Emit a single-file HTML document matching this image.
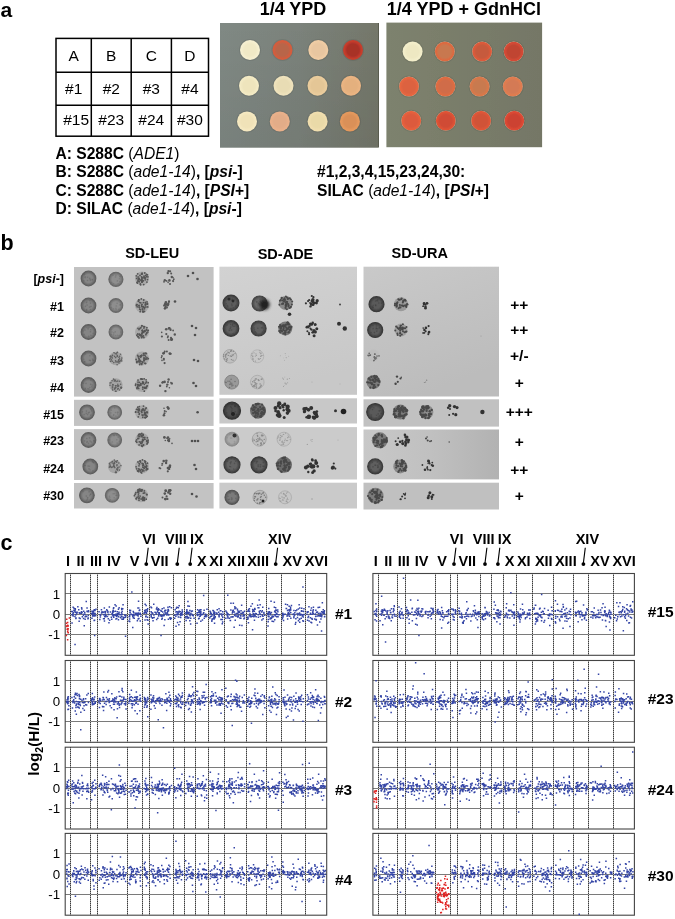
<!DOCTYPE html>
<html><head><meta charset="utf-8"><style>
html,body{margin:0;padding:0;background:#fff;width:675px;height:919px;overflow:hidden}
svg{display:block;will-change:transform;font-family:"Liberation Sans",sans-serif}
</style></head><body>
<svg width="675" height="919" viewBox="0 0 675 919">
<defs>
<linearGradient id="pl1" x1="0" y1="0" x2="1" y2="0"><stop offset="0" stop-color="#808984"/><stop offset="0.5" stop-color="#7b827b"/><stop offset="1" stop-color="#74776a"/></linearGradient>
<linearGradient id="pl1v" x1="0" y1="0" x2="0" y2="1"><stop offset="0" stop-color="#000" stop-opacity="0"/><stop offset="1" stop-color="#000" stop-opacity="0.06"/></linearGradient>
<linearGradient id="pl2" x1="0" y1="0" x2="1" y2="0"><stop offset="0" stop-color="#7d826e"/><stop offset="1" stop-color="#757766"/></linearGradient>
<filter id="soft" x="-5%" y="-5%" width="110%" height="110%"><feGaussianBlur stdDeviation="0.55"/></filter>
<filter id="soft2" x="-5%" y="-5%" width="110%" height="110%"><feGaussianBlur stdDeviation="0.4"/></filter>
<filter id="blob" x="-50%" y="-50%" width="200%" height="200%"><feGaussianBlur stdDeviation="1.6"/></filter>
<radialGradient id="c1"><stop offset="0" stop-color="#f0e9c6"/><stop offset="0.6" stop-color="#f0e9c6"/><stop offset="0.86" stop-color="#f5efd0"/><stop offset="1" stop-color="#f5efd0"/></radialGradient><radialGradient id="c2"><stop offset="0" stop-color="#b8654a"/><stop offset="0.6" stop-color="#b8654a"/><stop offset="0.86" stop-color="#d45c3c"/><stop offset="1" stop-color="#d45c3c"/></radialGradient><radialGradient id="c3"><stop offset="0" stop-color="#e8c6a0"/><stop offset="0.6" stop-color="#e8c6a0"/><stop offset="0.86" stop-color="#efcca4"/><stop offset="1" stop-color="#efcca4"/></radialGradient><radialGradient id="c4"><stop offset="0" stop-color="#a83028"/><stop offset="0.6" stop-color="#a83028"/><stop offset="0.86" stop-color="#c63c2c"/><stop offset="1" stop-color="#c63c2c"/></radialGradient><radialGradient id="c5"><stop offset="0" stop-color="#eee4bc"/><stop offset="0.6" stop-color="#eee4bc"/><stop offset="0.86" stop-color="#f3eac4"/><stop offset="1" stop-color="#f3eac4"/></radialGradient><radialGradient id="c6"><stop offset="0" stop-color="#e8dcb4"/><stop offset="0.6" stop-color="#e8dcb4"/><stop offset="0.86" stop-color="#eee2bc"/><stop offset="1" stop-color="#eee2bc"/></radialGradient><radialGradient id="c7"><stop offset="0" stop-color="#e4c696"/><stop offset="0.6" stop-color="#e4c696"/><stop offset="0.86" stop-color="#eacc9c"/><stop offset="1" stop-color="#eacc9c"/></radialGradient><radialGradient id="c8"><stop offset="0" stop-color="#e4b07e"/><stop offset="0.6" stop-color="#e4b07e"/><stop offset="0.86" stop-color="#eab482"/><stop offset="1" stop-color="#eab482"/></radialGradient><radialGradient id="c9"><stop offset="0" stop-color="#f0e2b8"/><stop offset="0.6" stop-color="#f0e2b8"/><stop offset="0.86" stop-color="#f5e8c0"/><stop offset="1" stop-color="#f5e8c0"/></radialGradient><radialGradient id="c10"><stop offset="0" stop-color="#e2ac88"/><stop offset="0.6" stop-color="#e2ac88"/><stop offset="0.86" stop-color="#e9b08a"/><stop offset="1" stop-color="#e9b08a"/></radialGradient><radialGradient id="c11"><stop offset="0" stop-color="#eadaa8"/><stop offset="0.6" stop-color="#eadaa8"/><stop offset="0.86" stop-color="#f0deae"/><stop offset="1" stop-color="#f0deae"/></radialGradient><radialGradient id="c12"><stop offset="0" stop-color="#da9058"/><stop offset="0.6" stop-color="#da9058"/><stop offset="0.86" stop-color="#e4985c"/><stop offset="1" stop-color="#e4985c"/></radialGradient><radialGradient id="c13"><stop offset="0" stop-color="#eee8c2"/><stop offset="0.6" stop-color="#eee8c2"/><stop offset="0.86" stop-color="#f3eeca"/><stop offset="1" stop-color="#f3eeca"/></radialGradient><radialGradient id="c14"><stop offset="0" stop-color="#c87850"/><stop offset="0.62" stop-color="#c87850"/><stop offset="0.84" stop-color="#dc6a40"/><stop offset="0.93" stop-color="#dc6a40"/><stop offset="1" stop-color="#e4a486"/></radialGradient><radialGradient id="c15"><stop offset="0" stop-color="#c65a3c"/><stop offset="0.62" stop-color="#c65a3c"/><stop offset="0.84" stop-color="#dc5a3a"/><stop offset="0.93" stop-color="#dc5a3a"/><stop offset="1" stop-color="#e4a486"/></radialGradient><radialGradient id="c16"><stop offset="0" stop-color="#c04432"/><stop offset="0.62" stop-color="#c04432"/><stop offset="0.84" stop-color="#d44a36"/><stop offset="0.93" stop-color="#d44a36"/><stop offset="1" stop-color="#e4a486"/></radialGradient><radialGradient id="c17"><stop offset="0" stop-color="#dc6240"/><stop offset="0.62" stop-color="#dc6240"/><stop offset="0.84" stop-color="#e66640"/><stop offset="0.93" stop-color="#e66640"/><stop offset="1" stop-color="#e4a486"/></radialGradient><radialGradient id="c18"><stop offset="0" stop-color="#d06c48"/><stop offset="0.62" stop-color="#d06c48"/><stop offset="0.84" stop-color="#de6c42"/><stop offset="0.93" stop-color="#de6c42"/><stop offset="1" stop-color="#e4a486"/></radialGradient><radialGradient id="c19"><stop offset="0" stop-color="#c87a50"/><stop offset="0.62" stop-color="#c87a50"/><stop offset="0.84" stop-color="#d8784a"/><stop offset="0.93" stop-color="#d8784a"/><stop offset="1" stop-color="#e4a486"/></radialGradient><radialGradient id="c20"><stop offset="0" stop-color="#d47a54"/><stop offset="0.62" stop-color="#d47a54"/><stop offset="0.84" stop-color="#e07c50"/><stop offset="0.93" stop-color="#e07c50"/><stop offset="1" stop-color="#e4a486"/></radialGradient><radialGradient id="c21"><stop offset="0" stop-color="#dc5a3c"/><stop offset="0.62" stop-color="#dc5a3c"/><stop offset="0.84" stop-color="#e6603c"/><stop offset="0.93" stop-color="#e6603c"/><stop offset="1" stop-color="#e4a486"/></radialGradient><radialGradient id="c22"><stop offset="0" stop-color="#d04c34"/><stop offset="0.62" stop-color="#d04c34"/><stop offset="0.84" stop-color="#de5236"/><stop offset="0.93" stop-color="#de5236"/><stop offset="1" stop-color="#e4a486"/></radialGradient><radialGradient id="c23"><stop offset="0" stop-color="#d05238"/><stop offset="0.62" stop-color="#d05238"/><stop offset="0.84" stop-color="#de5638"/><stop offset="0.93" stop-color="#de5638"/><stop offset="1" stop-color="#e4a486"/></radialGradient><radialGradient id="c24"><stop offset="0" stop-color="#cc4232"/><stop offset="0.62" stop-color="#cc4232"/><stop offset="0.84" stop-color="#dc4834"/><stop offset="0.93" stop-color="#dc4834"/><stop offset="1" stop-color="#e4a486"/></radialGradient><linearGradient id="ade1" x1="0" y1="0" x2="0.3" y2="1"><stop offset="0" stop-color="#d2d2d2"/><stop offset="1" stop-color="#c8c8c8"/></linearGradient><linearGradient id="ura1" x1="0" y1="0" x2="0.4" y2="1"><stop offset="0" stop-color="#c9c9c9"/><stop offset="1" stop-color="#bcbcbc"/></linearGradient><linearGradient id="ura3" x1="0" y1="0" x2="1" y2="0"><stop offset="0" stop-color="#c8c8c8"/><stop offset="0.5" stop-color="#c0c0c0"/><stop offset="1" stop-color="#b2b2b2"/></linearGradient><radialGradient id="sg0"><stop offset="0" stop-color="#858585"/><stop offset="0.55" stop-color="#858585"/><stop offset="1" stop-color="#5e5e5e"/></radialGradient><radialGradient id="sg1"><stop offset="0" stop-color="#8e8e8e"/><stop offset="0.55" stop-color="#8e8e8e"/><stop offset="1" stop-color="#686868"/></radialGradient><radialGradient id="sg2"><stop offset="0" stop-color="#5c5c5c"/><stop offset="0.55" stop-color="#5c5c5c"/><stop offset="1" stop-color="#3c3c3c"/></radialGradient><radialGradient id="sg3"><stop offset="0" stop-color="#6a6a6a"/><stop offset="0.55" stop-color="#6a6a6a"/><stop offset="1" stop-color="#444"/></radialGradient><radialGradient id="sg4"><stop offset="0" stop-color="#5e5e5e"/><stop offset="0.55" stop-color="#5e5e5e"/><stop offset="1" stop-color="#3a3a3a"/></radialGradient><radialGradient id="sg5"><stop offset="0" stop-color="#606060"/><stop offset="0.55" stop-color="#606060"/><stop offset="1" stop-color="#3c3c3c"/></radialGradient><radialGradient id="sg6"><stop offset="0" stop-color="#999"/><stop offset="0.55" stop-color="#999"/><stop offset="1" stop-color="#808080"/></radialGradient><radialGradient id="sg7"><stop offset="0" stop-color="#505050"/><stop offset="0.55" stop-color="#505050"/><stop offset="1" stop-color="#333"/></radialGradient><radialGradient id="sg8"><stop offset="0" stop-color="#a8a8a8"/><stop offset="0.55" stop-color="#a8a8a8"/><stop offset="1" stop-color="#888"/></radialGradient><radialGradient id="sg9"><stop offset="0" stop-color="#646464"/><stop offset="0.55" stop-color="#646464"/><stop offset="1" stop-color="#3c3c3c"/></radialGradient><radialGradient id="sg10"><stop offset="0" stop-color="#7a7a7a"/><stop offset="0.55" stop-color="#7a7a7a"/><stop offset="1" stop-color="#555"/></radialGradient><radialGradient id="sg11"><stop offset="0" stop-color="#5a5a5a"/><stop offset="0.55" stop-color="#5a5a5a"/><stop offset="1" stop-color="#3a3a3a"/></radialGradient><radialGradient id="sg12"><stop offset="0" stop-color="#5c5c5c"/><stop offset="0.55" stop-color="#5c5c5c"/><stop offset="1" stop-color="#3a3a3a"/></radialGradient><radialGradient id="sg13"><stop offset="0" stop-color="#5e5e5e"/><stop offset="0.55" stop-color="#5e5e5e"/><stop offset="1" stop-color="#3c3c3c"/></radialGradient>
</defs>
<text x="0.50" y="17.00" font-size="21" font-weight="bold" font-style="normal" text-anchor="start" fill="#000" >a</text>
<rect x="56" y="38.4" width="152.5" height="97.79999999999998" fill="none" stroke="#000" stroke-width="1.5"/>
<line x1="91.3" y1="38.4" x2="91.3" y2="136.2" stroke="#000" stroke-width="1.5"/>
<line x1="131.2" y1="38.4" x2="131.2" y2="136.2" stroke="#000" stroke-width="1.5"/>
<line x1="171.4" y1="38.4" x2="171.4" y2="136.2" stroke="#000" stroke-width="1.5"/>
<line x1="56" y1="72.2" x2="208.5" y2="72.2" stroke="#000" stroke-width="1.5"/>
<line x1="56" y1="105.2" x2="208.5" y2="105.2" stroke="#000" stroke-width="1.5"/>
<text x="73.65" y="61.40" font-size="15.5" font-weight="normal" font-style="normal" text-anchor="middle" fill="#000" >A</text>
<text x="111.25" y="61.40" font-size="15.5" font-weight="normal" font-style="normal" text-anchor="middle" fill="#000" >B</text>
<text x="151.30" y="61.40" font-size="15.5" font-weight="normal" font-style="normal" text-anchor="middle" fill="#000" >C</text>
<text x="189.95" y="61.40" font-size="15.5" font-weight="normal" font-style="normal" text-anchor="middle" fill="#000" >D</text>
<text x="73.65" y="94.10" font-size="15.5" font-weight="normal" font-style="normal" text-anchor="middle" fill="#000" >#1</text>
<text x="111.25" y="94.10" font-size="15.5" font-weight="normal" font-style="normal" text-anchor="middle" fill="#000" >#2</text>
<text x="151.30" y="94.10" font-size="15.5" font-weight="normal" font-style="normal" text-anchor="middle" fill="#000" >#3</text>
<text x="189.95" y="94.10" font-size="15.5" font-weight="normal" font-style="normal" text-anchor="middle" fill="#000" >#4</text>
<text x="76.15" y="125.10" font-size="15.5" font-weight="normal" font-style="normal" text-anchor="middle" fill="#000" >#15</text>
<text x="111.25" y="125.10" font-size="15.5" font-weight="normal" font-style="normal" text-anchor="middle" fill="#000" >#23</text>
<text x="151.30" y="125.10" font-size="15.5" font-weight="normal" font-style="normal" text-anchor="middle" fill="#000" >#24</text>
<text x="189.95" y="125.10" font-size="15.5" font-weight="normal" font-style="normal" text-anchor="middle" fill="#000" >#30</text>
<text x="55.5" y="158.5" font-size="15.6"><tspan font-weight="bold" font-style="normal">A: S288C </tspan><tspan font-weight="normal" font-style="normal">(</tspan><tspan font-weight="normal" font-style="italic">ADE1</tspan><tspan font-weight="normal" font-style="normal">)</tspan></text>
<text x="55.5" y="177.3" font-size="15.6"><tspan font-weight="bold" font-style="normal">B: S288C </tspan><tspan font-weight="normal" font-style="normal">(</tspan><tspan font-weight="normal" font-style="italic">ade1-14</tspan><tspan font-weight="normal" font-style="normal">)</tspan><tspan font-weight="bold" font-style="normal">, [</tspan><tspan font-weight="bold" font-style="italic">psi</tspan><tspan font-weight="bold" font-style="normal">-]</tspan></text>
<text x="55.5" y="195.8" font-size="15.6"><tspan font-weight="bold" font-style="normal">C: S288C </tspan><tspan font-weight="normal" font-style="normal">(</tspan><tspan font-weight="normal" font-style="italic">ade1-14</tspan><tspan font-weight="normal" font-style="normal">)</tspan><tspan font-weight="bold" font-style="normal">, [</tspan><tspan font-weight="bold" font-style="italic">PSI</tspan><tspan font-weight="bold" font-style="normal">+]</tspan></text>
<text x="55.5" y="214.2" font-size="15.6"><tspan font-weight="bold" font-style="normal">D: SILAC </tspan><tspan font-weight="normal" font-style="normal">(</tspan><tspan font-weight="normal" font-style="italic">ade1-14</tspan><tspan font-weight="normal" font-style="normal">)</tspan><tspan font-weight="bold" font-style="normal">, [</tspan><tspan font-weight="bold" font-style="italic">psi</tspan><tspan font-weight="bold" font-style="normal">-]</tspan></text>
<text x="317" y="177" font-size="15.6"><tspan font-weight="bold" font-style="normal">#1,2,3,4,15,23,24,30:</tspan></text>
<text x="317" y="195.6" font-size="15.6"><tspan font-weight="bold" font-style="normal">SILAC </tspan><tspan font-weight="normal" font-style="normal">(</tspan><tspan font-weight="normal" font-style="italic">ade1-14</tspan><tspan font-weight="normal" font-style="normal">)</tspan><tspan font-weight="bold" font-style="normal">, [</tspan><tspan font-weight="bold" font-style="italic">PSI</tspan><tspan font-weight="bold" font-style="normal">+]</tspan></text>
<text x="293.00" y="14.70" font-size="18" font-weight="bold" font-style="normal" text-anchor="middle" fill="#000" >1/4 YPD</text>
<text x="463.80" y="14.70" font-size="18" font-weight="bold" font-style="normal" text-anchor="middle" fill="#000" >1/4 YPD + GdnHCl</text>
<g filter="url(#soft)">
<rect x="220" y="23" width="158.8" height="124.7" fill="url(#pl1)"/>
<rect x="220" y="23" width="158.8" height="124.7" fill="url(#pl1v)"/>
<rect x="386.4" y="22.6" width="155.7" height="124.6" fill="url(#pl2)"/>
<line x1="378.5" y1="23" x2="378.5" y2="147" stroke="#5a5c50" stroke-width="1"/>
<circle cx="250" cy="50" r="11" fill="#000" fill-opacity="0.08"/>
<circle cx="250" cy="50" r="10" fill="url(#c1)"/>
<circle cx="282.5" cy="50" r="11" fill="#000" fill-opacity="0.08"/>
<circle cx="282.5" cy="50" r="10" fill="url(#c2)"/>
<circle cx="318.3" cy="50" r="11" fill="#000" fill-opacity="0.08"/>
<circle cx="318.3" cy="50" r="10" fill="url(#c3)"/>
<circle cx="353" cy="50" r="11" fill="#000" fill-opacity="0.08"/>
<circle cx="353" cy="50" r="10" fill="url(#c4)"/>
<circle cx="249" cy="85.8" r="11" fill="#000" fill-opacity="0.08"/>
<circle cx="249" cy="85.8" r="10" fill="url(#c5)"/>
<circle cx="283.5" cy="85.8" r="11" fill="#000" fill-opacity="0.08"/>
<circle cx="283.5" cy="85.8" r="10" fill="url(#c6)"/>
<circle cx="317.5" cy="85.8" r="11" fill="#000" fill-opacity="0.08"/>
<circle cx="317.5" cy="85.8" r="10" fill="url(#c7)"/>
<circle cx="351" cy="85.8" r="11" fill="#000" fill-opacity="0.08"/>
<circle cx="351" cy="85.8" r="10" fill="url(#c8)"/>
<circle cx="247" cy="121.4" r="11" fill="#000" fill-opacity="0.08"/>
<circle cx="247" cy="121.4" r="10" fill="url(#c9)"/>
<circle cx="279.8" cy="121.4" r="11" fill="#000" fill-opacity="0.08"/>
<circle cx="279.8" cy="121.4" r="10" fill="url(#c10)"/>
<circle cx="317.6" cy="121.4" r="11" fill="#000" fill-opacity="0.08"/>
<circle cx="317.6" cy="121.4" r="10" fill="url(#c11)"/>
<circle cx="349.9" cy="121.4" r="11" fill="#000" fill-opacity="0.08"/>
<circle cx="349.9" cy="121.4" r="10" fill="url(#c12)"/>
<circle cx="412.6" cy="51.6" r="11" fill="#000" fill-opacity="0.08"/>
<circle cx="412.6" cy="51.6" r="10" fill="url(#c13)"/>
<circle cx="444.8" cy="51.6" r="11" fill="#000" fill-opacity="0.08"/>
<circle cx="444.8" cy="51.6" r="10" fill="url(#c14)"/>
<circle cx="482.1" cy="51.6" r="11" fill="#000" fill-opacity="0.08"/>
<circle cx="482.1" cy="51.6" r="10" fill="url(#c15)"/>
<circle cx="513.7" cy="51.6" r="11" fill="#000" fill-opacity="0.08"/>
<circle cx="513.7" cy="51.6" r="10" fill="url(#c16)"/>
<circle cx="409" cy="86.6" r="11" fill="#000" fill-opacity="0.08"/>
<circle cx="409" cy="86.6" r="10" fill="url(#c17)"/>
<circle cx="445.4" cy="86.6" r="11" fill="#000" fill-opacity="0.08"/>
<circle cx="445.4" cy="86.6" r="10" fill="url(#c18)"/>
<circle cx="479.6" cy="86.6" r="11" fill="#000" fill-opacity="0.08"/>
<circle cx="479.6" cy="86.6" r="10" fill="url(#c19)"/>
<circle cx="512.8" cy="86.6" r="11" fill="#000" fill-opacity="0.08"/>
<circle cx="512.8" cy="86.6" r="10" fill="url(#c20)"/>
<circle cx="411.2" cy="120.8" r="11" fill="#000" fill-opacity="0.08"/>
<circle cx="411.2" cy="120.8" r="10" fill="url(#c21)"/>
<circle cx="445.8" cy="120.8" r="11" fill="#000" fill-opacity="0.08"/>
<circle cx="445.8" cy="120.8" r="10" fill="url(#c22)"/>
<circle cx="481.1" cy="120.8" r="11" fill="#000" fill-opacity="0.08"/>
<circle cx="481.1" cy="120.8" r="10" fill="url(#c23)"/>
<circle cx="514.3" cy="120.8" r="11" fill="#000" fill-opacity="0.08"/>
<circle cx="514.3" cy="120.8" r="10" fill="url(#c24)"/>
</g>
<text x="0.50" y="250.00" font-size="21.5" font-weight="bold" font-style="normal" text-anchor="start" fill="#000" >b</text>
<text x="152.20" y="258.20" font-size="14.5" font-weight="bold" font-style="normal" text-anchor="middle" fill="#000" >SD-LEU</text>
<text x="285.50" y="258.70" font-size="14.5" font-weight="bold" font-style="normal" text-anchor="middle" fill="#000" >SD-ADE</text>
<text x="419.80" y="257.80" font-size="14.5" font-weight="bold" font-style="normal" text-anchor="middle" fill="#000" >SD-URA</text>
<rect x="74" y="267" width="139.6" height="129.60000000000002" fill="#c2c2c2"/>
<rect x="74" y="399.8" width="139.6" height="26.099999999999966" fill="#c3c3c3"/>
<rect x="74" y="429.1" width="139.6" height="50.89999999999998" fill="#c2c2c2"/>
<rect x="74" y="483" width="139.6" height="25.5" fill="#c3c3c3"/>
<rect x="219.4" y="266.7" width="137.6" height="128.10000000000002" fill="url(#ade1)"/>
<rect x="219.4" y="398.3" width="137.6" height="25.19999999999999" fill="#c8c8c8"/>
<rect x="219.4" y="427.1" width="137.6" height="52.39999999999998" fill="#cbcbcb"/>
<rect x="219.4" y="482.7" width="137.6" height="25.80000000000001" fill="#cacaca"/>
<rect x="363.5" y="266.7" width="135.5" height="129.8" fill="url(#ura1)"/>
<rect x="363.5" y="399.3" width="135.5" height="27.30000000000001" fill="#c1c1c1"/>
<rect x="363.5" y="429.5" width="135.5" height="49.89999999999998" fill="url(#ura3)"/>
<rect x="363.5" y="482.7" width="135.5" height="26.80000000000001" fill="#c0c0c0"/>
<text x="64.00" y="282.80" font-size="12.5" font-weight="bold" font-style="normal" text-anchor="end" fill="#000" >[<tspan font-style="italic">psi</tspan>-]</text>
<text x="64.00" y="311.10" font-size="12.5" font-weight="bold" font-style="normal" text-anchor="end" fill="#000" >#1</text>
<text x="64.00" y="336.80" font-size="12.5" font-weight="bold" font-style="normal" text-anchor="end" fill="#000" >#2</text>
<text x="64.00" y="364.80" font-size="12.5" font-weight="bold" font-style="normal" text-anchor="end" fill="#000" >#3</text>
<text x="64.00" y="391.60" font-size="12.5" font-weight="bold" font-style="normal" text-anchor="end" fill="#000" >#4</text>
<text x="64.00" y="418.60" font-size="12.5" font-weight="bold" font-style="normal" text-anchor="end" fill="#000" >#15</text>
<text x="64.00" y="444.80" font-size="12.5" font-weight="bold" font-style="normal" text-anchor="end" fill="#000" >#23</text>
<text x="64.00" y="472.80" font-size="12.5" font-weight="bold" font-style="normal" text-anchor="end" fill="#000" >#24</text>
<text x="64.00" y="499.50" font-size="12.5" font-weight="bold" font-style="normal" text-anchor="end" fill="#000" >#30</text>
<text x="519.30" y="310.00" font-size="15.5" font-weight="bold" font-style="normal" text-anchor="middle" fill="#000" >++</text>
<text x="519.30" y="335.20" font-size="15.5" font-weight="bold" font-style="normal" text-anchor="middle" fill="#000" >++</text>
<text x="519.30" y="360.70" font-size="15.5" font-weight="bold" font-style="normal" text-anchor="middle" fill="#000" >+/-</text>
<text x="519.30" y="387.50" font-size="15.5" font-weight="bold" font-style="normal" text-anchor="middle" fill="#000" >+</text>
<text x="519.30" y="417.30" font-size="15.5" font-weight="bold" font-style="normal" text-anchor="middle" fill="#000" >+++</text>
<text x="519.30" y="447.30" font-size="15.5" font-weight="bold" font-style="normal" text-anchor="middle" fill="#000" >+</text>
<text x="519.30" y="474.90" font-size="15.5" font-weight="bold" font-style="normal" text-anchor="middle" fill="#000" >++</text>
<text x="519.30" y="501.00" font-size="15.5" font-weight="bold" font-style="normal" text-anchor="middle" fill="#000" >+</text>
<g filter="url(#soft2)">
<circle cx="88.5" cy="278.5" r="7.3" fill="url(#sg0)" stroke="#5e5e5e" stroke-width="1.2"/>
<g fill="#5e5e5e" fill-opacity="0.45"><circle cx="87.5" cy="280.5" r="0.8"/><circle cx="87.6" cy="277.2" r="0.8"/><circle cx="85.1" cy="277.7" r="0.8"/><circle cx="92.4" cy="280.0" r="0.8"/><circle cx="92.2" cy="279.4" r="0.8"/><circle cx="90.1" cy="279.2" r="0.8"/><circle cx="83.8" cy="280.9" r="0.8"/><circle cx="90.5" cy="280.4" r="0.8"/><circle cx="84.5" cy="274.4" r="0.8"/><circle cx="85.2" cy="276.8" r="0.8"/><circle cx="89.7" cy="278.3" r="0.8"/></g>
<circle cx="88.5" cy="305.5" r="7.3" fill="url(#sg0)" stroke="#5e5e5e" stroke-width="1.2"/>
<g fill="#5e5e5e" fill-opacity="0.45"><circle cx="90.5" cy="303.1" r="0.8"/><circle cx="89.7" cy="307.1" r="0.8"/><circle cx="86.6" cy="310.4" r="0.8"/><circle cx="90.4" cy="309.5" r="0.8"/><circle cx="86.2" cy="302.8" r="0.8"/><circle cx="87.1" cy="305.1" r="0.8"/><circle cx="91.0" cy="306.5" r="0.8"/><circle cx="86.9" cy="302.0" r="0.8"/><circle cx="86.7" cy="309.6" r="0.8"/><circle cx="85.4" cy="306.4" r="0.8"/><circle cx="89.8" cy="300.8" r="0.8"/></g>
<circle cx="88.5" cy="332" r="7.3" fill="url(#sg0)" stroke="#5e5e5e" stroke-width="1.2"/>
<g fill="#5e5e5e" fill-opacity="0.45"><circle cx="88.7" cy="336.4" r="0.8"/><circle cx="83.1" cy="331.1" r="0.8"/><circle cx="88.1" cy="328.9" r="0.8"/><circle cx="90.5" cy="331.8" r="0.8"/><circle cx="84.1" cy="334.5" r="0.8"/><circle cx="90.9" cy="335.3" r="0.8"/><circle cx="93.1" cy="333.2" r="0.8"/><circle cx="88.9" cy="327.6" r="0.8"/><circle cx="90.8" cy="329.7" r="0.8"/><circle cx="87.0" cy="327.8" r="0.8"/><circle cx="85.0" cy="330.1" r="0.8"/></g>
<circle cx="88.5" cy="358.5" r="7.3" fill="url(#sg0)" stroke="#5e5e5e" stroke-width="1.2"/>
<g fill="#5e5e5e" fill-opacity="0.45"><circle cx="91.5" cy="353.7" r="0.8"/><circle cx="83.8" cy="359.3" r="0.8"/><circle cx="93.0" cy="360.3" r="0.8"/><circle cx="85.0" cy="353.9" r="0.8"/><circle cx="89.9" cy="355.7" r="0.8"/><circle cx="84.9" cy="361.6" r="0.8"/><circle cx="92.4" cy="359.1" r="0.8"/><circle cx="89.5" cy="360.2" r="0.8"/><circle cx="93.3" cy="360.4" r="0.8"/><circle cx="90.5" cy="360.6" r="0.8"/><circle cx="84.3" cy="362.0" r="0.8"/></g>
<circle cx="88.5" cy="385" r="7.3" fill="url(#sg0)" stroke="#5e5e5e" stroke-width="1.2"/>
<g fill="#5e5e5e" fill-opacity="0.45"><circle cx="91.9" cy="386.9" r="0.8"/><circle cx="83.3" cy="383.3" r="0.8"/><circle cx="90.8" cy="380.1" r="0.8"/><circle cx="87.8" cy="388.7" r="0.8"/><circle cx="85.0" cy="389.3" r="0.8"/><circle cx="90.7" cy="384.4" r="0.8"/><circle cx="89.8" cy="387.5" r="0.8"/><circle cx="88.9" cy="389.0" r="0.8"/><circle cx="86.0" cy="383.4" r="0.8"/><circle cx="92.3" cy="385.1" r="0.8"/><circle cx="85.5" cy="388.2" r="0.8"/></g>
<circle cx="87.0" cy="412.3" r="7.3" fill="url(#sg0)" stroke="#5e5e5e" stroke-width="1.2"/>
<g fill="#5e5e5e" fill-opacity="0.45"><circle cx="91.6" cy="410.9" r="0.8"/><circle cx="82.4" cy="411.9" r="0.8"/><circle cx="86.4" cy="411.1" r="0.8"/><circle cx="91.2" cy="409.3" r="0.8"/><circle cx="90.7" cy="408.6" r="0.8"/><circle cx="84.1" cy="414.6" r="0.8"/><circle cx="90.7" cy="415.1" r="0.8"/><circle cx="88.4" cy="412.9" r="0.8"/><circle cx="87.6" cy="414.6" r="0.8"/><circle cx="86.3" cy="413.4" r="0.8"/><circle cx="89.3" cy="412.3" r="0.8"/></g>
<circle cx="88.5" cy="440" r="7.3" fill="url(#sg0)" stroke="#5e5e5e" stroke-width="1.2"/>
<g fill="#5e5e5e" fill-opacity="0.45"><circle cx="91.3" cy="442.1" r="0.8"/><circle cx="93.9" cy="440.9" r="0.8"/><circle cx="86.8" cy="438.5" r="0.8"/><circle cx="88.5" cy="443.4" r="0.8"/><circle cx="87.2" cy="441.5" r="0.8"/><circle cx="91.9" cy="435.3" r="0.8"/><circle cx="84.5" cy="440.9" r="0.8"/><circle cx="90.1" cy="441.0" r="0.8"/><circle cx="86.8" cy="442.5" r="0.8"/><circle cx="89.6" cy="437.9" r="0.8"/><circle cx="94.1" cy="440.8" r="0.8"/></g>
<circle cx="90.3" cy="466.5" r="7.3" fill="url(#sg0)" stroke="#5e5e5e" stroke-width="1.2"/>
<g fill="#5e5e5e" fill-opacity="0.45"><circle cx="88.1" cy="466.1" r="0.8"/><circle cx="89.4" cy="466.2" r="0.8"/><circle cx="84.6" cy="465.5" r="0.8"/><circle cx="93.5" cy="462.8" r="0.8"/><circle cx="90.1" cy="470.0" r="0.8"/><circle cx="92.9" cy="470.9" r="0.8"/><circle cx="85.3" cy="465.5" r="0.8"/><circle cx="89.0" cy="468.9" r="0.8"/><circle cx="92.5" cy="461.1" r="0.8"/><circle cx="93.5" cy="462.3" r="0.8"/><circle cx="92.4" cy="461.9" r="0.8"/></g>
<circle cx="86.9" cy="495.3" r="7.3" fill="url(#sg0)" stroke="#5e5e5e" stroke-width="1.2"/>
<g fill="#5e5e5e" fill-opacity="0.45"><circle cx="87.5" cy="499.5" r="0.8"/><circle cx="86.3" cy="496.1" r="0.8"/><circle cx="89.9" cy="495.8" r="0.8"/><circle cx="86.6" cy="500.2" r="0.8"/><circle cx="90.7" cy="494.2" r="0.8"/><circle cx="92.3" cy="493.1" r="0.8"/><circle cx="90.3" cy="494.3" r="0.8"/><circle cx="87.4" cy="498.0" r="0.8"/><circle cx="87.8" cy="497.8" r="0.8"/><circle cx="83.0" cy="491.4" r="0.8"/><circle cx="89.1" cy="491.9" r="0.8"/></g>
<circle cx="115.9" cy="279.3" r="7" fill="url(#sg1)" stroke="#686868" stroke-width="1.2"/>
<g fill="#686868" fill-opacity="0.45"><circle cx="113.0" cy="275.2" r="0.8"/><circle cx="119.8" cy="281.6" r="0.8"/><circle cx="120.1" cy="276.6" r="0.8"/><circle cx="115.9" cy="275.4" r="0.8"/><circle cx="118.1" cy="283.8" r="0.8"/><circle cx="113.4" cy="283.7" r="0.8"/><circle cx="119.4" cy="278.7" r="0.8"/><circle cx="111.5" cy="282.5" r="0.8"/><circle cx="115.5" cy="277.0" r="0.8"/><circle cx="117.4" cy="280.9" r="0.8"/><circle cx="120.1" cy="276.5" r="0.8"/></g>
<circle cx="115.9" cy="305.5" r="6.8" fill="url(#sg1)" stroke="#686868" stroke-width="1.2"/>
<g fill="#686868" fill-opacity="0.45"><circle cx="118.9" cy="309.4" r="0.8"/><circle cx="120.3" cy="305.0" r="0.8"/><circle cx="113.5" cy="308.8" r="0.8"/><circle cx="116.3" cy="306.0" r="0.8"/><circle cx="120.2" cy="304.7" r="0.8"/><circle cx="110.7" cy="304.6" r="0.8"/><circle cx="111.3" cy="307.6" r="0.8"/><circle cx="117.1" cy="303.3" r="0.8"/><circle cx="115.9" cy="308.4" r="0.8"/><circle cx="116.1" cy="309.7" r="0.8"/></g>
<circle cx="115.9" cy="332" r="6.8" fill="url(#sg1)" stroke="#686868" stroke-width="1.2"/>
<g fill="#686868" fill-opacity="0.45"><circle cx="115.7" cy="335.5" r="0.8"/><circle cx="119.4" cy="335.8" r="0.8"/><circle cx="113.7" cy="334.9" r="0.8"/><circle cx="111.4" cy="329.4" r="0.8"/><circle cx="111.3" cy="334.5" r="0.8"/><circle cx="111.9" cy="332.0" r="0.8"/><circle cx="115.2" cy="331.9" r="0.8"/><circle cx="113.7" cy="332.9" r="0.8"/><circle cx="120.8" cy="332.1" r="0.8"/><circle cx="117.7" cy="335.3" r="0.8"/></g>
<circle cx="115.9" cy="358.5" r="6.8" fill="#a4a4a4"/>
<g fill="#606060"><circle cx="115.2" cy="353.7" r="0.8"/><circle cx="113.8" cy="362.6" r="0.8"/><circle cx="110.5" cy="356.5" r="0.8"/><circle cx="119.7" cy="361.5" r="0.8"/><circle cx="115.9" cy="361.9" r="0.8"/><circle cx="116.5" cy="353.9" r="0.8"/><circle cx="110.7" cy="356.4" r="0.8"/><circle cx="119.6" cy="356.3" r="0.8"/><circle cx="112.4" cy="355.5" r="0.8"/><circle cx="110.5" cy="358.1" r="0.8"/><circle cx="111.4" cy="359.9" r="0.8"/><circle cx="109.7" cy="359.4" r="0.8"/><circle cx="114.0" cy="352.8" r="0.8"/><circle cx="119.0" cy="357.3" r="0.8"/><circle cx="110.1" cy="356.2" r="0.8"/><circle cx="117.2" cy="356.5" r="0.8"/><circle cx="119.0" cy="361.5" r="0.8"/><circle cx="118.7" cy="359.9" r="0.8"/><circle cx="120.6" cy="360.8" r="0.8"/><circle cx="117.2" cy="352.5" r="0.8"/><circle cx="119.0" cy="363.0" r="0.8"/><circle cx="114.6" cy="356.4" r="0.8"/><circle cx="120.6" cy="354.2" r="0.8"/><circle cx="117.1" cy="364.7" r="0.8"/><circle cx="112.3" cy="361.2" r="0.8"/><circle cx="121.8" cy="358.1" r="0.8"/><circle cx="118.1" cy="362.1" r="0.8"/><circle cx="112.2" cy="358.1" r="0.8"/><circle cx="117.1" cy="361.9" r="0.8"/><circle cx="115.7" cy="357.6" r="0.8"/><circle cx="111.9" cy="357.1" r="0.8"/><circle cx="119.6" cy="358.9" r="0.8"/><circle cx="112.6" cy="355.3" r="0.8"/><circle cx="121.8" cy="361.0" r="0.8"/><circle cx="117.4" cy="352.3" r="0.8"/><circle cx="118.5" cy="360.5" r="0.8"/><circle cx="121.4" cy="359.9" r="0.8"/><circle cx="115.6" cy="360.8" r="0.8"/><circle cx="110.5" cy="361.4" r="0.8"/><circle cx="117.3" cy="355.5" r="0.8"/></g>
<circle cx="115.9" cy="385" r="6.8" fill="#a4a4a4"/>
<g fill="#606060"><circle cx="119.6" cy="390.0" r="0.8"/><circle cx="111.0" cy="382.7" r="0.8"/><circle cx="117.2" cy="385.8" r="0.8"/><circle cx="114.3" cy="381.1" r="0.8"/><circle cx="121.5" cy="387.7" r="0.8"/><circle cx="112.1" cy="380.7" r="0.8"/><circle cx="121.1" cy="388.0" r="0.8"/><circle cx="121.4" cy="387.4" r="0.8"/><circle cx="112.3" cy="386.1" r="0.8"/><circle cx="110.0" cy="383.0" r="0.8"/><circle cx="115.6" cy="387.3" r="0.8"/><circle cx="112.8" cy="384.5" r="0.8"/><circle cx="117.9" cy="386.6" r="0.8"/><circle cx="118.7" cy="385.9" r="0.8"/><circle cx="114.5" cy="388.3" r="0.8"/><circle cx="116.1" cy="381.5" r="0.8"/><circle cx="113.2" cy="385.0" r="0.8"/><circle cx="115.4" cy="385.7" r="0.8"/><circle cx="115.9" cy="385.8" r="0.8"/><circle cx="115.4" cy="380.2" r="0.8"/><circle cx="117.6" cy="389.1" r="0.8"/><circle cx="117.8" cy="384.2" r="0.8"/><circle cx="117.7" cy="381.1" r="0.8"/><circle cx="110.0" cy="385.2" r="0.8"/><circle cx="112.3" cy="387.9" r="0.8"/><circle cx="113.5" cy="379.1" r="0.8"/><circle cx="112.7" cy="389.9" r="0.8"/><circle cx="114.5" cy="380.0" r="0.8"/><circle cx="112.8" cy="387.1" r="0.8"/><circle cx="118.1" cy="385.8" r="0.8"/><circle cx="120.9" cy="387.4" r="0.8"/><circle cx="115.8" cy="387.6" r="0.8"/><circle cx="121.0" cy="388.0" r="0.8"/><circle cx="119.5" cy="381.2" r="0.8"/><circle cx="115.3" cy="388.1" r="0.8"/><circle cx="114.7" cy="389.2" r="0.8"/><circle cx="118.3" cy="388.6" r="0.8"/><circle cx="115.4" cy="391.3" r="0.8"/><circle cx="120.6" cy="384.2" r="0.8"/><circle cx="116.1" cy="391.3" r="0.8"/></g>
<circle cx="114.7" cy="412.3" r="6.8" fill="url(#sg1)" stroke="#686868" stroke-width="1.2"/>
<g fill="#686868" fill-opacity="0.45"><circle cx="113.5" cy="415.3" r="0.8"/><circle cx="118.1" cy="412.3" r="0.8"/><circle cx="110.9" cy="412.9" r="0.8"/><circle cx="115.9" cy="416.0" r="0.8"/><circle cx="117.5" cy="412.4" r="0.8"/><circle cx="117.6" cy="414.1" r="0.8"/><circle cx="115.5" cy="412.5" r="0.8"/><circle cx="113.8" cy="414.8" r="0.8"/><circle cx="111.3" cy="410.3" r="0.8"/><circle cx="114.7" cy="407.9" r="0.8"/></g>
<circle cx="114.7" cy="440" r="6.8" fill="url(#sg1)" stroke="#686868" stroke-width="1.2"/>
<g fill="#686868" fill-opacity="0.45"><circle cx="113.6" cy="435.0" r="0.8"/><circle cx="112.3" cy="442.0" r="0.8"/><circle cx="116.8" cy="439.8" r="0.8"/><circle cx="114.0" cy="435.7" r="0.8"/><circle cx="119.5" cy="441.4" r="0.8"/><circle cx="118.1" cy="437.3" r="0.8"/><circle cx="114.2" cy="435.1" r="0.8"/><circle cx="117.2" cy="443.0" r="0.8"/><circle cx="109.7" cy="439.9" r="0.8"/><circle cx="116.4" cy="435.3" r="0.8"/></g>
<circle cx="114.7" cy="466.5" r="6.8" fill="#a4a4a4"/>
<g fill="#606060"><circle cx="109.4" cy="463.4" r="0.8"/><circle cx="112.5" cy="461.6" r="0.8"/><circle cx="114.8" cy="467.6" r="0.8"/><circle cx="117.3" cy="469.4" r="0.8"/><circle cx="119.4" cy="470.1" r="0.8"/><circle cx="109.9" cy="464.7" r="0.8"/><circle cx="111.0" cy="462.7" r="0.8"/><circle cx="114.3" cy="466.5" r="0.8"/><circle cx="116.3" cy="461.2" r="0.8"/><circle cx="110.0" cy="466.4" r="0.8"/><circle cx="113.8" cy="465.1" r="0.8"/><circle cx="114.4" cy="463.3" r="0.8"/><circle cx="117.7" cy="468.0" r="0.8"/><circle cx="114.3" cy="463.6" r="0.8"/><circle cx="114.3" cy="460.1" r="0.8"/><circle cx="110.7" cy="466.7" r="0.8"/><circle cx="109.4" cy="467.2" r="0.8"/><circle cx="115.2" cy="461.5" r="0.8"/><circle cx="113.6" cy="465.1" r="0.8"/><circle cx="116.7" cy="469.1" r="0.8"/><circle cx="114.5" cy="462.9" r="0.8"/><circle cx="114.0" cy="466.2" r="0.8"/><circle cx="117.8" cy="467.7" r="0.8"/><circle cx="112.2" cy="461.8" r="0.8"/><circle cx="113.1" cy="463.4" r="0.8"/><circle cx="110.3" cy="466.0" r="0.8"/><circle cx="112.5" cy="467.0" r="0.8"/><circle cx="117.0" cy="464.7" r="0.8"/><circle cx="120.9" cy="465.6" r="0.8"/><circle cx="119.1" cy="467.0" r="0.8"/><circle cx="117.4" cy="460.7" r="0.8"/><circle cx="111.5" cy="467.5" r="0.8"/><circle cx="116.3" cy="472.6" r="0.8"/><circle cx="115.9" cy="471.3" r="0.8"/><circle cx="117.6" cy="470.1" r="0.8"/><circle cx="116.9" cy="465.8" r="0.8"/><circle cx="116.7" cy="462.3" r="0.8"/><circle cx="118.8" cy="463.0" r="0.8"/><circle cx="115.4" cy="472.6" r="0.8"/><circle cx="113.7" cy="466.6" r="0.8"/></g>
<circle cx="112.2" cy="495.3" r="6.8" fill="url(#sg1)" stroke="#686868" stroke-width="1.2"/>
<g fill="#686868" fill-opacity="0.45"><circle cx="116.0" cy="495.4" r="0.8"/><circle cx="109.4" cy="496.2" r="0.8"/><circle cx="114.2" cy="497.8" r="0.8"/><circle cx="110.2" cy="499.9" r="0.8"/><circle cx="116.9" cy="495.4" r="0.8"/><circle cx="113.2" cy="493.7" r="0.8"/><circle cx="116.3" cy="493.2" r="0.8"/><circle cx="114.6" cy="493.6" r="0.8"/><circle cx="109.8" cy="497.8" r="0.8"/><circle cx="116.4" cy="495.3" r="0.8"/></g>
<circle cx="142" cy="278.5" r="7" fill="#a8a8a8"/>
<g fill="#555"><circle cx="139.2" cy="281.8" r="0.9"/><circle cx="141.8" cy="279.9" r="0.9"/><circle cx="146.9" cy="282.1" r="0.9"/><circle cx="140.6" cy="284.8" r="0.9"/><circle cx="142.0" cy="281.9" r="0.9"/><circle cx="139.1" cy="278.3" r="0.9"/><circle cx="137.5" cy="283.1" r="0.9"/><circle cx="146.5" cy="274.5" r="0.9"/><circle cx="137.7" cy="273.8" r="0.9"/><circle cx="146.6" cy="276.7" r="0.9"/><circle cx="141.7" cy="277.0" r="0.9"/><circle cx="141.5" cy="274.1" r="0.9"/><circle cx="142.1" cy="273.2" r="0.9"/><circle cx="141.7" cy="279.9" r="0.9"/><circle cx="144.1" cy="277.4" r="0.9"/><circle cx="138.2" cy="279.2" r="0.9"/><circle cx="140.3" cy="284.0" r="0.9"/><circle cx="145.4" cy="278.0" r="0.9"/><circle cx="140.0" cy="275.5" r="0.9"/><circle cx="138.1" cy="277.0" r="0.9"/><circle cx="143.3" cy="280.8" r="0.9"/><circle cx="143.7" cy="284.6" r="0.9"/><circle cx="138.9" cy="278.6" r="0.9"/><circle cx="147.5" cy="274.8" r="0.9"/><circle cx="139.6" cy="279.3" r="0.9"/><circle cx="142.7" cy="280.4" r="0.9"/><circle cx="140.9" cy="280.2" r="0.9"/><circle cx="142.2" cy="281.9" r="0.9"/><circle cx="136.3" cy="275.8" r="0.9"/><circle cx="142.0" cy="274.2" r="0.9"/><circle cx="137.9" cy="281.0" r="0.9"/><circle cx="139.2" cy="281.2" r="0.9"/><circle cx="145.2" cy="279.8" r="0.9"/><circle cx="144.3" cy="278.0" r="0.9"/><circle cx="136.7" cy="278.4" r="0.9"/><circle cx="144.0" cy="276.2" r="0.9"/><circle cx="141.6" cy="281.8" r="0.9"/><circle cx="138.4" cy="281.1" r="0.9"/><circle cx="147.9" cy="276.8" r="0.9"/><circle cx="142.7" cy="277.8" r="0.9"/><circle cx="147.5" cy="279.6" r="0.9"/><circle cx="145.6" cy="275.7" r="0.9"/><circle cx="141.9" cy="278.5" r="0.9"/><circle cx="137.0" cy="282.5" r="0.9"/><circle cx="144.8" cy="273.0" r="0.9"/></g>
<circle cx="142" cy="305.5" r="7" fill="#a8a8a8"/>
<g fill="#555"><circle cx="145.3" cy="304.9" r="0.9"/><circle cx="144.0" cy="307.2" r="0.9"/><circle cx="136.6" cy="304.7" r="0.9"/><circle cx="147.3" cy="303.5" r="0.9"/><circle cx="138.5" cy="300.9" r="0.9"/><circle cx="137.2" cy="306.8" r="0.9"/><circle cx="147.7" cy="306.9" r="0.9"/><circle cx="142.7" cy="311.8" r="0.9"/><circle cx="139.8" cy="302.6" r="0.9"/><circle cx="144.3" cy="307.9" r="0.9"/><circle cx="138.4" cy="301.3" r="0.9"/><circle cx="143.3" cy="306.6" r="0.9"/><circle cx="137.0" cy="304.7" r="0.9"/><circle cx="139.6" cy="307.5" r="0.9"/><circle cx="141.5" cy="305.1" r="0.9"/><circle cx="140.6" cy="309.8" r="0.9"/><circle cx="147.2" cy="304.1" r="0.9"/><circle cx="145.4" cy="302.4" r="0.9"/><circle cx="142.3" cy="308.8" r="0.9"/><circle cx="147.4" cy="304.1" r="0.9"/><circle cx="141.7" cy="306.4" r="0.9"/><circle cx="136.5" cy="305.6" r="0.9"/><circle cx="139.0" cy="307.1" r="0.9"/><circle cx="138.8" cy="299.9" r="0.9"/><circle cx="142.2" cy="306.7" r="0.9"/><circle cx="139.7" cy="309.2" r="0.9"/><circle cx="140.8" cy="302.8" r="0.9"/><circle cx="143.7" cy="300.0" r="0.9"/><circle cx="139.0" cy="305.4" r="0.9"/><circle cx="145.6" cy="304.8" r="0.9"/><circle cx="143.4" cy="302.6" r="0.9"/><circle cx="143.0" cy="311.2" r="0.9"/><circle cx="140.2" cy="311.7" r="0.9"/><circle cx="139.1" cy="305.6" r="0.9"/><circle cx="142.7" cy="309.7" r="0.9"/><circle cx="138.7" cy="299.9" r="0.9"/><circle cx="144.5" cy="308.8" r="0.9"/><circle cx="143.5" cy="311.9" r="0.9"/><circle cx="143.0" cy="306.7" r="0.9"/><circle cx="145.9" cy="307.0" r="0.9"/><circle cx="147.0" cy="301.8" r="0.9"/><circle cx="141.3" cy="298.9" r="0.9"/><circle cx="145.5" cy="303.9" r="0.9"/><circle cx="144.5" cy="311.4" r="0.9"/><circle cx="142.0" cy="304.3" r="0.9"/></g>
<circle cx="142" cy="332" r="7" fill="#a8a8a8"/>
<g fill="#555"><circle cx="139.9" cy="328.5" r="0.9"/><circle cx="139.3" cy="334.7" r="0.9"/><circle cx="142.2" cy="332.3" r="0.9"/><circle cx="141.3" cy="335.9" r="0.9"/><circle cx="144.2" cy="331.4" r="0.9"/><circle cx="145.0" cy="331.3" r="0.9"/><circle cx="138.3" cy="336.7" r="0.9"/><circle cx="143.9" cy="328.1" r="0.9"/><circle cx="146.4" cy="333.4" r="0.9"/><circle cx="137.6" cy="336.6" r="0.9"/><circle cx="143.4" cy="335.8" r="0.9"/><circle cx="142.9" cy="331.3" r="0.9"/><circle cx="136.9" cy="335.2" r="0.9"/><circle cx="142.1" cy="330.7" r="0.9"/><circle cx="143.6" cy="332.4" r="0.9"/><circle cx="145.0" cy="330.4" r="0.9"/><circle cx="141.9" cy="325.7" r="0.9"/><circle cx="140.2" cy="334.9" r="0.9"/><circle cx="147.0" cy="330.6" r="0.9"/><circle cx="141.6" cy="337.6" r="0.9"/><circle cx="140.6" cy="335.2" r="0.9"/><circle cx="147.8" cy="332.1" r="0.9"/><circle cx="146.6" cy="329.3" r="0.9"/><circle cx="143.0" cy="331.6" r="0.9"/><circle cx="142.5" cy="336.6" r="0.9"/><circle cx="148.3" cy="330.3" r="0.9"/><circle cx="139.5" cy="334.2" r="0.9"/><circle cx="137.8" cy="334.0" r="0.9"/><circle cx="144.6" cy="330.8" r="0.9"/><circle cx="143.9" cy="326.6" r="0.9"/><circle cx="144.6" cy="326.8" r="0.9"/><circle cx="139.0" cy="329.6" r="0.9"/><circle cx="140.3" cy="335.6" r="0.9"/><circle cx="142.4" cy="330.2" r="0.9"/><circle cx="143.9" cy="337.5" r="0.9"/><circle cx="142.0" cy="333.7" r="0.9"/><circle cx="146.8" cy="333.0" r="0.9"/><circle cx="139.0" cy="337.9" r="0.9"/><circle cx="146.9" cy="327.6" r="0.9"/><circle cx="141.8" cy="333.9" r="0.9"/><circle cx="145.9" cy="334.7" r="0.9"/><circle cx="140.9" cy="327.7" r="0.9"/><circle cx="142.4" cy="336.3" r="0.9"/><circle cx="138.0" cy="328.3" r="0.9"/><circle cx="141.9" cy="325.9" r="0.9"/></g>
<circle cx="142" cy="358.5" r="7" fill="#a8a8a8"/>
<g fill="#555"><circle cx="140.8" cy="356.5" r="0.9"/><circle cx="143.9" cy="355.5" r="0.9"/><circle cx="138.3" cy="356.8" r="0.9"/><circle cx="141.8" cy="355.5" r="0.9"/><circle cx="142.1" cy="361.8" r="0.9"/><circle cx="145.6" cy="363.6" r="0.9"/><circle cx="138.7" cy="356.7" r="0.9"/><circle cx="136.7" cy="362.5" r="0.9"/><circle cx="138.8" cy="358.4" r="0.9"/><circle cx="143.9" cy="353.5" r="0.9"/><circle cx="144.1" cy="358.4" r="0.9"/><circle cx="136.1" cy="359.5" r="0.9"/><circle cx="145.4" cy="353.1" r="0.9"/><circle cx="145.5" cy="359.4" r="0.9"/><circle cx="144.1" cy="360.5" r="0.9"/><circle cx="147.0" cy="357.6" r="0.9"/><circle cx="145.7" cy="356.8" r="0.9"/><circle cx="145.0" cy="355.2" r="0.9"/><circle cx="141.6" cy="364.4" r="0.9"/><circle cx="144.0" cy="357.8" r="0.9"/><circle cx="137.7" cy="355.5" r="0.9"/><circle cx="142.8" cy="362.5" r="0.9"/><circle cx="143.9" cy="360.8" r="0.9"/><circle cx="141.8" cy="363.6" r="0.9"/><circle cx="140.3" cy="356.1" r="0.9"/><circle cx="145.8" cy="358.8" r="0.9"/><circle cx="140.8" cy="355.9" r="0.9"/><circle cx="140.9" cy="361.3" r="0.9"/><circle cx="143.4" cy="353.8" r="0.9"/><circle cx="144.0" cy="359.3" r="0.9"/><circle cx="138.1" cy="361.5" r="0.9"/><circle cx="140.7" cy="357.0" r="0.9"/><circle cx="144.9" cy="363.2" r="0.9"/><circle cx="139.0" cy="360.4" r="0.9"/><circle cx="139.7" cy="364.6" r="0.9"/><circle cx="140.1" cy="363.1" r="0.9"/><circle cx="139.3" cy="361.9" r="0.9"/><circle cx="146.4" cy="353.5" r="0.9"/><circle cx="140.1" cy="360.7" r="0.9"/><circle cx="141.6" cy="355.5" r="0.9"/><circle cx="148.3" cy="358.7" r="0.9"/><circle cx="136.7" cy="361.3" r="0.9"/><circle cx="136.8" cy="362.0" r="0.9"/><circle cx="139.4" cy="359.2" r="0.9"/><circle cx="146.9" cy="359.0" r="0.9"/></g>
<circle cx="142" cy="385" r="7" fill="#a8a8a8"/>
<g fill="#555"><circle cx="138.0" cy="380.1" r="0.9"/><circle cx="146.4" cy="387.8" r="0.9"/><circle cx="138.7" cy="388.4" r="0.9"/><circle cx="144.2" cy="387.8" r="0.9"/><circle cx="135.7" cy="384.2" r="0.9"/><circle cx="145.6" cy="387.9" r="0.9"/><circle cx="144.2" cy="378.8" r="0.9"/><circle cx="142.8" cy="387.2" r="0.9"/><circle cx="148.2" cy="382.7" r="0.9"/><circle cx="140.5" cy="385.2" r="0.9"/><circle cx="145.7" cy="383.1" r="0.9"/><circle cx="146.3" cy="382.0" r="0.9"/><circle cx="143.2" cy="382.6" r="0.9"/><circle cx="142.7" cy="381.9" r="0.9"/><circle cx="137.0" cy="388.5" r="0.9"/><circle cx="143.4" cy="382.5" r="0.9"/><circle cx="142.8" cy="389.1" r="0.9"/><circle cx="137.9" cy="384.5" r="0.9"/><circle cx="144.4" cy="387.3" r="0.9"/><circle cx="141.0" cy="378.8" r="0.9"/><circle cx="146.8" cy="386.3" r="0.9"/><circle cx="142.1" cy="383.7" r="0.9"/><circle cx="143.2" cy="383.1" r="0.9"/><circle cx="138.0" cy="382.1" r="0.9"/><circle cx="139.4" cy="382.4" r="0.9"/><circle cx="137.6" cy="387.4" r="0.9"/><circle cx="137.2" cy="387.4" r="0.9"/><circle cx="137.8" cy="386.4" r="0.9"/><circle cx="147.2" cy="385.8" r="0.9"/><circle cx="138.8" cy="385.2" r="0.9"/><circle cx="142.5" cy="379.1" r="0.9"/><circle cx="139.3" cy="385.7" r="0.9"/><circle cx="139.9" cy="385.4" r="0.9"/><circle cx="145.0" cy="388.2" r="0.9"/><circle cx="145.7" cy="387.4" r="0.9"/><circle cx="140.7" cy="384.9" r="0.9"/><circle cx="140.8" cy="383.6" r="0.9"/><circle cx="141.4" cy="379.2" r="0.9"/><circle cx="140.5" cy="384.9" r="0.9"/><circle cx="137.9" cy="384.9" r="0.9"/><circle cx="144.3" cy="384.3" r="0.9"/><circle cx="146.1" cy="379.8" r="0.9"/><circle cx="141.3" cy="379.0" r="0.9"/><circle cx="144.3" cy="391.2" r="0.9"/><circle cx="135.5" cy="385.3" r="0.9"/></g>
<circle cx="142" cy="412.3" r="7" fill="#a8a8a8"/>
<g fill="#555"><circle cx="144.3" cy="410.9" r="0.9"/><circle cx="143.5" cy="406.1" r="0.9"/><circle cx="145.6" cy="413.9" r="0.9"/><circle cx="142.1" cy="409.7" r="0.9"/><circle cx="144.8" cy="410.2" r="0.9"/><circle cx="143.0" cy="410.0" r="0.9"/><circle cx="135.6" cy="412.2" r="0.9"/><circle cx="142.9" cy="415.6" r="0.9"/><circle cx="138.2" cy="412.2" r="0.9"/><circle cx="144.8" cy="413.0" r="0.9"/><circle cx="145.4" cy="417.8" r="0.9"/><circle cx="139.3" cy="406.6" r="0.9"/><circle cx="144.9" cy="417.4" r="0.9"/><circle cx="145.6" cy="415.5" r="0.9"/><circle cx="139.4" cy="409.3" r="0.9"/><circle cx="145.5" cy="408.8" r="0.9"/><circle cx="136.5" cy="409.3" r="0.9"/><circle cx="147.2" cy="416.3" r="0.9"/><circle cx="139.1" cy="409.3" r="0.9"/><circle cx="143.0" cy="409.0" r="0.9"/><circle cx="147.0" cy="412.0" r="0.9"/><circle cx="138.3" cy="416.8" r="0.9"/><circle cx="139.4" cy="413.3" r="0.9"/><circle cx="141.9" cy="410.8" r="0.9"/><circle cx="143.4" cy="409.3" r="0.9"/><circle cx="137.8" cy="407.2" r="0.9"/><circle cx="137.4" cy="409.5" r="0.9"/><circle cx="141.9" cy="412.6" r="0.9"/><circle cx="144.5" cy="412.8" r="0.9"/><circle cx="138.7" cy="409.4" r="0.9"/><circle cx="135.7" cy="411.8" r="0.9"/><circle cx="144.1" cy="414.6" r="0.9"/><circle cx="141.4" cy="411.5" r="0.9"/><circle cx="146.0" cy="412.4" r="0.9"/><circle cx="145.1" cy="414.8" r="0.9"/><circle cx="142.8" cy="417.3" r="0.9"/><circle cx="139.5" cy="410.7" r="0.9"/><circle cx="138.7" cy="409.1" r="0.9"/><circle cx="146.3" cy="417.1" r="0.9"/><circle cx="142.1" cy="414.9" r="0.9"/><circle cx="146.4" cy="415.3" r="0.9"/><circle cx="146.1" cy="408.0" r="0.9"/><circle cx="139.2" cy="414.3" r="0.9"/><circle cx="147.3" cy="412.7" r="0.9"/><circle cx="138.4" cy="410.8" r="0.9"/></g>
<circle cx="142" cy="440" r="7" fill="#a8a8a8"/>
<g fill="#555"><circle cx="139.3" cy="436.5" r="0.9"/><circle cx="147.3" cy="437.8" r="0.9"/><circle cx="142.1" cy="446.3" r="0.9"/><circle cx="146.7" cy="441.3" r="0.9"/><circle cx="139.3" cy="441.8" r="0.9"/><circle cx="147.5" cy="442.1" r="0.9"/><circle cx="146.9" cy="440.4" r="0.9"/><circle cx="144.3" cy="439.1" r="0.9"/><circle cx="143.6" cy="444.9" r="0.9"/><circle cx="136.7" cy="439.8" r="0.9"/><circle cx="143.1" cy="437.4" r="0.9"/><circle cx="140.7" cy="443.4" r="0.9"/><circle cx="148.0" cy="441.9" r="0.9"/><circle cx="143.2" cy="434.5" r="0.9"/><circle cx="148.1" cy="440.2" r="0.9"/><circle cx="141.9" cy="435.5" r="0.9"/><circle cx="141.8" cy="435.5" r="0.9"/><circle cx="142.3" cy="442.1" r="0.9"/><circle cx="142.1" cy="441.3" r="0.9"/><circle cx="139.1" cy="444.9" r="0.9"/><circle cx="139.9" cy="434.2" r="0.9"/><circle cx="141.2" cy="436.7" r="0.9"/><circle cx="137.9" cy="438.5" r="0.9"/><circle cx="143.2" cy="435.3" r="0.9"/><circle cx="141.5" cy="445.3" r="0.9"/><circle cx="145.0" cy="439.3" r="0.9"/><circle cx="142.6" cy="439.4" r="0.9"/><circle cx="141.8" cy="443.2" r="0.9"/><circle cx="141.8" cy="433.5" r="0.9"/><circle cx="141.9" cy="436.2" r="0.9"/><circle cx="144.8" cy="437.4" r="0.9"/><circle cx="142.4" cy="446.3" r="0.9"/><circle cx="138.2" cy="435.9" r="0.9"/><circle cx="138.7" cy="434.3" r="0.9"/><circle cx="136.0" cy="441.2" r="0.9"/><circle cx="140.0" cy="434.2" r="0.9"/><circle cx="136.8" cy="442.2" r="0.9"/><circle cx="138.7" cy="438.4" r="0.9"/><circle cx="143.2" cy="445.1" r="0.9"/><circle cx="147.6" cy="443.0" r="0.9"/><circle cx="142.7" cy="440.9" r="0.9"/><circle cx="147.0" cy="444.0" r="0.9"/><circle cx="140.6" cy="442.1" r="0.9"/><circle cx="143.3" cy="440.2" r="0.9"/><circle cx="140.1" cy="435.0" r="0.9"/></g>
<circle cx="142" cy="466.5" r="7" fill="#a8a8a8"/>
<g fill="#555"><circle cx="140.1" cy="461.1" r="0.9"/><circle cx="146.7" cy="468.6" r="0.9"/><circle cx="138.1" cy="471.1" r="0.9"/><circle cx="144.7" cy="460.8" r="0.9"/><circle cx="147.7" cy="469.0" r="0.9"/><circle cx="147.5" cy="463.2" r="0.9"/><circle cx="144.4" cy="468.4" r="0.9"/><circle cx="142.9" cy="467.3" r="0.9"/><circle cx="145.5" cy="461.6" r="0.9"/><circle cx="138.0" cy="462.0" r="0.9"/><circle cx="139.6" cy="463.9" r="0.9"/><circle cx="143.7" cy="467.7" r="0.9"/><circle cx="142.1" cy="463.5" r="0.9"/><circle cx="140.2" cy="470.4" r="0.9"/><circle cx="145.3" cy="466.9" r="0.9"/><circle cx="140.9" cy="472.0" r="0.9"/><circle cx="139.5" cy="469.3" r="0.9"/><circle cx="146.6" cy="465.4" r="0.9"/><circle cx="145.1" cy="462.3" r="0.9"/><circle cx="146.2" cy="467.3" r="0.9"/><circle cx="136.6" cy="468.8" r="0.9"/><circle cx="138.8" cy="471.1" r="0.9"/><circle cx="139.0" cy="465.8" r="0.9"/><circle cx="143.3" cy="465.0" r="0.9"/><circle cx="143.2" cy="464.0" r="0.9"/><circle cx="145.0" cy="466.5" r="0.9"/><circle cx="142.5" cy="459.9" r="0.9"/><circle cx="146.7" cy="466.6" r="0.9"/><circle cx="136.1" cy="466.8" r="0.9"/><circle cx="143.9" cy="470.8" r="0.9"/><circle cx="138.5" cy="471.5" r="0.9"/><circle cx="141.6" cy="472.9" r="0.9"/><circle cx="141.4" cy="469.5" r="0.9"/><circle cx="140.5" cy="462.0" r="0.9"/><circle cx="146.1" cy="469.9" r="0.9"/><circle cx="147.2" cy="469.4" r="0.9"/><circle cx="140.1" cy="460.9" r="0.9"/><circle cx="139.2" cy="463.6" r="0.9"/><circle cx="138.6" cy="468.9" r="0.9"/><circle cx="143.5" cy="465.3" r="0.9"/><circle cx="142.8" cy="465.8" r="0.9"/><circle cx="142.9" cy="469.8" r="0.9"/><circle cx="145.8" cy="463.8" r="0.9"/><circle cx="137.5" cy="470.8" r="0.9"/><circle cx="142.5" cy="471.0" r="0.9"/></g>
<circle cx="141" cy="495.3" r="7" fill="#a8a8a8"/>
<g fill="#555"><circle cx="135.3" cy="494.2" r="0.9"/><circle cx="141.1" cy="490.0" r="0.9"/><circle cx="138.8" cy="498.4" r="0.9"/><circle cx="144.4" cy="500.4" r="0.9"/><circle cx="138.0" cy="490.4" r="0.9"/><circle cx="143.1" cy="499.2" r="0.9"/><circle cx="141.7" cy="490.3" r="0.9"/><circle cx="144.2" cy="498.5" r="0.9"/><circle cx="143.4" cy="493.2" r="0.9"/><circle cx="142.3" cy="498.7" r="0.9"/><circle cx="139.2" cy="489.5" r="0.9"/><circle cx="142.5" cy="497.5" r="0.9"/><circle cx="141.1" cy="499.1" r="0.9"/><circle cx="138.4" cy="494.9" r="0.9"/><circle cx="139.6" cy="497.9" r="0.9"/><circle cx="146.6" cy="494.4" r="0.9"/><circle cx="146.2" cy="499.2" r="0.9"/><circle cx="144.3" cy="497.8" r="0.9"/><circle cx="146.9" cy="494.7" r="0.9"/><circle cx="140.5" cy="490.9" r="0.9"/><circle cx="142.8" cy="500.3" r="0.9"/><circle cx="143.4" cy="497.2" r="0.9"/><circle cx="140.1" cy="496.1" r="0.9"/><circle cx="136.2" cy="498.8" r="0.9"/><circle cx="139.4" cy="490.9" r="0.9"/><circle cx="138.0" cy="492.0" r="0.9"/><circle cx="144.2" cy="499.3" r="0.9"/><circle cx="136.3" cy="498.5" r="0.9"/><circle cx="144.7" cy="492.9" r="0.9"/><circle cx="135.9" cy="492.7" r="0.9"/><circle cx="138.2" cy="496.8" r="0.9"/><circle cx="139.9" cy="489.2" r="0.9"/><circle cx="141.8" cy="489.8" r="0.9"/><circle cx="144.3" cy="490.9" r="0.9"/><circle cx="138.2" cy="491.8" r="0.9"/><circle cx="139.0" cy="500.2" r="0.9"/><circle cx="144.5" cy="497.8" r="0.9"/><circle cx="142.1" cy="489.8" r="0.9"/><circle cx="138.7" cy="492.9" r="0.9"/><circle cx="137.0" cy="497.4" r="0.9"/><circle cx="137.9" cy="492.4" r="0.9"/><circle cx="138.1" cy="489.6" r="0.9"/><circle cx="143.2" cy="500.2" r="0.9"/><circle cx="141.7" cy="491.2" r="0.9"/><circle cx="134.4" cy="495.7" r="0.9"/></g>
<g fill="#555"><circle cx="173.8" cy="279.2" r="0.9"/><circle cx="170.1" cy="271.3" r="1.1"/><circle cx="173.1" cy="281.1" r="1.1"/><circle cx="167.8" cy="273.1" r="1.2"/><circle cx="171.2" cy="273.6" r="1.0"/><circle cx="171.8" cy="277.0" r="1.2"/><circle cx="164.0" cy="281.8" r="0.9"/><circle cx="173.0" cy="277.6" r="0.8"/><circle cx="168.1" cy="282.4" r="0.8"/><circle cx="164.8" cy="280.2" r="1.2"/><circle cx="166.6" cy="280.9" r="0.9"/><circle cx="168.4" cy="271.2" r="1.1"/><circle cx="170.0" cy="284.1" r="1.0"/><circle cx="169.4" cy="280.4" r="1.3"/></g>
<g fill="#555"><circle cx="169.0" cy="301.3" r="1.1"/><circle cx="165.3" cy="304.1" r="1.4"/><circle cx="165.1" cy="308.2" r="1.3"/><circle cx="168.9" cy="301.9" r="1.0"/><circle cx="165.8" cy="304.5" r="1.3"/><circle cx="164.7" cy="308.6" r="0.9"/><circle cx="165.7" cy="306.8" r="1.1"/><circle cx="167.6" cy="305.2" r="1.2"/><circle cx="167.0" cy="307.4" r="1.0"/><circle cx="164.3" cy="305.4" r="1.2"/><circle cx="165.9" cy="302.5" r="1.4"/><circle cx="168.2" cy="304.1" r="1.3"/></g>
<g fill="#555"><circle cx="173.1" cy="330.5" r="0.9"/><circle cx="170.7" cy="329.1" r="0.8"/><circle cx="174.8" cy="334.5" r="1.2"/><circle cx="168.0" cy="336.2" r="0.9"/><circle cx="168.6" cy="340.1" r="1.0"/><circle cx="171.8" cy="339.4" r="1.3"/><circle cx="171.3" cy="339.7" r="1.2"/><circle cx="169.1" cy="328.4" r="1.4"/><circle cx="169.5" cy="327.8" r="0.9"/><circle cx="166.2" cy="329.2" r="1.3"/><circle cx="161.9" cy="336.5" r="1.1"/><circle cx="167.7" cy="337.4" r="0.9"/><circle cx="166.3" cy="334.1" r="1.1"/><circle cx="171.0" cy="337.9" r="1.1"/><circle cx="161.7" cy="332.4" r="0.8"/><circle cx="170.6" cy="330.0" r="1.1"/></g>
<g fill="#555"><circle cx="164.7" cy="351.5" r="1.0"/><circle cx="162.0" cy="360.4" r="0.8"/><circle cx="164.4" cy="352.8" r="0.8"/><circle cx="163.5" cy="353.3" r="1.4"/><circle cx="164.6" cy="363.1" r="1.1"/><circle cx="161.4" cy="357.6" r="0.8"/><circle cx="166.9" cy="351.6" r="1.0"/><circle cx="170.7" cy="353.8" r="1.1"/><circle cx="161.9" cy="356.0" r="0.9"/><circle cx="163.8" cy="358.8" r="1.1"/><circle cx="169.8" cy="353.6" r="1.3"/><circle cx="163.9" cy="359.8" r="0.9"/></g>
<g fill="#555"><circle cx="160.1" cy="385.7" r="1.2"/><circle cx="168.0" cy="382.1" r="1.0"/><circle cx="165.4" cy="391.1" r="1.2"/><circle cx="167.3" cy="384.6" r="1.2"/><circle cx="170.9" cy="382.6" r="0.8"/><circle cx="166.8" cy="386.5" r="0.9"/><circle cx="171.8" cy="383.4" r="1.2"/><circle cx="168.6" cy="379.5" r="1.2"/><circle cx="162.9" cy="382.3" r="1.2"/><circle cx="162.2" cy="382.7" r="0.9"/><circle cx="164.6" cy="381.9" r="1.3"/><circle cx="169.4" cy="387.8" r="0.8"/></g>
<g fill="#555"><circle cx="167.7" cy="407.3" r="1.2"/><circle cx="163.9" cy="415.3" r="1.3"/><circle cx="164.7" cy="411.0" r="1.0"/><circle cx="164.5" cy="413.3" r="1.1"/><circle cx="164.0" cy="408.2" r="0.8"/><circle cx="166.1" cy="411.6" r="0.8"/><circle cx="168.4" cy="408.5" r="1.4"/></g>
<g fill="#555"><circle cx="167.9" cy="440.2" r="1.0"/><circle cx="164.4" cy="437.4" r="1.4"/><circle cx="165.3" cy="440.5" r="0.8"/><circle cx="167.1" cy="438.2" r="0.9"/><circle cx="168.8" cy="440.0" r="1.2"/><circle cx="172.0" cy="443.4" r="0.8"/><circle cx="169.7" cy="438.7" r="0.8"/><circle cx="168.0" cy="437.6" r="1.3"/><circle cx="168.9" cy="441.0" r="1.3"/></g>
<g fill="#555"><circle cx="163.7" cy="461.1" r="1.3"/><circle cx="169.1" cy="468.9" r="1.2"/><circle cx="159.4" cy="467.9" r="0.9"/><circle cx="170.0" cy="465.4" r="0.8"/><circle cx="169.8" cy="466.9" r="1.3"/><circle cx="167.9" cy="468.1" r="1.3"/><circle cx="167.8" cy="471.3" r="1.1"/><circle cx="168.4" cy="467.8" r="1.1"/><circle cx="160.4" cy="468.4" r="0.9"/><circle cx="166.1" cy="463.0" r="1.2"/><circle cx="162.3" cy="463.7" r="1.0"/><circle cx="166.3" cy="460.8" r="1.3"/><circle cx="162.0" cy="465.2" r="0.8"/><circle cx="170.0" cy="465.7" r="1.3"/></g>
<g fill="#555"><circle cx="165.3" cy="499.1" r="1.4"/><circle cx="169.9" cy="490.9" r="1.0"/><circle cx="162.5" cy="497.5" r="1.0"/><circle cx="165.7" cy="490.7" r="1.4"/><circle cx="168.7" cy="492.0" r="0.8"/><circle cx="167.3" cy="498.9" r="1.2"/><circle cx="169.9" cy="489.8" r="0.8"/><circle cx="170.3" cy="490.3" r="1.3"/><circle cx="164.8" cy="493.6" r="1.3"/><circle cx="169.3" cy="490.4" r="1.4"/><circle cx="166.6" cy="496.4" r="1.1"/><circle cx="168.4" cy="492.4" r="1.3"/><circle cx="170.2" cy="493.8" r="1.2"/><circle cx="165.8" cy="491.3" r="0.9"/></g>
<circle cx="188" cy="276" r="1.3" fill="#505050"/>
<circle cx="193" cy="273" r="1.3" fill="#505050"/>
<circle cx="197.5" cy="279" r="1.3" fill="#505050"/>
<circle cx="175" cy="301.5" r="1.3" fill="#505050"/>
<circle cx="192" cy="326" r="1.3" fill="#505050"/>
<circle cx="196" cy="328" r="1.3" fill="#505050"/>
<circle cx="195" cy="335" r="1.3" fill="#505050"/>
<circle cx="194" cy="360" r="1.3" fill="#505050"/>
<circle cx="198" cy="361" r="1.3" fill="#505050"/>
<circle cx="193.5" cy="383" r="1.3" fill="#505050"/>
<circle cx="196" cy="386" r="1.3" fill="#505050"/>
<circle cx="197.6" cy="412.3" r="1.3" fill="#505050"/>
<circle cx="192" cy="441" r="1.3" fill="#505050"/>
<circle cx="195" cy="441" r="1.3" fill="#505050"/>
<circle cx="198" cy="441" r="1.3" fill="#505050"/>
<circle cx="194.5" cy="465" r="1.3" fill="#505050"/>
<circle cx="196" cy="469" r="1.3" fill="#505050"/>
<circle cx="192" cy="494" r="1.3" fill="#505050"/>
<circle cx="196.5" cy="496.5" r="1.3" fill="#505050"/>
<circle cx="231" cy="303" r="7.9" fill="url(#sg2)" stroke="#3c3c3c" stroke-width="1.2"/>
<g fill="#3c3c3c" fill-opacity="0.45"><circle cx="230.8" cy="308.5" r="0.8"/><circle cx="232.1" cy="298.9" r="0.8"/><circle cx="235.8" cy="306.0" r="0.8"/><circle cx="231.4" cy="300.0" r="0.8"/><circle cx="225.7" cy="300.1" r="0.8"/><circle cx="234.4" cy="300.0" r="0.8"/><circle cx="226.2" cy="303.7" r="0.8"/><circle cx="232.0" cy="305.6" r="0.8"/><circle cx="233.2" cy="307.8" r="0.8"/><circle cx="227.9" cy="306.6" r="0.8"/><circle cx="227.3" cy="305.6" r="0.8"/><circle cx="231.8" cy="304.1" r="0.8"/></g>
<circle cx="229" cy="299" r="1.6" fill="#2a2a2a"/>
<circle cx="233" cy="301" r="1.4" fill="#2a2a2a"/>
<circle cx="259.6" cy="303.5" r="7.5" fill="url(#sg3)" stroke="#444" stroke-width="1.2"/>
<g fill="#444" fill-opacity="0.45"><circle cx="263.3" cy="303.4" r="0.8"/><circle cx="263.4" cy="306.5" r="0.8"/><circle cx="260.2" cy="301.2" r="0.8"/><circle cx="256.7" cy="301.5" r="0.8"/><circle cx="258.7" cy="303.4" r="0.8"/><circle cx="265.4" cy="304.8" r="0.8"/><circle cx="262.4" cy="300.4" r="0.8"/><circle cx="256.8" cy="302.2" r="0.8"/><circle cx="260.3" cy="299.6" r="0.8"/><circle cx="264.6" cy="301.8" r="0.8"/><circle cx="262.1" cy="298.2" r="0.8"/><circle cx="259.6" cy="304.7" r="0.8"/></g>
<circle cx="264.5" cy="304.5" r="5.2" fill="#222" filter="url(#blob)"/>
<circle cx="285.7" cy="303" r="7" fill="#8a8a8a"/>
<g fill="#484848"><circle cx="286.6" cy="305.7" r="1.0"/><circle cx="287.0" cy="303.8" r="1.0"/><circle cx="279.9" cy="300.8" r="1.0"/><circle cx="279.4" cy="304.7" r="1.0"/><circle cx="287.1" cy="302.1" r="1.0"/><circle cx="282.3" cy="300.6" r="1.0"/><circle cx="290.5" cy="307.5" r="1.0"/><circle cx="285.5" cy="308.0" r="1.0"/><circle cx="281.6" cy="298.0" r="1.0"/><circle cx="283.7" cy="299.4" r="1.0"/><circle cx="283.2" cy="303.8" r="1.0"/><circle cx="292.2" cy="301.6" r="1.0"/><circle cx="285.9" cy="304.3" r="1.0"/><circle cx="285.6" cy="306.9" r="1.0"/><circle cx="290.9" cy="299.4" r="1.0"/><circle cx="286.5" cy="301.8" r="1.0"/><circle cx="287.0" cy="297.5" r="1.0"/><circle cx="281.7" cy="297.7" r="1.0"/><circle cx="288.1" cy="303.9" r="1.0"/><circle cx="285.9" cy="296.6" r="1.0"/><circle cx="284.1" cy="299.7" r="1.0"/><circle cx="280.8" cy="299.9" r="1.0"/><circle cx="288.7" cy="305.3" r="1.0"/><circle cx="285.6" cy="305.3" r="1.0"/><circle cx="283.0" cy="303.3" r="1.0"/><circle cx="285.9" cy="305.5" r="1.0"/><circle cx="285.4" cy="302.3" r="1.0"/><circle cx="285.1" cy="300.1" r="1.0"/><circle cx="291.9" cy="304.4" r="1.0"/><circle cx="286.9" cy="309.3" r="1.0"/><circle cx="289.9" cy="298.3" r="1.0"/><circle cx="288.5" cy="306.4" r="1.0"/><circle cx="291.0" cy="306.7" r="1.0"/><circle cx="288.6" cy="298.6" r="1.0"/><circle cx="282.0" cy="304.1" r="1.0"/><circle cx="287.7" cy="298.9" r="1.0"/><circle cx="284.0" cy="301.2" r="1.0"/><circle cx="286.0" cy="304.6" r="1.0"/><circle cx="284.6" cy="298.2" r="1.0"/><circle cx="289.5" cy="307.9" r="1.0"/></g>
<circle cx="289.5" cy="314.2" r="1.8" fill="#333"/>
<g fill="#333"><circle cx="310.8" cy="304.8" r="1.0"/><circle cx="310.5" cy="306.4" r="1.2"/><circle cx="313.3" cy="304.7" r="1.2"/><circle cx="312.9" cy="299.8" r="1.7"/><circle cx="316.5" cy="303.0" r="1.4"/><circle cx="312.2" cy="305.0" r="1.1"/><circle cx="311.1" cy="303.7" r="1.2"/><circle cx="317.2" cy="300.7" r="1.6"/><circle cx="313.8" cy="302.9" r="1.6"/><circle cx="316.0" cy="302.8" r="1.1"/><circle cx="312.0" cy="300.9" r="1.5"/><circle cx="310.0" cy="302.9" r="0.9"/><circle cx="313.4" cy="297.2" r="1.1"/><circle cx="305.9" cy="303.3" r="1.1"/><circle cx="309.2" cy="300.0" r="1.1"/><circle cx="311.8" cy="296.0" r="1.1"/><circle cx="312.8" cy="301.8" r="1.4"/><circle cx="308.1" cy="301.1" r="1.1"/></g>
<circle cx="340" cy="304.5" r="1.0" fill="#444"/>
<circle cx="231" cy="328.5" r="7.8" fill="url(#sg4)" stroke="#3a3a3a" stroke-width="1.2"/>
<g fill="#3a3a3a" fill-opacity="0.45"><circle cx="227.0" cy="325.1" r="0.8"/><circle cx="232.8" cy="324.1" r="0.8"/><circle cx="231.5" cy="330.0" r="0.8"/><circle cx="230.6" cy="324.5" r="0.8"/><circle cx="230.7" cy="327.1" r="0.8"/><circle cx="232.3" cy="325.1" r="0.8"/><circle cx="234.2" cy="323.6" r="0.8"/><circle cx="230.2" cy="328.5" r="0.8"/><circle cx="234.6" cy="326.2" r="0.8"/><circle cx="233.2" cy="326.2" r="0.8"/><circle cx="233.2" cy="333.7" r="0.8"/><circle cx="229.3" cy="330.4" r="0.8"/></g>
<circle cx="258.6" cy="328.5" r="7.5" fill="url(#sg5)" stroke="#3c3c3c" stroke-width="1.2"/>
<g fill="#3c3c3c" fill-opacity="0.45"><circle cx="255.4" cy="331.9" r="0.8"/><circle cx="262.9" cy="328.6" r="0.8"/><circle cx="254.5" cy="329.9" r="0.8"/><circle cx="262.3" cy="332.0" r="0.8"/><circle cx="260.9" cy="323.4" r="0.8"/><circle cx="256.4" cy="333.1" r="0.8"/><circle cx="254.8" cy="332.0" r="0.8"/><circle cx="263.8" cy="330.6" r="0.8"/><circle cx="262.6" cy="327.3" r="0.8"/><circle cx="254.2" cy="328.1" r="0.8"/><circle cx="257.8" cy="328.3" r="0.8"/><circle cx="261.4" cy="327.9" r="0.8"/></g>
<circle cx="285.3" cy="328.5" r="7" fill="#7a7a7a"/>
<g fill="#484848"><circle cx="286.2" cy="330.4" r="1.1"/><circle cx="285.3" cy="334.5" r="1.1"/><circle cx="287.3" cy="328.9" r="1.1"/><circle cx="284.4" cy="325.7" r="1.1"/><circle cx="290.4" cy="329.1" r="1.1"/><circle cx="281.0" cy="326.3" r="1.1"/><circle cx="284.7" cy="326.5" r="1.1"/><circle cx="289.1" cy="324.4" r="1.1"/><circle cx="287.5" cy="329.2" r="1.1"/><circle cx="280.6" cy="328.7" r="1.1"/><circle cx="284.9" cy="330.8" r="1.1"/><circle cx="283.3" cy="329.9" r="1.1"/><circle cx="280.1" cy="325.1" r="1.1"/><circle cx="288.3" cy="332.5" r="1.1"/><circle cx="285.2" cy="325.8" r="1.1"/><circle cx="288.3" cy="322.8" r="1.1"/><circle cx="282.0" cy="331.3" r="1.1"/><circle cx="287.9" cy="324.4" r="1.1"/><circle cx="280.2" cy="332.4" r="1.1"/><circle cx="286.0" cy="324.7" r="1.1"/><circle cx="285.5" cy="332.3" r="1.1"/><circle cx="279.2" cy="331.1" r="1.1"/><circle cx="287.4" cy="322.5" r="1.1"/><circle cx="287.7" cy="322.9" r="1.1"/><circle cx="289.8" cy="330.1" r="1.1"/><circle cx="291.5" cy="326.8" r="1.1"/><circle cx="285.3" cy="332.8" r="1.1"/><circle cx="282.6" cy="325.5" r="1.1"/><circle cx="283.6" cy="328.2" r="1.1"/><circle cx="281.0" cy="330.4" r="1.1"/><circle cx="287.8" cy="328.8" r="1.1"/><circle cx="291.1" cy="327.4" r="1.1"/><circle cx="290.2" cy="326.5" r="1.1"/><circle cx="287.6" cy="322.7" r="1.1"/><circle cx="286.2" cy="327.7" r="1.1"/><circle cx="283.1" cy="325.8" r="1.1"/><circle cx="283.8" cy="325.4" r="1.1"/><circle cx="279.1" cy="326.8" r="1.1"/><circle cx="282.9" cy="326.2" r="1.1"/><circle cx="281.0" cy="327.9" r="1.1"/><circle cx="288.7" cy="327.4" r="1.1"/><circle cx="283.5" cy="333.5" r="1.1"/><circle cx="289.0" cy="332.0" r="1.1"/><circle cx="289.9" cy="327.2" r="1.1"/><circle cx="284.8" cy="333.0" r="1.1"/></g>
<g fill="#333"><circle cx="310.4" cy="328.4" r="1.0"/><circle cx="315.6" cy="331.8" r="1.2"/><circle cx="312.2" cy="332.4" r="1.0"/><circle cx="306.9" cy="327.2" r="1.4"/><circle cx="307.9" cy="326.6" r="1.1"/><circle cx="311.8" cy="324.4" r="1.3"/><circle cx="309.4" cy="325.9" r="1.2"/><circle cx="313.2" cy="332.3" r="1.3"/><circle cx="309.0" cy="332.6" r="0.9"/><circle cx="309.1" cy="334.2" r="1.1"/><circle cx="308.4" cy="327.3" r="1.1"/><circle cx="316.8" cy="328.7" r="1.5"/><circle cx="314.0" cy="330.5" r="1.6"/><circle cx="311.4" cy="329.6" r="1.2"/><circle cx="307.4" cy="331.2" r="1.0"/><circle cx="314.1" cy="335.8" r="1.5"/><circle cx="315.3" cy="332.4" r="1.2"/><circle cx="310.5" cy="324.1" r="1.6"/><circle cx="315.2" cy="324.5" r="1.5"/><circle cx="312.7" cy="322.9" r="1.3"/></g>
<circle cx="339" cy="323.7" r="2.0" fill="#333"/>
<circle cx="344.8" cy="328.5" r="2.2" fill="#333"/>
<circle cx="230" cy="356.3" r="6.8" fill="#c0c0c0" stroke="#a0a0a0" stroke-width="0.8"/>
<g fill="#8a8a8a"><circle cx="231.2" cy="351.0" r="0.7"/><circle cx="232.0" cy="355.1" r="0.7"/><circle cx="230.3" cy="356.0" r="0.7"/><circle cx="230.5" cy="351.4" r="0.7"/><circle cx="223.7" cy="356.4" r="0.7"/><circle cx="226.2" cy="354.5" r="0.7"/><circle cx="231.3" cy="350.4" r="0.7"/><circle cx="226.9" cy="353.8" r="0.7"/><circle cx="225.8" cy="357.6" r="0.7"/><circle cx="229.4" cy="352.9" r="0.7"/><circle cx="226.3" cy="359.4" r="0.7"/><circle cx="227.3" cy="358.7" r="0.7"/><circle cx="231.4" cy="350.5" r="0.7"/><circle cx="225.7" cy="356.3" r="0.7"/><circle cx="231.4" cy="359.6" r="0.7"/><circle cx="233.0" cy="360.2" r="0.7"/><circle cx="228.3" cy="355.4" r="0.7"/><circle cx="233.2" cy="354.5" r="0.7"/><circle cx="233.3" cy="351.4" r="0.7"/><circle cx="232.8" cy="355.6" r="0.7"/><circle cx="224.5" cy="359.0" r="0.7"/><circle cx="231.4" cy="356.4" r="0.7"/><circle cx="225.8" cy="354.5" r="0.7"/><circle cx="235.0" cy="353.6" r="0.7"/><circle cx="223.7" cy="354.8" r="0.7"/><circle cx="225.4" cy="355.8" r="0.7"/><circle cx="228.4" cy="352.6" r="0.7"/><circle cx="226.9" cy="360.2" r="0.7"/><circle cx="226.3" cy="361.4" r="0.7"/><circle cx="227.9" cy="352.1" r="0.7"/></g>
<circle cx="257.3" cy="356.3" r="6.5" fill="#c8c8c8" stroke="#b0b0b0" stroke-width="0.8"/>
<g fill="#999"><circle cx="260.4" cy="358.5" r="0.6"/><circle cx="253.5" cy="359.0" r="0.6"/><circle cx="252.1" cy="353.7" r="0.6"/><circle cx="261.5" cy="355.3" r="0.6"/><circle cx="252.8" cy="358.1" r="0.6"/><circle cx="260.9" cy="356.2" r="0.6"/><circle cx="251.8" cy="355.3" r="0.6"/><circle cx="259.0" cy="359.4" r="0.6"/><circle cx="262.9" cy="355.5" r="0.6"/><circle cx="255.3" cy="356.1" r="0.6"/><circle cx="261.3" cy="353.1" r="0.6"/><circle cx="259.9" cy="350.7" r="0.6"/><circle cx="260.4" cy="353.7" r="0.6"/><circle cx="259.1" cy="359.1" r="0.6"/><circle cx="252.9" cy="356.0" r="0.6"/><circle cx="258.3" cy="358.7" r="0.6"/><circle cx="254.0" cy="352.8" r="0.6"/><circle cx="253.6" cy="361.2" r="0.6"/><circle cx="256.5" cy="355.3" r="0.6"/><circle cx="252.6" cy="359.2" r="0.6"/><circle cx="255.5" cy="361.1" r="0.6"/><circle cx="260.7" cy="356.4" r="0.6"/><circle cx="259.9" cy="352.3" r="0.6"/><circle cx="256.0" cy="353.9" r="0.6"/><circle cx="252.7" cy="356.4" r="0.6"/></g>
<g fill="#aaa"><circle cx="284.5" cy="360.3" r="0.5"/><circle cx="288.7" cy="356.2" r="0.5"/><circle cx="286.3" cy="357.7" r="0.6"/><circle cx="286.1" cy="357.3" r="0.4"/><circle cx="280.4" cy="355.7" r="0.5"/><circle cx="285.3" cy="355.1" r="0.4"/><circle cx="285.3" cy="353.5" r="0.6"/><circle cx="283.7" cy="357.9" r="0.4"/></g>
<circle cx="231.7" cy="382.1" r="7" fill="url(#sg6)" stroke="#808080" stroke-width="0.8"/>
<g fill="#808080" fill-opacity="0.45"><circle cx="236.0" cy="385.2" r="0.8"/><circle cx="228.8" cy="380.5" r="0.8"/><circle cx="228.4" cy="383.2" r="0.8"/><circle cx="236.7" cy="383.9" r="0.8"/><circle cx="226.9" cy="379.4" r="0.8"/><circle cx="227.6" cy="383.7" r="0.8"/><circle cx="231.7" cy="383.3" r="0.8"/><circle cx="236.4" cy="379.9" r="0.8"/><circle cx="229.6" cy="387.0" r="0.8"/><circle cx="232.9" cy="379.3" r="0.8"/><circle cx="227.3" cy="378.8" r="0.8"/></g>
<circle cx="231.7" cy="382.1" r="6.5" fill="#9a9a9a"/>
<g fill="#707070"><circle cx="225.7" cy="382.3" r="0.7"/><circle cx="231.9" cy="386.0" r="0.7"/><circle cx="231.1" cy="379.3" r="0.7"/><circle cx="229.6" cy="387.5" r="0.7"/><circle cx="226.2" cy="382.6" r="0.7"/><circle cx="231.8" cy="384.7" r="0.7"/><circle cx="230.0" cy="384.2" r="0.7"/><circle cx="235.0" cy="381.5" r="0.7"/><circle cx="229.8" cy="381.3" r="0.7"/><circle cx="228.0" cy="381.3" r="0.7"/><circle cx="230.4" cy="383.0" r="0.7"/><circle cx="235.7" cy="386.0" r="0.7"/><circle cx="229.9" cy="384.6" r="0.7"/><circle cx="232.9" cy="385.2" r="0.7"/><circle cx="231.8" cy="383.3" r="0.7"/></g>
<circle cx="257.3" cy="382.1" r="6.8" fill="#c4c4c4" stroke="#a8a8a8" stroke-width="0.8"/>
<g fill="#8c8c8c"><circle cx="255.4" cy="378.9" r="0.7"/><circle cx="260.3" cy="386.6" r="0.7"/><circle cx="260.1" cy="383.9" r="0.7"/><circle cx="258.5" cy="380.1" r="0.7"/><circle cx="251.8" cy="384.2" r="0.7"/><circle cx="258.2" cy="379.7" r="0.7"/><circle cx="254.0" cy="386.5" r="0.7"/><circle cx="252.8" cy="386.5" r="0.7"/><circle cx="258.9" cy="388.2" r="0.7"/><circle cx="254.2" cy="382.0" r="0.7"/><circle cx="255.1" cy="382.8" r="0.7"/><circle cx="256.4" cy="378.9" r="0.7"/><circle cx="261.3" cy="379.2" r="0.7"/><circle cx="255.1" cy="384.5" r="0.7"/><circle cx="255.0" cy="380.2" r="0.7"/><circle cx="258.9" cy="380.5" r="0.7"/><circle cx="252.6" cy="381.7" r="0.7"/><circle cx="256.6" cy="387.7" r="0.7"/><circle cx="253.4" cy="385.6" r="0.7"/><circle cx="254.0" cy="380.6" r="0.7"/><circle cx="255.8" cy="383.3" r="0.7"/><circle cx="259.9" cy="387.4" r="0.7"/><circle cx="255.0" cy="386.8" r="0.7"/><circle cx="261.1" cy="385.2" r="0.7"/><circle cx="254.4" cy="385.6" r="0.7"/><circle cx="256.8" cy="383.7" r="0.7"/><circle cx="256.1" cy="384.9" r="0.7"/><circle cx="261.1" cy="386.0" r="0.7"/><circle cx="256.5" cy="386.1" r="0.7"/><circle cx="262.1" cy="379.0" r="0.7"/></g>
<g fill="#999"><circle cx="289.4" cy="378.4" r="0.5"/><circle cx="285.1" cy="383.1" r="0.7"/><circle cx="283.5" cy="379.1" r="0.6"/><circle cx="282.6" cy="377.9" r="0.5"/><circle cx="287.3" cy="379.2" r="0.6"/><circle cx="286.1" cy="384.0" r="0.7"/><circle cx="284.8" cy="377.1" r="0.4"/><circle cx="287.6" cy="382.7" r="0.5"/><circle cx="284.1" cy="385.6" r="0.4"/><circle cx="283.5" cy="386.5" r="0.5"/></g>
<circle cx="312" cy="382" r="0.6" fill="#aaa"/>
<circle cx="340" cy="384" r="0.8" fill="#bbb"/>
<circle cx="232" cy="410.7" r="8.5" fill="url(#sg7)" stroke="#333" stroke-width="1.2"/>
<g fill="#333" fill-opacity="0.45"><circle cx="234.7" cy="406.4" r="0.8"/><circle cx="231.3" cy="407.3" r="0.8"/><circle cx="226.8" cy="412.9" r="0.8"/><circle cx="231.9" cy="410.9" r="0.8"/><circle cx="235.0" cy="405.5" r="0.8"/><circle cx="231.7" cy="412.1" r="0.8"/><circle cx="235.2" cy="406.5" r="0.8"/><circle cx="235.2" cy="411.7" r="0.8"/><circle cx="236.6" cy="414.6" r="0.8"/><circle cx="233.6" cy="417.0" r="0.8"/><circle cx="232.0" cy="408.7" r="0.8"/><circle cx="230.5" cy="406.7" r="0.8"/><circle cx="231.9" cy="404.5" r="0.8"/></g>
<circle cx="233" cy="414" r="2" fill="#222"/>
<circle cx="258" cy="410.7" r="8" fill="#6c6c6c"/>
<g fill="#484848"><circle cx="257.6" cy="412.9" r="1.1"/><circle cx="262.7" cy="409.1" r="1.1"/><circle cx="263.7" cy="408.0" r="1.1"/><circle cx="257.5" cy="403.8" r="1.1"/><circle cx="254.5" cy="407.0" r="1.1"/><circle cx="264.0" cy="412.8" r="1.1"/><circle cx="253.1" cy="413.1" r="1.1"/><circle cx="260.4" cy="409.5" r="1.1"/><circle cx="258.1" cy="409.1" r="1.1"/><circle cx="256.0" cy="404.2" r="1.1"/><circle cx="257.6" cy="416.3" r="1.1"/><circle cx="264.0" cy="409.5" r="1.1"/><circle cx="254.3" cy="409.7" r="1.1"/><circle cx="262.2" cy="412.4" r="1.1"/><circle cx="255.1" cy="412.5" r="1.1"/><circle cx="257.0" cy="413.3" r="1.1"/><circle cx="256.3" cy="404.7" r="1.1"/><circle cx="258.3" cy="414.4" r="1.1"/><circle cx="253.0" cy="410.2" r="1.1"/><circle cx="262.1" cy="408.9" r="1.1"/><circle cx="255.8" cy="417.5" r="1.1"/><circle cx="261.6" cy="415.1" r="1.1"/><circle cx="254.6" cy="416.6" r="1.1"/><circle cx="251.7" cy="408.7" r="1.1"/><circle cx="261.0" cy="416.1" r="1.1"/><circle cx="253.8" cy="407.7" r="1.1"/><circle cx="258.7" cy="403.8" r="1.1"/><circle cx="261.1" cy="413.4" r="1.1"/><circle cx="255.8" cy="413.4" r="1.1"/><circle cx="261.7" cy="412.2" r="1.1"/><circle cx="260.1" cy="416.7" r="1.1"/><circle cx="255.6" cy="411.5" r="1.1"/><circle cx="255.7" cy="415.3" r="1.1"/><circle cx="256.0" cy="413.1" r="1.1"/><circle cx="258.7" cy="411.0" r="1.1"/><circle cx="264.6" cy="410.4" r="1.1"/><circle cx="263.6" cy="413.9" r="1.1"/><circle cx="263.7" cy="410.0" r="1.1"/><circle cx="262.1" cy="414.1" r="1.1"/><circle cx="255.0" cy="412.0" r="1.1"/><circle cx="257.3" cy="410.5" r="1.1"/><circle cx="263.3" cy="407.7" r="1.1"/><circle cx="252.9" cy="405.4" r="1.1"/><circle cx="255.8" cy="407.6" r="1.1"/><circle cx="258.1" cy="413.5" r="1.1"/><circle cx="264.6" cy="411.9" r="1.1"/><circle cx="260.2" cy="407.2" r="1.1"/><circle cx="260.4" cy="416.3" r="1.1"/><circle cx="262.1" cy="404.7" r="1.1"/><circle cx="261.3" cy="416.6" r="1.1"/></g>
<g fill="#333"><circle cx="284.6" cy="404.7" r="1.5"/><circle cx="284.2" cy="417.4" r="1.5"/><circle cx="277.3" cy="415.1" r="1.6"/><circle cx="283.2" cy="407.3" r="1.2"/><circle cx="275.5" cy="408.1" r="2.0"/><circle cx="279.2" cy="403.4" r="2.2"/><circle cx="275.6" cy="410.9" r="1.4"/><circle cx="279.4" cy="416.5" r="1.3"/><circle cx="280.1" cy="407.7" r="1.6"/><circle cx="283.7" cy="410.2" r="1.2"/><circle cx="278.1" cy="412.0" r="1.9"/><circle cx="288.6" cy="410.8" r="2.1"/><circle cx="282.5" cy="405.6" r="1.5"/><circle cx="278.3" cy="405.8" r="1.6"/><circle cx="278.5" cy="415.2" r="1.9"/><circle cx="284.8" cy="403.9" r="1.4"/><circle cx="279.8" cy="415.8" r="1.8"/><circle cx="279.3" cy="413.6" r="1.3"/><circle cx="278.9" cy="415.6" r="2.2"/><circle cx="287.6" cy="406.7" r="2.2"/><circle cx="287.4" cy="409.2" r="2.0"/><circle cx="287.4" cy="413.1" r="1.8"/></g>
<g fill="#333"><circle cx="308.9" cy="416.8" r="2.2"/><circle cx="304.3" cy="411.8" r="1.5"/><circle cx="306.5" cy="417.3" r="1.2"/><circle cx="313.2" cy="417.1" r="1.6"/><circle cx="316.3" cy="414.3" r="1.6"/><circle cx="306.2" cy="408.5" r="1.7"/><circle cx="306.1" cy="409.0" r="1.3"/><circle cx="313.9" cy="417.8" r="1.7"/><circle cx="316.4" cy="415.8" r="1.4"/><circle cx="315.5" cy="414.3" r="1.4"/><circle cx="304.8" cy="411.4" r="1.4"/><circle cx="308.3" cy="409.8" r="1.7"/><circle cx="308.8" cy="409.8" r="1.6"/><circle cx="315.4" cy="413.4" r="2.1"/><circle cx="304.3" cy="408.9" r="2.0"/><circle cx="316.7" cy="416.3" r="1.9"/><circle cx="316.5" cy="415.4" r="1.6"/><circle cx="314.4" cy="417.9" r="1.8"/><circle cx="311.2" cy="408.1" r="2.0"/><circle cx="314.3" cy="412.4" r="1.6"/><circle cx="316.8" cy="411.6" r="1.4"/><circle cx="308.6" cy="417.4" r="1.6"/></g>
<circle cx="335.5" cy="410.7" r="1.5" fill="#333"/>
<circle cx="343.5" cy="411.5" r="2.8" fill="#222"/>
<circle cx="232" cy="439.2" r="7" fill="url(#sg8)" stroke="#888" stroke-width="0.8"/>
<g fill="#888" fill-opacity="0.45"><circle cx="235.4" cy="436.4" r="0.8"/><circle cx="234.9" cy="436.2" r="0.8"/><circle cx="236.5" cy="436.6" r="0.8"/><circle cx="234.4" cy="443.4" r="0.8"/><circle cx="229.3" cy="443.3" r="0.8"/><circle cx="229.8" cy="434.6" r="0.8"/><circle cx="234.5" cy="441.6" r="0.8"/><circle cx="231.6" cy="433.8" r="0.8"/><circle cx="231.8" cy="438.1" r="0.8"/><circle cx="230.6" cy="438.1" r="0.8"/><circle cx="227.2" cy="437.7" r="0.8"/></g>
<circle cx="234.5" cy="435.5" r="2.0" fill="#333"/>
<circle cx="259.2" cy="439.2" r="7" fill="#c0c0c0" stroke="#a0a0a0" stroke-width="0.8"/>
<g fill="#888"><circle cx="264.1" cy="443.4" r="0.7"/><circle cx="257.7" cy="436.2" r="0.7"/><circle cx="260.8" cy="443.4" r="0.7"/><circle cx="261.9" cy="434.9" r="0.7"/><circle cx="259.9" cy="439.8" r="0.7"/><circle cx="263.8" cy="443.0" r="0.7"/><circle cx="261.2" cy="443.7" r="0.7"/><circle cx="257.8" cy="444.5" r="0.7"/><circle cx="257.4" cy="440.9" r="0.7"/><circle cx="262.7" cy="435.8" r="0.7"/><circle cx="257.0" cy="433.6" r="0.7"/><circle cx="259.9" cy="439.0" r="0.7"/><circle cx="257.8" cy="441.4" r="0.7"/><circle cx="253.0" cy="439.1" r="0.7"/><circle cx="259.6" cy="438.0" r="0.7"/><circle cx="261.7" cy="444.7" r="0.7"/><circle cx="257.4" cy="435.4" r="0.7"/><circle cx="256.6" cy="439.6" r="0.7"/><circle cx="261.5" cy="435.8" r="0.7"/><circle cx="262.8" cy="435.5" r="0.7"/><circle cx="262.6" cy="441.0" r="0.7"/><circle cx="260.5" cy="445.3" r="0.7"/><circle cx="258.0" cy="438.5" r="0.7"/><circle cx="261.1" cy="442.7" r="0.7"/><circle cx="254.3" cy="440.2" r="0.7"/><circle cx="256.2" cy="441.8" r="0.7"/><circle cx="264.3" cy="439.4" r="0.7"/><circle cx="258.7" cy="440.0" r="0.7"/><circle cx="252.8" cy="440.9" r="0.7"/><circle cx="261.6" cy="439.9" r="0.7"/></g>
<circle cx="284" cy="439.2" r="7" fill="#c6c6c6" stroke="#aaa" stroke-width="0.8"/>
<g fill="#999"><circle cx="282.3" cy="436.1" r="0.6"/><circle cx="283.3" cy="443.9" r="0.6"/><circle cx="283.6" cy="444.2" r="0.6"/><circle cx="277.6" cy="438.1" r="0.6"/><circle cx="285.2" cy="439.1" r="0.6"/><circle cx="278.6" cy="437.0" r="0.6"/><circle cx="288.1" cy="435.0" r="0.6"/><circle cx="280.4" cy="435.3" r="0.6"/><circle cx="281.7" cy="441.9" r="0.6"/><circle cx="285.7" cy="433.2" r="0.6"/><circle cx="289.1" cy="437.1" r="0.6"/><circle cx="282.1" cy="444.7" r="0.6"/><circle cx="283.7" cy="434.5" r="0.6"/><circle cx="281.4" cy="436.2" r="0.6"/><circle cx="280.0" cy="437.9" r="0.6"/><circle cx="287.6" cy="440.6" r="0.6"/><circle cx="281.1" cy="445.1" r="0.6"/><circle cx="280.0" cy="439.7" r="0.6"/><circle cx="284.1" cy="442.4" r="0.6"/><circle cx="282.6" cy="441.2" r="0.6"/><circle cx="290.2" cy="439.5" r="0.6"/><circle cx="279.8" cy="440.5" r="0.6"/><circle cx="280.7" cy="437.7" r="0.6"/><circle cx="284.8" cy="440.7" r="0.6"/><circle cx="282.8" cy="442.7" r="0.6"/><circle cx="283.3" cy="434.3" r="0.6"/><circle cx="287.6" cy="437.7" r="0.6"/><circle cx="288.5" cy="436.8" r="0.6"/><circle cx="286.5" cy="440.6" r="0.6"/><circle cx="278.2" cy="436.0" r="0.6"/></g>
<g fill="#999"><circle cx="307.3" cy="444.4" r="0.6"/><circle cx="310.9" cy="440.0" r="0.6"/><circle cx="312.1" cy="439.4" r="0.5"/><circle cx="312.0" cy="441.3" r="0.5"/></g>
<circle cx="338" cy="440" r="0.6" fill="#aaa"/>
<circle cx="232" cy="464.8" r="8" fill="url(#sg9)" stroke="#3c3c3c" stroke-width="1.2"/>
<g fill="#3c3c3c" fill-opacity="0.45"><circle cx="231.2" cy="461.9" r="0.8"/><circle cx="229.7" cy="466.5" r="0.8"/><circle cx="227.3" cy="461.2" r="0.8"/><circle cx="230.3" cy="462.5" r="0.8"/><circle cx="231.4" cy="458.6" r="0.8"/><circle cx="230.5" cy="463.7" r="0.8"/><circle cx="234.2" cy="459.2" r="0.8"/><circle cx="230.7" cy="466.8" r="0.8"/><circle cx="233.8" cy="469.1" r="0.8"/><circle cx="235.6" cy="461.2" r="0.8"/><circle cx="234.6" cy="463.4" r="0.8"/><circle cx="229.4" cy="469.7" r="0.8"/></g>
<circle cx="259" cy="464.8" r="8" fill="url(#sg4)" stroke="#3a3a3a" stroke-width="1.2"/>
<g fill="#3a3a3a" fill-opacity="0.45"><circle cx="256.6" cy="461.5" r="0.8"/><circle cx="257.4" cy="461.4" r="0.8"/><circle cx="262.9" cy="466.3" r="0.8"/><circle cx="263.9" cy="466.2" r="0.8"/><circle cx="256.7" cy="468.7" r="0.8"/><circle cx="256.3" cy="462.9" r="0.8"/><circle cx="258.3" cy="465.0" r="0.8"/><circle cx="263.3" cy="462.6" r="0.8"/><circle cx="260.5" cy="464.7" r="0.8"/><circle cx="254.9" cy="461.2" r="0.8"/><circle cx="258.1" cy="466.5" r="0.8"/><circle cx="260.3" cy="466.8" r="0.8"/></g>
<circle cx="284" cy="464.8" r="8" fill="#6a6a6a"/>
<g fill="#484848"><circle cx="284.2" cy="462.5" r="1.1"/><circle cx="285.9" cy="460.3" r="1.1"/><circle cx="278.3" cy="463.4" r="1.1"/><circle cx="278.2" cy="462.7" r="1.1"/><circle cx="280.5" cy="462.2" r="1.1"/><circle cx="283.8" cy="460.9" r="1.1"/><circle cx="282.4" cy="458.4" r="1.1"/><circle cx="284.7" cy="460.6" r="1.1"/><circle cx="285.1" cy="457.4" r="1.1"/><circle cx="280.2" cy="466.0" r="1.1"/><circle cx="276.7" cy="463.7" r="1.1"/><circle cx="284.5" cy="465.3" r="1.1"/><circle cx="277.9" cy="465.7" r="1.1"/><circle cx="284.7" cy="460.3" r="1.1"/><circle cx="287.6" cy="464.6" r="1.1"/><circle cx="284.1" cy="462.5" r="1.1"/><circle cx="286.7" cy="465.3" r="1.1"/><circle cx="289.0" cy="466.8" r="1.1"/><circle cx="281.0" cy="463.7" r="1.1"/><circle cx="288.3" cy="463.1" r="1.1"/><circle cx="285.9" cy="467.4" r="1.1"/><circle cx="283.4" cy="457.5" r="1.1"/><circle cx="284.7" cy="465.9" r="1.1"/><circle cx="284.7" cy="461.1" r="1.1"/><circle cx="289.3" cy="464.2" r="1.1"/><circle cx="281.1" cy="461.4" r="1.1"/><circle cx="285.6" cy="459.9" r="1.1"/><circle cx="280.8" cy="471.3" r="1.1"/><circle cx="289.1" cy="468.9" r="1.1"/><circle cx="289.6" cy="467.2" r="1.1"/><circle cx="278.2" cy="468.9" r="1.1"/><circle cx="289.3" cy="466.9" r="1.1"/><circle cx="277.9" cy="468.7" r="1.1"/><circle cx="289.7" cy="462.8" r="1.1"/><circle cx="284.6" cy="468.6" r="1.1"/><circle cx="283.6" cy="469.8" r="1.1"/><circle cx="284.4" cy="468.2" r="1.1"/><circle cx="284.3" cy="458.7" r="1.1"/><circle cx="281.7" cy="472.0" r="1.1"/><circle cx="285.2" cy="470.4" r="1.1"/><circle cx="287.9" cy="470.7" r="1.1"/><circle cx="286.7" cy="461.9" r="1.1"/><circle cx="284.1" cy="457.9" r="1.1"/><circle cx="283.1" cy="469.1" r="1.1"/><circle cx="276.9" cy="465.5" r="1.1"/></g>
<g fill="#333"><circle cx="314.1" cy="470.9" r="1.7"/><circle cx="305.9" cy="467.5" r="2.0"/><circle cx="312.6" cy="472.4" r="1.5"/><circle cx="312.2" cy="459.6" r="1.3"/><circle cx="315.6" cy="460.7" r="1.4"/><circle cx="313.3" cy="466.4" r="2.1"/><circle cx="317.7" cy="466.4" r="1.3"/><circle cx="310.8" cy="463.8" r="1.3"/><circle cx="310.1" cy="464.1" r="1.4"/><circle cx="316.2" cy="463.1" r="2.0"/><circle cx="312.3" cy="465.8" r="1.3"/><circle cx="312.5" cy="460.4" r="1.2"/><circle cx="307.6" cy="465.9" r="1.5"/><circle cx="311.8" cy="466.6" r="2.1"/><circle cx="308.3" cy="472.0" r="1.2"/><circle cx="308.4" cy="466.2" r="1.5"/></g>
<g fill="#333"><circle cx="335.3" cy="468.6" r="1.1"/><circle cx="333.8" cy="463.5" r="1.1"/><circle cx="332.5" cy="468.0" r="1.8"/><circle cx="333.1" cy="467.3" r="1.8"/></g>
<circle cx="232" cy="497.3" r="7" fill="url(#sg10)" stroke="#555" stroke-width="1.2"/>
<g fill="#555" fill-opacity="0.45"><circle cx="235.6" cy="494.1" r="0.8"/><circle cx="231.7" cy="499.6" r="0.8"/><circle cx="231.9" cy="498.8" r="0.8"/><circle cx="235.8" cy="498.4" r="0.8"/><circle cx="228.5" cy="499.6" r="0.8"/><circle cx="231.6" cy="497.7" r="0.8"/><circle cx="230.3" cy="493.1" r="0.8"/><circle cx="228.0" cy="496.2" r="0.8"/><circle cx="230.0" cy="492.1" r="0.8"/><circle cx="235.3" cy="493.9" r="0.8"/><circle cx="229.5" cy="499.2" r="0.8"/></g>
<circle cx="260" cy="497.3" r="7" fill="#bbb" stroke="#999" stroke-width="0.8"/>
<g fill="#777"><circle cx="254.3" cy="500.5" r="0.7"/><circle cx="256.9" cy="500.0" r="0.7"/><circle cx="257.9" cy="498.6" r="0.7"/><circle cx="260.5" cy="497.3" r="0.7"/><circle cx="255.0" cy="493.3" r="0.7"/><circle cx="259.8" cy="502.5" r="0.7"/><circle cx="257.7" cy="499.6" r="0.7"/><circle cx="260.7" cy="499.4" r="0.7"/><circle cx="263.2" cy="492.4" r="0.7"/><circle cx="261.2" cy="496.5" r="0.7"/><circle cx="258.7" cy="493.7" r="0.7"/><circle cx="257.0" cy="493.4" r="0.7"/><circle cx="257.4" cy="503.3" r="0.7"/><circle cx="265.7" cy="497.3" r="0.7"/><circle cx="262.9" cy="493.5" r="0.7"/><circle cx="254.5" cy="493.7" r="0.7"/><circle cx="260.5" cy="502.6" r="0.7"/><circle cx="259.8" cy="493.2" r="0.7"/><circle cx="259.0" cy="493.2" r="0.7"/><circle cx="254.9" cy="496.4" r="0.7"/><circle cx="258.3" cy="493.9" r="0.7"/><circle cx="256.6" cy="493.8" r="0.7"/><circle cx="260.9" cy="502.4" r="0.7"/><circle cx="259.4" cy="503.6" r="0.7"/><circle cx="254.4" cy="498.2" r="0.7"/><circle cx="255.5" cy="496.7" r="0.7"/><circle cx="260.5" cy="499.8" r="0.7"/><circle cx="264.3" cy="495.2" r="0.7"/><circle cx="255.2" cy="496.6" r="0.7"/><circle cx="261.3" cy="494.3" r="0.7"/></g>
<circle cx="263" cy="501" r="1.5" fill="#222"/>
<circle cx="285" cy="497.3" r="6.5" fill="#c6c6c6" stroke="#aaa" stroke-width="0.8"/>
<g fill="#999"><circle cx="287.6" cy="502.2" r="0.6"/><circle cx="280.2" cy="498.5" r="0.6"/><circle cx="287.7" cy="492.1" r="0.6"/><circle cx="285.9" cy="496.4" r="0.6"/><circle cx="280.9" cy="501.1" r="0.6"/><circle cx="285.9" cy="495.3" r="0.6"/><circle cx="286.8" cy="499.8" r="0.6"/><circle cx="287.9" cy="499.5" r="0.6"/><circle cx="286.5" cy="493.1" r="0.6"/><circle cx="283.2" cy="497.8" r="0.6"/><circle cx="280.1" cy="501.1" r="0.6"/><circle cx="283.6" cy="493.4" r="0.6"/><circle cx="279.5" cy="498.0" r="0.6"/><circle cx="285.1" cy="494.9" r="0.6"/><circle cx="283.4" cy="493.9" r="0.6"/><circle cx="282.0" cy="496.9" r="0.6"/><circle cx="282.5" cy="499.9" r="0.6"/><circle cx="284.4" cy="497.9" r="0.6"/><circle cx="286.4" cy="501.7" r="0.6"/><circle cx="287.4" cy="498.2" r="0.6"/><circle cx="284.4" cy="494.1" r="0.6"/><circle cx="283.6" cy="500.0" r="0.6"/><circle cx="285.9" cy="495.7" r="0.6"/><circle cx="281.2" cy="493.0" r="0.6"/><circle cx="286.2" cy="501.1" r="0.6"/></g>
<circle cx="312" cy="499" r="0.7" fill="#999"/>
<circle cx="376.5" cy="304.2" r="7.5" fill="url(#sg11)" stroke="#3a3a3a" stroke-width="1.2"/>
<g fill="#3a3a3a" fill-opacity="0.45"><circle cx="377.7" cy="299.6" r="0.8"/><circle cx="375.6" cy="305.1" r="0.8"/><circle cx="373.1" cy="305.5" r="0.8"/><circle cx="375.7" cy="301.0" r="0.8"/><circle cx="372.5" cy="306.8" r="0.8"/><circle cx="377.8" cy="300.9" r="0.8"/><circle cx="373.1" cy="307.2" r="0.8"/><circle cx="378.8" cy="303.0" r="0.8"/><circle cx="381.5" cy="303.3" r="0.8"/><circle cx="373.1" cy="307.7" r="0.8"/><circle cx="375.7" cy="305.6" r="0.8"/><circle cx="376.6" cy="300.5" r="0.8"/></g>
<circle cx="401" cy="304.2" r="7" fill="#9a9a9a"/>
<g fill="#484848"><circle cx="396.4" cy="303.4" r="1.0"/><circle cx="405.7" cy="300.8" r="1.0"/><circle cx="406.1" cy="305.0" r="1.0"/><circle cx="396.6" cy="305.3" r="1.0"/><circle cx="403.3" cy="300.6" r="1.0"/><circle cx="394.8" cy="305.2" r="1.0"/><circle cx="396.7" cy="305.9" r="1.0"/><circle cx="395.0" cy="303.8" r="1.0"/><circle cx="398.3" cy="299.2" r="1.0"/><circle cx="399.9" cy="305.0" r="1.0"/><circle cx="398.9" cy="299.7" r="1.0"/><circle cx="401.7" cy="298.4" r="1.0"/><circle cx="403.3" cy="306.3" r="1.0"/><circle cx="406.3" cy="307.0" r="1.0"/><circle cx="402.6" cy="305.4" r="1.0"/><circle cx="401.1" cy="299.2" r="1.0"/><circle cx="406.2" cy="306.1" r="1.0"/><circle cx="399.9" cy="299.7" r="1.0"/><circle cx="406.2" cy="306.1" r="1.0"/><circle cx="396.6" cy="306.7" r="1.0"/><circle cx="407.0" cy="304.1" r="1.0"/><circle cx="402.8" cy="302.4" r="1.0"/><circle cx="398.6" cy="308.3" r="1.0"/><circle cx="407.6" cy="304.5" r="1.0"/><circle cx="400.5" cy="307.6" r="1.0"/><circle cx="399.7" cy="307.3" r="1.0"/><circle cx="404.1" cy="300.4" r="1.0"/><circle cx="396.7" cy="303.9" r="1.0"/><circle cx="404.5" cy="305.4" r="1.0"/><circle cx="405.0" cy="299.8" r="1.0"/><circle cx="403.1" cy="301.6" r="1.0"/><circle cx="401.5" cy="305.6" r="1.0"/><circle cx="397.0" cy="303.3" r="1.0"/><circle cx="396.5" cy="305.2" r="1.0"/><circle cx="397.5" cy="302.2" r="1.0"/></g>
<g fill="#333"><circle cx="427.0" cy="303.3" r="1.4"/><circle cx="425.6" cy="304.7" r="1.0"/><circle cx="423.9" cy="304.5" r="1.1"/><circle cx="425.5" cy="306.9" r="1.3"/><circle cx="425.5" cy="308.3" r="1.3"/><circle cx="424.1" cy="303.5" r="1.4"/><circle cx="422.9" cy="306.3" r="0.8"/><circle cx="423.5" cy="306.3" r="0.8"/></g>
<circle cx="375.2" cy="330" r="7.5" fill="url(#sg12)" stroke="#3a3a3a" stroke-width="1.2"/>
<g fill="#3a3a3a" fill-opacity="0.45"><circle cx="376.2" cy="328.8" r="0.8"/><circle cx="373.1" cy="328.6" r="0.8"/><circle cx="379.2" cy="327.9" r="0.8"/><circle cx="376.5" cy="326.0" r="0.8"/><circle cx="372.9" cy="325.6" r="0.8"/><circle cx="374.4" cy="332.6" r="0.8"/><circle cx="376.4" cy="328.1" r="0.8"/><circle cx="377.6" cy="328.7" r="0.8"/><circle cx="376.7" cy="331.1" r="0.8"/><circle cx="376.4" cy="324.3" r="0.8"/><circle cx="371.0" cy="332.5" r="0.8"/><circle cx="374.9" cy="335.7" r="0.8"/></g>
<circle cx="401" cy="330" r="6.5" fill="#a0a0a0"/>
<g fill="#484848"><circle cx="400.0" cy="327.8" r="1.0"/><circle cx="405.8" cy="331.8" r="1.0"/><circle cx="406.5" cy="331.5" r="1.0"/><circle cx="400.2" cy="332.9" r="1.0"/><circle cx="398.0" cy="328.3" r="1.0"/><circle cx="398.8" cy="329.1" r="1.0"/><circle cx="404.0" cy="328.2" r="1.0"/><circle cx="402.3" cy="328.0" r="1.0"/><circle cx="402.9" cy="324.2" r="1.0"/><circle cx="400.1" cy="330.7" r="1.0"/><circle cx="397.4" cy="333.4" r="1.0"/><circle cx="401.8" cy="334.5" r="1.0"/><circle cx="404.5" cy="332.3" r="1.0"/><circle cx="400.4" cy="326.0" r="1.0"/><circle cx="400.1" cy="328.1" r="1.0"/><circle cx="402.0" cy="328.1" r="1.0"/><circle cx="406.5" cy="327.1" r="1.0"/><circle cx="405.2" cy="328.3" r="1.0"/><circle cx="400.1" cy="333.5" r="1.0"/><circle cx="401.0" cy="325.6" r="1.0"/><circle cx="402.7" cy="329.2" r="1.0"/><circle cx="395.3" cy="330.5" r="1.0"/><circle cx="397.3" cy="327.4" r="1.0"/><circle cx="403.0" cy="331.2" r="1.0"/><circle cx="400.2" cy="335.8" r="1.0"/><circle cx="402.7" cy="327.6" r="1.0"/><circle cx="402.0" cy="329.5" r="1.0"/><circle cx="396.1" cy="326.5" r="1.0"/><circle cx="397.6" cy="335.0" r="1.0"/><circle cx="400.2" cy="328.9" r="1.0"/></g>
<g fill="#333"><circle cx="424.3" cy="332.9" r="0.9"/><circle cx="425.9" cy="327.9" r="1.3"/><circle cx="425.6" cy="331.3" r="1.1"/><circle cx="429.1" cy="332.1" r="1.3"/><circle cx="423.2" cy="328.1" r="0.8"/><circle cx="424.4" cy="329.9" r="1.2"/><circle cx="428.6" cy="332.8" r="1.0"/><circle cx="423.1" cy="332.9" r="0.9"/><circle cx="428.3" cy="334.2" r="1.0"/><circle cx="428.6" cy="326.1" r="1.1"/></g>
<circle cx="481" cy="336" r="0.6" fill="#999"/>
<circle cx="373.5" cy="355.4" r="6" fill="#bdbdbd"/>
<g fill="#666"><circle cx="374.5" cy="356.8" r="0.8"/><circle cx="374.9" cy="354.1" r="0.8"/><circle cx="369.3" cy="355.5" r="0.8"/><circle cx="376.4" cy="358.0" r="0.8"/><circle cx="375.6" cy="359.0" r="0.8"/><circle cx="370.1" cy="355.3" r="0.8"/><circle cx="374.7" cy="358.8" r="0.8"/><circle cx="374.1" cy="357.3" r="0.8"/><circle cx="373.8" cy="360.7" r="0.8"/><circle cx="368.1" cy="355.3" r="0.8"/><circle cx="379.0" cy="355.9" r="0.8"/><circle cx="368.4" cy="355.8" r="0.8"/><circle cx="369.2" cy="353.4" r="0.8"/><circle cx="374.1" cy="360.3" r="0.8"/><circle cx="375.2" cy="357.8" r="0.8"/><circle cx="377.0" cy="356.1" r="0.8"/><circle cx="370.4" cy="355.1" r="0.8"/><circle cx="374.8" cy="354.3" r="0.8"/></g>
<circle cx="373.5" cy="382" r="7" fill="#7a7a7a"/>
<g fill="#484848"><circle cx="370.7" cy="380.5" r="1.1"/><circle cx="368.6" cy="378.7" r="1.1"/><circle cx="373.1" cy="380.4" r="1.1"/><circle cx="373.6" cy="387.1" r="1.1"/><circle cx="374.8" cy="381.9" r="1.1"/><circle cx="369.4" cy="378.3" r="1.1"/><circle cx="375.0" cy="378.4" r="1.1"/><circle cx="375.2" cy="377.8" r="1.1"/><circle cx="374.1" cy="381.7" r="1.1"/><circle cx="377.5" cy="380.4" r="1.1"/><circle cx="371.9" cy="383.1" r="1.1"/><circle cx="373.7" cy="387.7" r="1.1"/><circle cx="372.4" cy="379.7" r="1.1"/><circle cx="372.1" cy="384.1" r="1.1"/><circle cx="374.5" cy="385.0" r="1.1"/><circle cx="370.3" cy="387.7" r="1.1"/><circle cx="379.4" cy="381.9" r="1.1"/><circle cx="368.8" cy="382.6" r="1.1"/><circle cx="374.7" cy="375.8" r="1.1"/><circle cx="373.5" cy="376.7" r="1.1"/><circle cx="375.2" cy="387.0" r="1.1"/><circle cx="376.8" cy="377.1" r="1.1"/><circle cx="378.2" cy="385.1" r="1.1"/><circle cx="371.9" cy="384.2" r="1.1"/><circle cx="378.8" cy="380.8" r="1.1"/><circle cx="373.4" cy="379.6" r="1.1"/><circle cx="376.5" cy="376.3" r="1.1"/><circle cx="378.2" cy="378.8" r="1.1"/><circle cx="376.4" cy="376.8" r="1.1"/><circle cx="369.8" cy="379.6" r="1.1"/><circle cx="376.2" cy="376.8" r="1.1"/><circle cx="376.0" cy="379.4" r="1.1"/><circle cx="378.2" cy="380.8" r="1.1"/><circle cx="375.6" cy="381.2" r="1.1"/><circle cx="379.3" cy="380.8" r="1.1"/><circle cx="373.4" cy="388.1" r="1.1"/><circle cx="373.8" cy="384.9" r="1.1"/><circle cx="370.4" cy="382.8" r="1.1"/><circle cx="367.2" cy="382.3" r="1.1"/><circle cx="371.3" cy="376.9" r="1.1"/></g>
<g fill="#444"><circle cx="395.6" cy="383.8" r="1.2"/><circle cx="397.0" cy="376.6" r="1.2"/><circle cx="397.8" cy="381.8" r="1.1"/><circle cx="400.5" cy="378.5" r="1.1"/><circle cx="401.3" cy="377.2" r="0.7"/></g>
<g fill="#777"><circle cx="425.6" cy="382.0" r="0.5"/><circle cx="426.7" cy="380.2" r="0.6"/><circle cx="424.3" cy="382.5" r="0.5"/></g>
<circle cx="375.2" cy="412" r="8.5" fill="url(#sg11)" stroke="#3a3a3a" stroke-width="1.2"/>
<g fill="#3a3a3a" fill-opacity="0.45"><circle cx="371.4" cy="417.0" r="0.8"/><circle cx="372.5" cy="409.5" r="0.8"/><circle cx="378.2" cy="413.9" r="0.8"/><circle cx="373.8" cy="407.7" r="0.8"/><circle cx="372.0" cy="406.8" r="0.8"/><circle cx="379.3" cy="415.9" r="0.8"/><circle cx="381.2" cy="413.6" r="0.8"/><circle cx="376.6" cy="415.2" r="0.8"/><circle cx="379.1" cy="410.9" r="0.8"/><circle cx="376.2" cy="418.3" r="0.8"/><circle cx="370.3" cy="407.9" r="0.8"/><circle cx="371.4" cy="415.0" r="0.8"/><circle cx="379.9" cy="410.7" r="0.8"/></g>
<circle cx="400.3" cy="412" r="7.5" fill="#7c7c7c"/>
<g fill="#484848"><circle cx="403.4" cy="411.8" r="1.2"/><circle cx="401.7" cy="409.5" r="1.2"/><circle cx="400.2" cy="412.0" r="1.2"/><circle cx="403.4" cy="418.2" r="1.2"/><circle cx="394.1" cy="413.8" r="1.2"/><circle cx="400.3" cy="416.2" r="1.2"/><circle cx="404.6" cy="415.1" r="1.2"/><circle cx="403.6" cy="408.1" r="1.2"/><circle cx="395.4" cy="416.8" r="1.2"/><circle cx="404.9" cy="408.4" r="1.2"/><circle cx="405.3" cy="414.6" r="1.2"/><circle cx="393.8" cy="414.4" r="1.2"/><circle cx="396.6" cy="416.4" r="1.2"/><circle cx="397.3" cy="408.8" r="1.2"/><circle cx="394.5" cy="411.2" r="1.2"/><circle cx="404.5" cy="409.2" r="1.2"/><circle cx="395.7" cy="417.3" r="1.2"/><circle cx="406.4" cy="414.3" r="1.2"/><circle cx="398.1" cy="407.1" r="1.2"/><circle cx="394.5" cy="414.0" r="1.2"/><circle cx="405.0" cy="408.2" r="1.2"/><circle cx="400.3" cy="410.7" r="1.2"/><circle cx="399.1" cy="414.3" r="1.2"/><circle cx="406.7" cy="410.0" r="1.2"/><circle cx="403.7" cy="416.3" r="1.2"/><circle cx="398.9" cy="411.3" r="1.2"/><circle cx="395.5" cy="415.9" r="1.2"/><circle cx="397.9" cy="409.1" r="1.2"/><circle cx="400.6" cy="408.2" r="1.2"/><circle cx="395.9" cy="410.7" r="1.2"/><circle cx="406.0" cy="411.2" r="1.2"/><circle cx="402.3" cy="406.5" r="1.2"/><circle cx="395.2" cy="416.8" r="1.2"/><circle cx="398.8" cy="406.3" r="1.2"/><circle cx="399.8" cy="414.8" r="1.2"/><circle cx="394.5" cy="409.1" r="1.2"/><circle cx="401.4" cy="408.0" r="1.2"/><circle cx="403.6" cy="415.9" r="1.2"/><circle cx="402.4" cy="410.0" r="1.2"/><circle cx="400.1" cy="409.1" r="1.2"/><circle cx="399.7" cy="413.5" r="1.2"/><circle cx="399.0" cy="416.2" r="1.2"/><circle cx="407.1" cy="410.6" r="1.2"/><circle cx="401.8" cy="415.7" r="1.2"/><circle cx="403.3" cy="410.9" r="1.2"/></g>
<circle cx="426.4" cy="412" r="7" fill="#8c8c8c"/>
<g fill="#484848"><circle cx="424.5" cy="416.0" r="1.2"/><circle cx="429.0" cy="414.1" r="1.2"/><circle cx="423.2" cy="414.6" r="1.2"/><circle cx="429.7" cy="411.2" r="1.2"/><circle cx="428.2" cy="418.1" r="1.2"/><circle cx="420.6" cy="413.9" r="1.2"/><circle cx="422.6" cy="407.5" r="1.2"/><circle cx="425.4" cy="414.4" r="1.2"/><circle cx="426.6" cy="407.4" r="1.2"/><circle cx="421.3" cy="410.0" r="1.2"/><circle cx="426.5" cy="408.5" r="1.2"/><circle cx="422.3" cy="416.8" r="1.2"/><circle cx="422.9" cy="411.3" r="1.2"/><circle cx="424.1" cy="409.5" r="1.2"/><circle cx="426.6" cy="410.7" r="1.2"/><circle cx="428.7" cy="407.6" r="1.2"/><circle cx="422.5" cy="417.1" r="1.2"/><circle cx="426.1" cy="415.3" r="1.2"/><circle cx="430.9" cy="414.1" r="1.2"/><circle cx="426.5" cy="406.5" r="1.2"/><circle cx="421.3" cy="415.1" r="1.2"/><circle cx="429.2" cy="414.4" r="1.2"/><circle cx="422.4" cy="406.8" r="1.2"/><circle cx="422.7" cy="407.9" r="1.2"/><circle cx="427.0" cy="407.9" r="1.2"/><circle cx="431.7" cy="409.9" r="1.2"/><circle cx="424.1" cy="415.5" r="1.2"/><circle cx="427.7" cy="408.3" r="1.2"/><circle cx="428.8" cy="417.7" r="1.2"/><circle cx="421.7" cy="411.0" r="1.2"/><circle cx="423.3" cy="406.5" r="1.2"/><circle cx="429.0" cy="414.9" r="1.2"/><circle cx="430.3" cy="413.7" r="1.2"/><circle cx="420.3" cy="411.9" r="1.2"/><circle cx="423.9" cy="407.6" r="1.2"/><circle cx="422.3" cy="414.9" r="1.2"/><circle cx="425.5" cy="418.0" r="1.2"/><circle cx="427.9" cy="406.1" r="1.2"/><circle cx="429.6" cy="416.4" r="1.2"/><circle cx="426.5" cy="407.3" r="1.2"/></g>
<g fill="#333"><circle cx="457.0" cy="407.6" r="1.6"/><circle cx="454.5" cy="406.6" r="1.7"/><circle cx="455.8" cy="414.7" r="1.6"/><circle cx="450.0" cy="409.0" r="1.0"/><circle cx="448.1" cy="407.7" r="1.2"/><circle cx="453.1" cy="413.8" r="1.1"/><circle cx="449.7" cy="405.7" r="1.7"/><circle cx="449.2" cy="414.9" r="1.0"/></g>
<circle cx="482.4" cy="412" r="2.2" fill="#333"/>
<circle cx="379.8" cy="440.3" r="8" fill="#7a7a7a"/>
<g fill="#484848"><circle cx="382.1" cy="436.6" r="1.1"/><circle cx="385.8" cy="440.4" r="1.1"/><circle cx="382.4" cy="443.4" r="1.1"/><circle cx="384.5" cy="442.1" r="1.1"/><circle cx="373.4" cy="438.0" r="1.1"/><circle cx="386.5" cy="442.0" r="1.1"/><circle cx="382.6" cy="442.6" r="1.1"/><circle cx="376.8" cy="437.1" r="1.1"/><circle cx="377.0" cy="445.3" r="1.1"/><circle cx="381.2" cy="446.9" r="1.1"/><circle cx="381.6" cy="447.0" r="1.1"/><circle cx="381.8" cy="435.1" r="1.1"/><circle cx="386.4" cy="441.6" r="1.1"/><circle cx="385.1" cy="441.3" r="1.1"/><circle cx="378.1" cy="441.2" r="1.1"/><circle cx="375.4" cy="435.6" r="1.1"/><circle cx="375.7" cy="437.9" r="1.1"/><circle cx="374.0" cy="439.9" r="1.1"/><circle cx="380.9" cy="447.3" r="1.1"/><circle cx="386.6" cy="440.1" r="1.1"/><circle cx="384.0" cy="439.3" r="1.1"/><circle cx="381.8" cy="440.1" r="1.1"/><circle cx="377.0" cy="440.7" r="1.1"/><circle cx="373.8" cy="442.1" r="1.1"/><circle cx="378.5" cy="435.3" r="1.1"/><circle cx="378.0" cy="443.1" r="1.1"/><circle cx="376.5" cy="442.6" r="1.1"/><circle cx="382.0" cy="446.4" r="1.1"/><circle cx="374.8" cy="439.8" r="1.1"/><circle cx="381.9" cy="446.3" r="1.1"/><circle cx="381.1" cy="444.0" r="1.1"/><circle cx="373.9" cy="437.9" r="1.1"/><circle cx="386.3" cy="439.2" r="1.1"/><circle cx="386.7" cy="438.0" r="1.1"/><circle cx="378.7" cy="433.9" r="1.1"/><circle cx="383.0" cy="441.6" r="1.1"/><circle cx="386.8" cy="440.9" r="1.1"/><circle cx="378.7" cy="434.4" r="1.1"/><circle cx="379.4" cy="444.8" r="1.1"/><circle cx="382.9" cy="445.5" r="1.1"/><circle cx="384.0" cy="440.1" r="1.1"/><circle cx="382.9" cy="441.2" r="1.1"/><circle cx="375.4" cy="446.0" r="1.1"/><circle cx="381.5" cy="435.5" r="1.1"/><circle cx="381.8" cy="441.8" r="1.1"/></g>
<g fill="#333"><circle cx="405.4" cy="445.4" r="1.3"/><circle cx="408.6" cy="439.9" r="1.5"/><circle cx="395.6" cy="441.2" r="1.0"/><circle cx="406.0" cy="443.6" r="1.3"/><circle cx="402.8" cy="443.7" r="0.9"/><circle cx="406.9" cy="437.1" r="1.6"/><circle cx="406.5" cy="439.7" r="1.5"/><circle cx="397.2" cy="444.5" r="1.6"/><circle cx="402.4" cy="440.9" r="1.1"/><circle cx="398.2" cy="438.1" r="0.9"/><circle cx="404.9" cy="434.9" r="1.3"/><circle cx="408.3" cy="442.1" r="1.3"/><circle cx="405.5" cy="442.0" r="1.4"/><circle cx="405.6" cy="437.1" r="1.4"/><circle cx="402.8" cy="443.6" r="1.6"/><circle cx="400.2" cy="441.8" r="1.4"/></g>
<g fill="#444"><circle cx="430.0" cy="441.3" r="0.9"/><circle cx="426.0" cy="438.4" r="1.0"/><circle cx="427.7" cy="440.4" r="1.0"/><circle cx="431.3" cy="440.9" r="0.8"/><circle cx="427.1" cy="437.0" r="0.8"/></g>
<circle cx="449.2" cy="442" r="0.8" fill="#555"/>
<circle cx="375.2" cy="466.4" r="7.5" fill="url(#sg13)" stroke="#3c3c3c" stroke-width="1.2"/>
<g fill="#3c3c3c" fill-opacity="0.45"><circle cx="372.3" cy="462.4" r="0.8"/><circle cx="373.0" cy="466.8" r="0.8"/><circle cx="379.1" cy="463.9" r="0.8"/><circle cx="377.9" cy="467.5" r="0.8"/><circle cx="378.1" cy="466.2" r="0.8"/><circle cx="371.0" cy="469.7" r="0.8"/><circle cx="377.3" cy="462.1" r="0.8"/><circle cx="375.1" cy="465.2" r="0.8"/><circle cx="380.1" cy="469.7" r="0.8"/><circle cx="375.6" cy="465.3" r="0.8"/><circle cx="378.0" cy="467.3" r="0.8"/><circle cx="377.7" cy="465.2" r="0.8"/></g>
<circle cx="400.3" cy="466.4" r="7" fill="#8a8a8a"/>
<g fill="#484848"><circle cx="397.3" cy="460.7" r="1.1"/><circle cx="396.2" cy="461.5" r="1.1"/><circle cx="400.1" cy="469.0" r="1.1"/><circle cx="406.0" cy="467.1" r="1.1"/><circle cx="405.5" cy="470.4" r="1.1"/><circle cx="399.6" cy="463.6" r="1.1"/><circle cx="401.2" cy="463.9" r="1.1"/><circle cx="398.1" cy="466.2" r="1.1"/><circle cx="401.7" cy="460.3" r="1.1"/><circle cx="400.6" cy="466.2" r="1.1"/><circle cx="403.2" cy="462.4" r="1.1"/><circle cx="402.3" cy="462.2" r="1.1"/><circle cx="396.6" cy="462.9" r="1.1"/><circle cx="400.9" cy="464.6" r="1.1"/><circle cx="404.9" cy="468.0" r="1.1"/><circle cx="399.2" cy="470.5" r="1.1"/><circle cx="406.0" cy="466.7" r="1.1"/><circle cx="406.3" cy="467.3" r="1.1"/><circle cx="402.0" cy="462.2" r="1.1"/><circle cx="404.2" cy="470.1" r="1.1"/><circle cx="401.5" cy="470.6" r="1.1"/><circle cx="405.4" cy="470.6" r="1.1"/><circle cx="396.5" cy="465.3" r="1.1"/><circle cx="405.0" cy="469.6" r="1.1"/><circle cx="403.9" cy="461.4" r="1.1"/><circle cx="403.5" cy="468.8" r="1.1"/><circle cx="398.4" cy="471.9" r="1.1"/><circle cx="403.4" cy="470.5" r="1.1"/><circle cx="406.1" cy="465.6" r="1.1"/><circle cx="402.1" cy="466.5" r="1.1"/><circle cx="404.5" cy="470.0" r="1.1"/><circle cx="396.4" cy="463.6" r="1.1"/><circle cx="396.2" cy="467.6" r="1.1"/><circle cx="396.2" cy="463.0" r="1.1"/><circle cx="405.2" cy="463.5" r="1.1"/><circle cx="402.1" cy="460.3" r="1.1"/><circle cx="403.2" cy="461.6" r="1.1"/><circle cx="405.7" cy="467.4" r="1.1"/><circle cx="402.9" cy="462.9" r="1.1"/><circle cx="402.3" cy="464.4" r="1.1"/></g>
<g fill="#333"><circle cx="431.7" cy="465.0" r="1.1"/><circle cx="427.9" cy="469.7" r="0.9"/><circle cx="427.2" cy="468.0" r="1.0"/><circle cx="432.8" cy="465.8" r="1.3"/><circle cx="428.4" cy="460.9" r="1.3"/><circle cx="428.1" cy="463.3" r="0.8"/><circle cx="427.3" cy="466.9" r="0.8"/><circle cx="432.3" cy="462.6" r="0.9"/><circle cx="428.7" cy="461.2" r="1.2"/><circle cx="429.2" cy="462.2" r="0.8"/><circle cx="429.5" cy="463.4" r="1.1"/><circle cx="425.0" cy="469.7" r="1.3"/><circle cx="430.3" cy="470.1" r="1.1"/><circle cx="422.4" cy="465.0" r="0.9"/></g>
<circle cx="375.5" cy="495.7" r="8" fill="#7c7c7c"/>
<g fill="#484848"><circle cx="380.9" cy="492.4" r="1.1"/><circle cx="377.7" cy="495.2" r="1.1"/><circle cx="376.5" cy="499.7" r="1.1"/><circle cx="376.2" cy="495.2" r="1.1"/><circle cx="375.1" cy="502.1" r="1.1"/><circle cx="378.7" cy="495.5" r="1.1"/><circle cx="369.7" cy="498.1" r="1.1"/><circle cx="373.1" cy="489.6" r="1.1"/><circle cx="375.6" cy="491.9" r="1.1"/><circle cx="375.4" cy="497.0" r="1.1"/><circle cx="374.2" cy="492.5" r="1.1"/><circle cx="375.1" cy="503.1" r="1.1"/><circle cx="371.9" cy="491.1" r="1.1"/><circle cx="372.2" cy="490.8" r="1.1"/><circle cx="374.1" cy="491.8" r="1.1"/><circle cx="377.3" cy="496.5" r="1.1"/><circle cx="380.1" cy="496.1" r="1.1"/><circle cx="377.1" cy="497.7" r="1.1"/><circle cx="368.0" cy="496.0" r="1.1"/><circle cx="374.0" cy="492.0" r="1.1"/><circle cx="375.9" cy="492.5" r="1.1"/><circle cx="378.9" cy="498.2" r="1.1"/><circle cx="370.2" cy="499.1" r="1.1"/><circle cx="369.4" cy="497.9" r="1.1"/><circle cx="381.6" cy="499.8" r="1.1"/><circle cx="371.7" cy="501.5" r="1.1"/><circle cx="382.3" cy="497.0" r="1.1"/><circle cx="376.5" cy="502.6" r="1.1"/><circle cx="377.5" cy="489.8" r="1.1"/><circle cx="375.4" cy="496.4" r="1.1"/><circle cx="378.2" cy="502.4" r="1.1"/><circle cx="378.9" cy="500.9" r="1.1"/><circle cx="370.2" cy="492.5" r="1.1"/><circle cx="376.7" cy="498.3" r="1.1"/><circle cx="381.7" cy="500.0" r="1.1"/><circle cx="370.9" cy="499.8" r="1.1"/><circle cx="372.2" cy="494.2" r="1.1"/><circle cx="376.3" cy="496.1" r="1.1"/><circle cx="377.1" cy="493.5" r="1.1"/><circle cx="380.0" cy="494.6" r="1.1"/><circle cx="375.0" cy="492.9" r="1.1"/><circle cx="376.4" cy="492.0" r="1.1"/><circle cx="371.8" cy="499.8" r="1.1"/><circle cx="378.4" cy="498.1" r="1.1"/><circle cx="376.7" cy="491.8" r="1.1"/></g>
<g fill="#333"><circle cx="400.2" cy="499.3" r="0.8"/><circle cx="405.0" cy="498.3" r="0.9"/><circle cx="400.8" cy="499.3" r="1.0"/><circle cx="404.9" cy="494.7" r="1.1"/><circle cx="405.5" cy="493.2" r="0.7"/><circle cx="402.1" cy="496.5" r="1.0"/><circle cx="403.6" cy="493.9" r="0.8"/></g>
<g fill="#333"><circle cx="428.3" cy="495.9" r="1.0"/><circle cx="428.7" cy="496.2" r="0.9"/><circle cx="428.2" cy="497.8" r="1.5"/><circle cx="429.0" cy="495.3" r="1.0"/><circle cx="429.9" cy="492.7" r="1.5"/><circle cx="433.6" cy="494.8" r="0.9"/><circle cx="432.7" cy="494.7" r="1.0"/><circle cx="431.8" cy="499.0" r="1.0"/><circle cx="431.8" cy="496.7" r="1.5"/></g>
</g>
<text x="0.50" y="549.80" font-size="21.5" font-weight="bold" font-style="normal" text-anchor="start" fill="#000" >c</text>
<text x="68.00" y="565.50" font-size="14.5" font-weight="bold" font-style="normal" text-anchor="middle" fill="#000" >I</text>
<text x="80.50" y="565.50" font-size="14.5" font-weight="bold" font-style="normal" text-anchor="middle" fill="#000" >II</text>
<text x="96.10" y="565.50" font-size="14.5" font-weight="bold" font-style="normal" text-anchor="middle" fill="#000" >III</text>
<text x="113.80" y="565.50" font-size="14.5" font-weight="bold" font-style="normal" text-anchor="middle" fill="#000" >IV</text>
<text x="134.50" y="565.50" font-size="14.5" font-weight="bold" font-style="normal" text-anchor="middle" fill="#000" >V</text>
<text x="159.60" y="565.50" font-size="14.5" font-weight="bold" font-style="normal" text-anchor="middle" fill="#000" >VII</text>
<text x="201.80" y="565.50" font-size="14.5" font-weight="bold" font-style="normal" text-anchor="middle" fill="#000" >X</text>
<text x="216.10" y="565.50" font-size="14.5" font-weight="bold" font-style="normal" text-anchor="middle" fill="#000" >XI</text>
<text x="236.10" y="565.50" font-size="14.5" font-weight="bold" font-style="normal" text-anchor="middle" fill="#000" >XII</text>
<text x="258.10" y="565.50" font-size="14.5" font-weight="bold" font-style="normal" text-anchor="middle" fill="#000" >XIII</text>
<text x="292.20" y="565.50" font-size="14.5" font-weight="bold" font-style="normal" text-anchor="middle" fill="#000" >XV</text>
<text x="316.40" y="565.50" font-size="14.5" font-weight="bold" font-style="normal" text-anchor="middle" fill="#000" >XVI</text>
<text x="149.00" y="543.80" font-size="14.5" font-weight="bold" font-style="normal" text-anchor="middle" fill="#000" >VI</text>
<text x="176.00" y="543.80" font-size="14.5" font-weight="bold" font-style="normal" text-anchor="middle" fill="#000" >VIII</text>
<text x="196.90" y="543.80" font-size="14.5" font-weight="bold" font-style="normal" text-anchor="middle" fill="#000" >IX</text>
<text x="279.70" y="543.80" font-size="14.5" font-weight="bold" font-style="normal" text-anchor="middle" fill="#000" >XIV</text>
<line x1="148.2" y1="547.8" x2="146.3" y2="563" stroke="#000" stroke-width="1.15"/>
<circle cx="146.3" cy="564.1" r="1.9" fill="#000"/>
<line x1="179.2" y1="547.8" x2="177.3" y2="563" stroke="#000" stroke-width="1.15"/>
<circle cx="177.3" cy="564.1" r="1.9" fill="#000"/>
<line x1="192.1" y1="547.8" x2="190.2" y2="563" stroke="#000" stroke-width="1.15"/>
<circle cx="190.2" cy="564.1" r="1.9" fill="#000"/>
<line x1="277.6" y1="547.8" x2="275.7" y2="563" stroke="#000" stroke-width="1.15"/>
<circle cx="275.7" cy="564.1" r="1.9" fill="#000"/>
<text x="375.70" y="565.50" font-size="14.5" font-weight="bold" font-style="normal" text-anchor="middle" fill="#000" >I</text>
<text x="388.20" y="565.50" font-size="14.5" font-weight="bold" font-style="normal" text-anchor="middle" fill="#000" >II</text>
<text x="403.80" y="565.50" font-size="14.5" font-weight="bold" font-style="normal" text-anchor="middle" fill="#000" >III</text>
<text x="421.50" y="565.50" font-size="14.5" font-weight="bold" font-style="normal" text-anchor="middle" fill="#000" >IV</text>
<text x="442.20" y="565.50" font-size="14.5" font-weight="bold" font-style="normal" text-anchor="middle" fill="#000" >V</text>
<text x="467.30" y="565.50" font-size="14.5" font-weight="bold" font-style="normal" text-anchor="middle" fill="#000" >VII</text>
<text x="509.50" y="565.50" font-size="14.5" font-weight="bold" font-style="normal" text-anchor="middle" fill="#000" >X</text>
<text x="523.80" y="565.50" font-size="14.5" font-weight="bold" font-style="normal" text-anchor="middle" fill="#000" >XI</text>
<text x="543.80" y="565.50" font-size="14.5" font-weight="bold" font-style="normal" text-anchor="middle" fill="#000" >XII</text>
<text x="565.80" y="565.50" font-size="14.5" font-weight="bold" font-style="normal" text-anchor="middle" fill="#000" >XIII</text>
<text x="599.90" y="565.50" font-size="14.5" font-weight="bold" font-style="normal" text-anchor="middle" fill="#000" >XV</text>
<text x="624.10" y="565.50" font-size="14.5" font-weight="bold" font-style="normal" text-anchor="middle" fill="#000" >XVI</text>
<text x="456.70" y="543.80" font-size="14.5" font-weight="bold" font-style="normal" text-anchor="middle" fill="#000" >VI</text>
<text x="483.70" y="543.80" font-size="14.5" font-weight="bold" font-style="normal" text-anchor="middle" fill="#000" >VIII</text>
<text x="504.60" y="543.80" font-size="14.5" font-weight="bold" font-style="normal" text-anchor="middle" fill="#000" >IX</text>
<text x="587.40" y="543.80" font-size="14.5" font-weight="bold" font-style="normal" text-anchor="middle" fill="#000" >XIV</text>
<line x1="455.9" y1="547.8" x2="454.0" y2="563" stroke="#000" stroke-width="1.15"/>
<circle cx="454.0" cy="564.1" r="1.9" fill="#000"/>
<line x1="486.9" y1="547.8" x2="485.0" y2="563" stroke="#000" stroke-width="1.15"/>
<circle cx="485.0" cy="564.1" r="1.9" fill="#000"/>
<line x1="499.8" y1="547.8" x2="497.9" y2="563" stroke="#000" stroke-width="1.15"/>
<circle cx="497.9" cy="564.1" r="1.9" fill="#000"/>
<line x1="585.3" y1="547.8" x2="583.4" y2="563" stroke="#000" stroke-width="1.15"/>
<circle cx="583.4" cy="564.1" r="1.9" fill="#000"/>
<line x1="65.2" y1="593.50" x2="326.7" y2="593.50" stroke="#7a7a7a" stroke-width="1.2"/>
<line x1="65.2" y1="614.50" x2="326.7" y2="614.50" stroke="#7a7a7a" stroke-width="1.2"/>
<line x1="65.2" y1="634.50" x2="326.7" y2="634.50" stroke="#7a7a7a" stroke-width="1.2"/>
<line x1="70.50" y1="573.5" x2="70.50" y2="655.3" stroke="#a0a0a0" stroke-width="1"/>
<line x1="70.50" y1="573" x2="70.50" y2="655.3" stroke="#3a3a3a" stroke-width="1" stroke-dasharray="1 1"/>
<line x1="90.50" y1="573.5" x2="90.50" y2="655.3" stroke="#a0a0a0" stroke-width="1"/>
<line x1="90.50" y1="573" x2="90.50" y2="655.3" stroke="#3a3a3a" stroke-width="1" stroke-dasharray="1 1"/>
<line x1="97.50" y1="573.5" x2="97.50" y2="655.3" stroke="#a0a0a0" stroke-width="1"/>
<line x1="97.50" y1="573" x2="97.50" y2="655.3" stroke="#3a3a3a" stroke-width="1" stroke-dasharray="1 1"/>
<line x1="127.50" y1="573.5" x2="127.50" y2="655.3" stroke="#a0a0a0" stroke-width="1"/>
<line x1="127.50" y1="573" x2="127.50" y2="655.3" stroke="#3a3a3a" stroke-width="1" stroke-dasharray="1 1"/>
<line x1="142.50" y1="573.5" x2="142.50" y2="655.3" stroke="#a0a0a0" stroke-width="1"/>
<line x1="142.50" y1="573" x2="142.50" y2="655.3" stroke="#3a3a3a" stroke-width="1" stroke-dasharray="1 1"/>
<line x1="149.50" y1="573.5" x2="149.50" y2="655.3" stroke="#a0a0a0" stroke-width="1"/>
<line x1="149.50" y1="573" x2="149.50" y2="655.3" stroke="#3a3a3a" stroke-width="1" stroke-dasharray="1 1"/>
<line x1="173.50" y1="573.5" x2="173.50" y2="655.3" stroke="#a0a0a0" stroke-width="1"/>
<line x1="173.50" y1="573" x2="173.50" y2="655.3" stroke="#3a3a3a" stroke-width="1" stroke-dasharray="1 1"/>
<line x1="184.50" y1="573.5" x2="184.50" y2="655.3" stroke="#a0a0a0" stroke-width="1"/>
<line x1="184.50" y1="573" x2="184.50" y2="655.3" stroke="#3a3a3a" stroke-width="1" stroke-dasharray="1 1"/>
<line x1="195.50" y1="573.5" x2="195.50" y2="655.3" stroke="#a0a0a0" stroke-width="1"/>
<line x1="195.50" y1="573" x2="195.50" y2="655.3" stroke="#3a3a3a" stroke-width="1" stroke-dasharray="1 1"/>
<line x1="208.50" y1="573.5" x2="208.50" y2="655.3" stroke="#a0a0a0" stroke-width="1"/>
<line x1="208.50" y1="573" x2="208.50" y2="655.3" stroke="#3a3a3a" stroke-width="1" stroke-dasharray="1 1"/>
<line x1="224.50" y1="573.5" x2="224.50" y2="655.3" stroke="#a0a0a0" stroke-width="1"/>
<line x1="224.50" y1="573" x2="224.50" y2="655.3" stroke="#3a3a3a" stroke-width="1" stroke-dasharray="1 1"/>
<line x1="246.50" y1="573.5" x2="246.50" y2="655.3" stroke="#a0a0a0" stroke-width="1"/>
<line x1="246.50" y1="573" x2="246.50" y2="655.3" stroke="#3a3a3a" stroke-width="1" stroke-dasharray="1 1"/>
<line x1="266.50" y1="573.5" x2="266.50" y2="655.3" stroke="#a0a0a0" stroke-width="1"/>
<line x1="266.50" y1="573" x2="266.50" y2="655.3" stroke="#3a3a3a" stroke-width="1" stroke-dasharray="1 1"/>
<line x1="281.50" y1="573.5" x2="281.50" y2="655.3" stroke="#a0a0a0" stroke-width="1"/>
<line x1="281.50" y1="573" x2="281.50" y2="655.3" stroke="#3a3a3a" stroke-width="1" stroke-dasharray="1 1"/>
<line x1="305.50" y1="573.5" x2="305.50" y2="655.3" stroke="#a0a0a0" stroke-width="1"/>
<line x1="305.50" y1="573" x2="305.50" y2="655.3" stroke="#3a3a3a" stroke-width="1" stroke-dasharray="1 1"/>
<rect x="65.2" y="573.5" width="261.5" height="81.8" fill="none" stroke="#444" stroke-width="1.1"/>
<path d="M79.4 617.8h1.5v1.5h-1.5zM87.9 610.9h1.5v1.5h-1.5zM85.2 615.2h1.5v1.5h-1.5zM75.9 611.5h1.5v1.5h-1.5zM84.0 611.7h1.5v1.5h-1.5zM87.2 618.0h1.5v1.5h-1.5zM71.0 610.7h1.5v1.5h-1.5zM87.6 614.8h1.5v1.5h-1.5zM72.2 612.9h1.5v1.5h-1.5zM72.4 615.3h1.5v1.5h-1.5zM87.3 610.7h1.5v1.5h-1.5zM72.7 611.9h1.5v1.5h-1.5zM84.5 615.9h1.5v1.5h-1.5zM74.2 615.8h1.5v1.5h-1.5zM73.2 609.5h1.5v1.5h-1.5zM74.6 611.4h1.5v1.5h-1.5zM87.5 617.3h1.5v1.5h-1.5zM74.5 608.0h1.5v1.5h-1.5zM85.5 600.7h1.5v1.5h-1.5zM74.6 608.5h1.5v1.5h-1.5zM84.1 613.5h1.5v1.5h-1.5zM72.5 611.7h1.5v1.5h-1.5zM75.1 617.7h1.5v1.5h-1.5zM87.3 611.1h1.5v1.5h-1.5zM80.7 612.4h1.5v1.5h-1.5zM86.4 610.8h1.5v1.5h-1.5zM75.2 613.7h1.5v1.5h-1.5zM74.3 643.7h1.5v1.5h-1.5zM85.9 615.8h1.5v1.5h-1.5zM71.6 610.8h1.5v1.5h-1.5zM75.0 614.1h1.5v1.5h-1.5zM81.1 608.3h1.5v1.5h-1.5zM73.9 610.2h1.5v1.5h-1.5zM80.5 612.0h1.5v1.5h-1.5zM81.4 611.7h1.5v1.5h-1.5zM71.2 614.1h1.5v1.5h-1.5zM78.5 612.1h1.5v1.5h-1.5zM80.7 611.0h1.5v1.5h-1.5zM77.1 605.9h1.5v1.5h-1.5zM82.7 614.6h1.5v1.5h-1.5zM73.3 607.4h1.5v1.5h-1.5zM82.9 610.5h1.5v1.5h-1.5zM71.3 622.2h1.5v1.5h-1.5zM76.4 611.4h1.5v1.5h-1.5zM72.2 614.6h1.5v1.5h-1.5zM83.5 625.0h1.5v1.5h-1.5zM84.4 618.5h1.5v1.5h-1.5zM86.3 607.2h1.5v1.5h-1.5zM78.0 609.1h1.5v1.5h-1.5zM81.6 615.9h1.5v1.5h-1.5zM80.9 607.0h1.5v1.5h-1.5zM87.8 610.0h1.5v1.5h-1.5zM83.3 613.6h1.5v1.5h-1.5zM78.4 620.6h1.5v1.5h-1.5zM72.4 606.6h1.5v1.5h-1.5zM79.1 612.6h1.5v1.5h-1.5zM82.8 617.7h1.5v1.5h-1.5zM75.3 617.2h1.5v1.5h-1.5zM76.1 612.7h1.5v1.5h-1.5zM86.3 610.6h1.5v1.5h-1.5zM78.5 617.3h1.5v1.5h-1.5zM74.3 609.8h1.5v1.5h-1.5zM94.3 609.8h1.5v1.5h-1.5zM93.3 615.0h1.5v1.5h-1.5zM91.2 610.6h1.5v1.5h-1.5zM93.9 634.7h1.5v1.5h-1.5zM91.9 615.3h1.5v1.5h-1.5zM91.6 612.6h1.5v1.5h-1.5zM93.5 615.3h1.5v1.5h-1.5zM95.2 608.6h1.5v1.5h-1.5zM90.9 612.7h1.5v1.5h-1.5zM93.9 614.8h1.5v1.5h-1.5zM92.0 610.8h1.5v1.5h-1.5zM92.7 613.1h1.5v1.5h-1.5zM94.4 612.7h1.5v1.5h-1.5zM93.5 612.6h1.5v1.5h-1.5zM93.5 608.9h1.5v1.5h-1.5zM93.8 619.5h1.5v1.5h-1.5zM92.8 610.2h1.5v1.5h-1.5zM93.9 613.0h1.5v1.5h-1.5zM91.8 614.3h1.5v1.5h-1.5zM93.4 619.7h1.5v1.5h-1.5zM92.4 611.8h1.5v1.5h-1.5zM94.9 614.9h1.5v1.5h-1.5zM91.2 617.4h1.5v1.5h-1.5zM108.2 621.9h1.5v1.5h-1.5zM122.0 608.1h1.5v1.5h-1.5zM115.8 614.3h1.5v1.5h-1.5zM117.7 619.0h1.5v1.5h-1.5zM103.7 620.2h1.5v1.5h-1.5zM124.8 635.5h1.5v1.5h-1.5zM106.7 615.8h1.5v1.5h-1.5zM121.4 610.8h1.5v1.5h-1.5zM113.0 610.8h1.5v1.5h-1.5zM111.3 612.9h1.5v1.5h-1.5zM119.8 614.1h1.5v1.5h-1.5zM107.1 611.7h1.5v1.5h-1.5zM112.1 611.3h1.5v1.5h-1.5zM120.9 607.8h1.5v1.5h-1.5zM124.0 614.3h1.5v1.5h-1.5zM103.9 615.8h1.5v1.5h-1.5zM115.4 605.3h1.5v1.5h-1.5zM121.0 615.6h1.5v1.5h-1.5zM121.1 608.8h1.5v1.5h-1.5zM103.6 607.3h1.5v1.5h-1.5zM113.6 613.9h1.5v1.5h-1.5zM112.6 614.6h1.5v1.5h-1.5zM124.5 614.4h1.5v1.5h-1.5zM108.9 619.4h1.5v1.5h-1.5zM116.9 614.4h1.5v1.5h-1.5zM112.7 607.4h1.5v1.5h-1.5zM105.3 614.9h1.5v1.5h-1.5zM101.3 610.9h1.5v1.5h-1.5zM111.0 618.5h1.5v1.5h-1.5zM103.1 611.2h1.5v1.5h-1.5zM119.3 613.9h1.5v1.5h-1.5zM103.2 614.1h1.5v1.5h-1.5zM107.6 618.0h1.5v1.5h-1.5zM100.7 609.1h1.5v1.5h-1.5zM104.7 611.0h1.5v1.5h-1.5zM112.4 615.2h1.5v1.5h-1.5zM112.4 611.3h1.5v1.5h-1.5zM103.5 617.9h1.5v1.5h-1.5zM121.3 618.6h1.5v1.5h-1.5zM121.4 613.5h1.5v1.5h-1.5zM122.7 618.1h1.5v1.5h-1.5zM106.5 609.9h1.5v1.5h-1.5zM122.3 603.9h1.5v1.5h-1.5zM104.4 613.8h1.5v1.5h-1.5zM120.7 612.0h1.5v1.5h-1.5zM119.6 616.6h1.5v1.5h-1.5zM98.3 610.9h1.5v1.5h-1.5zM116.6 611.1h1.5v1.5h-1.5zM111.8 614.2h1.5v1.5h-1.5zM111.7 612.9h1.5v1.5h-1.5zM100.8 612.3h1.5v1.5h-1.5zM113.0 616.4h1.5v1.5h-1.5zM102.9 613.9h1.5v1.5h-1.5zM121.0 608.6h1.5v1.5h-1.5zM99.6 616.2h1.5v1.5h-1.5zM110.6 616.4h1.5v1.5h-1.5zM112.0 610.6h1.5v1.5h-1.5zM114.4 614.8h1.5v1.5h-1.5zM102.8 618.1h1.5v1.5h-1.5zM118.2 612.7h1.5v1.5h-1.5zM111.9 611.7h1.5v1.5h-1.5zM122.4 616.6h1.5v1.5h-1.5zM115.2 618.3h1.5v1.5h-1.5zM114.3 604.1h1.5v1.5h-1.5zM105.0 614.7h1.5v1.5h-1.5zM118.3 611.5h1.5v1.5h-1.5zM122.5 618.6h1.5v1.5h-1.5zM117.0 613.1h1.5v1.5h-1.5zM117.7 615.9h1.5v1.5h-1.5zM107.2 610.8h1.5v1.5h-1.5zM115.4 613.3h1.5v1.5h-1.5zM104.2 616.1h1.5v1.5h-1.5zM116.0 617.8h1.5v1.5h-1.5zM112.5 609.4h1.5v1.5h-1.5zM117.1 613.7h1.5v1.5h-1.5zM124.8 616.5h1.5v1.5h-1.5zM104.9 616.1h1.5v1.5h-1.5zM99.2 614.1h1.5v1.5h-1.5zM104.7 611.9h1.5v1.5h-1.5zM113.0 606.9h1.5v1.5h-1.5zM125.2 615.1h1.5v1.5h-1.5zM120.1 616.9h1.5v1.5h-1.5zM99.1 618.8h1.5v1.5h-1.5zM102.2 611.7h1.5v1.5h-1.5zM114.7 610.5h1.5v1.5h-1.5zM123.8 616.8h1.5v1.5h-1.5zM107.9 613.8h1.5v1.5h-1.5zM115.9 615.4h1.5v1.5h-1.5zM106.0 609.1h1.5v1.5h-1.5zM104.6 610.8h1.5v1.5h-1.5zM108.6 606.2h1.5v1.5h-1.5zM118.4 606.9h1.5v1.5h-1.5zM99.9 614.6h1.5v1.5h-1.5zM109.7 611.3h1.5v1.5h-1.5zM112.2 614.3h1.5v1.5h-1.5zM117.7 608.4h1.5v1.5h-1.5zM135.6 613.9h1.5v1.5h-1.5zM135.8 613.0h1.5v1.5h-1.5zM134.6 612.4h1.5v1.5h-1.5zM133.5 617.6h1.5v1.5h-1.5zM135.3 612.7h1.5v1.5h-1.5zM137.8 600.5h1.5v1.5h-1.5zM137.2 613.3h1.5v1.5h-1.5zM129.4 612.1h1.5v1.5h-1.5zM132.5 616.9h1.5v1.5h-1.5zM136.6 620.0h1.5v1.5h-1.5zM137.4 615.3h1.5v1.5h-1.5zM131.1 591.2h1.5v1.5h-1.5zM128.4 616.0h1.5v1.5h-1.5zM131.4 614.1h1.5v1.5h-1.5zM134.8 614.1h1.5v1.5h-1.5zM129.0 620.8h1.5v1.5h-1.5zM132.7 614.4h1.5v1.5h-1.5zM130.6 613.4h1.5v1.5h-1.5zM128.9 618.3h1.5v1.5h-1.5zM138.1 613.2h1.5v1.5h-1.5zM133.3 615.1h1.5v1.5h-1.5zM138.2 617.8h1.5v1.5h-1.5zM132.0 626.8h1.5v1.5h-1.5zM137.4 618.2h1.5v1.5h-1.5zM129.2 611.4h1.5v1.5h-1.5zM128.9 616.1h1.5v1.5h-1.5zM136.6 614.4h1.5v1.5h-1.5zM137.7 612.3h1.5v1.5h-1.5zM129.0 609.4h1.5v1.5h-1.5zM137.1 614.3h1.5v1.5h-1.5zM132.5 610.8h1.5v1.5h-1.5zM132.6 614.1h1.5v1.5h-1.5zM139.5 620.3h1.5v1.5h-1.5zM139.5 612.5h1.5v1.5h-1.5zM132.0 615.4h1.5v1.5h-1.5zM139.7 613.6h1.5v1.5h-1.5zM132.6 610.7h1.5v1.5h-1.5zM132.9 612.1h1.5v1.5h-1.5zM138.0 607.2h1.5v1.5h-1.5zM138.5 609.7h1.5v1.5h-1.5zM139.0 609.2h1.5v1.5h-1.5zM128.2 620.3h1.5v1.5h-1.5zM140.1 615.5h1.5v1.5h-1.5zM138.1 617.7h1.5v1.5h-1.5zM129.0 614.6h1.5v1.5h-1.5zM137.2 607.2h1.5v1.5h-1.5zM129.8 609.8h1.5v1.5h-1.5zM136.1 612.4h1.5v1.5h-1.5zM145.4 604.8h1.5v1.5h-1.5zM144.9 609.3h1.5v1.5h-1.5zM145.3 615.2h1.5v1.5h-1.5zM146.3 608.9h1.5v1.5h-1.5zM146.8 616.4h1.5v1.5h-1.5zM146.9 608.0h1.5v1.5h-1.5zM147.4 623.3h1.5v1.5h-1.5zM145.5 611.9h1.5v1.5h-1.5zM145.0 615.9h1.5v1.5h-1.5zM146.4 619.1h1.5v1.5h-1.5zM144.0 612.1h1.5v1.5h-1.5zM144.4 603.5h1.5v1.5h-1.5zM143.7 612.0h1.5v1.5h-1.5zM146.6 610.5h1.5v1.5h-1.5zM145.7 611.4h1.5v1.5h-1.5zM143.3 612.5h1.5v1.5h-1.5zM144.2 610.2h1.5v1.5h-1.5zM145.8 612.4h1.5v1.5h-1.5zM143.9 609.7h1.5v1.5h-1.5zM144.5 611.2h1.5v1.5h-1.5zM144.3 619.2h1.5v1.5h-1.5zM147.2 619.6h1.5v1.5h-1.5zM160.2 615.2h1.5v1.5h-1.5zM151.2 612.0h1.5v1.5h-1.5zM161.1 618.6h1.5v1.5h-1.5zM155.9 618.8h1.5v1.5h-1.5zM150.4 614.9h1.5v1.5h-1.5zM157.9 615.3h1.5v1.5h-1.5zM153.4 616.8h1.5v1.5h-1.5zM156.8 611.1h1.5v1.5h-1.5zM163.4 624.8h1.5v1.5h-1.5zM155.7 608.3h1.5v1.5h-1.5zM150.2 606.2h1.5v1.5h-1.5zM167.8 610.0h1.5v1.5h-1.5zM165.1 612.2h1.5v1.5h-1.5zM160.1 609.8h1.5v1.5h-1.5zM168.0 614.2h1.5v1.5h-1.5zM166.6 612.2h1.5v1.5h-1.5zM167.3 613.8h1.5v1.5h-1.5zM161.5 608.1h1.5v1.5h-1.5zM156.6 609.0h1.5v1.5h-1.5zM151.7 617.4h1.5v1.5h-1.5zM157.6 611.9h1.5v1.5h-1.5zM152.3 620.0h1.5v1.5h-1.5zM167.4 610.3h1.5v1.5h-1.5zM150.4 613.7h1.5v1.5h-1.5zM161.9 615.1h1.5v1.5h-1.5zM150.4 611.0h1.5v1.5h-1.5zM163.0 615.0h1.5v1.5h-1.5zM158.0 615.1h1.5v1.5h-1.5zM158.3 609.0h1.5v1.5h-1.5zM155.5 613.5h1.5v1.5h-1.5zM169.8 618.4h1.5v1.5h-1.5zM165.2 612.7h1.5v1.5h-1.5zM153.1 614.3h1.5v1.5h-1.5zM164.2 611.3h1.5v1.5h-1.5zM167.6 608.8h1.5v1.5h-1.5zM152.0 612.5h1.5v1.5h-1.5zM158.6 612.1h1.5v1.5h-1.5zM169.3 617.1h1.5v1.5h-1.5zM166.1 614.2h1.5v1.5h-1.5zM158.2 613.6h1.5v1.5h-1.5zM158.5 613.2h1.5v1.5h-1.5zM170.6 617.5h1.5v1.5h-1.5zM150.5 616.3h1.5v1.5h-1.5zM157.3 609.6h1.5v1.5h-1.5zM160.7 610.4h1.5v1.5h-1.5zM167.3 608.7h1.5v1.5h-1.5zM168.9 606.0h1.5v1.5h-1.5zM157.5 608.4h1.5v1.5h-1.5zM170.7 607.1h1.5v1.5h-1.5zM165.0 609.5h1.5v1.5h-1.5zM163.2 607.2h1.5v1.5h-1.5zM151.9 616.9h1.5v1.5h-1.5zM157.0 617.4h1.5v1.5h-1.5zM157.7 608.1h1.5v1.5h-1.5zM153.0 603.6h1.5v1.5h-1.5zM161.5 617.5h1.5v1.5h-1.5zM169.1 617.3h1.5v1.5h-1.5zM167.2 606.5h1.5v1.5h-1.5zM156.2 606.7h1.5v1.5h-1.5zM155.2 612.0h1.5v1.5h-1.5zM161.5 614.7h1.5v1.5h-1.5zM150.8 607.0h1.5v1.5h-1.5zM163.8 613.8h1.5v1.5h-1.5zM164.1 618.9h1.5v1.5h-1.5zM166.9 610.8h1.5v1.5h-1.5zM154.3 611.6h1.5v1.5h-1.5zM162.0 611.2h1.5v1.5h-1.5zM161.0 615.4h1.5v1.5h-1.5zM163.5 614.2h1.5v1.5h-1.5zM164.1 609.8h1.5v1.5h-1.5zM159.9 614.2h1.5v1.5h-1.5zM163.1 613.2h1.5v1.5h-1.5zM160.3 634.8h1.5v1.5h-1.5zM167.6 618.4h1.5v1.5h-1.5zM178.4 610.6h1.5v1.5h-1.5zM178.1 624.1h1.5v1.5h-1.5zM176.3 610.9h1.5v1.5h-1.5zM179.8 614.5h1.5v1.5h-1.5zM180.0 616.8h1.5v1.5h-1.5zM178.7 611.2h1.5v1.5h-1.5zM177.9 611.2h1.5v1.5h-1.5zM174.0 617.5h1.5v1.5h-1.5zM176.2 613.6h1.5v1.5h-1.5zM175.6 607.4h1.5v1.5h-1.5zM179.3 621.0h1.5v1.5h-1.5zM177.2 612.1h1.5v1.5h-1.5zM178.4 605.0h1.5v1.5h-1.5zM174.4 608.9h1.5v1.5h-1.5zM181.7 610.9h1.5v1.5h-1.5zM175.6 613.7h1.5v1.5h-1.5zM181.2 611.9h1.5v1.5h-1.5zM177.0 613.9h1.5v1.5h-1.5zM173.8 614.5h1.5v1.5h-1.5zM176.2 606.5h1.5v1.5h-1.5zM177.6 616.2h1.5v1.5h-1.5zM176.1 610.9h1.5v1.5h-1.5zM180.8 614.3h1.5v1.5h-1.5zM177.6 606.9h1.5v1.5h-1.5zM175.3 625.6h1.5v1.5h-1.5zM175.2 611.3h1.5v1.5h-1.5zM179.8 612.9h1.5v1.5h-1.5zM181.3 614.3h1.5v1.5h-1.5zM179.5 616.4h1.5v1.5h-1.5zM177.4 612.9h1.5v1.5h-1.5zM179.7 611.0h1.5v1.5h-1.5zM175.1 615.6h1.5v1.5h-1.5zM176.8 621.7h1.5v1.5h-1.5zM181.2 613.1h1.5v1.5h-1.5zM181.5 609.2h1.5v1.5h-1.5zM187.2 600.8h1.5v1.5h-1.5zM188.6 605.5h1.5v1.5h-1.5zM189.4 615.0h1.5v1.5h-1.5zM186.9 616.2h1.5v1.5h-1.5zM185.5 613.2h1.5v1.5h-1.5zM187.2 617.6h1.5v1.5h-1.5zM186.4 612.3h1.5v1.5h-1.5zM188.8 613.8h1.5v1.5h-1.5zM188.1 617.0h1.5v1.5h-1.5zM189.6 613.6h1.5v1.5h-1.5zM187.9 612.3h1.5v1.5h-1.5zM189.1 619.9h1.5v1.5h-1.5zM190.7 610.5h1.5v1.5h-1.5zM191.5 613.7h1.5v1.5h-1.5zM190.0 617.5h1.5v1.5h-1.5zM191.6 610.3h1.5v1.5h-1.5zM186.8 612.6h1.5v1.5h-1.5zM189.1 609.8h1.5v1.5h-1.5zM189.9 623.3h1.5v1.5h-1.5zM186.3 615.6h1.5v1.5h-1.5zM184.9 615.9h1.5v1.5h-1.5zM187.0 611.4h1.5v1.5h-1.5zM185.4 619.7h1.5v1.5h-1.5zM191.6 614.6h1.5v1.5h-1.5zM186.0 611.0h1.5v1.5h-1.5zM190.2 612.4h1.5v1.5h-1.5zM187.1 605.3h1.5v1.5h-1.5zM186.2 610.6h1.5v1.5h-1.5zM186.1 609.1h1.5v1.5h-1.5zM185.3 617.3h1.5v1.5h-1.5zM187.9 612.5h1.5v1.5h-1.5zM189.0 613.9h1.5v1.5h-1.5zM193.3 617.5h1.5v1.5h-1.5zM185.1 612.0h1.5v1.5h-1.5zM192.5 615.0h1.5v1.5h-1.5zM188.4 611.8h1.5v1.5h-1.5zM196.4 611.9h1.5v1.5h-1.5zM198.4 617.6h1.5v1.5h-1.5zM201.7 619.2h1.5v1.5h-1.5zM199.8 611.8h1.5v1.5h-1.5zM206.2 608.4h1.5v1.5h-1.5zM202.7 612.6h1.5v1.5h-1.5zM199.6 609.0h1.5v1.5h-1.5zM205.2 615.9h1.5v1.5h-1.5zM200.1 620.5h1.5v1.5h-1.5zM198.3 610.1h1.5v1.5h-1.5zM197.9 611.8h1.5v1.5h-1.5zM198.3 611.7h1.5v1.5h-1.5zM199.2 609.2h1.5v1.5h-1.5zM204.9 613.4h1.5v1.5h-1.5zM200.0 614.2h1.5v1.5h-1.5zM198.9 615.6h1.5v1.5h-1.5zM197.9 618.0h1.5v1.5h-1.5zM203.4 609.5h1.5v1.5h-1.5zM199.8 610.9h1.5v1.5h-1.5zM203.9 615.6h1.5v1.5h-1.5zM205.4 614.4h1.5v1.5h-1.5zM196.9 608.9h1.5v1.5h-1.5zM199.4 615.4h1.5v1.5h-1.5zM200.1 613.3h1.5v1.5h-1.5zM196.5 613.8h1.5v1.5h-1.5zM199.3 613.6h1.5v1.5h-1.5zM201.7 613.8h1.5v1.5h-1.5zM203.5 617.6h1.5v1.5h-1.5zM197.6 614.0h1.5v1.5h-1.5zM200.2 609.1h1.5v1.5h-1.5zM205.0 613.9h1.5v1.5h-1.5zM198.3 610.9h1.5v1.5h-1.5zM196.3 622.5h1.5v1.5h-1.5zM206.1 615.2h1.5v1.5h-1.5zM203.0 611.9h1.5v1.5h-1.5zM202.9 594.7h1.5v1.5h-1.5zM205.0 614.0h1.5v1.5h-1.5zM200.5 614.1h1.5v1.5h-1.5zM196.7 614.7h1.5v1.5h-1.5zM198.9 610.5h1.5v1.5h-1.5zM200.2 611.3h1.5v1.5h-1.5zM212.2 609.8h1.5v1.5h-1.5zM213.5 611.2h1.5v1.5h-1.5zM218.3 607.9h1.5v1.5h-1.5zM218.3 615.2h1.5v1.5h-1.5zM209.8 611.6h1.5v1.5h-1.5zM209.7 615.8h1.5v1.5h-1.5zM213.3 614.8h1.5v1.5h-1.5zM209.3 610.6h1.5v1.5h-1.5zM212.5 618.0h1.5v1.5h-1.5zM211.4 618.2h1.5v1.5h-1.5zM213.8 622.4h1.5v1.5h-1.5zM221.6 618.8h1.5v1.5h-1.5zM214.5 615.9h1.5v1.5h-1.5zM212.7 609.9h1.5v1.5h-1.5zM221.1 615.0h1.5v1.5h-1.5zM210.8 615.5h1.5v1.5h-1.5zM222.0 610.9h1.5v1.5h-1.5zM211.5 614.1h1.5v1.5h-1.5zM209.0 617.2h1.5v1.5h-1.5zM214.2 617.1h1.5v1.5h-1.5zM216.3 613.3h1.5v1.5h-1.5zM216.5 609.0h1.5v1.5h-1.5zM213.6 614.6h1.5v1.5h-1.5zM213.1 616.4h1.5v1.5h-1.5zM221.9 621.3h1.5v1.5h-1.5zM211.1 620.5h1.5v1.5h-1.5zM213.9 613.0h1.5v1.5h-1.5zM219.0 613.3h1.5v1.5h-1.5zM213.3 611.2h1.5v1.5h-1.5zM215.8 612.3h1.5v1.5h-1.5zM210.3 612.9h1.5v1.5h-1.5zM210.5 612.8h1.5v1.5h-1.5zM211.1 619.7h1.5v1.5h-1.5zM220.6 613.3h1.5v1.5h-1.5zM219.6 610.1h1.5v1.5h-1.5zM218.5 613.7h1.5v1.5h-1.5zM213.4 618.3h1.5v1.5h-1.5zM220.2 618.7h1.5v1.5h-1.5zM218.4 615.9h1.5v1.5h-1.5zM220.1 610.0h1.5v1.5h-1.5zM217.9 611.4h1.5v1.5h-1.5zM211.4 618.7h1.5v1.5h-1.5zM222.0 616.5h1.5v1.5h-1.5zM218.2 615.1h1.5v1.5h-1.5zM221.5 623.0h1.5v1.5h-1.5zM209.6 612.5h1.5v1.5h-1.5zM212.8 612.6h1.5v1.5h-1.5zM222.3 613.5h1.5v1.5h-1.5zM216.2 612.7h1.5v1.5h-1.5zM214.0 611.7h1.5v1.5h-1.5zM212.8 618.1h1.5v1.5h-1.5zM236.7 608.4h1.5v1.5h-1.5zM238.1 614.3h1.5v1.5h-1.5zM240.2 612.7h1.5v1.5h-1.5zM242.7 612.1h1.5v1.5h-1.5zM234.2 613.5h1.5v1.5h-1.5zM235.7 612.8h1.5v1.5h-1.5zM236.8 612.8h1.5v1.5h-1.5zM231.9 610.2h1.5v1.5h-1.5zM225.9 611.5h1.5v1.5h-1.5zM226.4 614.7h1.5v1.5h-1.5zM234.1 606.1h1.5v1.5h-1.5zM234.2 608.1h1.5v1.5h-1.5zM240.3 610.1h1.5v1.5h-1.5zM237.4 611.3h1.5v1.5h-1.5zM230.2 602.4h1.5v1.5h-1.5zM233.4 626.5h1.5v1.5h-1.5zM238.7 611.6h1.5v1.5h-1.5zM227.2 613.0h1.5v1.5h-1.5zM231.8 616.0h1.5v1.5h-1.5zM225.1 610.3h1.5v1.5h-1.5zM243.2 618.0h1.5v1.5h-1.5zM240.0 615.3h1.5v1.5h-1.5zM232.5 609.4h1.5v1.5h-1.5zM243.7 617.3h1.5v1.5h-1.5zM243.0 613.8h1.5v1.5h-1.5zM242.2 615.2h1.5v1.5h-1.5zM235.9 615.2h1.5v1.5h-1.5zM237.4 610.4h1.5v1.5h-1.5zM231.9 616.3h1.5v1.5h-1.5zM242.1 611.5h1.5v1.5h-1.5zM226.7 613.3h1.5v1.5h-1.5zM239.1 617.3h1.5v1.5h-1.5zM237.9 612.1h1.5v1.5h-1.5zM231.6 612.3h1.5v1.5h-1.5zM225.1 617.5h1.5v1.5h-1.5zM235.2 607.3h1.5v1.5h-1.5zM228.8 617.5h1.5v1.5h-1.5zM227.0 594.5h1.5v1.5h-1.5zM233.1 611.2h1.5v1.5h-1.5zM238.4 610.6h1.5v1.5h-1.5zM230.1 609.2h1.5v1.5h-1.5zM228.4 614.0h1.5v1.5h-1.5zM243.7 615.0h1.5v1.5h-1.5zM237.2 615.2h1.5v1.5h-1.5zM236.7 609.0h1.5v1.5h-1.5zM234.5 619.5h1.5v1.5h-1.5zM227.1 615.8h1.5v1.5h-1.5zM237.6 616.0h1.5v1.5h-1.5zM232.3 616.0h1.5v1.5h-1.5zM234.7 615.3h1.5v1.5h-1.5zM236.9 616.2h1.5v1.5h-1.5zM242.7 615.2h1.5v1.5h-1.5zM233.9 614.5h1.5v1.5h-1.5zM238.9 624.6h1.5v1.5h-1.5zM232.6 602.4h1.5v1.5h-1.5zM234.3 607.5h1.5v1.5h-1.5zM240.9 604.4h1.5v1.5h-1.5zM240.1 617.5h1.5v1.5h-1.5zM243.8 610.4h1.5v1.5h-1.5zM229.7 619.8h1.5v1.5h-1.5zM233.6 611.3h1.5v1.5h-1.5zM230.3 616.3h1.5v1.5h-1.5zM226.3 612.2h1.5v1.5h-1.5zM229.5 619.7h1.5v1.5h-1.5zM241.2 624.7h1.5v1.5h-1.5zM240.1 615.0h1.5v1.5h-1.5zM231.9 610.9h1.5v1.5h-1.5zM241.4 612.5h1.5v1.5h-1.5zM227.2 617.2h1.5v1.5h-1.5zM257.4 607.0h1.5v1.5h-1.5zM247.8 608.9h1.5v1.5h-1.5zM262.0 606.4h1.5v1.5h-1.5zM250.0 614.5h1.5v1.5h-1.5zM252.5 613.0h1.5v1.5h-1.5zM257.6 616.5h1.5v1.5h-1.5zM249.7 615.7h1.5v1.5h-1.5zM258.8 612.3h1.5v1.5h-1.5zM263.1 611.7h1.5v1.5h-1.5zM252.8 609.2h1.5v1.5h-1.5zM259.5 613.4h1.5v1.5h-1.5zM252.0 611.0h1.5v1.5h-1.5zM254.0 607.7h1.5v1.5h-1.5zM253.7 619.6h1.5v1.5h-1.5zM252.6 614.2h1.5v1.5h-1.5zM250.7 616.0h1.5v1.5h-1.5zM251.6 603.1h1.5v1.5h-1.5zM258.5 610.8h1.5v1.5h-1.5zM259.6 615.8h1.5v1.5h-1.5zM254.4 615.1h1.5v1.5h-1.5zM254.3 608.6h1.5v1.5h-1.5zM251.7 615.5h1.5v1.5h-1.5zM253.8 615.0h1.5v1.5h-1.5zM262.3 615.4h1.5v1.5h-1.5zM261.0 611.3h1.5v1.5h-1.5zM256.9 604.5h1.5v1.5h-1.5zM248.1 609.9h1.5v1.5h-1.5zM253.1 616.0h1.5v1.5h-1.5zM262.4 617.9h1.5v1.5h-1.5zM247.0 618.6h1.5v1.5h-1.5zM254.7 612.8h1.5v1.5h-1.5zM258.4 599.3h1.5v1.5h-1.5zM264.0 614.6h1.5v1.5h-1.5zM261.1 619.2h1.5v1.5h-1.5zM247.7 622.1h1.5v1.5h-1.5zM253.6 610.4h1.5v1.5h-1.5zM250.2 605.4h1.5v1.5h-1.5zM249.1 613.3h1.5v1.5h-1.5zM249.5 615.9h1.5v1.5h-1.5zM257.5 613.9h1.5v1.5h-1.5zM259.4 603.9h1.5v1.5h-1.5zM248.7 608.0h1.5v1.5h-1.5zM263.2 612.6h1.5v1.5h-1.5zM247.0 616.4h1.5v1.5h-1.5zM248.5 615.1h1.5v1.5h-1.5zM251.9 608.8h1.5v1.5h-1.5zM248.8 610.8h1.5v1.5h-1.5zM255.6 612.9h1.5v1.5h-1.5zM253.8 615.2h1.5v1.5h-1.5zM250.4 616.0h1.5v1.5h-1.5zM261.5 614.3h1.5v1.5h-1.5zM261.5 610.1h1.5v1.5h-1.5zM253.7 614.9h1.5v1.5h-1.5zM261.8 615.2h1.5v1.5h-1.5zM249.3 613.2h1.5v1.5h-1.5zM259.5 610.0h1.5v1.5h-1.5zM247.1 610.5h1.5v1.5h-1.5zM251.8 629.0h1.5v1.5h-1.5zM247.4 617.3h1.5v1.5h-1.5zM247.9 608.7h1.5v1.5h-1.5zM252.3 609.4h1.5v1.5h-1.5zM258.1 607.1h1.5v1.5h-1.5zM255.4 615.9h1.5v1.5h-1.5zM253.5 613.4h1.5v1.5h-1.5zM271.3 615.3h1.5v1.5h-1.5zM272.6 615.9h1.5v1.5h-1.5zM267.4 611.2h1.5v1.5h-1.5zM267.5 618.8h1.5v1.5h-1.5zM269.5 614.0h1.5v1.5h-1.5zM271.3 615.2h1.5v1.5h-1.5zM276.0 613.0h1.5v1.5h-1.5zM266.9 612.9h1.5v1.5h-1.5zM274.0 614.0h1.5v1.5h-1.5zM271.2 616.7h1.5v1.5h-1.5zM274.2 610.3h1.5v1.5h-1.5zM270.6 617.7h1.5v1.5h-1.5zM267.4 613.7h1.5v1.5h-1.5zM269.8 612.4h1.5v1.5h-1.5zM277.3 615.9h1.5v1.5h-1.5zM270.3 600.5h1.5v1.5h-1.5zM277.0 609.3h1.5v1.5h-1.5zM270.7 611.8h1.5v1.5h-1.5zM267.4 621.1h1.5v1.5h-1.5zM267.3 625.2h1.5v1.5h-1.5zM274.6 615.2h1.5v1.5h-1.5zM278.2 614.1h1.5v1.5h-1.5zM275.8 613.4h1.5v1.5h-1.5zM275.1 609.3h1.5v1.5h-1.5zM276.4 613.8h1.5v1.5h-1.5zM276.0 615.9h1.5v1.5h-1.5zM268.2 612.3h1.5v1.5h-1.5zM275.8 609.5h1.5v1.5h-1.5zM274.9 606.9h1.5v1.5h-1.5zM268.1 615.7h1.5v1.5h-1.5zM273.6 601.4h1.5v1.5h-1.5zM269.3 618.2h1.5v1.5h-1.5zM268.3 616.0h1.5v1.5h-1.5zM272.6 615.6h1.5v1.5h-1.5zM275.0 611.5h1.5v1.5h-1.5zM272.8 620.7h1.5v1.5h-1.5zM268.0 607.7h1.5v1.5h-1.5zM268.8 612.2h1.5v1.5h-1.5zM268.8 610.9h1.5v1.5h-1.5zM274.0 619.0h1.5v1.5h-1.5zM277.1 611.0h1.5v1.5h-1.5zM273.9 610.9h1.5v1.5h-1.5zM275.3 613.5h1.5v1.5h-1.5zM270.0 617.3h1.5v1.5h-1.5zM267.5 615.5h1.5v1.5h-1.5zM271.4 620.4h1.5v1.5h-1.5zM273.6 606.4h1.5v1.5h-1.5zM301.6 615.2h1.5v1.5h-1.5zM298.1 613.1h1.5v1.5h-1.5zM288.4 605.6h1.5v1.5h-1.5zM294.1 611.9h1.5v1.5h-1.5zM288.9 608.9h1.5v1.5h-1.5zM299.3 614.6h1.5v1.5h-1.5zM298.8 612.2h1.5v1.5h-1.5zM295.0 610.1h1.5v1.5h-1.5zM298.4 603.9h1.5v1.5h-1.5zM296.7 616.8h1.5v1.5h-1.5zM302.5 616.3h1.5v1.5h-1.5zM297.6 608.2h1.5v1.5h-1.5zM287.1 615.2h1.5v1.5h-1.5zM288.1 613.7h1.5v1.5h-1.5zM284.5 613.5h1.5v1.5h-1.5zM287.7 609.3h1.5v1.5h-1.5zM300.8 609.9h1.5v1.5h-1.5zM295.0 621.7h1.5v1.5h-1.5zM297.7 620.0h1.5v1.5h-1.5zM298.6 618.3h1.5v1.5h-1.5zM282.8 619.7h1.5v1.5h-1.5zM286.8 609.7h1.5v1.5h-1.5zM289.8 607.7h1.5v1.5h-1.5zM294.0 614.3h1.5v1.5h-1.5zM286.7 603.9h1.5v1.5h-1.5zM296.0 609.2h1.5v1.5h-1.5zM301.4 614.5h1.5v1.5h-1.5zM303.3 613.8h1.5v1.5h-1.5zM300.7 613.7h1.5v1.5h-1.5zM282.3 615.4h1.5v1.5h-1.5zM303.2 607.9h1.5v1.5h-1.5zM293.1 616.9h1.5v1.5h-1.5zM293.2 615.7h1.5v1.5h-1.5zM292.6 613.7h1.5v1.5h-1.5zM297.1 614.3h1.5v1.5h-1.5zM292.3 613.5h1.5v1.5h-1.5zM302.9 610.7h1.5v1.5h-1.5zM289.0 610.3h1.5v1.5h-1.5zM302.2 586.2h1.5v1.5h-1.5zM300.5 617.4h1.5v1.5h-1.5zM282.1 616.6h1.5v1.5h-1.5zM295.1 618.0h1.5v1.5h-1.5zM302.1 619.9h1.5v1.5h-1.5zM282.3 614.1h1.5v1.5h-1.5zM300.7 610.5h1.5v1.5h-1.5zM299.8 613.4h1.5v1.5h-1.5zM293.0 613.2h1.5v1.5h-1.5zM281.7 618.1h1.5v1.5h-1.5zM299.0 607.2h1.5v1.5h-1.5zM289.0 615.6h1.5v1.5h-1.5zM282.0 614.2h1.5v1.5h-1.5zM293.2 609.7h1.5v1.5h-1.5zM296.4 612.7h1.5v1.5h-1.5zM285.5 607.8h1.5v1.5h-1.5zM287.2 612.7h1.5v1.5h-1.5zM286.9 618.3h1.5v1.5h-1.5zM287.3 614.0h1.5v1.5h-1.5zM285.7 607.8h1.5v1.5h-1.5zM288.3 613.8h1.5v1.5h-1.5zM299.0 621.5h1.5v1.5h-1.5zM283.4 613.5h1.5v1.5h-1.5zM290.7 604.8h1.5v1.5h-1.5zM289.8 606.4h1.5v1.5h-1.5zM290.1 617.5h1.5v1.5h-1.5zM298.9 618.6h1.5v1.5h-1.5zM290.0 609.2h1.5v1.5h-1.5zM294.6 623.4h1.5v1.5h-1.5zM282.0 612.5h1.5v1.5h-1.5zM290.0 612.0h1.5v1.5h-1.5zM286.2 615.2h1.5v1.5h-1.5zM302.7 620.4h1.5v1.5h-1.5zM284.8 603.4h1.5v1.5h-1.5zM302.4 610.6h1.5v1.5h-1.5zM301.0 607.6h1.5v1.5h-1.5zM302.4 614.2h1.5v1.5h-1.5zM287.6 611.7h1.5v1.5h-1.5zM283.2 613.7h1.5v1.5h-1.5zM288.4 612.5h1.5v1.5h-1.5zM308.4 620.3h1.5v1.5h-1.5zM320.3 615.4h1.5v1.5h-1.5zM323.7 613.1h1.5v1.5h-1.5zM311.9 611.6h1.5v1.5h-1.5zM323.2 611.1h1.5v1.5h-1.5zM316.7 611.2h1.5v1.5h-1.5zM320.8 630.3h1.5v1.5h-1.5zM321.8 612.3h1.5v1.5h-1.5zM309.7 612.5h1.5v1.5h-1.5zM320.3 613.3h1.5v1.5h-1.5zM307.1 611.2h1.5v1.5h-1.5zM310.1 609.4h1.5v1.5h-1.5zM310.2 621.4h1.5v1.5h-1.5zM314.8 613.2h1.5v1.5h-1.5zM306.4 611.2h1.5v1.5h-1.5zM317.6 612.7h1.5v1.5h-1.5zM314.9 615.7h1.5v1.5h-1.5zM322.5 609.1h1.5v1.5h-1.5zM313.9 618.3h1.5v1.5h-1.5zM323.1 612.7h1.5v1.5h-1.5zM323.5 611.3h1.5v1.5h-1.5zM315.6 618.8h1.5v1.5h-1.5zM311.5 613.6h1.5v1.5h-1.5zM316.9 615.2h1.5v1.5h-1.5zM323.7 609.9h1.5v1.5h-1.5zM312.6 609.0h1.5v1.5h-1.5zM315.3 618.8h1.5v1.5h-1.5zM306.2 613.5h1.5v1.5h-1.5zM311.1 617.7h1.5v1.5h-1.5zM307.8 615.4h1.5v1.5h-1.5zM315.1 609.4h1.5v1.5h-1.5zM314.3 613.6h1.5v1.5h-1.5zM320.9 611.0h1.5v1.5h-1.5zM310.9 622.0h1.5v1.5h-1.5zM315.5 619.3h1.5v1.5h-1.5zM315.2 615.4h1.5v1.5h-1.5zM311.5 618.5h1.5v1.5h-1.5zM309.8 613.3h1.5v1.5h-1.5zM321.6 601.9h1.5v1.5h-1.5zM318.8 615.2h1.5v1.5h-1.5zM319.3 612.6h1.5v1.5h-1.5zM321.2 614.8h1.5v1.5h-1.5zM310.7 607.3h1.5v1.5h-1.5zM312.5 612.7h1.5v1.5h-1.5zM317.4 606.7h1.5v1.5h-1.5zM307.3 616.8h1.5v1.5h-1.5zM308.2 606.1h1.5v1.5h-1.5zM309.6 617.0h1.5v1.5h-1.5zM320.2 618.3h1.5v1.5h-1.5zM319.6 614.2h1.5v1.5h-1.5zM322.2 611.3h1.5v1.5h-1.5zM316.7 624.2h1.5v1.5h-1.5zM318.0 615.1h1.5v1.5h-1.5zM306.6 611.6h1.5v1.5h-1.5zM320.9 615.9h1.5v1.5h-1.5zM319.0 621.2h1.5v1.5h-1.5zM312.0 611.8h1.5v1.5h-1.5zM318.8 606.6h1.5v1.5h-1.5zM312.3 609.9h1.5v1.5h-1.5zM323.8 616.0h1.5v1.5h-1.5zM324.0 615.8h1.5v1.5h-1.5zM315.8 611.4h1.5v1.5h-1.5zM306.8 619.5h1.5v1.5h-1.5zM319.9 613.9h1.5v1.5h-1.5zM309.8 613.4h1.5v1.5h-1.5zM307.4 610.9h1.5v1.5h-1.5zM312.7 606.4h1.5v1.5h-1.5z" fill="#3445a6"/>
<path d="M66.9 638.9h1.5v1.5h-1.5zM66.9 631.0h1.5v1.5h-1.5zM67.1 629.3h1.5v1.5h-1.5zM67.1 628.0h1.5v1.5h-1.5zM67.5 625.2h1.5v1.5h-1.5zM66.4 628.5h1.5v1.5h-1.5zM65.7 622.5h1.5v1.5h-1.5zM65.6 634.7h1.5v1.5h-1.5zM68.6 617.2h1.5v1.5h-1.5zM67.4 627.9h1.5v1.5h-1.5zM66.0 618.4h1.5v1.5h-1.5zM65.6 625.2h1.5v1.5h-1.5zM66.1 625.8h1.5v1.5h-1.5zM66.9 624.4h1.5v1.5h-1.5zM66.9 621.8h1.5v1.5h-1.5zM67.5 632.1h1.5v1.5h-1.5z" fill="#e02424"/>
<text x="60.20" y="598.55" font-size="13.3" font-weight="normal" font-style="normal" text-anchor="end" fill="#000" >1</text>
<text x="60.20" y="619.00" font-size="13.3" font-weight="normal" font-style="normal" text-anchor="end" fill="#000" >0</text>
<text x="60.20" y="639.45" font-size="13.3" font-weight="normal" font-style="normal" text-anchor="end" fill="#000" >-1</text>
<text x="335.00" y="618.50" font-size="15.5" font-weight="bold" font-style="normal" text-anchor="start" fill="#000" >#1</text>
<line x1="65.2" y1="680.50" x2="326.7" y2="680.50" stroke="#7a7a7a" stroke-width="1.2"/>
<line x1="65.2" y1="701.50" x2="326.7" y2="701.50" stroke="#7a7a7a" stroke-width="1.2"/>
<line x1="65.2" y1="721.50" x2="326.7" y2="721.50" stroke="#7a7a7a" stroke-width="1.2"/>
<line x1="70.50" y1="660.5" x2="70.50" y2="742.3" stroke="#a0a0a0" stroke-width="1"/>
<line x1="70.50" y1="660" x2="70.50" y2="742.3" stroke="#3a3a3a" stroke-width="1" stroke-dasharray="1 1"/>
<line x1="90.50" y1="660.5" x2="90.50" y2="742.3" stroke="#a0a0a0" stroke-width="1"/>
<line x1="90.50" y1="660" x2="90.50" y2="742.3" stroke="#3a3a3a" stroke-width="1" stroke-dasharray="1 1"/>
<line x1="97.50" y1="660.5" x2="97.50" y2="742.3" stroke="#a0a0a0" stroke-width="1"/>
<line x1="97.50" y1="660" x2="97.50" y2="742.3" stroke="#3a3a3a" stroke-width="1" stroke-dasharray="1 1"/>
<line x1="127.50" y1="660.5" x2="127.50" y2="742.3" stroke="#a0a0a0" stroke-width="1"/>
<line x1="127.50" y1="660" x2="127.50" y2="742.3" stroke="#3a3a3a" stroke-width="1" stroke-dasharray="1 1"/>
<line x1="142.50" y1="660.5" x2="142.50" y2="742.3" stroke="#a0a0a0" stroke-width="1"/>
<line x1="142.50" y1="660" x2="142.50" y2="742.3" stroke="#3a3a3a" stroke-width="1" stroke-dasharray="1 1"/>
<line x1="149.50" y1="660.5" x2="149.50" y2="742.3" stroke="#a0a0a0" stroke-width="1"/>
<line x1="149.50" y1="660" x2="149.50" y2="742.3" stroke="#3a3a3a" stroke-width="1" stroke-dasharray="1 1"/>
<line x1="173.50" y1="660.5" x2="173.50" y2="742.3" stroke="#a0a0a0" stroke-width="1"/>
<line x1="173.50" y1="660" x2="173.50" y2="742.3" stroke="#3a3a3a" stroke-width="1" stroke-dasharray="1 1"/>
<line x1="184.50" y1="660.5" x2="184.50" y2="742.3" stroke="#a0a0a0" stroke-width="1"/>
<line x1="184.50" y1="660" x2="184.50" y2="742.3" stroke="#3a3a3a" stroke-width="1" stroke-dasharray="1 1"/>
<line x1="195.50" y1="660.5" x2="195.50" y2="742.3" stroke="#a0a0a0" stroke-width="1"/>
<line x1="195.50" y1="660" x2="195.50" y2="742.3" stroke="#3a3a3a" stroke-width="1" stroke-dasharray="1 1"/>
<line x1="208.50" y1="660.5" x2="208.50" y2="742.3" stroke="#a0a0a0" stroke-width="1"/>
<line x1="208.50" y1="660" x2="208.50" y2="742.3" stroke="#3a3a3a" stroke-width="1" stroke-dasharray="1 1"/>
<line x1="224.50" y1="660.5" x2="224.50" y2="742.3" stroke="#a0a0a0" stroke-width="1"/>
<line x1="224.50" y1="660" x2="224.50" y2="742.3" stroke="#3a3a3a" stroke-width="1" stroke-dasharray="1 1"/>
<line x1="246.50" y1="660.5" x2="246.50" y2="742.3" stroke="#a0a0a0" stroke-width="1"/>
<line x1="246.50" y1="660" x2="246.50" y2="742.3" stroke="#3a3a3a" stroke-width="1" stroke-dasharray="1 1"/>
<line x1="266.50" y1="660.5" x2="266.50" y2="742.3" stroke="#a0a0a0" stroke-width="1"/>
<line x1="266.50" y1="660" x2="266.50" y2="742.3" stroke="#3a3a3a" stroke-width="1" stroke-dasharray="1 1"/>
<line x1="281.50" y1="660.5" x2="281.50" y2="742.3" stroke="#a0a0a0" stroke-width="1"/>
<line x1="281.50" y1="660" x2="281.50" y2="742.3" stroke="#3a3a3a" stroke-width="1" stroke-dasharray="1 1"/>
<line x1="305.50" y1="660.5" x2="305.50" y2="742.3" stroke="#a0a0a0" stroke-width="1"/>
<line x1="305.50" y1="660" x2="305.50" y2="742.3" stroke="#3a3a3a" stroke-width="1" stroke-dasharray="1 1"/>
<rect x="65.2" y="660.5" width="261.5" height="81.8" fill="none" stroke="#444" stroke-width="1.1"/>
<path d="M66.8 701.4h1.5v1.5h-1.5zM66.4 698.9h1.5v1.5h-1.5zM66.9 701.3h1.5v1.5h-1.5zM67.7 708.6h1.5v1.5h-1.5zM68.1 705.1h1.5v1.5h-1.5zM67.2 708.7h1.5v1.5h-1.5zM67.7 700.5h1.5v1.5h-1.5zM66.1 701.8h1.5v1.5h-1.5zM67.6 696.0h1.5v1.5h-1.5zM67.7 702.3h1.5v1.5h-1.5zM66.9 703.1h1.5v1.5h-1.5zM67.0 697.4h1.5v1.5h-1.5zM65.9 700.8h1.5v1.5h-1.5zM67.6 698.3h1.5v1.5h-1.5zM67.2 696.6h1.5v1.5h-1.5zM77.8 703.7h1.5v1.5h-1.5zM71.7 707.3h1.5v1.5h-1.5zM73.1 700.7h1.5v1.5h-1.5zM72.2 700.2h1.5v1.5h-1.5zM78.9 695.3h1.5v1.5h-1.5zM79.2 703.6h1.5v1.5h-1.5zM76.3 692.8h1.5v1.5h-1.5zM74.7 697.6h1.5v1.5h-1.5zM79.6 704.7h1.5v1.5h-1.5zM75.3 694.1h1.5v1.5h-1.5zM83.0 702.1h1.5v1.5h-1.5zM78.7 698.1h1.5v1.5h-1.5zM81.6 701.8h1.5v1.5h-1.5zM78.7 695.9h1.5v1.5h-1.5zM85.9 704.3h1.5v1.5h-1.5zM87.5 692.7h1.5v1.5h-1.5zM77.8 700.9h1.5v1.5h-1.5zM83.3 705.1h1.5v1.5h-1.5zM82.1 707.8h1.5v1.5h-1.5zM74.8 697.6h1.5v1.5h-1.5zM80.1 711.5h1.5v1.5h-1.5zM71.2 696.7h1.5v1.5h-1.5zM84.0 701.7h1.5v1.5h-1.5zM77.7 706.5h1.5v1.5h-1.5zM74.3 694.1h1.5v1.5h-1.5zM84.9 698.1h1.5v1.5h-1.5zM77.6 702.8h1.5v1.5h-1.5zM83.6 709.4h1.5v1.5h-1.5zM75.2 706.8h1.5v1.5h-1.5zM87.7 701.5h1.5v1.5h-1.5zM84.2 701.2h1.5v1.5h-1.5zM75.6 713.5h1.5v1.5h-1.5zM79.9 698.4h1.5v1.5h-1.5zM86.1 694.2h1.5v1.5h-1.5zM75.9 703.3h1.5v1.5h-1.5zM81.2 699.5h1.5v1.5h-1.5zM80.0 729.1h1.5v1.5h-1.5zM76.9 706.2h1.5v1.5h-1.5zM72.2 701.7h1.5v1.5h-1.5zM85.0 704.0h1.5v1.5h-1.5zM75.6 700.8h1.5v1.5h-1.5zM77.3 700.9h1.5v1.5h-1.5zM73.5 695.9h1.5v1.5h-1.5zM75.2 704.7h1.5v1.5h-1.5zM73.0 699.0h1.5v1.5h-1.5zM75.4 704.4h1.5v1.5h-1.5zM82.8 698.0h1.5v1.5h-1.5zM74.5 710.2h1.5v1.5h-1.5zM82.8 698.9h1.5v1.5h-1.5zM79.0 701.5h1.5v1.5h-1.5zM78.5 707.2h1.5v1.5h-1.5zM87.7 701.8h1.5v1.5h-1.5zM74.7 692.6h1.5v1.5h-1.5zM76.8 694.7h1.5v1.5h-1.5zM78.3 693.8h1.5v1.5h-1.5zM73.9 702.3h1.5v1.5h-1.5zM93.9 696.2h1.5v1.5h-1.5zM91.6 703.9h1.5v1.5h-1.5zM91.6 692.8h1.5v1.5h-1.5zM90.8 698.3h1.5v1.5h-1.5zM93.1 699.3h1.5v1.5h-1.5zM92.2 698.5h1.5v1.5h-1.5zM93.4 698.4h1.5v1.5h-1.5zM90.6 699.7h1.5v1.5h-1.5zM91.4 702.3h1.5v1.5h-1.5zM92.1 703.8h1.5v1.5h-1.5zM91.9 703.8h1.5v1.5h-1.5zM91.7 698.3h1.5v1.5h-1.5zM91.8 701.6h1.5v1.5h-1.5zM91.8 696.9h1.5v1.5h-1.5zM94.5 702.5h1.5v1.5h-1.5zM94.7 701.0h1.5v1.5h-1.5zM93.5 702.9h1.5v1.5h-1.5zM92.5 703.2h1.5v1.5h-1.5zM92.9 703.5h1.5v1.5h-1.5zM94.3 701.8h1.5v1.5h-1.5zM91.6 700.5h1.5v1.5h-1.5zM119.8 699.4h1.5v1.5h-1.5zM105.7 696.8h1.5v1.5h-1.5zM116.7 708.1h1.5v1.5h-1.5zM118.3 702.9h1.5v1.5h-1.5zM122.1 691.0h1.5v1.5h-1.5zM123.1 697.1h1.5v1.5h-1.5zM124.6 698.8h1.5v1.5h-1.5zM112.0 698.2h1.5v1.5h-1.5zM125.1 702.7h1.5v1.5h-1.5zM125.2 698.7h1.5v1.5h-1.5zM115.4 698.1h1.5v1.5h-1.5zM113.3 708.9h1.5v1.5h-1.5zM114.1 697.1h1.5v1.5h-1.5zM102.6 697.0h1.5v1.5h-1.5zM103.8 702.6h1.5v1.5h-1.5zM112.8 703.6h1.5v1.5h-1.5zM98.3 702.0h1.5v1.5h-1.5zM115.9 696.2h1.5v1.5h-1.5zM107.0 691.2h1.5v1.5h-1.5zM113.2 701.6h1.5v1.5h-1.5zM120.2 703.8h1.5v1.5h-1.5zM118.7 695.6h1.5v1.5h-1.5zM101.7 699.2h1.5v1.5h-1.5zM98.7 706.8h1.5v1.5h-1.5zM106.7 699.1h1.5v1.5h-1.5zM120.6 702.7h1.5v1.5h-1.5zM123.6 703.0h1.5v1.5h-1.5zM113.3 699.3h1.5v1.5h-1.5zM117.5 702.1h1.5v1.5h-1.5zM111.5 700.0h1.5v1.5h-1.5zM123.1 696.4h1.5v1.5h-1.5zM99.7 700.1h1.5v1.5h-1.5zM121.1 696.3h1.5v1.5h-1.5zM124.8 704.3h1.5v1.5h-1.5zM117.6 702.1h1.5v1.5h-1.5zM99.5 702.7h1.5v1.5h-1.5zM99.2 698.1h1.5v1.5h-1.5zM124.9 701.0h1.5v1.5h-1.5zM114.1 698.0h1.5v1.5h-1.5zM102.8 709.7h1.5v1.5h-1.5zM113.4 700.2h1.5v1.5h-1.5zM103.1 691.3h1.5v1.5h-1.5zM98.8 697.7h1.5v1.5h-1.5zM110.7 707.1h1.5v1.5h-1.5zM118.8 706.7h1.5v1.5h-1.5zM99.3 698.8h1.5v1.5h-1.5zM98.9 699.0h1.5v1.5h-1.5zM122.0 699.5h1.5v1.5h-1.5zM121.1 699.8h1.5v1.5h-1.5zM123.0 698.6h1.5v1.5h-1.5zM103.1 698.8h1.5v1.5h-1.5zM103.4 699.1h1.5v1.5h-1.5zM112.6 698.8h1.5v1.5h-1.5zM102.0 705.9h1.5v1.5h-1.5zM110.9 700.4h1.5v1.5h-1.5zM114.8 700.4h1.5v1.5h-1.5zM122.3 700.0h1.5v1.5h-1.5zM108.6 698.0h1.5v1.5h-1.5zM108.4 701.7h1.5v1.5h-1.5zM108.1 699.4h1.5v1.5h-1.5zM105.7 700.7h1.5v1.5h-1.5zM118.5 704.4h1.5v1.5h-1.5zM103.0 706.0h1.5v1.5h-1.5zM121.3 689.4h1.5v1.5h-1.5zM118.2 691.0h1.5v1.5h-1.5zM107.8 689.7h1.5v1.5h-1.5zM113.7 703.6h1.5v1.5h-1.5zM125.3 708.2h1.5v1.5h-1.5zM101.8 705.8h1.5v1.5h-1.5zM113.4 700.1h1.5v1.5h-1.5zM115.1 701.2h1.5v1.5h-1.5zM106.7 698.6h1.5v1.5h-1.5zM121.4 687.8h1.5v1.5h-1.5zM105.1 700.8h1.5v1.5h-1.5zM121.2 701.9h1.5v1.5h-1.5zM113.2 700.1h1.5v1.5h-1.5zM97.9 700.2h1.5v1.5h-1.5zM105.4 703.7h1.5v1.5h-1.5zM117.5 701.0h1.5v1.5h-1.5zM111.1 692.9h1.5v1.5h-1.5zM109.4 705.1h1.5v1.5h-1.5zM108.8 700.4h1.5v1.5h-1.5zM116.7 703.2h1.5v1.5h-1.5zM119.4 695.5h1.5v1.5h-1.5zM102.3 696.7h1.5v1.5h-1.5zM109.2 700.7h1.5v1.5h-1.5zM116.4 717.1h1.5v1.5h-1.5zM128.7 697.4h1.5v1.5h-1.5zM138.3 699.3h1.5v1.5h-1.5zM134.9 702.5h1.5v1.5h-1.5zM136.0 699.3h1.5v1.5h-1.5zM130.8 699.7h1.5v1.5h-1.5zM134.6 699.4h1.5v1.5h-1.5zM135.6 702.2h1.5v1.5h-1.5zM136.4 698.4h1.5v1.5h-1.5zM139.1 709.9h1.5v1.5h-1.5zM136.5 713.1h1.5v1.5h-1.5zM131.6 704.7h1.5v1.5h-1.5zM128.1 702.5h1.5v1.5h-1.5zM131.3 707.0h1.5v1.5h-1.5zM128.7 700.4h1.5v1.5h-1.5zM135.6 691.2h1.5v1.5h-1.5zM131.6 700.5h1.5v1.5h-1.5zM134.3 710.1h1.5v1.5h-1.5zM134.0 696.6h1.5v1.5h-1.5zM134.0 699.4h1.5v1.5h-1.5zM133.0 700.2h1.5v1.5h-1.5zM136.5 698.6h1.5v1.5h-1.5zM135.5 696.2h1.5v1.5h-1.5zM133.6 704.0h1.5v1.5h-1.5zM130.6 696.1h1.5v1.5h-1.5zM139.1 699.3h1.5v1.5h-1.5zM139.2 698.5h1.5v1.5h-1.5zM128.8 699.3h1.5v1.5h-1.5zM135.6 697.4h1.5v1.5h-1.5zM139.7 697.4h1.5v1.5h-1.5zM129.3 696.6h1.5v1.5h-1.5zM136.2 696.4h1.5v1.5h-1.5zM130.6 703.0h1.5v1.5h-1.5zM135.6 702.1h1.5v1.5h-1.5zM130.6 689.4h1.5v1.5h-1.5zM128.9 693.7h1.5v1.5h-1.5zM132.0 703.0h1.5v1.5h-1.5zM139.3 694.6h1.5v1.5h-1.5zM129.7 699.1h1.5v1.5h-1.5zM139.9 700.6h1.5v1.5h-1.5zM131.9 696.9h1.5v1.5h-1.5zM137.3 703.5h1.5v1.5h-1.5zM136.7 695.9h1.5v1.5h-1.5zM133.8 698.9h1.5v1.5h-1.5zM138.4 699.3h1.5v1.5h-1.5zM146.0 701.4h1.5v1.5h-1.5zM147.4 698.2h1.5v1.5h-1.5zM143.7 706.6h1.5v1.5h-1.5zM146.5 704.9h1.5v1.5h-1.5zM147.0 715.9h1.5v1.5h-1.5zM144.8 698.1h1.5v1.5h-1.5zM144.8 703.6h1.5v1.5h-1.5zM146.9 696.7h1.5v1.5h-1.5zM146.1 706.4h1.5v1.5h-1.5zM144.3 697.7h1.5v1.5h-1.5zM143.6 696.7h1.5v1.5h-1.5zM144.8 701.3h1.5v1.5h-1.5zM143.8 698.9h1.5v1.5h-1.5zM144.3 702.0h1.5v1.5h-1.5zM144.1 704.3h1.5v1.5h-1.5zM144.0 697.8h1.5v1.5h-1.5zM145.0 700.3h1.5v1.5h-1.5zM146.0 702.0h1.5v1.5h-1.5zM144.6 699.5h1.5v1.5h-1.5zM146.6 699.2h1.5v1.5h-1.5zM150.5 702.1h1.5v1.5h-1.5zM150.9 701.6h1.5v1.5h-1.5zM157.5 718.9h1.5v1.5h-1.5zM168.2 691.4h1.5v1.5h-1.5zM152.8 694.9h1.5v1.5h-1.5zM152.2 698.4h1.5v1.5h-1.5zM158.7 696.8h1.5v1.5h-1.5zM168.8 701.5h1.5v1.5h-1.5zM165.9 709.7h1.5v1.5h-1.5zM164.1 699.5h1.5v1.5h-1.5zM161.2 704.4h1.5v1.5h-1.5zM164.5 701.5h1.5v1.5h-1.5zM166.6 698.2h1.5v1.5h-1.5zM151.1 699.4h1.5v1.5h-1.5zM170.1 703.0h1.5v1.5h-1.5zM161.9 699.1h1.5v1.5h-1.5zM166.3 697.5h1.5v1.5h-1.5zM150.2 708.6h1.5v1.5h-1.5zM152.1 696.8h1.5v1.5h-1.5zM166.1 698.9h1.5v1.5h-1.5zM164.0 702.0h1.5v1.5h-1.5zM159.8 700.5h1.5v1.5h-1.5zM164.2 699.1h1.5v1.5h-1.5zM161.2 698.0h1.5v1.5h-1.5zM150.2 694.3h1.5v1.5h-1.5zM153.5 705.1h1.5v1.5h-1.5zM170.5 700.1h1.5v1.5h-1.5zM169.6 705.1h1.5v1.5h-1.5zM152.7 699.6h1.5v1.5h-1.5zM169.1 694.6h1.5v1.5h-1.5zM152.8 700.0h1.5v1.5h-1.5zM165.1 693.0h1.5v1.5h-1.5zM159.2 702.7h1.5v1.5h-1.5zM159.6 699.6h1.5v1.5h-1.5zM164.9 701.6h1.5v1.5h-1.5zM151.1 700.8h1.5v1.5h-1.5zM157.6 697.8h1.5v1.5h-1.5zM169.7 698.0h1.5v1.5h-1.5zM150.8 701.8h1.5v1.5h-1.5zM153.0 697.3h1.5v1.5h-1.5zM167.6 699.7h1.5v1.5h-1.5zM150.5 698.4h1.5v1.5h-1.5zM155.0 700.1h1.5v1.5h-1.5zM154.1 701.3h1.5v1.5h-1.5zM166.1 702.6h1.5v1.5h-1.5zM157.5 697.5h1.5v1.5h-1.5zM166.7 698.0h1.5v1.5h-1.5zM162.7 727.1h1.5v1.5h-1.5zM169.7 698.5h1.5v1.5h-1.5zM166.9 700.3h1.5v1.5h-1.5zM156.4 698.1h1.5v1.5h-1.5zM154.4 707.5h1.5v1.5h-1.5zM168.2 696.5h1.5v1.5h-1.5zM156.2 699.6h1.5v1.5h-1.5zM169.8 699.8h1.5v1.5h-1.5zM155.3 702.5h1.5v1.5h-1.5zM157.2 699.4h1.5v1.5h-1.5zM158.7 700.0h1.5v1.5h-1.5zM158.5 700.9h1.5v1.5h-1.5zM164.2 699.8h1.5v1.5h-1.5zM160.4 700.3h1.5v1.5h-1.5zM156.3 699.4h1.5v1.5h-1.5zM152.5 700.8h1.5v1.5h-1.5zM168.4 700.2h1.5v1.5h-1.5zM159.4 698.2h1.5v1.5h-1.5zM166.5 700.3h1.5v1.5h-1.5zM160.4 700.2h1.5v1.5h-1.5zM180.4 706.9h1.5v1.5h-1.5zM181.2 703.4h1.5v1.5h-1.5zM178.1 705.9h1.5v1.5h-1.5zM178.1 699.6h1.5v1.5h-1.5zM180.0 702.0h1.5v1.5h-1.5zM178.7 694.9h1.5v1.5h-1.5zM176.8 698.8h1.5v1.5h-1.5zM175.0 695.2h1.5v1.5h-1.5zM177.8 693.6h1.5v1.5h-1.5zM176.2 696.9h1.5v1.5h-1.5zM179.9 700.5h1.5v1.5h-1.5zM180.2 696.6h1.5v1.5h-1.5zM179.8 698.2h1.5v1.5h-1.5zM181.6 694.7h1.5v1.5h-1.5zM176.5 699.6h1.5v1.5h-1.5zM181.2 696.5h1.5v1.5h-1.5zM175.9 696.6h1.5v1.5h-1.5zM174.5 702.8h1.5v1.5h-1.5zM177.3 697.4h1.5v1.5h-1.5zM181.6 692.3h1.5v1.5h-1.5zM175.5 703.0h1.5v1.5h-1.5zM177.5 704.5h1.5v1.5h-1.5zM182.1 701.8h1.5v1.5h-1.5zM173.7 699.2h1.5v1.5h-1.5zM180.8 696.1h1.5v1.5h-1.5zM175.6 698.9h1.5v1.5h-1.5zM175.8 705.8h1.5v1.5h-1.5zM181.9 703.6h1.5v1.5h-1.5zM180.0 706.5h1.5v1.5h-1.5zM177.9 704.1h1.5v1.5h-1.5zM176.3 701.9h1.5v1.5h-1.5zM174.8 698.5h1.5v1.5h-1.5zM193.1 691.8h1.5v1.5h-1.5zM192.8 694.9h1.5v1.5h-1.5zM189.7 704.3h1.5v1.5h-1.5zM191.1 699.8h1.5v1.5h-1.5zM185.3 702.0h1.5v1.5h-1.5zM189.0 694.9h1.5v1.5h-1.5zM190.6 701.0h1.5v1.5h-1.5zM190.8 700.9h1.5v1.5h-1.5zM192.6 702.2h1.5v1.5h-1.5zM191.7 699.4h1.5v1.5h-1.5zM190.7 695.1h1.5v1.5h-1.5zM185.7 701.8h1.5v1.5h-1.5zM186.7 699.0h1.5v1.5h-1.5zM188.4 693.8h1.5v1.5h-1.5zM184.9 704.8h1.5v1.5h-1.5zM190.0 704.4h1.5v1.5h-1.5zM187.7 701.9h1.5v1.5h-1.5zM190.5 702.7h1.5v1.5h-1.5zM190.6 711.3h1.5v1.5h-1.5zM191.8 685.9h1.5v1.5h-1.5zM188.7 707.7h1.5v1.5h-1.5zM190.1 695.9h1.5v1.5h-1.5zM187.9 703.0h1.5v1.5h-1.5zM192.0 693.5h1.5v1.5h-1.5zM192.2 701.3h1.5v1.5h-1.5zM193.4 698.1h1.5v1.5h-1.5zM184.8 701.9h1.5v1.5h-1.5zM187.8 708.7h1.5v1.5h-1.5zM190.8 698.9h1.5v1.5h-1.5zM187.4 697.7h1.5v1.5h-1.5zM188.4 695.6h1.5v1.5h-1.5zM187.7 695.4h1.5v1.5h-1.5zM198.4 697.2h1.5v1.5h-1.5zM199.2 702.2h1.5v1.5h-1.5zM201.4 697.3h1.5v1.5h-1.5zM201.6 701.5h1.5v1.5h-1.5zM204.4 697.1h1.5v1.5h-1.5zM203.3 694.8h1.5v1.5h-1.5zM196.6 703.5h1.5v1.5h-1.5zM203.8 691.5h1.5v1.5h-1.5zM197.7 701.3h1.5v1.5h-1.5zM202.5 691.4h1.5v1.5h-1.5zM201.3 695.0h1.5v1.5h-1.5zM206.2 696.7h1.5v1.5h-1.5zM198.7 698.6h1.5v1.5h-1.5zM199.2 704.0h1.5v1.5h-1.5zM205.4 683.7h1.5v1.5h-1.5zM205.2 700.8h1.5v1.5h-1.5zM197.0 690.7h1.5v1.5h-1.5zM196.8 698.9h1.5v1.5h-1.5zM203.4 701.5h1.5v1.5h-1.5zM196.1 690.4h1.5v1.5h-1.5zM204.5 698.2h1.5v1.5h-1.5zM200.6 700.5h1.5v1.5h-1.5zM201.5 702.1h1.5v1.5h-1.5zM203.0 701.0h1.5v1.5h-1.5zM199.4 708.8h1.5v1.5h-1.5zM202.0 702.3h1.5v1.5h-1.5zM199.0 701.3h1.5v1.5h-1.5zM199.6 703.0h1.5v1.5h-1.5zM196.1 694.5h1.5v1.5h-1.5zM203.8 704.5h1.5v1.5h-1.5zM197.7 700.7h1.5v1.5h-1.5zM202.4 696.4h1.5v1.5h-1.5zM198.5 700.9h1.5v1.5h-1.5zM197.6 703.0h1.5v1.5h-1.5zM199.8 700.1h1.5v1.5h-1.5zM199.3 703.1h1.5v1.5h-1.5zM196.4 701.2h1.5v1.5h-1.5zM220.7 700.8h1.5v1.5h-1.5zM218.2 704.3h1.5v1.5h-1.5zM218.7 696.4h1.5v1.5h-1.5zM221.2 689.1h1.5v1.5h-1.5zM216.2 704.2h1.5v1.5h-1.5zM209.8 696.0h1.5v1.5h-1.5zM209.5 702.0h1.5v1.5h-1.5zM213.7 699.4h1.5v1.5h-1.5zM214.8 702.0h1.5v1.5h-1.5zM216.1 701.2h1.5v1.5h-1.5zM214.9 701.4h1.5v1.5h-1.5zM212.2 695.3h1.5v1.5h-1.5zM219.6 703.3h1.5v1.5h-1.5zM218.5 702.8h1.5v1.5h-1.5zM218.3 699.3h1.5v1.5h-1.5zM212.7 694.9h1.5v1.5h-1.5zM210.2 702.1h1.5v1.5h-1.5zM210.6 699.8h1.5v1.5h-1.5zM220.3 712.4h1.5v1.5h-1.5zM211.2 690.9h1.5v1.5h-1.5zM221.6 698.9h1.5v1.5h-1.5zM210.1 700.6h1.5v1.5h-1.5zM217.1 697.4h1.5v1.5h-1.5zM210.8 697.7h1.5v1.5h-1.5zM216.9 697.5h1.5v1.5h-1.5zM210.8 705.0h1.5v1.5h-1.5zM210.9 695.0h1.5v1.5h-1.5zM218.1 698.8h1.5v1.5h-1.5zM215.5 695.6h1.5v1.5h-1.5zM219.7 704.5h1.5v1.5h-1.5zM213.6 700.0h1.5v1.5h-1.5zM222.2 703.2h1.5v1.5h-1.5zM214.7 691.9h1.5v1.5h-1.5zM220.8 702.4h1.5v1.5h-1.5zM212.6 693.3h1.5v1.5h-1.5zM221.7 697.5h1.5v1.5h-1.5zM210.9 695.2h1.5v1.5h-1.5zM210.0 699.1h1.5v1.5h-1.5zM219.9 697.1h1.5v1.5h-1.5zM214.9 702.6h1.5v1.5h-1.5zM219.5 703.1h1.5v1.5h-1.5zM215.1 699.4h1.5v1.5h-1.5zM210.6 701.5h1.5v1.5h-1.5zM220.0 699.3h1.5v1.5h-1.5zM220.6 698.4h1.5v1.5h-1.5zM220.2 697.0h1.5v1.5h-1.5zM237.2 697.3h1.5v1.5h-1.5zM233.1 699.6h1.5v1.5h-1.5zM242.9 700.7h1.5v1.5h-1.5zM235.6 699.4h1.5v1.5h-1.5zM242.6 700.1h1.5v1.5h-1.5zM225.5 699.7h1.5v1.5h-1.5zM241.5 696.8h1.5v1.5h-1.5zM229.6 700.0h1.5v1.5h-1.5zM242.3 702.0h1.5v1.5h-1.5zM230.5 693.5h1.5v1.5h-1.5zM229.9 705.5h1.5v1.5h-1.5zM231.5 724.7h1.5v1.5h-1.5zM236.0 701.6h1.5v1.5h-1.5zM227.1 702.1h1.5v1.5h-1.5zM236.5 696.5h1.5v1.5h-1.5zM227.6 695.2h1.5v1.5h-1.5zM230.1 695.7h1.5v1.5h-1.5zM240.8 710.4h1.5v1.5h-1.5zM236.4 705.7h1.5v1.5h-1.5zM231.1 702.7h1.5v1.5h-1.5zM235.8 703.6h1.5v1.5h-1.5zM238.6 704.4h1.5v1.5h-1.5zM225.5 705.0h1.5v1.5h-1.5zM235.3 696.5h1.5v1.5h-1.5zM236.5 703.6h1.5v1.5h-1.5zM235.5 703.3h1.5v1.5h-1.5zM227.3 695.4h1.5v1.5h-1.5zM230.5 709.1h1.5v1.5h-1.5zM234.8 698.2h1.5v1.5h-1.5zM226.6 696.0h1.5v1.5h-1.5zM230.2 699.9h1.5v1.5h-1.5zM234.9 699.2h1.5v1.5h-1.5zM237.2 705.0h1.5v1.5h-1.5zM236.6 702.4h1.5v1.5h-1.5zM233.8 698.8h1.5v1.5h-1.5zM236.1 680.5h1.5v1.5h-1.5zM236.7 700.2h1.5v1.5h-1.5zM232.0 702.4h1.5v1.5h-1.5zM238.9 695.4h1.5v1.5h-1.5zM243.6 694.2h1.5v1.5h-1.5zM243.9 702.3h1.5v1.5h-1.5zM225.3 699.1h1.5v1.5h-1.5zM238.6 699.5h1.5v1.5h-1.5zM239.0 706.2h1.5v1.5h-1.5zM237.0 704.0h1.5v1.5h-1.5zM226.7 706.6h1.5v1.5h-1.5zM238.3 697.3h1.5v1.5h-1.5zM228.1 701.8h1.5v1.5h-1.5zM231.8 699.0h1.5v1.5h-1.5zM238.5 701.3h1.5v1.5h-1.5zM234.8 679.4h1.5v1.5h-1.5zM225.1 687.4h1.5v1.5h-1.5zM242.2 702.2h1.5v1.5h-1.5zM228.1 702.5h1.5v1.5h-1.5zM233.3 695.7h1.5v1.5h-1.5zM233.9 696.3h1.5v1.5h-1.5zM240.0 706.5h1.5v1.5h-1.5zM236.3 694.3h1.5v1.5h-1.5zM235.4 693.3h1.5v1.5h-1.5zM234.2 699.1h1.5v1.5h-1.5zM228.0 702.8h1.5v1.5h-1.5zM236.4 699.2h1.5v1.5h-1.5zM257.5 698.9h1.5v1.5h-1.5zM250.7 722.6h1.5v1.5h-1.5zM256.2 700.4h1.5v1.5h-1.5zM254.2 692.3h1.5v1.5h-1.5zM251.1 701.6h1.5v1.5h-1.5zM254.3 694.9h1.5v1.5h-1.5zM256.7 707.2h1.5v1.5h-1.5zM263.3 702.7h1.5v1.5h-1.5zM248.2 696.5h1.5v1.5h-1.5zM261.0 700.2h1.5v1.5h-1.5zM247.1 705.4h1.5v1.5h-1.5zM246.9 700.1h1.5v1.5h-1.5zM246.8 701.5h1.5v1.5h-1.5zM263.6 695.0h1.5v1.5h-1.5zM261.6 693.9h1.5v1.5h-1.5zM250.8 702.4h1.5v1.5h-1.5zM255.0 697.5h1.5v1.5h-1.5zM250.1 701.6h1.5v1.5h-1.5zM260.7 701.2h1.5v1.5h-1.5zM250.8 700.9h1.5v1.5h-1.5zM255.4 699.5h1.5v1.5h-1.5zM256.9 692.6h1.5v1.5h-1.5zM264.1 697.3h1.5v1.5h-1.5zM255.5 700.3h1.5v1.5h-1.5zM248.0 699.5h1.5v1.5h-1.5zM248.0 699.8h1.5v1.5h-1.5zM250.0 699.9h1.5v1.5h-1.5zM249.1 706.4h1.5v1.5h-1.5zM264.1 706.9h1.5v1.5h-1.5zM258.9 698.4h1.5v1.5h-1.5zM260.4 700.0h1.5v1.5h-1.5zM248.8 703.1h1.5v1.5h-1.5zM249.8 703.3h1.5v1.5h-1.5zM254.2 688.2h1.5v1.5h-1.5zM263.2 699.9h1.5v1.5h-1.5zM253.6 703.3h1.5v1.5h-1.5zM258.1 702.4h1.5v1.5h-1.5zM255.8 702.4h1.5v1.5h-1.5zM253.4 694.6h1.5v1.5h-1.5zM255.6 700.1h1.5v1.5h-1.5zM259.4 701.9h1.5v1.5h-1.5zM257.1 699.1h1.5v1.5h-1.5zM258.6 699.5h1.5v1.5h-1.5zM248.4 703.5h1.5v1.5h-1.5zM251.0 697.4h1.5v1.5h-1.5zM259.6 701.2h1.5v1.5h-1.5zM257.6 700.0h1.5v1.5h-1.5zM247.0 697.9h1.5v1.5h-1.5zM263.5 695.9h1.5v1.5h-1.5zM258.2 699.9h1.5v1.5h-1.5zM260.0 699.8h1.5v1.5h-1.5zM260.1 695.6h1.5v1.5h-1.5zM255.5 705.8h1.5v1.5h-1.5zM249.8 702.2h1.5v1.5h-1.5zM249.9 705.5h1.5v1.5h-1.5zM257.7 704.0h1.5v1.5h-1.5zM257.9 698.5h1.5v1.5h-1.5zM262.0 713.7h1.5v1.5h-1.5zM276.9 703.1h1.5v1.5h-1.5zM269.8 703.4h1.5v1.5h-1.5zM274.9 702.8h1.5v1.5h-1.5zM274.2 702.4h1.5v1.5h-1.5zM269.7 702.1h1.5v1.5h-1.5zM270.7 705.5h1.5v1.5h-1.5zM272.3 703.2h1.5v1.5h-1.5zM276.2 707.2h1.5v1.5h-1.5zM275.7 713.7h1.5v1.5h-1.5zM274.8 699.3h1.5v1.5h-1.5zM277.0 703.3h1.5v1.5h-1.5zM271.2 701.4h1.5v1.5h-1.5zM270.2 698.9h1.5v1.5h-1.5zM277.9 702.7h1.5v1.5h-1.5zM276.5 694.8h1.5v1.5h-1.5zM267.6 699.6h1.5v1.5h-1.5zM278.3 696.1h1.5v1.5h-1.5zM268.9 709.7h1.5v1.5h-1.5zM267.9 705.1h1.5v1.5h-1.5zM270.3 700.4h1.5v1.5h-1.5zM268.5 697.0h1.5v1.5h-1.5zM274.0 698.1h1.5v1.5h-1.5zM271.9 701.8h1.5v1.5h-1.5zM277.5 703.6h1.5v1.5h-1.5zM270.3 711.4h1.5v1.5h-1.5zM275.1 704.1h1.5v1.5h-1.5zM278.4 699.0h1.5v1.5h-1.5zM274.5 692.0h1.5v1.5h-1.5zM273.5 703.2h1.5v1.5h-1.5zM271.1 699.6h1.5v1.5h-1.5zM268.6 699.8h1.5v1.5h-1.5zM273.2 699.8h1.5v1.5h-1.5zM271.7 706.7h1.5v1.5h-1.5zM270.3 705.6h1.5v1.5h-1.5zM271.0 700.2h1.5v1.5h-1.5zM275.2 693.7h1.5v1.5h-1.5zM275.7 702.2h1.5v1.5h-1.5zM270.9 698.5h1.5v1.5h-1.5zM268.7 696.3h1.5v1.5h-1.5zM271.1 695.4h1.5v1.5h-1.5zM272.0 686.2h1.5v1.5h-1.5zM277.1 706.4h1.5v1.5h-1.5zM278.2 701.1h1.5v1.5h-1.5zM289.6 700.8h1.5v1.5h-1.5zM295.3 700.2h1.5v1.5h-1.5zM290.9 701.3h1.5v1.5h-1.5zM300.1 695.9h1.5v1.5h-1.5zM286.8 694.3h1.5v1.5h-1.5zM290.7 710.2h1.5v1.5h-1.5zM288.4 697.5h1.5v1.5h-1.5zM289.3 704.1h1.5v1.5h-1.5zM302.2 701.1h1.5v1.5h-1.5zM288.9 708.8h1.5v1.5h-1.5zM296.4 700.1h1.5v1.5h-1.5zM282.8 700.8h1.5v1.5h-1.5zM287.9 698.7h1.5v1.5h-1.5zM282.2 700.5h1.5v1.5h-1.5zM283.7 703.8h1.5v1.5h-1.5zM283.4 702.5h1.5v1.5h-1.5zM298.8 700.4h1.5v1.5h-1.5zM293.1 695.4h1.5v1.5h-1.5zM290.2 698.9h1.5v1.5h-1.5zM284.0 701.7h1.5v1.5h-1.5zM283.3 701.4h1.5v1.5h-1.5zM302.2 720.5h1.5v1.5h-1.5zM294.8 701.4h1.5v1.5h-1.5zM285.4 708.2h1.5v1.5h-1.5zM282.6 698.8h1.5v1.5h-1.5zM284.1 705.0h1.5v1.5h-1.5zM298.8 700.1h1.5v1.5h-1.5zM288.0 699.3h1.5v1.5h-1.5zM282.5 700.6h1.5v1.5h-1.5zM300.9 694.5h1.5v1.5h-1.5zM296.6 701.4h1.5v1.5h-1.5zM291.2 707.2h1.5v1.5h-1.5zM289.2 696.5h1.5v1.5h-1.5zM286.2 703.2h1.5v1.5h-1.5zM282.9 698.8h1.5v1.5h-1.5zM297.3 708.7h1.5v1.5h-1.5zM295.0 698.1h1.5v1.5h-1.5zM298.5 710.3h1.5v1.5h-1.5zM298.2 698.5h1.5v1.5h-1.5zM291.9 704.3h1.5v1.5h-1.5zM300.5 703.7h1.5v1.5h-1.5zM296.8 703.5h1.5v1.5h-1.5zM295.1 705.4h1.5v1.5h-1.5zM292.8 699.5h1.5v1.5h-1.5zM299.1 697.5h1.5v1.5h-1.5zM282.5 696.9h1.5v1.5h-1.5zM285.6 716.7h1.5v1.5h-1.5zM285.6 703.8h1.5v1.5h-1.5zM287.5 699.8h1.5v1.5h-1.5zM285.3 702.6h1.5v1.5h-1.5zM287.2 715.5h1.5v1.5h-1.5zM290.9 696.8h1.5v1.5h-1.5zM291.9 704.0h1.5v1.5h-1.5zM297.9 696.3h1.5v1.5h-1.5zM298.0 697.0h1.5v1.5h-1.5zM284.2 696.4h1.5v1.5h-1.5zM295.3 692.2h1.5v1.5h-1.5zM283.3 700.4h1.5v1.5h-1.5zM282.5 701.5h1.5v1.5h-1.5zM300.3 700.4h1.5v1.5h-1.5zM300.0 698.5h1.5v1.5h-1.5zM297.0 700.2h1.5v1.5h-1.5zM285.4 700.6h1.5v1.5h-1.5zM302.6 697.9h1.5v1.5h-1.5zM298.3 696.6h1.5v1.5h-1.5zM283.3 689.2h1.5v1.5h-1.5zM294.0 701.3h1.5v1.5h-1.5zM297.9 696.3h1.5v1.5h-1.5zM292.7 719.3h1.5v1.5h-1.5zM291.8 703.3h1.5v1.5h-1.5zM294.5 707.8h1.5v1.5h-1.5zM311.2 697.1h1.5v1.5h-1.5zM306.7 704.0h1.5v1.5h-1.5zM317.6 719.7h1.5v1.5h-1.5zM320.2 701.8h1.5v1.5h-1.5zM318.5 699.8h1.5v1.5h-1.5zM312.9 696.5h1.5v1.5h-1.5zM316.4 695.8h1.5v1.5h-1.5zM320.1 697.5h1.5v1.5h-1.5zM320.7 700.8h1.5v1.5h-1.5zM311.6 694.8h1.5v1.5h-1.5zM309.9 701.1h1.5v1.5h-1.5zM306.7 700.1h1.5v1.5h-1.5zM317.3 694.5h1.5v1.5h-1.5zM315.8 698.8h1.5v1.5h-1.5zM310.3 702.8h1.5v1.5h-1.5zM317.0 700.1h1.5v1.5h-1.5zM311.3 701.1h1.5v1.5h-1.5zM309.9 691.9h1.5v1.5h-1.5zM319.8 712.2h1.5v1.5h-1.5zM324.4 702.9h1.5v1.5h-1.5zM312.8 701.2h1.5v1.5h-1.5zM309.4 701.2h1.5v1.5h-1.5zM318.2 696.0h1.5v1.5h-1.5zM316.0 702.5h1.5v1.5h-1.5zM312.1 696.1h1.5v1.5h-1.5zM311.7 696.8h1.5v1.5h-1.5zM324.3 699.8h1.5v1.5h-1.5zM324.1 703.1h1.5v1.5h-1.5zM314.9 688.9h1.5v1.5h-1.5zM312.4 698.8h1.5v1.5h-1.5zM307.6 696.2h1.5v1.5h-1.5zM323.6 695.8h1.5v1.5h-1.5zM316.0 699.7h1.5v1.5h-1.5zM320.6 706.9h1.5v1.5h-1.5zM316.6 699.6h1.5v1.5h-1.5zM314.1 699.4h1.5v1.5h-1.5zM323.8 700.2h1.5v1.5h-1.5zM308.1 703.3h1.5v1.5h-1.5zM310.2 705.3h1.5v1.5h-1.5zM312.6 701.6h1.5v1.5h-1.5zM319.0 704.2h1.5v1.5h-1.5zM307.6 703.2h1.5v1.5h-1.5zM312.7 703.2h1.5v1.5h-1.5zM314.6 701.5h1.5v1.5h-1.5zM315.7 698.2h1.5v1.5h-1.5zM316.1 697.8h1.5v1.5h-1.5zM316.9 700.5h1.5v1.5h-1.5zM321.7 701.1h1.5v1.5h-1.5zM309.3 701.1h1.5v1.5h-1.5zM323.0 701.1h1.5v1.5h-1.5zM313.7 706.8h1.5v1.5h-1.5zM309.6 698.4h1.5v1.5h-1.5zM316.3 698.3h1.5v1.5h-1.5zM317.3 698.8h1.5v1.5h-1.5zM306.7 694.1h1.5v1.5h-1.5zM322.0 703.8h1.5v1.5h-1.5zM311.9 706.2h1.5v1.5h-1.5zM316.4 702.7h1.5v1.5h-1.5zM310.6 697.0h1.5v1.5h-1.5zM307.7 698.2h1.5v1.5h-1.5zM323.9 696.6h1.5v1.5h-1.5z" fill="#3445a6"/>
<text x="60.20" y="685.55" font-size="13.3" font-weight="normal" font-style="normal" text-anchor="end" fill="#000" >1</text>
<text x="60.20" y="706.00" font-size="13.3" font-weight="normal" font-style="normal" text-anchor="end" fill="#000" >0</text>
<text x="60.20" y="726.45" font-size="13.3" font-weight="normal" font-style="normal" text-anchor="end" fill="#000" >-1</text>
<text x="335.00" y="707.10" font-size="15.5" font-weight="bold" font-style="normal" text-anchor="start" fill="#000" >#2</text>
<line x1="65.2" y1="767.50" x2="326.7" y2="767.50" stroke="#7a7a7a" stroke-width="1.2"/>
<line x1="65.2" y1="788.50" x2="326.7" y2="788.50" stroke="#7a7a7a" stroke-width="1.2"/>
<line x1="65.2" y1="808.50" x2="326.7" y2="808.50" stroke="#7a7a7a" stroke-width="1.2"/>
<line x1="70.50" y1="747.2" x2="70.50" y2="829.0" stroke="#a0a0a0" stroke-width="1"/>
<line x1="70.50" y1="747" x2="70.50" y2="829.0" stroke="#3a3a3a" stroke-width="1" stroke-dasharray="1 1"/>
<line x1="90.50" y1="747.2" x2="90.50" y2="829.0" stroke="#a0a0a0" stroke-width="1"/>
<line x1="90.50" y1="747" x2="90.50" y2="829.0" stroke="#3a3a3a" stroke-width="1" stroke-dasharray="1 1"/>
<line x1="97.50" y1="747.2" x2="97.50" y2="829.0" stroke="#a0a0a0" stroke-width="1"/>
<line x1="97.50" y1="747" x2="97.50" y2="829.0" stroke="#3a3a3a" stroke-width="1" stroke-dasharray="1 1"/>
<line x1="127.50" y1="747.2" x2="127.50" y2="829.0" stroke="#a0a0a0" stroke-width="1"/>
<line x1="127.50" y1="747" x2="127.50" y2="829.0" stroke="#3a3a3a" stroke-width="1" stroke-dasharray="1 1"/>
<line x1="142.50" y1="747.2" x2="142.50" y2="829.0" stroke="#a0a0a0" stroke-width="1"/>
<line x1="142.50" y1="747" x2="142.50" y2="829.0" stroke="#3a3a3a" stroke-width="1" stroke-dasharray="1 1"/>
<line x1="149.50" y1="747.2" x2="149.50" y2="829.0" stroke="#a0a0a0" stroke-width="1"/>
<line x1="149.50" y1="747" x2="149.50" y2="829.0" stroke="#3a3a3a" stroke-width="1" stroke-dasharray="1 1"/>
<line x1="173.50" y1="747.2" x2="173.50" y2="829.0" stroke="#a0a0a0" stroke-width="1"/>
<line x1="173.50" y1="747" x2="173.50" y2="829.0" stroke="#3a3a3a" stroke-width="1" stroke-dasharray="1 1"/>
<line x1="184.50" y1="747.2" x2="184.50" y2="829.0" stroke="#a0a0a0" stroke-width="1"/>
<line x1="184.50" y1="747" x2="184.50" y2="829.0" stroke="#3a3a3a" stroke-width="1" stroke-dasharray="1 1"/>
<line x1="195.50" y1="747.2" x2="195.50" y2="829.0" stroke="#a0a0a0" stroke-width="1"/>
<line x1="195.50" y1="747" x2="195.50" y2="829.0" stroke="#3a3a3a" stroke-width="1" stroke-dasharray="1 1"/>
<line x1="208.50" y1="747.2" x2="208.50" y2="829.0" stroke="#a0a0a0" stroke-width="1"/>
<line x1="208.50" y1="747" x2="208.50" y2="829.0" stroke="#3a3a3a" stroke-width="1" stroke-dasharray="1 1"/>
<line x1="224.50" y1="747.2" x2="224.50" y2="829.0" stroke="#a0a0a0" stroke-width="1"/>
<line x1="224.50" y1="747" x2="224.50" y2="829.0" stroke="#3a3a3a" stroke-width="1" stroke-dasharray="1 1"/>
<line x1="246.50" y1="747.2" x2="246.50" y2="829.0" stroke="#a0a0a0" stroke-width="1"/>
<line x1="246.50" y1="747" x2="246.50" y2="829.0" stroke="#3a3a3a" stroke-width="1" stroke-dasharray="1 1"/>
<line x1="266.50" y1="747.2" x2="266.50" y2="829.0" stroke="#a0a0a0" stroke-width="1"/>
<line x1="266.50" y1="747" x2="266.50" y2="829.0" stroke="#3a3a3a" stroke-width="1" stroke-dasharray="1 1"/>
<line x1="281.50" y1="747.2" x2="281.50" y2="829.0" stroke="#a0a0a0" stroke-width="1"/>
<line x1="281.50" y1="747" x2="281.50" y2="829.0" stroke="#3a3a3a" stroke-width="1" stroke-dasharray="1 1"/>
<line x1="305.50" y1="747.2" x2="305.50" y2="829.0" stroke="#a0a0a0" stroke-width="1"/>
<line x1="305.50" y1="747" x2="305.50" y2="829.0" stroke="#3a3a3a" stroke-width="1" stroke-dasharray="1 1"/>
<rect x="65.2" y="747.2" width="261.5" height="81.8" fill="none" stroke="#444" stroke-width="1.1"/>
<path d="M65.8 787.8h1.5v1.5h-1.5zM66.7 784.9h1.5v1.5h-1.5zM65.8 786.0h1.5v1.5h-1.5zM67.0 781.5h1.5v1.5h-1.5zM67.0 792.9h1.5v1.5h-1.5zM66.7 786.4h1.5v1.5h-1.5zM67.7 789.6h1.5v1.5h-1.5zM66.2 783.4h1.5v1.5h-1.5zM66.4 783.9h1.5v1.5h-1.5zM67.9 779.4h1.5v1.5h-1.5zM67.6 792.5h1.5v1.5h-1.5zM67.5 794.5h1.5v1.5h-1.5zM67.2 792.2h1.5v1.5h-1.5zM68.2 785.7h1.5v1.5h-1.5zM66.6 780.9h1.5v1.5h-1.5zM81.8 785.9h1.5v1.5h-1.5zM77.7 779.5h1.5v1.5h-1.5zM78.9 789.9h1.5v1.5h-1.5zM72.5 802.0h1.5v1.5h-1.5zM81.4 794.3h1.5v1.5h-1.5zM87.8 787.6h1.5v1.5h-1.5zM78.3 792.6h1.5v1.5h-1.5zM87.9 791.5h1.5v1.5h-1.5zM74.6 784.2h1.5v1.5h-1.5zM74.8 793.0h1.5v1.5h-1.5zM86.1 797.9h1.5v1.5h-1.5zM86.7 790.2h1.5v1.5h-1.5zM87.4 790.6h1.5v1.5h-1.5zM75.9 790.2h1.5v1.5h-1.5zM86.3 784.8h1.5v1.5h-1.5zM81.6 787.7h1.5v1.5h-1.5zM87.2 787.9h1.5v1.5h-1.5zM73.9 785.6h1.5v1.5h-1.5zM80.6 786.2h1.5v1.5h-1.5zM82.6 785.3h1.5v1.5h-1.5zM73.0 781.9h1.5v1.5h-1.5zM80.0 788.0h1.5v1.5h-1.5zM71.4 785.9h1.5v1.5h-1.5zM76.8 791.7h1.5v1.5h-1.5zM86.9 783.3h1.5v1.5h-1.5zM87.1 784.9h1.5v1.5h-1.5zM74.2 786.0h1.5v1.5h-1.5zM82.2 790.6h1.5v1.5h-1.5zM74.3 787.8h1.5v1.5h-1.5zM72.5 788.2h1.5v1.5h-1.5zM78.0 786.4h1.5v1.5h-1.5zM81.9 782.6h1.5v1.5h-1.5zM81.7 781.7h1.5v1.5h-1.5zM77.2 781.6h1.5v1.5h-1.5zM81.1 774.8h1.5v1.5h-1.5zM73.3 790.7h1.5v1.5h-1.5zM72.4 785.9h1.5v1.5h-1.5zM77.0 782.5h1.5v1.5h-1.5zM86.0 787.4h1.5v1.5h-1.5zM71.9 780.3h1.5v1.5h-1.5zM83.1 788.1h1.5v1.5h-1.5zM80.0 788.0h1.5v1.5h-1.5zM75.7 791.0h1.5v1.5h-1.5zM86.7 788.1h1.5v1.5h-1.5zM76.9 787.2h1.5v1.5h-1.5zM74.6 789.7h1.5v1.5h-1.5zM78.1 797.3h1.5v1.5h-1.5zM79.0 783.3h1.5v1.5h-1.5zM75.3 787.1h1.5v1.5h-1.5zM78.7 788.2h1.5v1.5h-1.5zM75.9 785.7h1.5v1.5h-1.5zM71.6 783.3h1.5v1.5h-1.5zM75.4 784.7h1.5v1.5h-1.5zM86.0 790.8h1.5v1.5h-1.5zM74.1 792.5h1.5v1.5h-1.5zM85.1 787.9h1.5v1.5h-1.5zM71.2 788.5h1.5v1.5h-1.5zM71.1 784.3h1.5v1.5h-1.5zM91.2 786.1h1.5v1.5h-1.5zM91.4 782.4h1.5v1.5h-1.5zM91.1 786.5h1.5v1.5h-1.5zM95.2 783.0h1.5v1.5h-1.5zM94.0 779.4h1.5v1.5h-1.5zM93.5 788.0h1.5v1.5h-1.5zM90.8 799.0h1.5v1.5h-1.5zM95.2 786.4h1.5v1.5h-1.5zM91.7 790.3h1.5v1.5h-1.5zM91.5 789.9h1.5v1.5h-1.5zM94.3 788.0h1.5v1.5h-1.5zM95.0 787.5h1.5v1.5h-1.5zM94.2 794.5h1.5v1.5h-1.5zM94.9 786.8h1.5v1.5h-1.5zM92.4 784.9h1.5v1.5h-1.5zM92.1 784.5h1.5v1.5h-1.5zM92.4 781.6h1.5v1.5h-1.5zM92.8 788.0h1.5v1.5h-1.5zM91.8 788.1h1.5v1.5h-1.5zM92.6 784.8h1.5v1.5h-1.5zM91.1 791.5h1.5v1.5h-1.5zM109.0 795.4h1.5v1.5h-1.5zM104.9 775.9h1.5v1.5h-1.5zM112.8 783.8h1.5v1.5h-1.5zM120.3 779.1h1.5v1.5h-1.5zM124.2 782.5h1.5v1.5h-1.5zM119.6 792.6h1.5v1.5h-1.5zM106.5 789.7h1.5v1.5h-1.5zM119.4 780.4h1.5v1.5h-1.5zM117.3 785.4h1.5v1.5h-1.5zM98.4 785.6h1.5v1.5h-1.5zM107.0 791.5h1.5v1.5h-1.5zM120.2 787.7h1.5v1.5h-1.5zM110.6 808.9h1.5v1.5h-1.5zM115.2 785.3h1.5v1.5h-1.5zM105.9 784.1h1.5v1.5h-1.5zM118.6 764.3h1.5v1.5h-1.5zM124.7 793.5h1.5v1.5h-1.5zM118.1 789.8h1.5v1.5h-1.5zM100.7 783.6h1.5v1.5h-1.5zM108.1 783.8h1.5v1.5h-1.5zM107.1 783.8h1.5v1.5h-1.5zM115.3 786.4h1.5v1.5h-1.5zM116.8 785.8h1.5v1.5h-1.5zM111.5 798.1h1.5v1.5h-1.5zM99.4 783.6h1.5v1.5h-1.5zM119.7 788.5h1.5v1.5h-1.5zM106.0 781.9h1.5v1.5h-1.5zM100.5 788.5h1.5v1.5h-1.5zM117.9 789.6h1.5v1.5h-1.5zM115.0 788.5h1.5v1.5h-1.5zM114.7 783.5h1.5v1.5h-1.5zM98.9 784.3h1.5v1.5h-1.5zM103.6 790.8h1.5v1.5h-1.5zM104.2 783.3h1.5v1.5h-1.5zM122.1 783.7h1.5v1.5h-1.5zM114.1 784.7h1.5v1.5h-1.5zM108.3 796.3h1.5v1.5h-1.5zM123.8 791.0h1.5v1.5h-1.5zM100.3 788.9h1.5v1.5h-1.5zM104.2 792.0h1.5v1.5h-1.5zM122.9 790.4h1.5v1.5h-1.5zM103.5 791.4h1.5v1.5h-1.5zM110.7 777.9h1.5v1.5h-1.5zM102.9 786.2h1.5v1.5h-1.5zM117.9 792.0h1.5v1.5h-1.5zM115.9 792.3h1.5v1.5h-1.5zM108.2 780.4h1.5v1.5h-1.5zM125.3 789.6h1.5v1.5h-1.5zM115.0 790.1h1.5v1.5h-1.5zM105.4 786.3h1.5v1.5h-1.5zM100.3 782.5h1.5v1.5h-1.5zM111.8 783.3h1.5v1.5h-1.5zM118.2 791.2h1.5v1.5h-1.5zM111.9 787.7h1.5v1.5h-1.5zM101.0 787.0h1.5v1.5h-1.5zM107.4 786.7h1.5v1.5h-1.5zM101.2 785.0h1.5v1.5h-1.5zM124.9 784.8h1.5v1.5h-1.5zM122.0 785.5h1.5v1.5h-1.5zM101.9 774.4h1.5v1.5h-1.5zM121.1 788.4h1.5v1.5h-1.5zM118.0 774.8h1.5v1.5h-1.5zM118.8 796.5h1.5v1.5h-1.5zM117.2 793.0h1.5v1.5h-1.5zM113.6 789.9h1.5v1.5h-1.5zM110.2 789.1h1.5v1.5h-1.5zM123.5 793.8h1.5v1.5h-1.5zM104.0 786.9h1.5v1.5h-1.5zM123.6 787.2h1.5v1.5h-1.5zM121.2 788.0h1.5v1.5h-1.5zM103.8 782.8h1.5v1.5h-1.5zM119.7 784.9h1.5v1.5h-1.5zM105.7 787.7h1.5v1.5h-1.5zM119.7 775.5h1.5v1.5h-1.5zM112.4 788.0h1.5v1.5h-1.5zM120.4 792.3h1.5v1.5h-1.5zM120.7 792.1h1.5v1.5h-1.5zM98.7 785.8h1.5v1.5h-1.5zM121.2 790.8h1.5v1.5h-1.5zM102.4 789.2h1.5v1.5h-1.5zM102.2 794.2h1.5v1.5h-1.5zM103.8 784.6h1.5v1.5h-1.5zM117.1 788.3h1.5v1.5h-1.5zM123.0 788.8h1.5v1.5h-1.5zM121.1 785.8h1.5v1.5h-1.5zM122.9 786.5h1.5v1.5h-1.5zM117.7 788.1h1.5v1.5h-1.5zM106.7 789.2h1.5v1.5h-1.5zM120.9 786.4h1.5v1.5h-1.5zM119.9 785.8h1.5v1.5h-1.5zM138.2 785.1h1.5v1.5h-1.5zM128.2 791.2h1.5v1.5h-1.5zM138.8 783.2h1.5v1.5h-1.5zM137.3 786.5h1.5v1.5h-1.5zM128.8 791.2h1.5v1.5h-1.5zM133.3 791.2h1.5v1.5h-1.5zM133.0 790.4h1.5v1.5h-1.5zM138.4 786.2h1.5v1.5h-1.5zM131.4 780.2h1.5v1.5h-1.5zM132.8 778.5h1.5v1.5h-1.5zM132.6 789.3h1.5v1.5h-1.5zM134.3 807.2h1.5v1.5h-1.5zM136.6 787.4h1.5v1.5h-1.5zM130.2 795.3h1.5v1.5h-1.5zM137.7 785.0h1.5v1.5h-1.5zM132.6 783.6h1.5v1.5h-1.5zM133.6 791.2h1.5v1.5h-1.5zM137.8 790.4h1.5v1.5h-1.5zM132.6 787.0h1.5v1.5h-1.5zM133.0 795.0h1.5v1.5h-1.5zM134.7 785.9h1.5v1.5h-1.5zM130.2 793.3h1.5v1.5h-1.5zM134.2 787.2h1.5v1.5h-1.5zM136.5 780.8h1.5v1.5h-1.5zM131.1 785.3h1.5v1.5h-1.5zM133.8 778.0h1.5v1.5h-1.5zM135.7 789.5h1.5v1.5h-1.5zM129.4 785.5h1.5v1.5h-1.5zM135.3 784.2h1.5v1.5h-1.5zM138.8 786.1h1.5v1.5h-1.5zM133.8 787.0h1.5v1.5h-1.5zM135.2 799.0h1.5v1.5h-1.5zM133.5 790.7h1.5v1.5h-1.5zM137.4 788.9h1.5v1.5h-1.5zM130.8 780.4h1.5v1.5h-1.5zM134.7 780.8h1.5v1.5h-1.5zM135.6 795.9h1.5v1.5h-1.5zM131.6 792.1h1.5v1.5h-1.5zM134.9 778.1h1.5v1.5h-1.5zM138.0 792.5h1.5v1.5h-1.5zM139.4 790.6h1.5v1.5h-1.5zM130.2 789.8h1.5v1.5h-1.5zM137.3 789.4h1.5v1.5h-1.5zM136.7 796.3h1.5v1.5h-1.5zM139.2 791.8h1.5v1.5h-1.5zM144.9 788.7h1.5v1.5h-1.5zM145.4 788.1h1.5v1.5h-1.5zM146.0 787.6h1.5v1.5h-1.5zM144.4 783.1h1.5v1.5h-1.5zM146.9 793.3h1.5v1.5h-1.5zM144.9 790.9h1.5v1.5h-1.5zM146.0 786.8h1.5v1.5h-1.5zM147.0 793.5h1.5v1.5h-1.5zM147.2 784.2h1.5v1.5h-1.5zM144.7 784.0h1.5v1.5h-1.5zM145.8 794.2h1.5v1.5h-1.5zM145.9 788.9h1.5v1.5h-1.5zM146.3 784.3h1.5v1.5h-1.5zM146.0 789.9h1.5v1.5h-1.5zM143.5 787.8h1.5v1.5h-1.5zM147.4 788.9h1.5v1.5h-1.5zM145.3 785.3h1.5v1.5h-1.5zM144.3 788.0h1.5v1.5h-1.5zM144.7 782.5h1.5v1.5h-1.5zM145.1 777.7h1.5v1.5h-1.5zM144.2 780.2h1.5v1.5h-1.5zM151.5 781.8h1.5v1.5h-1.5zM156.9 812.1h1.5v1.5h-1.5zM150.8 784.8h1.5v1.5h-1.5zM170.7 784.7h1.5v1.5h-1.5zM157.7 786.3h1.5v1.5h-1.5zM158.1 790.2h1.5v1.5h-1.5zM154.0 786.3h1.5v1.5h-1.5zM162.1 787.8h1.5v1.5h-1.5zM154.6 793.8h1.5v1.5h-1.5zM152.6 789.6h1.5v1.5h-1.5zM154.5 784.3h1.5v1.5h-1.5zM156.4 789.7h1.5v1.5h-1.5zM159.1 787.9h1.5v1.5h-1.5zM161.4 778.9h1.5v1.5h-1.5zM152.5 792.4h1.5v1.5h-1.5zM164.0 783.7h1.5v1.5h-1.5zM168.2 788.1h1.5v1.5h-1.5zM158.2 783.8h1.5v1.5h-1.5zM168.0 793.2h1.5v1.5h-1.5zM158.7 790.2h1.5v1.5h-1.5zM168.9 787.6h1.5v1.5h-1.5zM168.7 786.8h1.5v1.5h-1.5zM160.5 787.7h1.5v1.5h-1.5zM160.7 789.9h1.5v1.5h-1.5zM165.9 789.3h1.5v1.5h-1.5zM155.9 786.7h1.5v1.5h-1.5zM159.0 782.2h1.5v1.5h-1.5zM166.1 788.2h1.5v1.5h-1.5zM160.9 784.5h1.5v1.5h-1.5zM163.4 790.2h1.5v1.5h-1.5zM158.1 797.7h1.5v1.5h-1.5zM156.6 785.2h1.5v1.5h-1.5zM165.5 784.7h1.5v1.5h-1.5zM157.5 785.2h1.5v1.5h-1.5zM162.0 783.8h1.5v1.5h-1.5zM166.6 783.6h1.5v1.5h-1.5zM164.5 792.1h1.5v1.5h-1.5zM154.6 786.4h1.5v1.5h-1.5zM157.0 787.1h1.5v1.5h-1.5zM155.5 789.2h1.5v1.5h-1.5zM164.8 789.9h1.5v1.5h-1.5zM151.5 791.8h1.5v1.5h-1.5zM161.6 794.5h1.5v1.5h-1.5zM158.6 780.6h1.5v1.5h-1.5zM165.7 789.0h1.5v1.5h-1.5zM168.5 792.3h1.5v1.5h-1.5zM156.4 788.0h1.5v1.5h-1.5zM163.5 790.0h1.5v1.5h-1.5zM162.6 787.3h1.5v1.5h-1.5zM169.0 785.9h1.5v1.5h-1.5zM168.6 791.3h1.5v1.5h-1.5zM161.5 783.4h1.5v1.5h-1.5zM161.3 788.3h1.5v1.5h-1.5zM159.7 789.1h1.5v1.5h-1.5zM151.8 786.2h1.5v1.5h-1.5zM150.7 776.8h1.5v1.5h-1.5zM156.7 783.4h1.5v1.5h-1.5zM161.6 787.4h1.5v1.5h-1.5zM169.3 789.4h1.5v1.5h-1.5zM151.3 789.1h1.5v1.5h-1.5zM163.5 789.1h1.5v1.5h-1.5zM160.7 791.0h1.5v1.5h-1.5zM167.8 788.0h1.5v1.5h-1.5zM162.0 782.6h1.5v1.5h-1.5zM168.1 792.1h1.5v1.5h-1.5zM158.6 783.2h1.5v1.5h-1.5zM161.2 788.8h1.5v1.5h-1.5zM162.7 789.8h1.5v1.5h-1.5zM158.0 788.8h1.5v1.5h-1.5zM165.1 788.7h1.5v1.5h-1.5zM180.0 794.7h1.5v1.5h-1.5zM176.3 778.0h1.5v1.5h-1.5zM180.4 783.2h1.5v1.5h-1.5zM175.4 788.2h1.5v1.5h-1.5zM178.1 787.5h1.5v1.5h-1.5zM180.9 781.5h1.5v1.5h-1.5zM173.6 786.9h1.5v1.5h-1.5zM181.2 773.6h1.5v1.5h-1.5zM175.8 787.1h1.5v1.5h-1.5zM180.1 784.1h1.5v1.5h-1.5zM179.8 785.5h1.5v1.5h-1.5zM176.8 790.2h1.5v1.5h-1.5zM179.1 786.0h1.5v1.5h-1.5zM180.3 784.3h1.5v1.5h-1.5zM175.1 797.0h1.5v1.5h-1.5zM177.4 784.7h1.5v1.5h-1.5zM178.8 788.3h1.5v1.5h-1.5zM181.7 790.3h1.5v1.5h-1.5zM179.3 788.4h1.5v1.5h-1.5zM177.6 783.7h1.5v1.5h-1.5zM178.7 778.1h1.5v1.5h-1.5zM179.9 789.3h1.5v1.5h-1.5zM179.2 787.7h1.5v1.5h-1.5zM180.3 787.8h1.5v1.5h-1.5zM173.9 786.1h1.5v1.5h-1.5zM173.7 791.3h1.5v1.5h-1.5zM173.9 767.5h1.5v1.5h-1.5zM174.4 790.1h1.5v1.5h-1.5zM178.8 785.2h1.5v1.5h-1.5zM173.7 789.0h1.5v1.5h-1.5zM182.1 791.1h1.5v1.5h-1.5zM180.2 789.3h1.5v1.5h-1.5zM177.1 787.8h1.5v1.5h-1.5zM186.9 784.3h1.5v1.5h-1.5zM191.8 790.8h1.5v1.5h-1.5zM187.8 790.6h1.5v1.5h-1.5zM193.4 789.3h1.5v1.5h-1.5zM192.1 789.0h1.5v1.5h-1.5zM191.3 790.1h1.5v1.5h-1.5zM190.6 795.4h1.5v1.5h-1.5zM190.8 782.1h1.5v1.5h-1.5zM191.5 784.4h1.5v1.5h-1.5zM191.3 784.5h1.5v1.5h-1.5zM188.8 775.7h1.5v1.5h-1.5zM187.8 786.5h1.5v1.5h-1.5zM190.8 788.1h1.5v1.5h-1.5zM188.4 784.0h1.5v1.5h-1.5zM193.4 790.3h1.5v1.5h-1.5zM192.7 791.1h1.5v1.5h-1.5zM186.0 780.3h1.5v1.5h-1.5zM188.3 786.5h1.5v1.5h-1.5zM190.2 783.9h1.5v1.5h-1.5zM189.6 785.6h1.5v1.5h-1.5zM189.8 790.4h1.5v1.5h-1.5zM187.3 782.7h1.5v1.5h-1.5zM186.3 783.3h1.5v1.5h-1.5zM187.6 789.1h1.5v1.5h-1.5zM192.4 776.3h1.5v1.5h-1.5zM190.7 788.6h1.5v1.5h-1.5zM192.9 787.1h1.5v1.5h-1.5zM185.1 792.8h1.5v1.5h-1.5zM187.0 783.7h1.5v1.5h-1.5zM188.5 783.0h1.5v1.5h-1.5zM187.2 786.2h1.5v1.5h-1.5zM192.9 791.9h1.5v1.5h-1.5zM186.6 787.8h1.5v1.5h-1.5zM203.8 785.1h1.5v1.5h-1.5zM201.6 787.9h1.5v1.5h-1.5zM200.8 782.9h1.5v1.5h-1.5zM203.6 784.7h1.5v1.5h-1.5zM198.0 787.6h1.5v1.5h-1.5zM204.0 796.7h1.5v1.5h-1.5zM199.5 787.8h1.5v1.5h-1.5zM203.7 800.0h1.5v1.5h-1.5zM200.9 795.1h1.5v1.5h-1.5zM200.6 794.3h1.5v1.5h-1.5zM201.8 780.9h1.5v1.5h-1.5zM204.7 783.5h1.5v1.5h-1.5zM201.5 782.8h1.5v1.5h-1.5zM197.2 778.0h1.5v1.5h-1.5zM201.9 787.3h1.5v1.5h-1.5zM199.4 784.5h1.5v1.5h-1.5zM199.8 785.5h1.5v1.5h-1.5zM196.8 783.4h1.5v1.5h-1.5zM198.4 788.1h1.5v1.5h-1.5zM199.8 784.8h1.5v1.5h-1.5zM205.7 778.7h1.5v1.5h-1.5zM205.9 794.3h1.5v1.5h-1.5zM203.2 787.8h1.5v1.5h-1.5zM196.8 785.2h1.5v1.5h-1.5zM196.5 795.4h1.5v1.5h-1.5zM196.5 785.2h1.5v1.5h-1.5zM198.4 782.9h1.5v1.5h-1.5zM203.4 789.4h1.5v1.5h-1.5zM196.4 787.0h1.5v1.5h-1.5zM197.4 787.4h1.5v1.5h-1.5zM204.8 785.3h1.5v1.5h-1.5zM201.0 784.4h1.5v1.5h-1.5zM196.5 783.8h1.5v1.5h-1.5zM205.6 790.0h1.5v1.5h-1.5zM201.2 783.0h1.5v1.5h-1.5zM202.6 775.0h1.5v1.5h-1.5zM206.0 797.5h1.5v1.5h-1.5zM203.1 786.0h1.5v1.5h-1.5zM220.2 785.1h1.5v1.5h-1.5zM209.2 784.2h1.5v1.5h-1.5zM221.3 785.2h1.5v1.5h-1.5zM220.0 786.2h1.5v1.5h-1.5zM216.5 792.9h1.5v1.5h-1.5zM218.6 787.8h1.5v1.5h-1.5zM212.2 790.5h1.5v1.5h-1.5zM211.0 784.0h1.5v1.5h-1.5zM211.3 784.4h1.5v1.5h-1.5zM222.1 787.7h1.5v1.5h-1.5zM212.5 786.9h1.5v1.5h-1.5zM217.3 786.2h1.5v1.5h-1.5zM218.9 784.4h1.5v1.5h-1.5zM212.9 787.5h1.5v1.5h-1.5zM216.6 783.3h1.5v1.5h-1.5zM211.0 789.0h1.5v1.5h-1.5zM211.3 782.7h1.5v1.5h-1.5zM209.9 788.5h1.5v1.5h-1.5zM213.7 787.6h1.5v1.5h-1.5zM211.9 780.2h1.5v1.5h-1.5zM216.7 786.8h1.5v1.5h-1.5zM222.2 780.7h1.5v1.5h-1.5zM209.3 780.2h1.5v1.5h-1.5zM220.1 785.2h1.5v1.5h-1.5zM220.1 787.0h1.5v1.5h-1.5zM212.6 786.3h1.5v1.5h-1.5zM220.8 788.2h1.5v1.5h-1.5zM213.3 786.1h1.5v1.5h-1.5zM209.6 771.4h1.5v1.5h-1.5zM211.8 795.1h1.5v1.5h-1.5zM216.5 781.7h1.5v1.5h-1.5zM219.1 790.8h1.5v1.5h-1.5zM219.7 786.3h1.5v1.5h-1.5zM215.2 809.7h1.5v1.5h-1.5zM211.1 785.9h1.5v1.5h-1.5zM217.4 778.0h1.5v1.5h-1.5zM217.6 787.8h1.5v1.5h-1.5zM212.6 783.2h1.5v1.5h-1.5zM216.5 792.3h1.5v1.5h-1.5zM212.3 785.5h1.5v1.5h-1.5zM217.5 780.8h1.5v1.5h-1.5zM212.5 788.5h1.5v1.5h-1.5zM212.4 786.1h1.5v1.5h-1.5zM218.1 785.4h1.5v1.5h-1.5zM215.9 784.0h1.5v1.5h-1.5zM217.8 773.2h1.5v1.5h-1.5zM217.4 788.6h1.5v1.5h-1.5zM215.9 787.1h1.5v1.5h-1.5zM238.1 785.1h1.5v1.5h-1.5zM230.2 783.2h1.5v1.5h-1.5zM238.2 787.1h1.5v1.5h-1.5zM242.9 790.2h1.5v1.5h-1.5zM233.2 787.0h1.5v1.5h-1.5zM228.9 784.3h1.5v1.5h-1.5zM231.4 781.3h1.5v1.5h-1.5zM228.1 787.8h1.5v1.5h-1.5zM235.6 787.1h1.5v1.5h-1.5zM231.0 783.8h1.5v1.5h-1.5zM230.6 787.0h1.5v1.5h-1.5zM230.7 788.7h1.5v1.5h-1.5zM231.6 782.8h1.5v1.5h-1.5zM225.7 788.7h1.5v1.5h-1.5zM241.1 776.8h1.5v1.5h-1.5zM235.4 784.4h1.5v1.5h-1.5zM225.3 791.2h1.5v1.5h-1.5zM240.8 783.2h1.5v1.5h-1.5zM229.0 779.4h1.5v1.5h-1.5zM238.1 788.1h1.5v1.5h-1.5zM225.3 787.5h1.5v1.5h-1.5zM237.6 771.8h1.5v1.5h-1.5zM237.8 784.1h1.5v1.5h-1.5zM242.1 790.6h1.5v1.5h-1.5zM235.3 780.0h1.5v1.5h-1.5zM226.0 780.9h1.5v1.5h-1.5zM239.7 778.6h1.5v1.5h-1.5zM237.2 776.8h1.5v1.5h-1.5zM231.8 791.0h1.5v1.5h-1.5zM243.9 783.2h1.5v1.5h-1.5zM243.8 785.9h1.5v1.5h-1.5zM228.9 785.5h1.5v1.5h-1.5zM231.6 784.6h1.5v1.5h-1.5zM241.6 778.2h1.5v1.5h-1.5zM238.2 787.2h1.5v1.5h-1.5zM233.7 791.4h1.5v1.5h-1.5zM229.1 778.0h1.5v1.5h-1.5zM239.5 784.7h1.5v1.5h-1.5zM240.3 784.1h1.5v1.5h-1.5zM229.5 786.8h1.5v1.5h-1.5zM227.5 792.8h1.5v1.5h-1.5zM226.1 793.0h1.5v1.5h-1.5zM228.1 780.3h1.5v1.5h-1.5zM230.1 793.0h1.5v1.5h-1.5zM228.6 795.1h1.5v1.5h-1.5zM225.9 787.3h1.5v1.5h-1.5zM240.9 789.7h1.5v1.5h-1.5zM229.1 796.9h1.5v1.5h-1.5zM234.4 793.4h1.5v1.5h-1.5zM241.6 784.6h1.5v1.5h-1.5zM232.7 790.2h1.5v1.5h-1.5zM239.3 791.7h1.5v1.5h-1.5zM232.6 802.1h1.5v1.5h-1.5zM237.4 791.8h1.5v1.5h-1.5zM228.3 783.7h1.5v1.5h-1.5zM231.2 777.9h1.5v1.5h-1.5zM228.0 784.7h1.5v1.5h-1.5zM240.6 785.3h1.5v1.5h-1.5zM228.9 781.8h1.5v1.5h-1.5zM240.3 783.2h1.5v1.5h-1.5zM233.6 786.9h1.5v1.5h-1.5zM240.9 777.2h1.5v1.5h-1.5zM233.7 781.2h1.5v1.5h-1.5zM227.8 786.0h1.5v1.5h-1.5zM256.1 784.8h1.5v1.5h-1.5zM251.3 781.1h1.5v1.5h-1.5zM254.3 784.2h1.5v1.5h-1.5zM248.9 763.0h1.5v1.5h-1.5zM247.3 786.5h1.5v1.5h-1.5zM255.1 788.0h1.5v1.5h-1.5zM258.9 790.6h1.5v1.5h-1.5zM251.7 790.0h1.5v1.5h-1.5zM248.5 786.6h1.5v1.5h-1.5zM247.6 791.5h1.5v1.5h-1.5zM257.0 793.0h1.5v1.5h-1.5zM257.3 788.0h1.5v1.5h-1.5zM251.2 781.8h1.5v1.5h-1.5zM247.4 784.0h1.5v1.5h-1.5zM259.4 788.5h1.5v1.5h-1.5zM251.2 789.4h1.5v1.5h-1.5zM255.6 787.1h1.5v1.5h-1.5zM253.4 790.5h1.5v1.5h-1.5zM262.6 786.4h1.5v1.5h-1.5zM262.3 788.5h1.5v1.5h-1.5zM248.6 781.5h1.5v1.5h-1.5zM247.6 787.8h1.5v1.5h-1.5zM249.8 800.7h1.5v1.5h-1.5zM258.8 797.3h1.5v1.5h-1.5zM254.9 783.7h1.5v1.5h-1.5zM262.8 789.9h1.5v1.5h-1.5zM262.4 788.8h1.5v1.5h-1.5zM253.6 788.7h1.5v1.5h-1.5zM258.3 779.5h1.5v1.5h-1.5zM255.7 780.7h1.5v1.5h-1.5zM258.8 787.1h1.5v1.5h-1.5zM260.9 780.0h1.5v1.5h-1.5zM257.5 794.2h1.5v1.5h-1.5zM250.0 786.2h1.5v1.5h-1.5zM262.3 783.4h1.5v1.5h-1.5zM263.0 786.0h1.5v1.5h-1.5zM264.1 786.7h1.5v1.5h-1.5zM260.3 787.7h1.5v1.5h-1.5zM261.8 786.4h1.5v1.5h-1.5zM253.6 773.5h1.5v1.5h-1.5zM257.3 784.9h1.5v1.5h-1.5zM258.7 785.4h1.5v1.5h-1.5zM261.8 781.0h1.5v1.5h-1.5zM256.0 785.6h1.5v1.5h-1.5zM251.9 785.2h1.5v1.5h-1.5zM263.1 786.3h1.5v1.5h-1.5zM263.1 782.2h1.5v1.5h-1.5zM251.8 785.7h1.5v1.5h-1.5zM256.3 786.5h1.5v1.5h-1.5zM250.7 794.8h1.5v1.5h-1.5zM258.1 786.5h1.5v1.5h-1.5zM262.8 769.9h1.5v1.5h-1.5zM247.0 783.8h1.5v1.5h-1.5zM251.1 785.7h1.5v1.5h-1.5zM260.8 783.9h1.5v1.5h-1.5zM255.4 787.5h1.5v1.5h-1.5zM247.9 790.8h1.5v1.5h-1.5zM250.1 785.0h1.5v1.5h-1.5zM252.2 787.9h1.5v1.5h-1.5zM258.2 789.7h1.5v1.5h-1.5zM278.2 784.8h1.5v1.5h-1.5zM277.7 782.3h1.5v1.5h-1.5zM274.7 788.4h1.5v1.5h-1.5zM269.5 790.7h1.5v1.5h-1.5zM278.8 781.1h1.5v1.5h-1.5zM275.0 787.6h1.5v1.5h-1.5zM271.4 778.4h1.5v1.5h-1.5zM272.0 786.1h1.5v1.5h-1.5zM267.6 781.4h1.5v1.5h-1.5zM273.2 790.7h1.5v1.5h-1.5zM271.5 789.7h1.5v1.5h-1.5zM272.4 786.4h1.5v1.5h-1.5zM268.8 796.3h1.5v1.5h-1.5zM278.8 782.8h1.5v1.5h-1.5zM266.8 786.1h1.5v1.5h-1.5zM277.7 791.1h1.5v1.5h-1.5zM275.7 793.6h1.5v1.5h-1.5zM276.6 791.0h1.5v1.5h-1.5zM267.6 785.8h1.5v1.5h-1.5zM278.0 787.4h1.5v1.5h-1.5zM277.7 809.5h1.5v1.5h-1.5zM274.6 793.6h1.5v1.5h-1.5zM274.2 786.4h1.5v1.5h-1.5zM276.6 793.8h1.5v1.5h-1.5zM275.5 784.6h1.5v1.5h-1.5zM276.8 787.3h1.5v1.5h-1.5zM268.2 786.9h1.5v1.5h-1.5zM273.0 791.8h1.5v1.5h-1.5zM272.2 785.7h1.5v1.5h-1.5zM271.2 787.1h1.5v1.5h-1.5zM273.9 785.4h1.5v1.5h-1.5zM268.6 788.1h1.5v1.5h-1.5zM269.4 795.0h1.5v1.5h-1.5zM278.7 781.0h1.5v1.5h-1.5zM274.9 797.5h1.5v1.5h-1.5zM278.8 772.0h1.5v1.5h-1.5zM274.7 786.8h1.5v1.5h-1.5zM272.6 786.5h1.5v1.5h-1.5zM267.8 793.2h1.5v1.5h-1.5zM270.8 787.4h1.5v1.5h-1.5zM274.2 788.4h1.5v1.5h-1.5zM268.2 789.0h1.5v1.5h-1.5zM277.8 789.2h1.5v1.5h-1.5zM276.9 784.9h1.5v1.5h-1.5zM285.4 782.9h1.5v1.5h-1.5zM302.4 795.4h1.5v1.5h-1.5zM293.1 793.9h1.5v1.5h-1.5zM287.8 780.8h1.5v1.5h-1.5zM300.3 785.6h1.5v1.5h-1.5zM286.0 786.9h1.5v1.5h-1.5zM282.2 781.6h1.5v1.5h-1.5zM283.3 783.3h1.5v1.5h-1.5zM286.4 782.0h1.5v1.5h-1.5zM282.4 794.4h1.5v1.5h-1.5zM285.9 781.6h1.5v1.5h-1.5zM300.7 790.3h1.5v1.5h-1.5zM288.0 786.7h1.5v1.5h-1.5zM292.6 784.5h1.5v1.5h-1.5zM289.9 786.8h1.5v1.5h-1.5zM297.2 790.0h1.5v1.5h-1.5zM297.2 792.3h1.5v1.5h-1.5zM293.9 789.5h1.5v1.5h-1.5zM299.9 788.2h1.5v1.5h-1.5zM282.5 801.5h1.5v1.5h-1.5zM290.8 787.0h1.5v1.5h-1.5zM301.3 786.5h1.5v1.5h-1.5zM291.1 793.6h1.5v1.5h-1.5zM301.3 788.0h1.5v1.5h-1.5zM293.7 790.5h1.5v1.5h-1.5zM287.8 786.3h1.5v1.5h-1.5zM286.4 787.0h1.5v1.5h-1.5zM299.5 788.3h1.5v1.5h-1.5zM296.4 784.8h1.5v1.5h-1.5zM295.7 788.5h1.5v1.5h-1.5zM299.1 788.2h1.5v1.5h-1.5zM285.3 779.0h1.5v1.5h-1.5zM299.5 789.0h1.5v1.5h-1.5zM285.1 785.6h1.5v1.5h-1.5zM301.6 790.9h1.5v1.5h-1.5zM301.7 784.4h1.5v1.5h-1.5zM299.3 786.0h1.5v1.5h-1.5zM289.3 784.5h1.5v1.5h-1.5zM290.7 792.5h1.5v1.5h-1.5zM303.5 789.8h1.5v1.5h-1.5zM285.7 783.8h1.5v1.5h-1.5zM297.4 787.1h1.5v1.5h-1.5zM294.2 795.3h1.5v1.5h-1.5zM290.7 791.1h1.5v1.5h-1.5zM301.1 792.2h1.5v1.5h-1.5zM295.8 785.0h1.5v1.5h-1.5zM302.7 792.0h1.5v1.5h-1.5zM283.6 782.8h1.5v1.5h-1.5zM292.4 784.7h1.5v1.5h-1.5zM288.8 784.1h1.5v1.5h-1.5zM297.7 785.8h1.5v1.5h-1.5zM284.1 773.7h1.5v1.5h-1.5zM301.0 788.8h1.5v1.5h-1.5zM281.8 790.1h1.5v1.5h-1.5zM300.0 788.7h1.5v1.5h-1.5zM295.3 786.9h1.5v1.5h-1.5zM292.3 789.9h1.5v1.5h-1.5zM303.2 786.4h1.5v1.5h-1.5zM295.6 792.2h1.5v1.5h-1.5zM292.5 792.7h1.5v1.5h-1.5zM298.4 785.4h1.5v1.5h-1.5zM303.0 786.5h1.5v1.5h-1.5zM292.7 788.3h1.5v1.5h-1.5zM299.0 787.1h1.5v1.5h-1.5zM300.7 785.4h1.5v1.5h-1.5zM289.1 791.7h1.5v1.5h-1.5zM295.6 783.5h1.5v1.5h-1.5zM301.4 790.1h1.5v1.5h-1.5zM303.2 787.1h1.5v1.5h-1.5zM301.8 763.8h1.5v1.5h-1.5zM284.1 786.0h1.5v1.5h-1.5zM295.4 790.9h1.5v1.5h-1.5zM289.3 791.6h1.5v1.5h-1.5zM313.5 787.2h1.5v1.5h-1.5zM317.9 773.4h1.5v1.5h-1.5zM321.0 787.1h1.5v1.5h-1.5zM316.1 789.9h1.5v1.5h-1.5zM307.3 782.4h1.5v1.5h-1.5zM321.9 785.6h1.5v1.5h-1.5zM323.0 785.1h1.5v1.5h-1.5zM317.9 782.2h1.5v1.5h-1.5zM322.7 780.2h1.5v1.5h-1.5zM307.0 778.6h1.5v1.5h-1.5zM312.6 784.2h1.5v1.5h-1.5zM324.1 778.0h1.5v1.5h-1.5zM324.6 779.6h1.5v1.5h-1.5zM309.9 786.1h1.5v1.5h-1.5zM319.4 787.1h1.5v1.5h-1.5zM312.1 786.7h1.5v1.5h-1.5zM308.3 787.9h1.5v1.5h-1.5zM323.5 786.3h1.5v1.5h-1.5zM312.9 786.2h1.5v1.5h-1.5zM307.6 788.7h1.5v1.5h-1.5zM323.0 794.9h1.5v1.5h-1.5zM307.5 785.7h1.5v1.5h-1.5zM320.1 786.0h1.5v1.5h-1.5zM315.1 788.4h1.5v1.5h-1.5zM316.6 789.1h1.5v1.5h-1.5zM306.4 787.5h1.5v1.5h-1.5zM320.7 791.2h1.5v1.5h-1.5zM310.9 787.3h1.5v1.5h-1.5zM313.7 788.1h1.5v1.5h-1.5zM317.4 790.2h1.5v1.5h-1.5zM323.7 785.5h1.5v1.5h-1.5zM316.9 792.6h1.5v1.5h-1.5zM316.0 788.8h1.5v1.5h-1.5zM312.0 777.2h1.5v1.5h-1.5zM308.8 786.4h1.5v1.5h-1.5zM309.6 788.3h1.5v1.5h-1.5zM318.3 791.0h1.5v1.5h-1.5zM317.3 791.2h1.5v1.5h-1.5zM316.2 783.5h1.5v1.5h-1.5zM324.2 786.8h1.5v1.5h-1.5zM320.2 780.2h1.5v1.5h-1.5zM324.4 785.6h1.5v1.5h-1.5zM311.7 794.0h1.5v1.5h-1.5zM321.8 799.2h1.5v1.5h-1.5zM314.8 792.2h1.5v1.5h-1.5zM308.5 762.6h1.5v1.5h-1.5zM312.4 788.9h1.5v1.5h-1.5zM317.4 788.5h1.5v1.5h-1.5zM322.2 782.9h1.5v1.5h-1.5zM320.7 795.6h1.5v1.5h-1.5zM309.6 778.4h1.5v1.5h-1.5zM320.7 785.1h1.5v1.5h-1.5zM314.3 789.2h1.5v1.5h-1.5zM307.3 795.2h1.5v1.5h-1.5zM322.4 785.0h1.5v1.5h-1.5zM306.5 788.2h1.5v1.5h-1.5zM320.2 785.0h1.5v1.5h-1.5zM307.7 792.2h1.5v1.5h-1.5zM312.2 784.5h1.5v1.5h-1.5zM314.7 786.9h1.5v1.5h-1.5zM316.9 780.8h1.5v1.5h-1.5zM314.0 787.1h1.5v1.5h-1.5zM322.7 787.6h1.5v1.5h-1.5z" fill="#3445a6"/>
<text x="60.20" y="772.25" font-size="13.3" font-weight="normal" font-style="normal" text-anchor="end" fill="#000" >1</text>
<text x="60.20" y="792.70" font-size="13.3" font-weight="normal" font-style="normal" text-anchor="end" fill="#000" >0</text>
<text x="60.20" y="813.15" font-size="13.3" font-weight="normal" font-style="normal" text-anchor="end" fill="#000" >-1</text>
<text x="335.00" y="794.60" font-size="15.5" font-weight="bold" font-style="normal" text-anchor="start" fill="#000" >#3</text>
<line x1="65.2" y1="853.50" x2="326.7" y2="853.50" stroke="#7a7a7a" stroke-width="1.2"/>
<line x1="65.2" y1="874.50" x2="326.7" y2="874.50" stroke="#7a7a7a" stroke-width="1.2"/>
<line x1="65.2" y1="894.50" x2="326.7" y2="894.50" stroke="#7a7a7a" stroke-width="1.2"/>
<line x1="70.50" y1="833.4" x2="70.50" y2="915.1999999999999" stroke="#a0a0a0" stroke-width="1"/>
<line x1="70.50" y1="833" x2="70.50" y2="915.1999999999999" stroke="#3a3a3a" stroke-width="1" stroke-dasharray="1 1"/>
<line x1="90.50" y1="833.4" x2="90.50" y2="915.1999999999999" stroke="#a0a0a0" stroke-width="1"/>
<line x1="90.50" y1="833" x2="90.50" y2="915.1999999999999" stroke="#3a3a3a" stroke-width="1" stroke-dasharray="1 1"/>
<line x1="97.50" y1="833.4" x2="97.50" y2="915.1999999999999" stroke="#a0a0a0" stroke-width="1"/>
<line x1="97.50" y1="833" x2="97.50" y2="915.1999999999999" stroke="#3a3a3a" stroke-width="1" stroke-dasharray="1 1"/>
<line x1="127.50" y1="833.4" x2="127.50" y2="915.1999999999999" stroke="#a0a0a0" stroke-width="1"/>
<line x1="127.50" y1="833" x2="127.50" y2="915.1999999999999" stroke="#3a3a3a" stroke-width="1" stroke-dasharray="1 1"/>
<line x1="142.50" y1="833.4" x2="142.50" y2="915.1999999999999" stroke="#a0a0a0" stroke-width="1"/>
<line x1="142.50" y1="833" x2="142.50" y2="915.1999999999999" stroke="#3a3a3a" stroke-width="1" stroke-dasharray="1 1"/>
<line x1="149.50" y1="833.4" x2="149.50" y2="915.1999999999999" stroke="#a0a0a0" stroke-width="1"/>
<line x1="149.50" y1="833" x2="149.50" y2="915.1999999999999" stroke="#3a3a3a" stroke-width="1" stroke-dasharray="1 1"/>
<line x1="173.50" y1="833.4" x2="173.50" y2="915.1999999999999" stroke="#a0a0a0" stroke-width="1"/>
<line x1="173.50" y1="833" x2="173.50" y2="915.1999999999999" stroke="#3a3a3a" stroke-width="1" stroke-dasharray="1 1"/>
<line x1="184.50" y1="833.4" x2="184.50" y2="915.1999999999999" stroke="#a0a0a0" stroke-width="1"/>
<line x1="184.50" y1="833" x2="184.50" y2="915.1999999999999" stroke="#3a3a3a" stroke-width="1" stroke-dasharray="1 1"/>
<line x1="195.50" y1="833.4" x2="195.50" y2="915.1999999999999" stroke="#a0a0a0" stroke-width="1"/>
<line x1="195.50" y1="833" x2="195.50" y2="915.1999999999999" stroke="#3a3a3a" stroke-width="1" stroke-dasharray="1 1"/>
<line x1="208.50" y1="833.4" x2="208.50" y2="915.1999999999999" stroke="#a0a0a0" stroke-width="1"/>
<line x1="208.50" y1="833" x2="208.50" y2="915.1999999999999" stroke="#3a3a3a" stroke-width="1" stroke-dasharray="1 1"/>
<line x1="224.50" y1="833.4" x2="224.50" y2="915.1999999999999" stroke="#a0a0a0" stroke-width="1"/>
<line x1="224.50" y1="833" x2="224.50" y2="915.1999999999999" stroke="#3a3a3a" stroke-width="1" stroke-dasharray="1 1"/>
<line x1="246.50" y1="833.4" x2="246.50" y2="915.1999999999999" stroke="#a0a0a0" stroke-width="1"/>
<line x1="246.50" y1="833" x2="246.50" y2="915.1999999999999" stroke="#3a3a3a" stroke-width="1" stroke-dasharray="1 1"/>
<line x1="266.50" y1="833.4" x2="266.50" y2="915.1999999999999" stroke="#a0a0a0" stroke-width="1"/>
<line x1="266.50" y1="833" x2="266.50" y2="915.1999999999999" stroke="#3a3a3a" stroke-width="1" stroke-dasharray="1 1"/>
<line x1="281.50" y1="833.4" x2="281.50" y2="915.1999999999999" stroke="#a0a0a0" stroke-width="1"/>
<line x1="281.50" y1="833" x2="281.50" y2="915.1999999999999" stroke="#3a3a3a" stroke-width="1" stroke-dasharray="1 1"/>
<line x1="305.50" y1="833.4" x2="305.50" y2="915.1999999999999" stroke="#a0a0a0" stroke-width="1"/>
<line x1="305.50" y1="833" x2="305.50" y2="915.1999999999999" stroke="#3a3a3a" stroke-width="1" stroke-dasharray="1 1"/>
<rect x="65.2" y="833.4" width="261.5" height="81.8" fill="none" stroke="#444" stroke-width="1.1"/>
<path d="M66.3 877.9h1.5v1.5h-1.5zM68.3 871.2h1.5v1.5h-1.5zM66.5 868.8h1.5v1.5h-1.5zM66.5 885.7h1.5v1.5h-1.5zM66.0 869.0h1.5v1.5h-1.5zM66.0 873.3h1.5v1.5h-1.5zM65.9 870.9h1.5v1.5h-1.5zM68.2 875.6h1.5v1.5h-1.5zM66.3 864.8h1.5v1.5h-1.5zM68.3 863.2h1.5v1.5h-1.5zM67.8 870.9h1.5v1.5h-1.5zM67.3 874.9h1.5v1.5h-1.5zM67.0 880.8h1.5v1.5h-1.5zM66.2 877.5h1.5v1.5h-1.5zM68.3 883.2h1.5v1.5h-1.5zM75.4 876.5h1.5v1.5h-1.5zM72.3 873.7h1.5v1.5h-1.5zM86.8 868.5h1.5v1.5h-1.5zM79.7 882.4h1.5v1.5h-1.5zM87.5 879.5h1.5v1.5h-1.5zM76.2 877.2h1.5v1.5h-1.5zM73.5 881.1h1.5v1.5h-1.5zM81.1 876.7h1.5v1.5h-1.5zM79.7 878.8h1.5v1.5h-1.5zM87.4 871.7h1.5v1.5h-1.5zM79.4 873.7h1.5v1.5h-1.5zM79.0 873.8h1.5v1.5h-1.5zM77.6 872.6h1.5v1.5h-1.5zM73.0 869.9h1.5v1.5h-1.5zM83.2 871.3h1.5v1.5h-1.5zM74.6 878.7h1.5v1.5h-1.5zM77.4 871.2h1.5v1.5h-1.5zM86.9 873.1h1.5v1.5h-1.5zM78.3 870.6h1.5v1.5h-1.5zM85.6 871.7h1.5v1.5h-1.5zM76.4 875.3h1.5v1.5h-1.5zM84.3 867.1h1.5v1.5h-1.5zM75.7 870.7h1.5v1.5h-1.5zM79.7 868.9h1.5v1.5h-1.5zM80.1 872.7h1.5v1.5h-1.5zM78.3 878.1h1.5v1.5h-1.5zM86.1 875.3h1.5v1.5h-1.5zM75.5 868.1h1.5v1.5h-1.5zM86.9 870.0h1.5v1.5h-1.5zM79.3 878.7h1.5v1.5h-1.5zM73.0 870.2h1.5v1.5h-1.5zM75.3 878.5h1.5v1.5h-1.5zM73.6 872.8h1.5v1.5h-1.5zM75.9 880.8h1.5v1.5h-1.5zM76.7 870.4h1.5v1.5h-1.5zM84.1 878.4h1.5v1.5h-1.5zM75.5 882.0h1.5v1.5h-1.5zM78.4 878.0h1.5v1.5h-1.5zM72.2 875.8h1.5v1.5h-1.5zM71.6 874.8h1.5v1.5h-1.5zM72.1 872.4h1.5v1.5h-1.5zM74.7 895.4h1.5v1.5h-1.5zM78.6 881.3h1.5v1.5h-1.5zM87.2 871.1h1.5v1.5h-1.5zM80.6 865.4h1.5v1.5h-1.5zM75.4 874.0h1.5v1.5h-1.5zM80.4 877.7h1.5v1.5h-1.5zM74.1 866.9h1.5v1.5h-1.5zM82.3 869.0h1.5v1.5h-1.5zM83.8 874.6h1.5v1.5h-1.5zM87.9 871.5h1.5v1.5h-1.5zM79.0 870.4h1.5v1.5h-1.5zM81.0 868.3h1.5v1.5h-1.5zM84.9 869.6h1.5v1.5h-1.5zM75.5 874.3h1.5v1.5h-1.5zM74.5 874.1h1.5v1.5h-1.5zM82.7 876.9h1.5v1.5h-1.5zM77.0 873.6h1.5v1.5h-1.5zM95.2 871.9h1.5v1.5h-1.5zM91.8 875.1h1.5v1.5h-1.5zM92.4 878.7h1.5v1.5h-1.5zM91.2 874.0h1.5v1.5h-1.5zM94.2 867.3h1.5v1.5h-1.5zM91.3 873.4h1.5v1.5h-1.5zM94.4 874.9h1.5v1.5h-1.5zM92.5 879.9h1.5v1.5h-1.5zM90.6 872.6h1.5v1.5h-1.5zM91.9 875.0h1.5v1.5h-1.5zM91.5 870.0h1.5v1.5h-1.5zM95.2 881.9h1.5v1.5h-1.5zM91.2 871.1h1.5v1.5h-1.5zM95.1 869.9h1.5v1.5h-1.5zM91.4 874.8h1.5v1.5h-1.5zM90.8 873.7h1.5v1.5h-1.5zM92.0 865.0h1.5v1.5h-1.5zM92.8 874.4h1.5v1.5h-1.5zM93.2 885.2h1.5v1.5h-1.5zM95.0 869.5h1.5v1.5h-1.5zM93.3 888.6h1.5v1.5h-1.5zM111.6 855.7h1.5v1.5h-1.5zM100.5 874.3h1.5v1.5h-1.5zM124.5 874.9h1.5v1.5h-1.5zM113.4 877.2h1.5v1.5h-1.5zM118.0 864.8h1.5v1.5h-1.5zM106.6 876.0h1.5v1.5h-1.5zM110.8 876.9h1.5v1.5h-1.5zM118.7 872.8h1.5v1.5h-1.5zM112.1 871.6h1.5v1.5h-1.5zM123.4 878.1h1.5v1.5h-1.5zM105.6 871.5h1.5v1.5h-1.5zM104.2 882.2h1.5v1.5h-1.5zM102.1 867.2h1.5v1.5h-1.5zM111.4 873.5h1.5v1.5h-1.5zM111.8 870.8h1.5v1.5h-1.5zM108.0 883.5h1.5v1.5h-1.5zM107.9 875.2h1.5v1.5h-1.5zM100.5 878.5h1.5v1.5h-1.5zM100.0 874.3h1.5v1.5h-1.5zM122.8 874.1h1.5v1.5h-1.5zM105.6 879.3h1.5v1.5h-1.5zM119.3 873.3h1.5v1.5h-1.5zM113.9 873.1h1.5v1.5h-1.5zM103.6 867.3h1.5v1.5h-1.5zM106.4 876.0h1.5v1.5h-1.5zM107.2 878.9h1.5v1.5h-1.5zM98.3 868.0h1.5v1.5h-1.5zM112.9 878.4h1.5v1.5h-1.5zM109.6 868.9h1.5v1.5h-1.5zM122.9 875.1h1.5v1.5h-1.5zM102.5 887.1h1.5v1.5h-1.5zM119.2 871.7h1.5v1.5h-1.5zM112.1 877.5h1.5v1.5h-1.5zM112.3 880.8h1.5v1.5h-1.5zM111.2 868.4h1.5v1.5h-1.5zM118.1 873.3h1.5v1.5h-1.5zM115.8 877.8h1.5v1.5h-1.5zM118.4 873.6h1.5v1.5h-1.5zM124.6 873.9h1.5v1.5h-1.5zM104.6 876.5h1.5v1.5h-1.5zM119.5 866.3h1.5v1.5h-1.5zM124.9 880.7h1.5v1.5h-1.5zM102.0 874.0h1.5v1.5h-1.5zM122.3 869.0h1.5v1.5h-1.5zM115.1 874.9h1.5v1.5h-1.5zM106.7 872.7h1.5v1.5h-1.5zM119.3 874.0h1.5v1.5h-1.5zM117.0 876.1h1.5v1.5h-1.5zM103.5 869.1h1.5v1.5h-1.5zM111.0 873.3h1.5v1.5h-1.5zM103.7 871.4h1.5v1.5h-1.5zM109.2 871.9h1.5v1.5h-1.5zM108.9 871.7h1.5v1.5h-1.5zM106.0 873.2h1.5v1.5h-1.5zM110.7 874.7h1.5v1.5h-1.5zM116.6 875.3h1.5v1.5h-1.5zM103.2 874.4h1.5v1.5h-1.5zM122.2 872.7h1.5v1.5h-1.5zM120.8 878.4h1.5v1.5h-1.5zM109.3 875.2h1.5v1.5h-1.5zM117.3 876.0h1.5v1.5h-1.5zM121.0 874.4h1.5v1.5h-1.5zM104.2 867.2h1.5v1.5h-1.5zM99.1 876.9h1.5v1.5h-1.5zM100.7 870.0h1.5v1.5h-1.5zM101.5 873.6h1.5v1.5h-1.5zM125.3 872.0h1.5v1.5h-1.5zM122.7 866.1h1.5v1.5h-1.5zM112.9 874.9h1.5v1.5h-1.5zM113.0 871.3h1.5v1.5h-1.5zM119.7 856.2h1.5v1.5h-1.5zM122.8 871.3h1.5v1.5h-1.5zM102.3 866.0h1.5v1.5h-1.5zM118.6 876.0h1.5v1.5h-1.5zM109.8 867.4h1.5v1.5h-1.5zM116.2 868.7h1.5v1.5h-1.5zM103.6 869.1h1.5v1.5h-1.5zM112.4 874.8h1.5v1.5h-1.5zM123.4 867.8h1.5v1.5h-1.5zM109.7 861.3h1.5v1.5h-1.5zM98.5 879.6h1.5v1.5h-1.5zM119.2 874.8h1.5v1.5h-1.5zM103.5 882.4h1.5v1.5h-1.5zM119.7 875.1h1.5v1.5h-1.5zM104.3 874.4h1.5v1.5h-1.5zM101.7 876.3h1.5v1.5h-1.5zM122.8 876.0h1.5v1.5h-1.5zM106.4 868.4h1.5v1.5h-1.5zM102.0 876.0h1.5v1.5h-1.5zM116.8 881.1h1.5v1.5h-1.5zM130.6 872.7h1.5v1.5h-1.5zM129.9 865.7h1.5v1.5h-1.5zM131.6 868.2h1.5v1.5h-1.5zM136.1 873.8h1.5v1.5h-1.5zM139.5 880.2h1.5v1.5h-1.5zM139.7 874.5h1.5v1.5h-1.5zM130.6 867.1h1.5v1.5h-1.5zM132.8 874.4h1.5v1.5h-1.5zM135.4 870.7h1.5v1.5h-1.5zM132.4 876.3h1.5v1.5h-1.5zM134.9 879.2h1.5v1.5h-1.5zM139.8 885.3h1.5v1.5h-1.5zM135.0 882.0h1.5v1.5h-1.5zM130.5 874.7h1.5v1.5h-1.5zM131.4 871.3h1.5v1.5h-1.5zM129.3 883.7h1.5v1.5h-1.5zM137.1 869.2h1.5v1.5h-1.5zM139.4 877.0h1.5v1.5h-1.5zM129.0 879.0h1.5v1.5h-1.5zM128.2 867.2h1.5v1.5h-1.5zM129.7 875.2h1.5v1.5h-1.5zM129.3 877.1h1.5v1.5h-1.5zM132.5 869.6h1.5v1.5h-1.5zM136.0 867.7h1.5v1.5h-1.5zM136.9 871.0h1.5v1.5h-1.5zM135.9 871.0h1.5v1.5h-1.5zM135.0 872.8h1.5v1.5h-1.5zM135.4 881.1h1.5v1.5h-1.5zM140.2 869.7h1.5v1.5h-1.5zM136.1 873.9h1.5v1.5h-1.5zM128.9 866.5h1.5v1.5h-1.5zM139.6 876.8h1.5v1.5h-1.5zM132.6 870.9h1.5v1.5h-1.5zM136.5 868.0h1.5v1.5h-1.5zM131.5 875.4h1.5v1.5h-1.5zM139.7 866.4h1.5v1.5h-1.5zM128.2 882.5h1.5v1.5h-1.5zM131.0 871.0h1.5v1.5h-1.5zM130.4 878.5h1.5v1.5h-1.5zM129.9 875.7h1.5v1.5h-1.5zM134.9 881.1h1.5v1.5h-1.5zM133.7 868.1h1.5v1.5h-1.5zM134.2 876.6h1.5v1.5h-1.5zM130.6 868.9h1.5v1.5h-1.5zM138.2 871.6h1.5v1.5h-1.5zM144.0 874.2h1.5v1.5h-1.5zM144.2 868.1h1.5v1.5h-1.5zM144.9 874.3h1.5v1.5h-1.5zM143.8 874.6h1.5v1.5h-1.5zM146.1 871.0h1.5v1.5h-1.5zM146.9 871.0h1.5v1.5h-1.5zM146.4 876.6h1.5v1.5h-1.5zM146.4 878.0h1.5v1.5h-1.5zM145.6 884.9h1.5v1.5h-1.5zM147.4 881.9h1.5v1.5h-1.5zM145.3 876.3h1.5v1.5h-1.5zM146.1 872.9h1.5v1.5h-1.5zM144.2 873.2h1.5v1.5h-1.5zM146.5 877.1h1.5v1.5h-1.5zM145.1 871.8h1.5v1.5h-1.5zM144.4 861.6h1.5v1.5h-1.5zM143.6 862.9h1.5v1.5h-1.5zM143.6 866.5h1.5v1.5h-1.5zM144.5 869.6h1.5v1.5h-1.5zM143.5 868.6h1.5v1.5h-1.5zM145.5 876.0h1.5v1.5h-1.5zM151.5 881.3h1.5v1.5h-1.5zM168.4 868.6h1.5v1.5h-1.5zM152.8 874.4h1.5v1.5h-1.5zM169.2 865.7h1.5v1.5h-1.5zM167.0 869.9h1.5v1.5h-1.5zM163.6 883.1h1.5v1.5h-1.5zM162.0 868.6h1.5v1.5h-1.5zM167.8 871.6h1.5v1.5h-1.5zM157.4 869.4h1.5v1.5h-1.5zM150.2 870.0h1.5v1.5h-1.5zM154.6 873.2h1.5v1.5h-1.5zM162.6 871.3h1.5v1.5h-1.5zM157.7 867.0h1.5v1.5h-1.5zM152.8 868.8h1.5v1.5h-1.5zM163.5 878.9h1.5v1.5h-1.5zM154.2 877.5h1.5v1.5h-1.5zM159.8 870.4h1.5v1.5h-1.5zM151.8 873.1h1.5v1.5h-1.5zM166.9 867.5h1.5v1.5h-1.5zM157.8 871.3h1.5v1.5h-1.5zM152.6 876.1h1.5v1.5h-1.5zM157.2 867.2h1.5v1.5h-1.5zM167.5 868.5h1.5v1.5h-1.5zM156.5 872.2h1.5v1.5h-1.5zM159.2 873.5h1.5v1.5h-1.5zM165.6 857.6h1.5v1.5h-1.5zM162.8 874.1h1.5v1.5h-1.5zM162.6 875.6h1.5v1.5h-1.5zM169.1 873.8h1.5v1.5h-1.5zM152.3 880.0h1.5v1.5h-1.5zM153.2 881.8h1.5v1.5h-1.5zM152.4 875.0h1.5v1.5h-1.5zM158.6 869.2h1.5v1.5h-1.5zM152.5 865.1h1.5v1.5h-1.5zM150.9 871.0h1.5v1.5h-1.5zM150.2 864.1h1.5v1.5h-1.5zM159.6 874.9h1.5v1.5h-1.5zM165.9 875.3h1.5v1.5h-1.5zM153.7 870.4h1.5v1.5h-1.5zM157.4 875.9h1.5v1.5h-1.5zM152.8 877.0h1.5v1.5h-1.5zM154.8 877.6h1.5v1.5h-1.5zM162.6 868.7h1.5v1.5h-1.5zM157.1 879.0h1.5v1.5h-1.5zM168.1 864.6h1.5v1.5h-1.5zM165.8 874.4h1.5v1.5h-1.5zM156.3 873.0h1.5v1.5h-1.5zM166.7 880.6h1.5v1.5h-1.5zM159.1 881.1h1.5v1.5h-1.5zM157.6 879.3h1.5v1.5h-1.5zM160.5 875.3h1.5v1.5h-1.5zM158.2 871.4h1.5v1.5h-1.5zM156.6 870.4h1.5v1.5h-1.5zM156.7 870.7h1.5v1.5h-1.5zM155.0 876.3h1.5v1.5h-1.5zM157.1 875.2h1.5v1.5h-1.5zM166.1 869.0h1.5v1.5h-1.5zM154.8 884.9h1.5v1.5h-1.5zM167.1 875.9h1.5v1.5h-1.5zM160.4 876.3h1.5v1.5h-1.5zM158.1 873.8h1.5v1.5h-1.5zM164.1 874.9h1.5v1.5h-1.5zM158.6 873.9h1.5v1.5h-1.5zM164.4 870.6h1.5v1.5h-1.5zM151.2 868.5h1.5v1.5h-1.5zM169.4 877.4h1.5v1.5h-1.5zM166.1 878.9h1.5v1.5h-1.5zM159.1 870.1h1.5v1.5h-1.5zM161.0 864.7h1.5v1.5h-1.5zM160.1 873.2h1.5v1.5h-1.5zM179.7 870.5h1.5v1.5h-1.5zM176.9 882.6h1.5v1.5h-1.5zM175.5 871.0h1.5v1.5h-1.5zM175.7 879.6h1.5v1.5h-1.5zM180.7 871.5h1.5v1.5h-1.5zM178.8 865.8h1.5v1.5h-1.5zM181.6 874.5h1.5v1.5h-1.5zM175.2 872.5h1.5v1.5h-1.5zM176.0 876.3h1.5v1.5h-1.5zM174.1 876.9h1.5v1.5h-1.5zM181.7 870.8h1.5v1.5h-1.5zM175.4 874.3h1.5v1.5h-1.5zM181.7 873.5h1.5v1.5h-1.5zM176.3 877.1h1.5v1.5h-1.5zM174.6 873.0h1.5v1.5h-1.5zM178.0 862.7h1.5v1.5h-1.5zM177.3 876.1h1.5v1.5h-1.5zM179.0 875.4h1.5v1.5h-1.5zM174.8 872.5h1.5v1.5h-1.5zM179.0 868.8h1.5v1.5h-1.5zM175.3 873.4h1.5v1.5h-1.5zM174.5 876.9h1.5v1.5h-1.5zM175.2 868.7h1.5v1.5h-1.5zM175.2 840.6h1.5v1.5h-1.5zM177.1 872.1h1.5v1.5h-1.5zM177.9 869.9h1.5v1.5h-1.5zM178.2 877.3h1.5v1.5h-1.5zM179.2 869.8h1.5v1.5h-1.5zM175.4 870.0h1.5v1.5h-1.5zM175.8 872.0h1.5v1.5h-1.5zM177.0 870.2h1.5v1.5h-1.5zM179.6 872.3h1.5v1.5h-1.5zM180.7 879.0h1.5v1.5h-1.5zM188.3 869.6h1.5v1.5h-1.5zM189.5 875.5h1.5v1.5h-1.5zM186.7 877.3h1.5v1.5h-1.5zM188.0 862.8h1.5v1.5h-1.5zM192.4 868.9h1.5v1.5h-1.5zM189.7 872.8h1.5v1.5h-1.5zM192.7 875.3h1.5v1.5h-1.5zM191.1 874.3h1.5v1.5h-1.5zM186.0 874.1h1.5v1.5h-1.5zM191.0 871.5h1.5v1.5h-1.5zM191.8 877.7h1.5v1.5h-1.5zM192.4 874.8h1.5v1.5h-1.5zM185.7 870.0h1.5v1.5h-1.5zM187.7 868.7h1.5v1.5h-1.5zM185.5 874.7h1.5v1.5h-1.5zM186.6 871.3h1.5v1.5h-1.5zM191.0 877.6h1.5v1.5h-1.5zM184.9 873.8h1.5v1.5h-1.5zM191.3 872.0h1.5v1.5h-1.5zM192.4 872.7h1.5v1.5h-1.5zM190.0 877.2h1.5v1.5h-1.5zM188.7 875.9h1.5v1.5h-1.5zM191.3 873.6h1.5v1.5h-1.5zM188.4 866.5h1.5v1.5h-1.5zM188.2 866.2h1.5v1.5h-1.5zM184.9 860.1h1.5v1.5h-1.5zM185.6 879.1h1.5v1.5h-1.5zM185.9 867.4h1.5v1.5h-1.5zM191.6 875.1h1.5v1.5h-1.5zM191.7 884.5h1.5v1.5h-1.5zM187.6 873.5h1.5v1.5h-1.5zM192.1 890.7h1.5v1.5h-1.5zM190.1 866.0h1.5v1.5h-1.5zM197.8 877.1h1.5v1.5h-1.5zM200.2 884.0h1.5v1.5h-1.5zM199.1 863.2h1.5v1.5h-1.5zM205.0 891.2h1.5v1.5h-1.5zM197.8 877.1h1.5v1.5h-1.5zM198.2 870.8h1.5v1.5h-1.5zM200.8 876.0h1.5v1.5h-1.5zM205.6 869.5h1.5v1.5h-1.5zM201.0 878.1h1.5v1.5h-1.5zM197.0 875.5h1.5v1.5h-1.5zM204.7 876.8h1.5v1.5h-1.5zM202.9 873.1h1.5v1.5h-1.5zM202.9 869.1h1.5v1.5h-1.5zM200.8 874.7h1.5v1.5h-1.5zM198.3 879.3h1.5v1.5h-1.5zM204.3 869.1h1.5v1.5h-1.5zM205.9 873.0h1.5v1.5h-1.5zM204.3 873.8h1.5v1.5h-1.5zM200.1 873.6h1.5v1.5h-1.5zM205.8 878.2h1.5v1.5h-1.5zM204.0 877.1h1.5v1.5h-1.5zM206.2 873.6h1.5v1.5h-1.5zM196.9 873.1h1.5v1.5h-1.5zM198.1 875.1h1.5v1.5h-1.5zM200.6 883.3h1.5v1.5h-1.5zM204.6 876.1h1.5v1.5h-1.5zM203.2 868.3h1.5v1.5h-1.5zM196.4 877.0h1.5v1.5h-1.5zM202.4 868.4h1.5v1.5h-1.5zM201.9 868.5h1.5v1.5h-1.5zM205.1 874.1h1.5v1.5h-1.5zM197.4 868.5h1.5v1.5h-1.5zM204.0 862.7h1.5v1.5h-1.5zM201.9 868.7h1.5v1.5h-1.5zM197.3 872.7h1.5v1.5h-1.5zM201.5 874.9h1.5v1.5h-1.5zM198.0 873.4h1.5v1.5h-1.5zM206.2 876.4h1.5v1.5h-1.5zM214.6 876.1h1.5v1.5h-1.5zM209.9 873.0h1.5v1.5h-1.5zM211.0 869.2h1.5v1.5h-1.5zM213.5 883.5h1.5v1.5h-1.5zM213.8 864.9h1.5v1.5h-1.5zM209.8 873.2h1.5v1.5h-1.5zM213.3 868.1h1.5v1.5h-1.5zM216.2 872.7h1.5v1.5h-1.5zM209.6 877.7h1.5v1.5h-1.5zM216.8 874.0h1.5v1.5h-1.5zM221.1 875.5h1.5v1.5h-1.5zM219.0 873.7h1.5v1.5h-1.5zM220.8 871.1h1.5v1.5h-1.5zM214.3 873.3h1.5v1.5h-1.5zM215.2 876.6h1.5v1.5h-1.5zM213.8 875.1h1.5v1.5h-1.5zM218.7 873.9h1.5v1.5h-1.5zM212.1 873.5h1.5v1.5h-1.5zM220.3 872.0h1.5v1.5h-1.5zM216.9 878.5h1.5v1.5h-1.5zM216.2 876.6h1.5v1.5h-1.5zM220.3 871.1h1.5v1.5h-1.5zM209.6 870.5h1.5v1.5h-1.5zM215.8 888.9h1.5v1.5h-1.5zM219.5 896.2h1.5v1.5h-1.5zM220.8 871.1h1.5v1.5h-1.5zM218.9 868.9h1.5v1.5h-1.5zM219.9 873.4h1.5v1.5h-1.5zM220.2 873.9h1.5v1.5h-1.5zM212.1 874.6h1.5v1.5h-1.5zM220.1 861.7h1.5v1.5h-1.5zM210.2 875.3h1.5v1.5h-1.5zM214.0 876.8h1.5v1.5h-1.5zM221.2 870.5h1.5v1.5h-1.5zM216.6 868.5h1.5v1.5h-1.5zM221.8 867.7h1.5v1.5h-1.5zM220.0 869.9h1.5v1.5h-1.5zM216.7 860.2h1.5v1.5h-1.5zM220.2 873.9h1.5v1.5h-1.5zM214.3 866.6h1.5v1.5h-1.5zM217.0 882.5h1.5v1.5h-1.5zM219.1 863.2h1.5v1.5h-1.5zM211.4 876.6h1.5v1.5h-1.5zM215.6 874.4h1.5v1.5h-1.5zM222.0 867.1h1.5v1.5h-1.5zM215.9 880.1h1.5v1.5h-1.5zM213.1 876.8h1.5v1.5h-1.5zM219.9 877.5h1.5v1.5h-1.5zM228.3 871.1h1.5v1.5h-1.5zM229.3 872.9h1.5v1.5h-1.5zM239.2 867.4h1.5v1.5h-1.5zM227.1 875.5h1.5v1.5h-1.5zM241.2 868.9h1.5v1.5h-1.5zM231.2 867.7h1.5v1.5h-1.5zM231.3 880.9h1.5v1.5h-1.5zM226.2 874.5h1.5v1.5h-1.5zM228.2 875.7h1.5v1.5h-1.5zM242.7 877.6h1.5v1.5h-1.5zM237.6 881.8h1.5v1.5h-1.5zM241.6 867.6h1.5v1.5h-1.5zM229.6 867.0h1.5v1.5h-1.5zM243.1 872.9h1.5v1.5h-1.5zM234.7 875.2h1.5v1.5h-1.5zM236.9 873.7h1.5v1.5h-1.5zM243.5 872.9h1.5v1.5h-1.5zM231.4 872.4h1.5v1.5h-1.5zM235.7 876.6h1.5v1.5h-1.5zM231.9 872.0h1.5v1.5h-1.5zM225.9 877.0h1.5v1.5h-1.5zM229.1 870.4h1.5v1.5h-1.5zM233.1 870.9h1.5v1.5h-1.5zM238.3 874.1h1.5v1.5h-1.5zM229.6 857.1h1.5v1.5h-1.5zM231.4 869.6h1.5v1.5h-1.5zM229.4 874.3h1.5v1.5h-1.5zM243.8 874.4h1.5v1.5h-1.5zM242.5 872.0h1.5v1.5h-1.5zM226.5 872.9h1.5v1.5h-1.5zM240.2 879.4h1.5v1.5h-1.5zM237.7 875.7h1.5v1.5h-1.5zM237.8 873.8h1.5v1.5h-1.5zM240.3 882.9h1.5v1.5h-1.5zM225.9 871.5h1.5v1.5h-1.5zM237.5 869.9h1.5v1.5h-1.5zM239.4 871.8h1.5v1.5h-1.5zM233.5 846.9h1.5v1.5h-1.5zM227.1 870.5h1.5v1.5h-1.5zM237.4 872.9h1.5v1.5h-1.5zM240.1 878.8h1.5v1.5h-1.5zM229.8 864.1h1.5v1.5h-1.5zM226.7 875.8h1.5v1.5h-1.5zM226.2 873.9h1.5v1.5h-1.5zM241.4 866.2h1.5v1.5h-1.5zM240.0 876.3h1.5v1.5h-1.5zM238.7 873.0h1.5v1.5h-1.5zM225.1 874.3h1.5v1.5h-1.5zM236.7 872.2h1.5v1.5h-1.5zM243.2 884.0h1.5v1.5h-1.5zM241.9 871.5h1.5v1.5h-1.5zM231.0 867.8h1.5v1.5h-1.5zM236.7 877.0h1.5v1.5h-1.5zM238.8 874.7h1.5v1.5h-1.5zM225.7 876.5h1.5v1.5h-1.5zM236.2 874.6h1.5v1.5h-1.5zM227.7 870.4h1.5v1.5h-1.5zM233.5 874.1h1.5v1.5h-1.5zM232.4 876.3h1.5v1.5h-1.5zM225.0 874.5h1.5v1.5h-1.5zM225.2 875.4h1.5v1.5h-1.5zM231.2 870.3h1.5v1.5h-1.5zM238.7 872.3h1.5v1.5h-1.5zM236.3 874.7h1.5v1.5h-1.5zM252.5 868.2h1.5v1.5h-1.5zM262.7 878.3h1.5v1.5h-1.5zM248.5 878.5h1.5v1.5h-1.5zM247.0 871.0h1.5v1.5h-1.5zM254.0 875.6h1.5v1.5h-1.5zM255.9 875.5h1.5v1.5h-1.5zM257.2 870.5h1.5v1.5h-1.5zM247.9 879.4h1.5v1.5h-1.5zM249.9 872.4h1.5v1.5h-1.5zM248.6 877.0h1.5v1.5h-1.5zM250.8 867.2h1.5v1.5h-1.5zM249.9 866.9h1.5v1.5h-1.5zM255.6 883.9h1.5v1.5h-1.5zM252.8 864.1h1.5v1.5h-1.5zM254.0 869.1h1.5v1.5h-1.5zM248.4 867.7h1.5v1.5h-1.5zM247.9 864.9h1.5v1.5h-1.5zM247.9 874.3h1.5v1.5h-1.5zM257.7 873.6h1.5v1.5h-1.5zM260.0 875.0h1.5v1.5h-1.5zM258.7 883.5h1.5v1.5h-1.5zM249.7 872.2h1.5v1.5h-1.5zM247.4 878.0h1.5v1.5h-1.5zM255.5 873.2h1.5v1.5h-1.5zM260.7 879.0h1.5v1.5h-1.5zM250.9 878.9h1.5v1.5h-1.5zM262.0 870.0h1.5v1.5h-1.5zM255.9 873.2h1.5v1.5h-1.5zM259.0 874.8h1.5v1.5h-1.5zM256.5 867.8h1.5v1.5h-1.5zM263.3 870.8h1.5v1.5h-1.5zM257.4 872.6h1.5v1.5h-1.5zM249.0 877.5h1.5v1.5h-1.5zM252.7 871.0h1.5v1.5h-1.5zM256.3 880.1h1.5v1.5h-1.5zM254.6 867.7h1.5v1.5h-1.5zM251.2 870.4h1.5v1.5h-1.5zM250.3 871.7h1.5v1.5h-1.5zM254.0 866.7h1.5v1.5h-1.5zM250.3 872.3h1.5v1.5h-1.5zM255.2 873.5h1.5v1.5h-1.5zM253.3 873.0h1.5v1.5h-1.5zM263.9 875.5h1.5v1.5h-1.5zM251.7 870.9h1.5v1.5h-1.5zM252.4 870.9h1.5v1.5h-1.5zM261.0 875.3h1.5v1.5h-1.5zM263.8 869.3h1.5v1.5h-1.5zM248.5 880.3h1.5v1.5h-1.5zM263.1 869.2h1.5v1.5h-1.5zM250.6 872.4h1.5v1.5h-1.5zM260.1 869.9h1.5v1.5h-1.5zM255.7 877.1h1.5v1.5h-1.5zM260.0 876.8h1.5v1.5h-1.5zM262.3 873.6h1.5v1.5h-1.5zM258.6 871.5h1.5v1.5h-1.5zM257.2 869.1h1.5v1.5h-1.5zM258.0 867.4h1.5v1.5h-1.5zM254.2 884.8h1.5v1.5h-1.5zM251.7 870.4h1.5v1.5h-1.5zM260.4 874.4h1.5v1.5h-1.5zM278.6 872.4h1.5v1.5h-1.5zM272.5 875.5h1.5v1.5h-1.5zM269.0 871.6h1.5v1.5h-1.5zM271.1 856.3h1.5v1.5h-1.5zM277.1 868.9h1.5v1.5h-1.5zM272.3 861.1h1.5v1.5h-1.5zM278.7 871.5h1.5v1.5h-1.5zM270.7 878.7h1.5v1.5h-1.5zM276.6 868.3h1.5v1.5h-1.5zM272.6 872.6h1.5v1.5h-1.5zM275.0 874.2h1.5v1.5h-1.5zM274.2 865.1h1.5v1.5h-1.5zM276.9 881.5h1.5v1.5h-1.5zM271.4 882.5h1.5v1.5h-1.5zM278.8 868.9h1.5v1.5h-1.5zM268.6 886.3h1.5v1.5h-1.5zM270.7 874.4h1.5v1.5h-1.5zM275.3 881.8h1.5v1.5h-1.5zM269.6 873.0h1.5v1.5h-1.5zM272.1 874.3h1.5v1.5h-1.5zM270.9 888.1h1.5v1.5h-1.5zM277.9 871.4h1.5v1.5h-1.5zM267.4 878.0h1.5v1.5h-1.5zM273.2 875.2h1.5v1.5h-1.5zM271.6 872.8h1.5v1.5h-1.5zM269.6 872.3h1.5v1.5h-1.5zM266.9 864.5h1.5v1.5h-1.5zM269.3 871.7h1.5v1.5h-1.5zM267.7 874.9h1.5v1.5h-1.5zM276.7 880.3h1.5v1.5h-1.5zM274.7 874.6h1.5v1.5h-1.5zM268.4 874.9h1.5v1.5h-1.5zM268.1 873.6h1.5v1.5h-1.5zM278.9 875.8h1.5v1.5h-1.5zM278.9 868.5h1.5v1.5h-1.5zM274.1 869.7h1.5v1.5h-1.5zM271.3 866.1h1.5v1.5h-1.5zM268.8 876.5h1.5v1.5h-1.5zM268.3 873.3h1.5v1.5h-1.5zM271.6 869.8h1.5v1.5h-1.5zM269.1 874.9h1.5v1.5h-1.5zM269.5 876.3h1.5v1.5h-1.5zM274.8 873.8h1.5v1.5h-1.5zM267.7 872.1h1.5v1.5h-1.5zM300.5 872.2h1.5v1.5h-1.5zM302.6 879.0h1.5v1.5h-1.5zM293.1 875.5h1.5v1.5h-1.5zM300.8 870.7h1.5v1.5h-1.5zM287.1 876.5h1.5v1.5h-1.5zM297.1 872.9h1.5v1.5h-1.5zM295.5 871.9h1.5v1.5h-1.5zM300.2 873.5h1.5v1.5h-1.5zM301.5 875.5h1.5v1.5h-1.5zM303.4 873.4h1.5v1.5h-1.5zM302.2 878.7h1.5v1.5h-1.5zM297.7 873.0h1.5v1.5h-1.5zM289.9 878.5h1.5v1.5h-1.5zM283.0 872.5h1.5v1.5h-1.5zM287.2 871.3h1.5v1.5h-1.5zM293.8 873.6h1.5v1.5h-1.5zM294.7 889.1h1.5v1.5h-1.5zM301.3 900.8h1.5v1.5h-1.5zM291.0 871.0h1.5v1.5h-1.5zM287.2 873.6h1.5v1.5h-1.5zM291.4 870.5h1.5v1.5h-1.5zM299.6 868.8h1.5v1.5h-1.5zM298.6 868.3h1.5v1.5h-1.5zM286.5 870.9h1.5v1.5h-1.5zM289.2 872.3h1.5v1.5h-1.5zM282.8 871.5h1.5v1.5h-1.5zM281.9 865.2h1.5v1.5h-1.5zM301.9 867.2h1.5v1.5h-1.5zM288.4 874.2h1.5v1.5h-1.5zM281.8 870.5h1.5v1.5h-1.5zM287.1 872.2h1.5v1.5h-1.5zM283.0 871.6h1.5v1.5h-1.5zM300.0 872.6h1.5v1.5h-1.5zM283.6 871.5h1.5v1.5h-1.5zM282.6 869.7h1.5v1.5h-1.5zM291.5 885.5h1.5v1.5h-1.5zM301.4 874.4h1.5v1.5h-1.5zM293.3 871.0h1.5v1.5h-1.5zM293.0 867.2h1.5v1.5h-1.5zM288.9 874.4h1.5v1.5h-1.5zM303.2 871.6h1.5v1.5h-1.5zM294.2 873.3h1.5v1.5h-1.5zM302.1 870.4h1.5v1.5h-1.5zM297.2 873.2h1.5v1.5h-1.5zM301.7 866.5h1.5v1.5h-1.5zM282.7 866.4h1.5v1.5h-1.5zM292.3 863.6h1.5v1.5h-1.5zM287.7 874.0h1.5v1.5h-1.5zM293.4 872.5h1.5v1.5h-1.5zM296.2 872.6h1.5v1.5h-1.5zM286.3 873.9h1.5v1.5h-1.5zM282.1 872.1h1.5v1.5h-1.5zM296.0 876.4h1.5v1.5h-1.5zM301.6 875.7h1.5v1.5h-1.5zM289.2 871.4h1.5v1.5h-1.5zM290.0 872.2h1.5v1.5h-1.5zM295.1 886.6h1.5v1.5h-1.5zM295.9 872.1h1.5v1.5h-1.5zM284.0 871.2h1.5v1.5h-1.5zM296.3 880.8h1.5v1.5h-1.5zM295.7 871.1h1.5v1.5h-1.5zM291.0 877.1h1.5v1.5h-1.5zM284.6 873.7h1.5v1.5h-1.5zM292.6 876.9h1.5v1.5h-1.5zM297.5 858.5h1.5v1.5h-1.5zM292.6 874.6h1.5v1.5h-1.5zM292.1 870.9h1.5v1.5h-1.5zM282.1 861.3h1.5v1.5h-1.5zM290.5 872.9h1.5v1.5h-1.5zM289.1 877.4h1.5v1.5h-1.5zM300.8 872.7h1.5v1.5h-1.5zM283.3 871.1h1.5v1.5h-1.5zM299.6 875.1h1.5v1.5h-1.5zM321.7 876.6h1.5v1.5h-1.5zM320.6 865.4h1.5v1.5h-1.5zM317.3 876.8h1.5v1.5h-1.5zM323.7 875.7h1.5v1.5h-1.5zM308.1 881.1h1.5v1.5h-1.5zM322.6 865.7h1.5v1.5h-1.5zM318.9 876.2h1.5v1.5h-1.5zM321.1 873.3h1.5v1.5h-1.5zM314.3 865.4h1.5v1.5h-1.5zM316.4 866.5h1.5v1.5h-1.5zM318.7 869.9h1.5v1.5h-1.5zM312.8 875.9h1.5v1.5h-1.5zM310.0 873.6h1.5v1.5h-1.5zM306.7 871.5h1.5v1.5h-1.5zM308.0 871.0h1.5v1.5h-1.5zM308.1 871.7h1.5v1.5h-1.5zM316.9 874.0h1.5v1.5h-1.5zM318.2 875.2h1.5v1.5h-1.5zM314.1 864.0h1.5v1.5h-1.5zM310.9 867.3h1.5v1.5h-1.5zM317.5 871.4h1.5v1.5h-1.5zM309.9 871.8h1.5v1.5h-1.5zM312.4 872.6h1.5v1.5h-1.5zM322.8 879.5h1.5v1.5h-1.5zM322.5 875.2h1.5v1.5h-1.5zM324.6 869.7h1.5v1.5h-1.5zM318.8 876.5h1.5v1.5h-1.5zM324.6 873.6h1.5v1.5h-1.5zM323.2 870.4h1.5v1.5h-1.5zM311.6 870.6h1.5v1.5h-1.5zM322.6 881.5h1.5v1.5h-1.5zM318.4 875.2h1.5v1.5h-1.5zM320.4 862.5h1.5v1.5h-1.5zM322.6 873.4h1.5v1.5h-1.5zM314.8 873.5h1.5v1.5h-1.5zM322.2 872.0h1.5v1.5h-1.5zM316.5 872.1h1.5v1.5h-1.5zM306.8 879.2h1.5v1.5h-1.5zM314.9 867.9h1.5v1.5h-1.5zM308.7 873.4h1.5v1.5h-1.5zM308.5 878.0h1.5v1.5h-1.5zM320.1 873.8h1.5v1.5h-1.5zM309.8 872.2h1.5v1.5h-1.5zM319.3 900.6h1.5v1.5h-1.5zM324.0 870.7h1.5v1.5h-1.5zM315.7 870.4h1.5v1.5h-1.5zM310.2 869.6h1.5v1.5h-1.5zM313.9 874.6h1.5v1.5h-1.5zM319.7 872.4h1.5v1.5h-1.5zM310.7 878.7h1.5v1.5h-1.5zM319.8 871.8h1.5v1.5h-1.5zM310.5 874.0h1.5v1.5h-1.5zM309.4 873.3h1.5v1.5h-1.5zM317.3 872.8h1.5v1.5h-1.5zM308.8 880.1h1.5v1.5h-1.5zM322.5 869.5h1.5v1.5h-1.5zM308.2 869.5h1.5v1.5h-1.5zM310.5 867.9h1.5v1.5h-1.5zM314.5 873.0h1.5v1.5h-1.5zM310.3 873.8h1.5v1.5h-1.5zM308.1 862.6h1.5v1.5h-1.5zM317.0 877.4h1.5v1.5h-1.5zM317.9 877.3h1.5v1.5h-1.5z" fill="#3445a6"/>
<text x="60.20" y="858.45" font-size="13.3" font-weight="normal" font-style="normal" text-anchor="end" fill="#000" >1</text>
<text x="60.20" y="878.90" font-size="13.3" font-weight="normal" font-style="normal" text-anchor="end" fill="#000" >0</text>
<text x="60.20" y="899.35" font-size="13.3" font-weight="normal" font-style="normal" text-anchor="end" fill="#000" >-1</text>
<text x="335.00" y="884.80" font-size="15.5" font-weight="bold" font-style="normal" text-anchor="start" fill="#000" >#4</text>
<line x1="372.9" y1="593.50" x2="634.4" y2="593.50" stroke="#7a7a7a" stroke-width="1.2"/>
<line x1="372.9" y1="614.50" x2="634.4" y2="614.50" stroke="#7a7a7a" stroke-width="1.2"/>
<line x1="372.9" y1="634.50" x2="634.4" y2="634.50" stroke="#7a7a7a" stroke-width="1.2"/>
<line x1="378.50" y1="573.5" x2="378.50" y2="655.3" stroke="#a0a0a0" stroke-width="1"/>
<line x1="378.50" y1="573" x2="378.50" y2="655.3" stroke="#3a3a3a" stroke-width="1" stroke-dasharray="1 1"/>
<line x1="397.50" y1="573.5" x2="397.50" y2="655.3" stroke="#a0a0a0" stroke-width="1"/>
<line x1="397.50" y1="573" x2="397.50" y2="655.3" stroke="#3a3a3a" stroke-width="1" stroke-dasharray="1 1"/>
<line x1="405.50" y1="573.5" x2="405.50" y2="655.3" stroke="#a0a0a0" stroke-width="1"/>
<line x1="405.50" y1="573" x2="405.50" y2="655.3" stroke="#3a3a3a" stroke-width="1" stroke-dasharray="1 1"/>
<line x1="435.50" y1="573.5" x2="435.50" y2="655.3" stroke="#a0a0a0" stroke-width="1"/>
<line x1="435.50" y1="573" x2="435.50" y2="655.3" stroke="#3a3a3a" stroke-width="1" stroke-dasharray="1 1"/>
<line x1="450.50" y1="573.5" x2="450.50" y2="655.3" stroke="#a0a0a0" stroke-width="1"/>
<line x1="450.50" y1="573" x2="450.50" y2="655.3" stroke="#3a3a3a" stroke-width="1" stroke-dasharray="1 1"/>
<line x1="457.50" y1="573.5" x2="457.50" y2="655.3" stroke="#a0a0a0" stroke-width="1"/>
<line x1="457.50" y1="573" x2="457.50" y2="655.3" stroke="#3a3a3a" stroke-width="1" stroke-dasharray="1 1"/>
<line x1="480.50" y1="573.5" x2="480.50" y2="655.3" stroke="#a0a0a0" stroke-width="1"/>
<line x1="480.50" y1="573" x2="480.50" y2="655.3" stroke="#3a3a3a" stroke-width="1" stroke-dasharray="1 1"/>
<line x1="491.50" y1="573.5" x2="491.50" y2="655.3" stroke="#a0a0a0" stroke-width="1"/>
<line x1="491.50" y1="573" x2="491.50" y2="655.3" stroke="#3a3a3a" stroke-width="1" stroke-dasharray="1 1"/>
<line x1="503.50" y1="573.5" x2="503.50" y2="655.3" stroke="#a0a0a0" stroke-width="1"/>
<line x1="503.50" y1="573" x2="503.50" y2="655.3" stroke="#3a3a3a" stroke-width="1" stroke-dasharray="1 1"/>
<line x1="516.50" y1="573.5" x2="516.50" y2="655.3" stroke="#a0a0a0" stroke-width="1"/>
<line x1="516.50" y1="573" x2="516.50" y2="655.3" stroke="#3a3a3a" stroke-width="1" stroke-dasharray="1 1"/>
<line x1="532.50" y1="573.5" x2="532.50" y2="655.3" stroke="#a0a0a0" stroke-width="1"/>
<line x1="532.50" y1="573" x2="532.50" y2="655.3" stroke="#3a3a3a" stroke-width="1" stroke-dasharray="1 1"/>
<line x1="553.50" y1="573.5" x2="553.50" y2="655.3" stroke="#a0a0a0" stroke-width="1"/>
<line x1="553.50" y1="573" x2="553.50" y2="655.3" stroke="#3a3a3a" stroke-width="1" stroke-dasharray="1 1"/>
<line x1="573.50" y1="573.5" x2="573.50" y2="655.3" stroke="#a0a0a0" stroke-width="1"/>
<line x1="573.50" y1="573" x2="573.50" y2="655.3" stroke="#3a3a3a" stroke-width="1" stroke-dasharray="1 1"/>
<line x1="588.50" y1="573.5" x2="588.50" y2="655.3" stroke="#a0a0a0" stroke-width="1"/>
<line x1="588.50" y1="573" x2="588.50" y2="655.3" stroke="#3a3a3a" stroke-width="1" stroke-dasharray="1 1"/>
<line x1="613.50" y1="573.5" x2="613.50" y2="655.3" stroke="#a0a0a0" stroke-width="1"/>
<line x1="613.50" y1="573" x2="613.50" y2="655.3" stroke="#3a3a3a" stroke-width="1" stroke-dasharray="1 1"/>
<rect x="372.9" y="573.5" width="261.5" height="81.8" fill="none" stroke="#444" stroke-width="1.1"/>
<path d="M375.9 615.4h1.5v1.5h-1.5zM374.1 613.2h1.5v1.5h-1.5zM374.3 618.9h1.5v1.5h-1.5zM375.2 603.0h1.5v1.5h-1.5zM375.2 612.8h1.5v1.5h-1.5zM375.2 614.3h1.5v1.5h-1.5zM375.9 610.7h1.5v1.5h-1.5zM375.8 620.2h1.5v1.5h-1.5zM375.1 609.8h1.5v1.5h-1.5zM373.5 610.8h1.5v1.5h-1.5zM376.0 610.6h1.5v1.5h-1.5zM375.9 608.2h1.5v1.5h-1.5zM390.7 608.1h1.5v1.5h-1.5zM381.1 610.4h1.5v1.5h-1.5zM391.7 617.1h1.5v1.5h-1.5zM380.8 614.5h1.5v1.5h-1.5zM386.4 611.6h1.5v1.5h-1.5zM393.5 605.1h1.5v1.5h-1.5zM393.8 615.2h1.5v1.5h-1.5zM395.4 615.4h1.5v1.5h-1.5zM381.4 609.1h1.5v1.5h-1.5zM392.6 610.9h1.5v1.5h-1.5zM393.2 609.6h1.5v1.5h-1.5zM385.2 610.3h1.5v1.5h-1.5zM379.3 620.0h1.5v1.5h-1.5zM384.8 641.3h1.5v1.5h-1.5zM385.7 616.0h1.5v1.5h-1.5zM387.6 615.2h1.5v1.5h-1.5zM381.7 610.9h1.5v1.5h-1.5zM388.4 616.8h1.5v1.5h-1.5zM383.4 614.5h1.5v1.5h-1.5zM389.3 609.7h1.5v1.5h-1.5zM380.9 595.6h1.5v1.5h-1.5zM384.2 609.5h1.5v1.5h-1.5zM393.6 613.4h1.5v1.5h-1.5zM387.8 617.3h1.5v1.5h-1.5zM391.7 614.3h1.5v1.5h-1.5zM390.5 619.9h1.5v1.5h-1.5zM386.5 613.4h1.5v1.5h-1.5zM389.0 617.7h1.5v1.5h-1.5zM383.6 608.6h1.5v1.5h-1.5zM389.8 612.0h1.5v1.5h-1.5zM383.1 614.4h1.5v1.5h-1.5zM381.1 612.6h1.5v1.5h-1.5zM382.0 624.1h1.5v1.5h-1.5zM381.9 611.8h1.5v1.5h-1.5zM392.5 610.7h1.5v1.5h-1.5zM387.1 610.1h1.5v1.5h-1.5zM390.1 611.7h1.5v1.5h-1.5zM386.3 612.2h1.5v1.5h-1.5zM383.1 609.6h1.5v1.5h-1.5zM384.4 617.9h1.5v1.5h-1.5zM393.6 605.8h1.5v1.5h-1.5zM392.8 608.1h1.5v1.5h-1.5zM382.0 610.2h1.5v1.5h-1.5zM391.3 616.2h1.5v1.5h-1.5zM379.5 613.4h1.5v1.5h-1.5zM380.6 610.5h1.5v1.5h-1.5zM388.2 615.7h1.5v1.5h-1.5zM401.1 612.1h1.5v1.5h-1.5zM398.3 606.2h1.5v1.5h-1.5zM398.5 615.6h1.5v1.5h-1.5zM399.4 610.6h1.5v1.5h-1.5zM400.7 608.0h1.5v1.5h-1.5zM399.4 613.8h1.5v1.5h-1.5zM398.8 612.7h1.5v1.5h-1.5zM402.5 614.7h1.5v1.5h-1.5zM401.0 613.7h1.5v1.5h-1.5zM399.9 617.5h1.5v1.5h-1.5zM401.2 613.1h1.5v1.5h-1.5zM401.4 611.4h1.5v1.5h-1.5zM402.8 577.5h1.5v1.5h-1.5zM402.4 617.5h1.5v1.5h-1.5zM398.5 611.8h1.5v1.5h-1.5zM398.8 616.5h1.5v1.5h-1.5zM399.1 614.8h1.5v1.5h-1.5zM413.9 611.2h1.5v1.5h-1.5zM418.1 607.4h1.5v1.5h-1.5zM431.4 612.3h1.5v1.5h-1.5zM406.3 612.5h1.5v1.5h-1.5zM429.4 610.6h1.5v1.5h-1.5zM433.0 610.7h1.5v1.5h-1.5zM415.8 613.0h1.5v1.5h-1.5zM430.7 612.4h1.5v1.5h-1.5zM418.4 613.3h1.5v1.5h-1.5zM432.3 609.8h1.5v1.5h-1.5zM432.3 610.2h1.5v1.5h-1.5zM416.5 624.2h1.5v1.5h-1.5zM408.0 611.7h1.5v1.5h-1.5zM430.6 614.3h1.5v1.5h-1.5zM422.0 608.3h1.5v1.5h-1.5zM420.4 611.5h1.5v1.5h-1.5zM427.7 613.8h1.5v1.5h-1.5zM408.4 622.4h1.5v1.5h-1.5zM407.2 610.0h1.5v1.5h-1.5zM407.8 612.4h1.5v1.5h-1.5zM418.0 610.8h1.5v1.5h-1.5zM427.3 614.5h1.5v1.5h-1.5zM424.6 611.5h1.5v1.5h-1.5zM424.9 612.7h1.5v1.5h-1.5zM405.7 606.7h1.5v1.5h-1.5zM428.7 611.0h1.5v1.5h-1.5zM415.1 611.6h1.5v1.5h-1.5zM417.6 612.2h1.5v1.5h-1.5zM409.5 612.8h1.5v1.5h-1.5zM417.0 611.0h1.5v1.5h-1.5zM421.1 610.3h1.5v1.5h-1.5zM424.9 610.7h1.5v1.5h-1.5zM421.2 607.9h1.5v1.5h-1.5zM419.3 615.3h1.5v1.5h-1.5zM416.3 607.8h1.5v1.5h-1.5zM406.4 609.0h1.5v1.5h-1.5zM418.2 634.7h1.5v1.5h-1.5zM432.4 612.3h1.5v1.5h-1.5zM422.2 615.1h1.5v1.5h-1.5zM411.6 607.6h1.5v1.5h-1.5zM416.9 614.6h1.5v1.5h-1.5zM424.8 611.1h1.5v1.5h-1.5zM414.9 623.5h1.5v1.5h-1.5zM415.4 609.4h1.5v1.5h-1.5zM411.6 620.0h1.5v1.5h-1.5zM409.9 599.3h1.5v1.5h-1.5zM430.4 607.5h1.5v1.5h-1.5zM430.6 618.0h1.5v1.5h-1.5zM406.2 617.0h1.5v1.5h-1.5zM414.1 614.0h1.5v1.5h-1.5zM407.5 615.1h1.5v1.5h-1.5zM405.7 610.5h1.5v1.5h-1.5zM412.8 614.2h1.5v1.5h-1.5zM417.7 612.5h1.5v1.5h-1.5zM417.1 599.4h1.5v1.5h-1.5zM417.2 609.1h1.5v1.5h-1.5zM420.1 610.4h1.5v1.5h-1.5zM431.9 612.0h1.5v1.5h-1.5zM431.8 608.5h1.5v1.5h-1.5zM421.1 615.8h1.5v1.5h-1.5zM411.4 607.9h1.5v1.5h-1.5zM427.1 611.1h1.5v1.5h-1.5zM427.3 616.9h1.5v1.5h-1.5zM429.4 615.5h1.5v1.5h-1.5zM425.3 610.7h1.5v1.5h-1.5zM432.3 607.8h1.5v1.5h-1.5zM419.6 613.8h1.5v1.5h-1.5zM432.2 608.4h1.5v1.5h-1.5zM415.7 617.7h1.5v1.5h-1.5zM408.4 618.5h1.5v1.5h-1.5zM411.1 611.4h1.5v1.5h-1.5zM406.6 609.7h1.5v1.5h-1.5zM439.0 611.0h1.5v1.5h-1.5zM436.5 611.2h1.5v1.5h-1.5zM439.6 613.2h1.5v1.5h-1.5zM447.1 609.9h1.5v1.5h-1.5zM446.2 615.4h1.5v1.5h-1.5zM440.5 615.6h1.5v1.5h-1.5zM448.0 609.1h1.5v1.5h-1.5zM440.8 613.7h1.5v1.5h-1.5zM447.9 621.5h1.5v1.5h-1.5zM436.6 609.5h1.5v1.5h-1.5zM439.5 611.9h1.5v1.5h-1.5zM440.5 615.5h1.5v1.5h-1.5zM442.3 612.2h1.5v1.5h-1.5zM436.3 612.2h1.5v1.5h-1.5zM447.8 610.4h1.5v1.5h-1.5zM441.6 609.9h1.5v1.5h-1.5zM437.9 613.2h1.5v1.5h-1.5zM445.9 611.0h1.5v1.5h-1.5zM443.2 617.1h1.5v1.5h-1.5zM445.2 615.4h1.5v1.5h-1.5zM440.9 606.8h1.5v1.5h-1.5zM448.2 613.8h1.5v1.5h-1.5zM441.8 616.0h1.5v1.5h-1.5zM442.1 619.2h1.5v1.5h-1.5zM443.9 615.5h1.5v1.5h-1.5zM440.9 627.3h1.5v1.5h-1.5zM447.7 610.6h1.5v1.5h-1.5zM437.3 611.7h1.5v1.5h-1.5zM441.8 612.0h1.5v1.5h-1.5zM447.0 622.6h1.5v1.5h-1.5zM439.4 618.8h1.5v1.5h-1.5zM447.8 612.4h1.5v1.5h-1.5zM447.0 615.4h1.5v1.5h-1.5zM437.1 611.0h1.5v1.5h-1.5zM448.0 612.9h1.5v1.5h-1.5zM437.3 608.7h1.5v1.5h-1.5zM452.5 608.4h1.5v1.5h-1.5zM454.5 612.2h1.5v1.5h-1.5zM451.1 613.5h1.5v1.5h-1.5zM455.0 613.1h1.5v1.5h-1.5zM451.0 608.3h1.5v1.5h-1.5zM452.7 609.8h1.5v1.5h-1.5zM453.5 619.2h1.5v1.5h-1.5zM452.4 615.8h1.5v1.5h-1.5zM451.6 614.1h1.5v1.5h-1.5zM455.2 610.2h1.5v1.5h-1.5zM454.6 609.5h1.5v1.5h-1.5zM452.5 618.7h1.5v1.5h-1.5zM453.4 616.4h1.5v1.5h-1.5zM454.8 611.0h1.5v1.5h-1.5zM452.3 613.5h1.5v1.5h-1.5zM454.6 608.9h1.5v1.5h-1.5zM468.0 615.7h1.5v1.5h-1.5zM473.5 615.1h1.5v1.5h-1.5zM467.2 613.8h1.5v1.5h-1.5zM467.5 607.7h1.5v1.5h-1.5zM466.0 601.0h1.5v1.5h-1.5zM471.9 613.6h1.5v1.5h-1.5zM471.4 615.3h1.5v1.5h-1.5zM477.9 612.0h1.5v1.5h-1.5zM458.5 612.5h1.5v1.5h-1.5zM466.4 615.6h1.5v1.5h-1.5zM460.5 612.9h1.5v1.5h-1.5zM470.6 615.7h1.5v1.5h-1.5zM475.9 613.9h1.5v1.5h-1.5zM462.5 621.3h1.5v1.5h-1.5zM477.0 612.9h1.5v1.5h-1.5zM465.0 613.5h1.5v1.5h-1.5zM465.4 612.1h1.5v1.5h-1.5zM478.3 611.1h1.5v1.5h-1.5zM459.1 616.3h1.5v1.5h-1.5zM478.1 615.8h1.5v1.5h-1.5zM474.2 612.1h1.5v1.5h-1.5zM473.7 605.0h1.5v1.5h-1.5zM475.6 612.8h1.5v1.5h-1.5zM458.6 612.8h1.5v1.5h-1.5zM469.5 613.6h1.5v1.5h-1.5zM472.6 610.1h1.5v1.5h-1.5zM461.9 622.0h1.5v1.5h-1.5zM461.0 614.3h1.5v1.5h-1.5zM476.5 619.0h1.5v1.5h-1.5zM474.8 611.6h1.5v1.5h-1.5zM458.0 609.9h1.5v1.5h-1.5zM474.4 613.0h1.5v1.5h-1.5zM478.1 613.3h1.5v1.5h-1.5zM463.3 619.9h1.5v1.5h-1.5zM477.1 611.4h1.5v1.5h-1.5zM458.4 607.6h1.5v1.5h-1.5zM466.3 609.7h1.5v1.5h-1.5zM472.8 610.7h1.5v1.5h-1.5zM464.3 615.9h1.5v1.5h-1.5zM466.5 609.2h1.5v1.5h-1.5zM478.5 612.8h1.5v1.5h-1.5zM477.9 612.3h1.5v1.5h-1.5zM474.6 609.6h1.5v1.5h-1.5zM463.8 616.3h1.5v1.5h-1.5zM475.1 617.2h1.5v1.5h-1.5zM477.2 626.7h1.5v1.5h-1.5zM470.1 620.2h1.5v1.5h-1.5zM458.9 610.6h1.5v1.5h-1.5zM465.9 615.4h1.5v1.5h-1.5zM461.3 617.3h1.5v1.5h-1.5zM460.7 612.6h1.5v1.5h-1.5zM465.7 617.9h1.5v1.5h-1.5zM476.6 619.0h1.5v1.5h-1.5zM462.5 622.4h1.5v1.5h-1.5zM461.5 615.9h1.5v1.5h-1.5zM460.5 616.5h1.5v1.5h-1.5zM488.7 615.2h1.5v1.5h-1.5zM485.6 610.7h1.5v1.5h-1.5zM481.6 617.2h1.5v1.5h-1.5zM489.0 614.9h1.5v1.5h-1.5zM481.3 616.4h1.5v1.5h-1.5zM482.3 615.6h1.5v1.5h-1.5zM487.2 612.9h1.5v1.5h-1.5zM481.4 612.9h1.5v1.5h-1.5zM484.4 606.9h1.5v1.5h-1.5zM484.6 613.0h1.5v1.5h-1.5zM484.7 618.1h1.5v1.5h-1.5zM484.5 614.5h1.5v1.5h-1.5zM486.0 612.6h1.5v1.5h-1.5zM482.8 618.9h1.5v1.5h-1.5zM488.9 614.8h1.5v1.5h-1.5zM483.5 613.2h1.5v1.5h-1.5zM481.5 616.0h1.5v1.5h-1.5zM481.7 618.2h1.5v1.5h-1.5zM484.2 606.7h1.5v1.5h-1.5zM485.4 612.4h1.5v1.5h-1.5zM482.4 614.8h1.5v1.5h-1.5zM484.3 612.9h1.5v1.5h-1.5zM486.4 611.4h1.5v1.5h-1.5zM486.7 614.2h1.5v1.5h-1.5zM488.4 611.7h1.5v1.5h-1.5zM483.8 615.3h1.5v1.5h-1.5zM498.4 614.1h1.5v1.5h-1.5zM497.7 609.9h1.5v1.5h-1.5zM499.9 614.2h1.5v1.5h-1.5zM497.3 608.9h1.5v1.5h-1.5zM496.0 612.9h1.5v1.5h-1.5zM499.0 614.8h1.5v1.5h-1.5zM498.6 611.9h1.5v1.5h-1.5zM499.3 623.2h1.5v1.5h-1.5zM496.1 621.1h1.5v1.5h-1.5zM495.0 612.3h1.5v1.5h-1.5zM496.3 615.3h1.5v1.5h-1.5zM497.6 617.0h1.5v1.5h-1.5zM496.3 609.6h1.5v1.5h-1.5zM494.6 604.6h1.5v1.5h-1.5zM494.9 611.9h1.5v1.5h-1.5zM499.7 613.2h1.5v1.5h-1.5zM493.7 617.1h1.5v1.5h-1.5zM497.3 615.5h1.5v1.5h-1.5zM499.8 610.5h1.5v1.5h-1.5zM496.2 612.2h1.5v1.5h-1.5zM494.1 617.9h1.5v1.5h-1.5zM492.9 616.9h1.5v1.5h-1.5zM500.2 610.9h1.5v1.5h-1.5zM493.5 601.3h1.5v1.5h-1.5zM497.5 612.8h1.5v1.5h-1.5zM499.2 616.9h1.5v1.5h-1.5zM493.2 608.4h1.5v1.5h-1.5zM513.3 614.0h1.5v1.5h-1.5zM514.0 614.4h1.5v1.5h-1.5zM512.6 611.9h1.5v1.5h-1.5zM511.8 611.5h1.5v1.5h-1.5zM513.4 617.4h1.5v1.5h-1.5zM510.2 609.5h1.5v1.5h-1.5zM505.5 606.9h1.5v1.5h-1.5zM505.9 602.9h1.5v1.5h-1.5zM509.1 617.2h1.5v1.5h-1.5zM508.2 609.3h1.5v1.5h-1.5zM507.8 614.0h1.5v1.5h-1.5zM513.6 611.2h1.5v1.5h-1.5zM511.5 615.3h1.5v1.5h-1.5zM510.1 592.1h1.5v1.5h-1.5zM507.8 610.1h1.5v1.5h-1.5zM509.0 610.2h1.5v1.5h-1.5zM513.2 624.6h1.5v1.5h-1.5zM506.8 617.0h1.5v1.5h-1.5zM513.8 612.2h1.5v1.5h-1.5zM506.8 613.8h1.5v1.5h-1.5zM512.8 613.1h1.5v1.5h-1.5zM505.6 612.5h1.5v1.5h-1.5zM506.2 613.9h1.5v1.5h-1.5zM513.7 616.4h1.5v1.5h-1.5zM513.0 603.9h1.5v1.5h-1.5zM506.5 616.2h1.5v1.5h-1.5zM504.7 615.1h1.5v1.5h-1.5zM511.1 610.9h1.5v1.5h-1.5zM504.6 614.9h1.5v1.5h-1.5zM504.0 616.6h1.5v1.5h-1.5zM526.3 616.2h1.5v1.5h-1.5zM528.0 609.3h1.5v1.5h-1.5zM517.6 612.7h1.5v1.5h-1.5zM518.6 617.8h1.5v1.5h-1.5zM522.3 613.7h1.5v1.5h-1.5zM521.9 612.3h1.5v1.5h-1.5zM528.9 612.3h1.5v1.5h-1.5zM519.4 619.1h1.5v1.5h-1.5zM516.7 615.6h1.5v1.5h-1.5zM526.7 612.5h1.5v1.5h-1.5zM523.6 611.3h1.5v1.5h-1.5zM518.0 612.9h1.5v1.5h-1.5zM521.7 603.5h1.5v1.5h-1.5zM519.9 613.5h1.5v1.5h-1.5zM519.2 621.3h1.5v1.5h-1.5zM522.4 612.7h1.5v1.5h-1.5zM518.5 615.7h1.5v1.5h-1.5zM517.1 611.2h1.5v1.5h-1.5zM519.8 608.2h1.5v1.5h-1.5zM517.5 615.9h1.5v1.5h-1.5zM524.6 618.1h1.5v1.5h-1.5zM519.8 615.3h1.5v1.5h-1.5zM526.7 613.9h1.5v1.5h-1.5zM520.4 616.8h1.5v1.5h-1.5zM527.0 613.3h1.5v1.5h-1.5zM524.8 617.1h1.5v1.5h-1.5zM529.1 617.8h1.5v1.5h-1.5zM519.0 615.0h1.5v1.5h-1.5zM518.0 614.1h1.5v1.5h-1.5zM529.2 614.3h1.5v1.5h-1.5zM528.1 613.4h1.5v1.5h-1.5zM527.7 614.3h1.5v1.5h-1.5zM523.3 612.7h1.5v1.5h-1.5zM522.0 609.1h1.5v1.5h-1.5zM529.5 609.3h1.5v1.5h-1.5zM518.5 616.5h1.5v1.5h-1.5zM520.6 614.3h1.5v1.5h-1.5zM528.7 612.5h1.5v1.5h-1.5zM537.3 616.5h1.5v1.5h-1.5zM537.0 612.9h1.5v1.5h-1.5zM550.3 613.4h1.5v1.5h-1.5zM540.6 611.4h1.5v1.5h-1.5zM539.3 607.6h1.5v1.5h-1.5zM535.0 617.6h1.5v1.5h-1.5zM542.8 613.3h1.5v1.5h-1.5zM538.8 608.2h1.5v1.5h-1.5zM551.4 613.9h1.5v1.5h-1.5zM535.3 612.4h1.5v1.5h-1.5zM543.2 621.5h1.5v1.5h-1.5zM551.4 609.9h1.5v1.5h-1.5zM548.8 613.3h1.5v1.5h-1.5zM541.9 610.6h1.5v1.5h-1.5zM539.9 614.0h1.5v1.5h-1.5zM539.7 615.3h1.5v1.5h-1.5zM548.0 614.7h1.5v1.5h-1.5zM550.7 617.7h1.5v1.5h-1.5zM551.1 618.4h1.5v1.5h-1.5zM537.7 613.8h1.5v1.5h-1.5zM534.6 604.5h1.5v1.5h-1.5zM535.3 620.9h1.5v1.5h-1.5zM542.5 611.1h1.5v1.5h-1.5zM533.4 607.2h1.5v1.5h-1.5zM540.8 620.1h1.5v1.5h-1.5zM540.9 616.4h1.5v1.5h-1.5zM533.1 608.4h1.5v1.5h-1.5zM541.2 617.0h1.5v1.5h-1.5zM543.5 612.9h1.5v1.5h-1.5zM536.7 618.8h1.5v1.5h-1.5zM535.7 617.9h1.5v1.5h-1.5zM537.4 613.6h1.5v1.5h-1.5zM543.8 607.8h1.5v1.5h-1.5zM534.9 604.4h1.5v1.5h-1.5zM548.9 614.9h1.5v1.5h-1.5zM535.2 618.5h1.5v1.5h-1.5zM550.8 606.4h1.5v1.5h-1.5zM547.4 614.6h1.5v1.5h-1.5zM534.0 612.9h1.5v1.5h-1.5zM536.0 619.2h1.5v1.5h-1.5zM549.0 624.7h1.5v1.5h-1.5zM547.4 609.5h1.5v1.5h-1.5zM543.9 619.7h1.5v1.5h-1.5zM547.7 617.5h1.5v1.5h-1.5zM534.6 623.2h1.5v1.5h-1.5zM536.8 612.6h1.5v1.5h-1.5zM540.9 593.8h1.5v1.5h-1.5zM538.5 614.7h1.5v1.5h-1.5zM536.8 620.2h1.5v1.5h-1.5zM540.4 616.6h1.5v1.5h-1.5zM539.3 615.1h1.5v1.5h-1.5zM560.3 610.4h1.5v1.5h-1.5zM554.9 615.4h1.5v1.5h-1.5zM565.8 615.3h1.5v1.5h-1.5zM560.5 615.5h1.5v1.5h-1.5zM568.5 610.4h1.5v1.5h-1.5zM563.8 613.1h1.5v1.5h-1.5zM565.8 617.6h1.5v1.5h-1.5zM569.6 610.9h1.5v1.5h-1.5zM559.2 620.1h1.5v1.5h-1.5zM561.5 616.3h1.5v1.5h-1.5zM556.7 603.6h1.5v1.5h-1.5zM566.2 620.5h1.5v1.5h-1.5zM554.9 621.9h1.5v1.5h-1.5zM566.7 612.0h1.5v1.5h-1.5zM561.8 614.0h1.5v1.5h-1.5zM565.7 607.7h1.5v1.5h-1.5zM562.3 603.7h1.5v1.5h-1.5zM564.1 615.8h1.5v1.5h-1.5zM561.1 608.4h1.5v1.5h-1.5zM558.7 618.5h1.5v1.5h-1.5zM569.2 625.8h1.5v1.5h-1.5zM554.7 599.9h1.5v1.5h-1.5zM560.2 616.2h1.5v1.5h-1.5zM564.8 612.8h1.5v1.5h-1.5zM559.3 610.7h1.5v1.5h-1.5zM569.2 617.2h1.5v1.5h-1.5zM564.2 620.2h1.5v1.5h-1.5zM562.6 606.6h1.5v1.5h-1.5zM562.6 606.0h1.5v1.5h-1.5zM569.8 608.4h1.5v1.5h-1.5zM554.5 609.9h1.5v1.5h-1.5zM556.8 616.1h1.5v1.5h-1.5zM567.5 618.0h1.5v1.5h-1.5zM569.4 611.0h1.5v1.5h-1.5zM554.6 620.9h1.5v1.5h-1.5zM563.1 613.1h1.5v1.5h-1.5zM562.3 627.5h1.5v1.5h-1.5zM564.1 609.2h1.5v1.5h-1.5zM557.7 609.8h1.5v1.5h-1.5zM554.9 622.3h1.5v1.5h-1.5zM564.6 612.4h1.5v1.5h-1.5zM568.5 613.6h1.5v1.5h-1.5zM561.1 611.1h1.5v1.5h-1.5zM570.1 614.1h1.5v1.5h-1.5zM564.8 615.3h1.5v1.5h-1.5zM554.9 617.5h1.5v1.5h-1.5zM556.8 609.6h1.5v1.5h-1.5zM554.5 610.5h1.5v1.5h-1.5zM580.8 613.8h1.5v1.5h-1.5zM575.5 615.1h1.5v1.5h-1.5zM581.7 615.2h1.5v1.5h-1.5zM578.6 613.7h1.5v1.5h-1.5zM585.6 619.4h1.5v1.5h-1.5zM575.9 600.5h1.5v1.5h-1.5zM583.5 614.9h1.5v1.5h-1.5zM586.1 608.1h1.5v1.5h-1.5zM574.7 611.5h1.5v1.5h-1.5zM583.7 618.0h1.5v1.5h-1.5zM578.8 611.1h1.5v1.5h-1.5zM574.9 600.8h1.5v1.5h-1.5zM585.3 612.1h1.5v1.5h-1.5zM586.6 609.2h1.5v1.5h-1.5zM579.8 613.9h1.5v1.5h-1.5zM585.2 613.9h1.5v1.5h-1.5zM585.1 611.4h1.5v1.5h-1.5zM581.6 614.6h1.5v1.5h-1.5zM583.9 616.9h1.5v1.5h-1.5zM584.4 614.8h1.5v1.5h-1.5zM574.9 615.0h1.5v1.5h-1.5zM579.4 616.2h1.5v1.5h-1.5zM575.1 612.6h1.5v1.5h-1.5zM580.1 610.6h1.5v1.5h-1.5zM578.4 612.2h1.5v1.5h-1.5zM575.6 612.1h1.5v1.5h-1.5zM582.8 604.3h1.5v1.5h-1.5zM581.9 615.0h1.5v1.5h-1.5zM585.2 613.6h1.5v1.5h-1.5zM581.2 611.9h1.5v1.5h-1.5zM581.2 619.1h1.5v1.5h-1.5zM577.7 610.2h1.5v1.5h-1.5zM582.7 614.9h1.5v1.5h-1.5zM576.9 611.2h1.5v1.5h-1.5zM577.4 621.1h1.5v1.5h-1.5zM602.4 614.7h1.5v1.5h-1.5zM601.7 619.3h1.5v1.5h-1.5zM596.2 616.1h1.5v1.5h-1.5zM604.9 619.9h1.5v1.5h-1.5zM600.2 611.8h1.5v1.5h-1.5zM592.5 614.5h1.5v1.5h-1.5zM610.2 611.8h1.5v1.5h-1.5zM594.1 614.8h1.5v1.5h-1.5zM590.2 616.4h1.5v1.5h-1.5zM598.3 616.7h1.5v1.5h-1.5zM609.3 616.2h1.5v1.5h-1.5zM602.7 614.5h1.5v1.5h-1.5zM608.1 611.7h1.5v1.5h-1.5zM609.7 611.6h1.5v1.5h-1.5zM610.2 613.6h1.5v1.5h-1.5zM604.3 606.5h1.5v1.5h-1.5zM609.7 617.7h1.5v1.5h-1.5zM597.4 609.6h1.5v1.5h-1.5zM605.4 613.0h1.5v1.5h-1.5zM608.7 621.3h1.5v1.5h-1.5zM594.8 615.1h1.5v1.5h-1.5zM597.3 613.7h1.5v1.5h-1.5zM592.1 617.3h1.5v1.5h-1.5zM604.5 614.3h1.5v1.5h-1.5zM604.7 619.8h1.5v1.5h-1.5zM593.5 607.3h1.5v1.5h-1.5zM597.5 616.6h1.5v1.5h-1.5zM608.7 614.2h1.5v1.5h-1.5zM607.6 613.2h1.5v1.5h-1.5zM609.2 629.3h1.5v1.5h-1.5zM591.9 615.0h1.5v1.5h-1.5zM596.0 613.7h1.5v1.5h-1.5zM591.7 611.1h1.5v1.5h-1.5zM598.2 612.3h1.5v1.5h-1.5zM604.0 611.7h1.5v1.5h-1.5zM599.3 616.5h1.5v1.5h-1.5zM594.9 616.9h1.5v1.5h-1.5zM600.7 613.9h1.5v1.5h-1.5zM608.8 615.9h1.5v1.5h-1.5zM606.5 615.8h1.5v1.5h-1.5zM608.6 609.4h1.5v1.5h-1.5zM604.1 609.9h1.5v1.5h-1.5zM603.8 610.6h1.5v1.5h-1.5zM602.3 602.9h1.5v1.5h-1.5zM593.0 612.1h1.5v1.5h-1.5zM609.8 616.8h1.5v1.5h-1.5zM610.0 617.2h1.5v1.5h-1.5zM604.4 610.8h1.5v1.5h-1.5zM601.3 607.0h1.5v1.5h-1.5zM608.8 609.9h1.5v1.5h-1.5zM592.9 615.0h1.5v1.5h-1.5zM606.5 614.3h1.5v1.5h-1.5zM604.9 615.1h1.5v1.5h-1.5zM592.8 614.7h1.5v1.5h-1.5zM599.8 609.2h1.5v1.5h-1.5zM605.4 625.8h1.5v1.5h-1.5zM590.6 611.0h1.5v1.5h-1.5zM598.2 611.8h1.5v1.5h-1.5zM624.6 617.4h1.5v1.5h-1.5zM625.3 613.3h1.5v1.5h-1.5zM632.0 601.0h1.5v1.5h-1.5zM629.4 605.6h1.5v1.5h-1.5zM614.0 617.0h1.5v1.5h-1.5zM616.1 602.0h1.5v1.5h-1.5zM623.9 611.5h1.5v1.5h-1.5zM622.8 614.1h1.5v1.5h-1.5zM627.1 612.4h1.5v1.5h-1.5zM629.7 616.6h1.5v1.5h-1.5zM621.2 610.5h1.5v1.5h-1.5zM629.8 604.7h1.5v1.5h-1.5zM631.2 609.3h1.5v1.5h-1.5zM624.0 610.5h1.5v1.5h-1.5zM628.1 622.3h1.5v1.5h-1.5zM617.1 615.8h1.5v1.5h-1.5zM615.0 614.4h1.5v1.5h-1.5zM622.0 606.1h1.5v1.5h-1.5zM616.5 618.3h1.5v1.5h-1.5zM619.8 616.0h1.5v1.5h-1.5zM632.1 610.7h1.5v1.5h-1.5zM618.8 613.8h1.5v1.5h-1.5zM621.1 615.3h1.5v1.5h-1.5zM620.6 611.9h1.5v1.5h-1.5zM623.6 606.8h1.5v1.5h-1.5zM631.3 611.4h1.5v1.5h-1.5zM619.6 610.9h1.5v1.5h-1.5zM629.1 611.3h1.5v1.5h-1.5zM618.3 611.4h1.5v1.5h-1.5zM621.6 610.0h1.5v1.5h-1.5zM626.3 603.9h1.5v1.5h-1.5zM631.2 609.7h1.5v1.5h-1.5zM627.4 609.8h1.5v1.5h-1.5zM624.8 614.8h1.5v1.5h-1.5zM625.8 608.1h1.5v1.5h-1.5zM626.0 619.8h1.5v1.5h-1.5zM630.4 609.5h1.5v1.5h-1.5zM617.8 605.7h1.5v1.5h-1.5zM619.2 602.0h1.5v1.5h-1.5zM630.8 617.3h1.5v1.5h-1.5zM630.3 608.3h1.5v1.5h-1.5zM628.7 622.0h1.5v1.5h-1.5zM622.6 630.0h1.5v1.5h-1.5zM628.2 610.0h1.5v1.5h-1.5zM617.0 616.1h1.5v1.5h-1.5zM627.8 615.2h1.5v1.5h-1.5zM626.6 608.9h1.5v1.5h-1.5zM615.8 619.9h1.5v1.5h-1.5zM623.9 616.0h1.5v1.5h-1.5zM622.0 608.8h1.5v1.5h-1.5z" fill="#3445a6"/>
<text x="647.70" y="616.50" font-size="15.5" font-weight="bold" font-style="normal" text-anchor="start" fill="#000" >#15</text>
<line x1="372.9" y1="680.50" x2="634.4" y2="680.50" stroke="#7a7a7a" stroke-width="1.2"/>
<line x1="372.9" y1="701.50" x2="634.4" y2="701.50" stroke="#7a7a7a" stroke-width="1.2"/>
<line x1="372.9" y1="721.50" x2="634.4" y2="721.50" stroke="#7a7a7a" stroke-width="1.2"/>
<line x1="378.50" y1="660.5" x2="378.50" y2="742.3" stroke="#a0a0a0" stroke-width="1"/>
<line x1="378.50" y1="660" x2="378.50" y2="742.3" stroke="#3a3a3a" stroke-width="1" stroke-dasharray="1 1"/>
<line x1="397.50" y1="660.5" x2="397.50" y2="742.3" stroke="#a0a0a0" stroke-width="1"/>
<line x1="397.50" y1="660" x2="397.50" y2="742.3" stroke="#3a3a3a" stroke-width="1" stroke-dasharray="1 1"/>
<line x1="405.50" y1="660.5" x2="405.50" y2="742.3" stroke="#a0a0a0" stroke-width="1"/>
<line x1="405.50" y1="660" x2="405.50" y2="742.3" stroke="#3a3a3a" stroke-width="1" stroke-dasharray="1 1"/>
<line x1="435.50" y1="660.5" x2="435.50" y2="742.3" stroke="#a0a0a0" stroke-width="1"/>
<line x1="435.50" y1="660" x2="435.50" y2="742.3" stroke="#3a3a3a" stroke-width="1" stroke-dasharray="1 1"/>
<line x1="450.50" y1="660.5" x2="450.50" y2="742.3" stroke="#a0a0a0" stroke-width="1"/>
<line x1="450.50" y1="660" x2="450.50" y2="742.3" stroke="#3a3a3a" stroke-width="1" stroke-dasharray="1 1"/>
<line x1="457.50" y1="660.5" x2="457.50" y2="742.3" stroke="#a0a0a0" stroke-width="1"/>
<line x1="457.50" y1="660" x2="457.50" y2="742.3" stroke="#3a3a3a" stroke-width="1" stroke-dasharray="1 1"/>
<line x1="480.50" y1="660.5" x2="480.50" y2="742.3" stroke="#a0a0a0" stroke-width="1"/>
<line x1="480.50" y1="660" x2="480.50" y2="742.3" stroke="#3a3a3a" stroke-width="1" stroke-dasharray="1 1"/>
<line x1="491.50" y1="660.5" x2="491.50" y2="742.3" stroke="#a0a0a0" stroke-width="1"/>
<line x1="491.50" y1="660" x2="491.50" y2="742.3" stroke="#3a3a3a" stroke-width="1" stroke-dasharray="1 1"/>
<line x1="503.50" y1="660.5" x2="503.50" y2="742.3" stroke="#a0a0a0" stroke-width="1"/>
<line x1="503.50" y1="660" x2="503.50" y2="742.3" stroke="#3a3a3a" stroke-width="1" stroke-dasharray="1 1"/>
<line x1="516.50" y1="660.5" x2="516.50" y2="742.3" stroke="#a0a0a0" stroke-width="1"/>
<line x1="516.50" y1="660" x2="516.50" y2="742.3" stroke="#3a3a3a" stroke-width="1" stroke-dasharray="1 1"/>
<line x1="532.50" y1="660.5" x2="532.50" y2="742.3" stroke="#a0a0a0" stroke-width="1"/>
<line x1="532.50" y1="660" x2="532.50" y2="742.3" stroke="#3a3a3a" stroke-width="1" stroke-dasharray="1 1"/>
<line x1="553.50" y1="660.5" x2="553.50" y2="742.3" stroke="#a0a0a0" stroke-width="1"/>
<line x1="553.50" y1="660" x2="553.50" y2="742.3" stroke="#3a3a3a" stroke-width="1" stroke-dasharray="1 1"/>
<line x1="573.50" y1="660.5" x2="573.50" y2="742.3" stroke="#a0a0a0" stroke-width="1"/>
<line x1="573.50" y1="660" x2="573.50" y2="742.3" stroke="#3a3a3a" stroke-width="1" stroke-dasharray="1 1"/>
<line x1="588.50" y1="660.5" x2="588.50" y2="742.3" stroke="#a0a0a0" stroke-width="1"/>
<line x1="588.50" y1="660" x2="588.50" y2="742.3" stroke="#3a3a3a" stroke-width="1" stroke-dasharray="1 1"/>
<line x1="613.50" y1="660.5" x2="613.50" y2="742.3" stroke="#a0a0a0" stroke-width="1"/>
<line x1="613.50" y1="660" x2="613.50" y2="742.3" stroke="#3a3a3a" stroke-width="1" stroke-dasharray="1 1"/>
<rect x="372.9" y="660.5" width="261.5" height="81.8" fill="none" stroke="#444" stroke-width="1.1"/>
<path d="M374.7 698.6h1.5v1.5h-1.5zM373.5 698.9h1.5v1.5h-1.5zM375.5 702.9h1.5v1.5h-1.5zM376.0 705.4h1.5v1.5h-1.5zM374.9 698.5h1.5v1.5h-1.5zM374.5 696.2h1.5v1.5h-1.5zM374.3 716.7h1.5v1.5h-1.5zM375.3 698.0h1.5v1.5h-1.5zM373.9 695.2h1.5v1.5h-1.5zM375.8 700.3h1.5v1.5h-1.5zM375.3 703.2h1.5v1.5h-1.5zM375.5 701.1h1.5v1.5h-1.5zM375.3 679.9h1.5v1.5h-1.5zM373.6 697.8h1.5v1.5h-1.5zM389.3 702.9h1.5v1.5h-1.5zM392.9 701.7h1.5v1.5h-1.5zM386.4 708.5h1.5v1.5h-1.5zM383.6 699.0h1.5v1.5h-1.5zM393.8 699.6h1.5v1.5h-1.5zM391.4 700.3h1.5v1.5h-1.5zM387.2 701.2h1.5v1.5h-1.5zM395.6 706.1h1.5v1.5h-1.5zM390.6 702.5h1.5v1.5h-1.5zM380.6 700.7h1.5v1.5h-1.5zM382.8 699.7h1.5v1.5h-1.5zM380.5 696.3h1.5v1.5h-1.5zM383.0 705.7h1.5v1.5h-1.5zM381.5 703.3h1.5v1.5h-1.5zM384.8 702.0h1.5v1.5h-1.5zM390.9 700.7h1.5v1.5h-1.5zM394.5 702.3h1.5v1.5h-1.5zM387.3 698.2h1.5v1.5h-1.5zM387.6 704.6h1.5v1.5h-1.5zM386.8 703.2h1.5v1.5h-1.5zM391.8 704.3h1.5v1.5h-1.5zM384.4 705.6h1.5v1.5h-1.5zM393.5 698.2h1.5v1.5h-1.5zM389.7 699.1h1.5v1.5h-1.5zM390.0 705.1h1.5v1.5h-1.5zM391.8 704.1h1.5v1.5h-1.5zM394.9 706.5h1.5v1.5h-1.5zM385.0 705.4h1.5v1.5h-1.5zM390.4 711.7h1.5v1.5h-1.5zM387.4 697.9h1.5v1.5h-1.5zM380.2 707.4h1.5v1.5h-1.5zM391.2 698.2h1.5v1.5h-1.5zM394.6 697.0h1.5v1.5h-1.5zM390.1 703.2h1.5v1.5h-1.5zM379.9 695.6h1.5v1.5h-1.5zM394.6 705.6h1.5v1.5h-1.5zM386.7 695.9h1.5v1.5h-1.5zM381.2 702.4h1.5v1.5h-1.5zM379.0 705.5h1.5v1.5h-1.5zM393.0 695.6h1.5v1.5h-1.5zM386.1 690.5h1.5v1.5h-1.5zM386.7 698.8h1.5v1.5h-1.5zM385.0 695.3h1.5v1.5h-1.5zM393.0 705.0h1.5v1.5h-1.5zM393.1 703.0h1.5v1.5h-1.5zM389.7 696.4h1.5v1.5h-1.5zM380.3 695.0h1.5v1.5h-1.5zM384.1 702.3h1.5v1.5h-1.5zM389.9 706.3h1.5v1.5h-1.5zM388.3 704.3h1.5v1.5h-1.5zM384.4 703.3h1.5v1.5h-1.5zM390.0 700.9h1.5v1.5h-1.5zM387.5 698.5h1.5v1.5h-1.5zM385.4 700.8h1.5v1.5h-1.5zM402.0 704.4h1.5v1.5h-1.5zM398.4 703.1h1.5v1.5h-1.5zM399.5 694.1h1.5v1.5h-1.5zM401.2 702.5h1.5v1.5h-1.5zM401.6 698.6h1.5v1.5h-1.5zM402.3 705.4h1.5v1.5h-1.5zM400.2 706.3h1.5v1.5h-1.5zM398.4 699.7h1.5v1.5h-1.5zM398.6 700.6h1.5v1.5h-1.5zM402.9 700.9h1.5v1.5h-1.5zM398.7 702.0h1.5v1.5h-1.5zM402.7 693.7h1.5v1.5h-1.5zM402.1 702.2h1.5v1.5h-1.5zM398.5 701.5h1.5v1.5h-1.5zM401.2 701.3h1.5v1.5h-1.5zM400.3 702.2h1.5v1.5h-1.5zM399.4 698.9h1.5v1.5h-1.5zM399.8 698.8h1.5v1.5h-1.5zM398.3 700.8h1.5v1.5h-1.5zM398.8 698.4h1.5v1.5h-1.5zM415.3 700.3h1.5v1.5h-1.5zM414.2 702.2h1.5v1.5h-1.5zM432.2 703.6h1.5v1.5h-1.5zM424.8 700.2h1.5v1.5h-1.5zM430.1 702.6h1.5v1.5h-1.5zM413.8 700.1h1.5v1.5h-1.5zM423.2 699.2h1.5v1.5h-1.5zM416.9 701.4h1.5v1.5h-1.5zM426.8 699.4h1.5v1.5h-1.5zM429.4 698.8h1.5v1.5h-1.5zM421.8 698.9h1.5v1.5h-1.5zM424.8 702.4h1.5v1.5h-1.5zM425.4 699.3h1.5v1.5h-1.5zM432.6 695.5h1.5v1.5h-1.5zM405.7 699.2h1.5v1.5h-1.5zM416.3 706.8h1.5v1.5h-1.5zM431.8 688.7h1.5v1.5h-1.5zM430.0 699.2h1.5v1.5h-1.5zM412.0 688.3h1.5v1.5h-1.5zM426.8 703.3h1.5v1.5h-1.5zM407.3 705.0h1.5v1.5h-1.5zM425.8 697.8h1.5v1.5h-1.5zM414.6 706.0h1.5v1.5h-1.5zM409.4 696.0h1.5v1.5h-1.5zM418.1 705.5h1.5v1.5h-1.5zM417.8 704.6h1.5v1.5h-1.5zM412.5 685.3h1.5v1.5h-1.5zM406.9 696.2h1.5v1.5h-1.5zM412.3 705.0h1.5v1.5h-1.5zM432.5 703.5h1.5v1.5h-1.5zM426.4 705.1h1.5v1.5h-1.5zM416.4 700.7h1.5v1.5h-1.5zM406.6 698.2h1.5v1.5h-1.5zM418.3 702.7h1.5v1.5h-1.5zM426.2 702.4h1.5v1.5h-1.5zM432.3 698.2h1.5v1.5h-1.5zM428.3 701.2h1.5v1.5h-1.5zM416.5 696.4h1.5v1.5h-1.5zM415.2 703.0h1.5v1.5h-1.5zM407.7 704.3h1.5v1.5h-1.5zM429.7 699.3h1.5v1.5h-1.5zM421.8 703.0h1.5v1.5h-1.5zM411.2 703.5h1.5v1.5h-1.5zM417.0 691.4h1.5v1.5h-1.5zM424.9 695.9h1.5v1.5h-1.5zM410.3 702.1h1.5v1.5h-1.5zM422.8 700.6h1.5v1.5h-1.5zM407.0 701.2h1.5v1.5h-1.5zM418.4 700.8h1.5v1.5h-1.5zM407.8 700.6h1.5v1.5h-1.5zM414.1 697.5h1.5v1.5h-1.5zM414.0 697.6h1.5v1.5h-1.5zM430.8 695.7h1.5v1.5h-1.5zM409.7 698.1h1.5v1.5h-1.5zM423.0 691.5h1.5v1.5h-1.5zM414.9 662.1h1.5v1.5h-1.5zM406.0 697.6h1.5v1.5h-1.5zM411.2 696.5h1.5v1.5h-1.5zM430.5 708.7h1.5v1.5h-1.5zM432.0 697.9h1.5v1.5h-1.5zM429.6 700.3h1.5v1.5h-1.5zM430.2 702.3h1.5v1.5h-1.5zM424.3 698.8h1.5v1.5h-1.5zM423.4 673.1h1.5v1.5h-1.5zM432.2 700.5h1.5v1.5h-1.5zM426.1 700.1h1.5v1.5h-1.5zM418.5 701.8h1.5v1.5h-1.5zM409.0 701.4h1.5v1.5h-1.5zM409.2 698.9h1.5v1.5h-1.5zM407.3 695.1h1.5v1.5h-1.5zM417.2 698.2h1.5v1.5h-1.5zM420.1 701.4h1.5v1.5h-1.5zM419.8 699.4h1.5v1.5h-1.5zM422.9 700.5h1.5v1.5h-1.5zM431.1 697.3h1.5v1.5h-1.5zM413.6 705.6h1.5v1.5h-1.5zM419.6 703.4h1.5v1.5h-1.5zM410.5 696.2h1.5v1.5h-1.5zM412.8 703.8h1.5v1.5h-1.5zM417.0 693.3h1.5v1.5h-1.5zM422.2 696.5h1.5v1.5h-1.5zM429.9 700.3h1.5v1.5h-1.5zM414.2 702.1h1.5v1.5h-1.5zM430.8 701.8h1.5v1.5h-1.5zM442.2 691.4h1.5v1.5h-1.5zM440.9 704.7h1.5v1.5h-1.5zM443.7 694.3h1.5v1.5h-1.5zM441.0 699.9h1.5v1.5h-1.5zM439.1 695.4h1.5v1.5h-1.5zM442.4 701.2h1.5v1.5h-1.5zM440.3 694.6h1.5v1.5h-1.5zM438.8 705.6h1.5v1.5h-1.5zM438.8 697.5h1.5v1.5h-1.5zM439.9 700.0h1.5v1.5h-1.5zM443.5 700.9h1.5v1.5h-1.5zM442.9 699.7h1.5v1.5h-1.5zM438.4 702.2h1.5v1.5h-1.5zM442.3 705.7h1.5v1.5h-1.5zM438.2 701.4h1.5v1.5h-1.5zM440.6 707.7h1.5v1.5h-1.5zM437.4 697.6h1.5v1.5h-1.5zM444.2 700.1h1.5v1.5h-1.5zM445.4 703.4h1.5v1.5h-1.5zM441.2 704.1h1.5v1.5h-1.5zM438.6 700.2h1.5v1.5h-1.5zM436.4 700.9h1.5v1.5h-1.5zM442.0 708.4h1.5v1.5h-1.5zM440.3 708.2h1.5v1.5h-1.5zM447.8 697.5h1.5v1.5h-1.5zM438.5 696.2h1.5v1.5h-1.5zM444.5 704.0h1.5v1.5h-1.5zM445.0 705.6h1.5v1.5h-1.5zM446.2 708.3h1.5v1.5h-1.5zM443.4 701.9h1.5v1.5h-1.5zM439.2 703.2h1.5v1.5h-1.5zM439.9 696.8h1.5v1.5h-1.5zM440.3 703.6h1.5v1.5h-1.5zM445.1 705.7h1.5v1.5h-1.5zM436.6 708.7h1.5v1.5h-1.5zM446.7 699.6h1.5v1.5h-1.5zM438.4 701.1h1.5v1.5h-1.5zM436.1 701.3h1.5v1.5h-1.5zM447.1 701.5h1.5v1.5h-1.5zM437.7 698.8h1.5v1.5h-1.5zM447.6 701.2h1.5v1.5h-1.5zM437.4 701.2h1.5v1.5h-1.5zM452.7 701.2h1.5v1.5h-1.5zM451.9 701.9h1.5v1.5h-1.5zM453.9 695.0h1.5v1.5h-1.5zM453.4 693.5h1.5v1.5h-1.5zM452.4 701.0h1.5v1.5h-1.5zM454.3 701.7h1.5v1.5h-1.5zM452.3 702.5h1.5v1.5h-1.5zM453.8 697.2h1.5v1.5h-1.5zM452.8 699.2h1.5v1.5h-1.5zM452.2 716.8h1.5v1.5h-1.5zM451.3 702.7h1.5v1.5h-1.5zM453.1 699.4h1.5v1.5h-1.5zM451.5 709.9h1.5v1.5h-1.5zM454.9 694.6h1.5v1.5h-1.5zM451.9 700.4h1.5v1.5h-1.5zM451.9 697.7h1.5v1.5h-1.5zM451.1 702.8h1.5v1.5h-1.5zM454.4 702.3h1.5v1.5h-1.5zM453.3 699.7h1.5v1.5h-1.5zM474.1 701.4h1.5v1.5h-1.5zM458.5 700.7h1.5v1.5h-1.5zM472.3 702.8h1.5v1.5h-1.5zM472.9 697.0h1.5v1.5h-1.5zM459.7 700.2h1.5v1.5h-1.5zM469.9 698.0h1.5v1.5h-1.5zM476.5 699.3h1.5v1.5h-1.5zM461.5 707.6h1.5v1.5h-1.5zM471.1 700.8h1.5v1.5h-1.5zM465.7 692.6h1.5v1.5h-1.5zM476.0 695.9h1.5v1.5h-1.5zM463.5 701.6h1.5v1.5h-1.5zM469.9 700.5h1.5v1.5h-1.5zM460.0 698.9h1.5v1.5h-1.5zM460.2 696.8h1.5v1.5h-1.5zM465.2 688.7h1.5v1.5h-1.5zM470.6 705.2h1.5v1.5h-1.5zM459.9 700.3h1.5v1.5h-1.5zM477.6 701.6h1.5v1.5h-1.5zM477.5 698.0h1.5v1.5h-1.5zM461.2 693.5h1.5v1.5h-1.5zM464.5 698.3h1.5v1.5h-1.5zM461.1 694.8h1.5v1.5h-1.5zM466.1 704.7h1.5v1.5h-1.5zM477.2 702.1h1.5v1.5h-1.5zM464.3 702.4h1.5v1.5h-1.5zM469.4 699.3h1.5v1.5h-1.5zM476.0 711.2h1.5v1.5h-1.5zM476.5 704.8h1.5v1.5h-1.5zM475.8 698.9h1.5v1.5h-1.5zM458.9 712.9h1.5v1.5h-1.5zM471.5 700.4h1.5v1.5h-1.5zM470.1 712.3h1.5v1.5h-1.5zM472.0 692.9h1.5v1.5h-1.5zM475.0 713.1h1.5v1.5h-1.5zM472.2 699.7h1.5v1.5h-1.5zM465.6 698.1h1.5v1.5h-1.5zM471.6 701.7h1.5v1.5h-1.5zM476.1 697.9h1.5v1.5h-1.5zM476.5 705.3h1.5v1.5h-1.5zM477.5 691.4h1.5v1.5h-1.5zM473.9 699.5h1.5v1.5h-1.5zM471.1 701.1h1.5v1.5h-1.5zM473.0 701.7h1.5v1.5h-1.5zM463.3 703.0h1.5v1.5h-1.5zM475.0 699.1h1.5v1.5h-1.5zM467.6 703.7h1.5v1.5h-1.5zM471.0 692.1h1.5v1.5h-1.5zM475.7 691.2h1.5v1.5h-1.5zM469.8 707.8h1.5v1.5h-1.5zM466.2 702.6h1.5v1.5h-1.5zM477.3 702.2h1.5v1.5h-1.5zM459.7 709.5h1.5v1.5h-1.5zM474.7 700.7h1.5v1.5h-1.5zM468.2 699.1h1.5v1.5h-1.5zM475.0 696.9h1.5v1.5h-1.5zM461.2 701.8h1.5v1.5h-1.5zM475.0 698.9h1.5v1.5h-1.5zM472.0 697.3h1.5v1.5h-1.5zM462.7 696.3h1.5v1.5h-1.5zM474.2 692.8h1.5v1.5h-1.5zM472.9 696.3h1.5v1.5h-1.5zM471.0 696.6h1.5v1.5h-1.5zM473.9 705.2h1.5v1.5h-1.5zM458.8 710.1h1.5v1.5h-1.5zM485.8 701.8h1.5v1.5h-1.5zM482.5 705.4h1.5v1.5h-1.5zM489.4 696.7h1.5v1.5h-1.5zM486.0 708.8h1.5v1.5h-1.5zM484.2 703.3h1.5v1.5h-1.5zM482.5 700.0h1.5v1.5h-1.5zM486.5 702.8h1.5v1.5h-1.5zM484.8 700.6h1.5v1.5h-1.5zM489.2 699.9h1.5v1.5h-1.5zM482.5 700.0h1.5v1.5h-1.5zM484.8 698.6h1.5v1.5h-1.5zM489.3 697.8h1.5v1.5h-1.5zM484.4 690.6h1.5v1.5h-1.5zM484.9 703.6h1.5v1.5h-1.5zM489.6 703.5h1.5v1.5h-1.5zM484.8 695.2h1.5v1.5h-1.5zM484.0 698.8h1.5v1.5h-1.5zM482.1 696.8h1.5v1.5h-1.5zM486.9 702.0h1.5v1.5h-1.5zM485.0 702.6h1.5v1.5h-1.5zM481.4 707.9h1.5v1.5h-1.5zM485.8 705.2h1.5v1.5h-1.5zM488.8 703.8h1.5v1.5h-1.5zM483.7 700.4h1.5v1.5h-1.5zM481.9 701.2h1.5v1.5h-1.5zM487.9 704.5h1.5v1.5h-1.5zM482.4 702.6h1.5v1.5h-1.5zM487.7 700.7h1.5v1.5h-1.5zM484.1 705.8h1.5v1.5h-1.5zM488.9 700.9h1.5v1.5h-1.5zM487.4 692.1h1.5v1.5h-1.5zM492.6 699.5h1.5v1.5h-1.5zM494.5 699.8h1.5v1.5h-1.5zM494.4 721.2h1.5v1.5h-1.5zM492.6 699.4h1.5v1.5h-1.5zM498.0 701.5h1.5v1.5h-1.5zM497.2 700.4h1.5v1.5h-1.5zM496.2 703.9h1.5v1.5h-1.5zM493.6 702.1h1.5v1.5h-1.5zM494.6 698.5h1.5v1.5h-1.5zM495.1 701.5h1.5v1.5h-1.5zM493.7 699.9h1.5v1.5h-1.5zM496.0 701.4h1.5v1.5h-1.5zM498.8 696.9h1.5v1.5h-1.5zM497.5 696.3h1.5v1.5h-1.5zM493.4 700.6h1.5v1.5h-1.5zM499.6 700.0h1.5v1.5h-1.5zM500.6 706.3h1.5v1.5h-1.5zM499.8 699.2h1.5v1.5h-1.5zM494.3 692.2h1.5v1.5h-1.5zM497.2 716.6h1.5v1.5h-1.5zM495.4 699.5h1.5v1.5h-1.5zM494.1 693.4h1.5v1.5h-1.5zM495.3 702.4h1.5v1.5h-1.5zM495.9 704.1h1.5v1.5h-1.5zM496.3 698.5h1.5v1.5h-1.5zM495.7 704.4h1.5v1.5h-1.5zM496.2 698.1h1.5v1.5h-1.5zM498.2 711.4h1.5v1.5h-1.5zM494.0 695.2h1.5v1.5h-1.5zM499.2 700.2h1.5v1.5h-1.5zM496.0 698.8h1.5v1.5h-1.5zM512.6 695.6h1.5v1.5h-1.5zM509.3 702.8h1.5v1.5h-1.5zM511.2 696.3h1.5v1.5h-1.5zM510.7 700.3h1.5v1.5h-1.5zM504.4 702.0h1.5v1.5h-1.5zM503.8 699.0h1.5v1.5h-1.5zM508.3 691.8h1.5v1.5h-1.5zM507.8 700.6h1.5v1.5h-1.5zM506.8 699.2h1.5v1.5h-1.5zM507.1 699.6h1.5v1.5h-1.5zM512.0 699.1h1.5v1.5h-1.5zM503.9 703.8h1.5v1.5h-1.5zM506.5 701.9h1.5v1.5h-1.5zM505.5 702.9h1.5v1.5h-1.5zM512.0 701.1h1.5v1.5h-1.5zM508.5 697.5h1.5v1.5h-1.5zM506.7 697.8h1.5v1.5h-1.5zM507.8 689.9h1.5v1.5h-1.5zM507.6 703.7h1.5v1.5h-1.5zM512.9 704.3h1.5v1.5h-1.5zM506.0 701.0h1.5v1.5h-1.5zM509.4 695.9h1.5v1.5h-1.5zM512.0 703.4h1.5v1.5h-1.5zM505.7 699.3h1.5v1.5h-1.5zM507.2 696.7h1.5v1.5h-1.5zM508.4 698.9h1.5v1.5h-1.5zM513.6 704.5h1.5v1.5h-1.5zM511.1 698.5h1.5v1.5h-1.5zM506.1 699.1h1.5v1.5h-1.5zM511.4 697.0h1.5v1.5h-1.5zM503.8 696.9h1.5v1.5h-1.5zM504.4 697.6h1.5v1.5h-1.5zM511.3 703.5h1.5v1.5h-1.5zM507.0 701.1h1.5v1.5h-1.5zM510.8 698.2h1.5v1.5h-1.5zM504.4 703.2h1.5v1.5h-1.5zM518.9 692.7h1.5v1.5h-1.5zM520.0 697.3h1.5v1.5h-1.5zM518.3 701.1h1.5v1.5h-1.5zM518.4 703.5h1.5v1.5h-1.5zM528.1 696.5h1.5v1.5h-1.5zM521.7 708.9h1.5v1.5h-1.5zM519.7 691.3h1.5v1.5h-1.5zM521.6 709.0h1.5v1.5h-1.5zM524.0 698.7h1.5v1.5h-1.5zM527.8 693.8h1.5v1.5h-1.5zM518.3 696.2h1.5v1.5h-1.5zM518.3 703.5h1.5v1.5h-1.5zM526.7 696.6h1.5v1.5h-1.5zM525.5 690.9h1.5v1.5h-1.5zM520.2 701.1h1.5v1.5h-1.5zM521.7 704.6h1.5v1.5h-1.5zM521.6 699.2h1.5v1.5h-1.5zM525.0 702.1h1.5v1.5h-1.5zM519.9 698.2h1.5v1.5h-1.5zM527.5 695.9h1.5v1.5h-1.5zM519.4 702.2h1.5v1.5h-1.5zM527.4 681.2h1.5v1.5h-1.5zM519.3 700.1h1.5v1.5h-1.5zM519.8 696.6h1.5v1.5h-1.5zM522.0 704.1h1.5v1.5h-1.5zM521.5 707.0h1.5v1.5h-1.5zM517.3 698.1h1.5v1.5h-1.5zM521.4 703.2h1.5v1.5h-1.5zM525.6 712.1h1.5v1.5h-1.5zM521.5 696.0h1.5v1.5h-1.5zM519.6 708.0h1.5v1.5h-1.5zM520.4 705.9h1.5v1.5h-1.5zM525.0 700.8h1.5v1.5h-1.5zM517.0 703.9h1.5v1.5h-1.5zM520.1 711.0h1.5v1.5h-1.5zM528.1 708.7h1.5v1.5h-1.5zM524.9 695.0h1.5v1.5h-1.5zM519.3 699.4h1.5v1.5h-1.5zM521.5 698.4h1.5v1.5h-1.5zM525.1 713.9h1.5v1.5h-1.5zM517.9 696.4h1.5v1.5h-1.5zM525.1 690.7h1.5v1.5h-1.5zM523.3 705.5h1.5v1.5h-1.5zM526.9 708.0h1.5v1.5h-1.5zM536.8 705.1h1.5v1.5h-1.5zM551.0 698.4h1.5v1.5h-1.5zM534.4 699.0h1.5v1.5h-1.5zM546.7 705.1h1.5v1.5h-1.5zM545.8 702.7h1.5v1.5h-1.5zM550.3 707.9h1.5v1.5h-1.5zM540.3 693.9h1.5v1.5h-1.5zM551.3 701.3h1.5v1.5h-1.5zM540.5 698.3h1.5v1.5h-1.5zM546.9 699.6h1.5v1.5h-1.5zM535.0 705.8h1.5v1.5h-1.5zM551.1 699.8h1.5v1.5h-1.5zM537.3 699.0h1.5v1.5h-1.5zM545.3 703.5h1.5v1.5h-1.5zM540.1 699.5h1.5v1.5h-1.5zM543.8 702.4h1.5v1.5h-1.5zM551.6 700.5h1.5v1.5h-1.5zM551.4 701.7h1.5v1.5h-1.5zM549.4 698.1h1.5v1.5h-1.5zM535.5 703.1h1.5v1.5h-1.5zM544.4 698.6h1.5v1.5h-1.5zM551.5 688.2h1.5v1.5h-1.5zM549.8 699.5h1.5v1.5h-1.5zM538.8 696.7h1.5v1.5h-1.5zM550.8 697.6h1.5v1.5h-1.5zM538.1 706.8h1.5v1.5h-1.5zM545.0 701.8h1.5v1.5h-1.5zM536.9 699.9h1.5v1.5h-1.5zM542.6 693.3h1.5v1.5h-1.5zM535.3 698.3h1.5v1.5h-1.5zM551.5 678.9h1.5v1.5h-1.5zM546.9 696.9h1.5v1.5h-1.5zM537.5 690.4h1.5v1.5h-1.5zM539.8 698.8h1.5v1.5h-1.5zM544.9 691.3h1.5v1.5h-1.5zM550.2 704.0h1.5v1.5h-1.5zM547.6 697.6h1.5v1.5h-1.5zM547.4 696.1h1.5v1.5h-1.5zM544.9 693.3h1.5v1.5h-1.5zM540.1 703.7h1.5v1.5h-1.5zM539.1 703.4h1.5v1.5h-1.5zM541.9 698.4h1.5v1.5h-1.5zM537.7 703.2h1.5v1.5h-1.5zM533.5 699.4h1.5v1.5h-1.5zM544.2 694.1h1.5v1.5h-1.5zM538.3 701.3h1.5v1.5h-1.5zM537.5 703.2h1.5v1.5h-1.5zM549.8 696.9h1.5v1.5h-1.5zM544.3 695.2h1.5v1.5h-1.5zM546.1 709.0h1.5v1.5h-1.5zM536.3 697.0h1.5v1.5h-1.5zM539.1 706.1h1.5v1.5h-1.5zM535.1 706.0h1.5v1.5h-1.5zM542.2 705.7h1.5v1.5h-1.5zM535.9 700.5h1.5v1.5h-1.5zM551.3 695.0h1.5v1.5h-1.5zM536.0 689.0h1.5v1.5h-1.5zM535.8 709.0h1.5v1.5h-1.5zM549.1 698.9h1.5v1.5h-1.5zM551.1 700.2h1.5v1.5h-1.5zM563.4 698.9h1.5v1.5h-1.5zM554.6 696.1h1.5v1.5h-1.5zM568.9 700.3h1.5v1.5h-1.5zM561.2 700.3h1.5v1.5h-1.5zM559.9 692.4h1.5v1.5h-1.5zM554.9 700.1h1.5v1.5h-1.5zM567.8 701.4h1.5v1.5h-1.5zM571.7 703.5h1.5v1.5h-1.5zM561.6 696.8h1.5v1.5h-1.5zM561.9 700.9h1.5v1.5h-1.5zM555.4 687.8h1.5v1.5h-1.5zM561.8 702.3h1.5v1.5h-1.5zM562.2 700.3h1.5v1.5h-1.5zM554.5 698.0h1.5v1.5h-1.5zM565.2 698.3h1.5v1.5h-1.5zM565.8 699.5h1.5v1.5h-1.5zM560.2 701.7h1.5v1.5h-1.5zM554.5 695.6h1.5v1.5h-1.5zM559.9 703.4h1.5v1.5h-1.5zM554.9 708.7h1.5v1.5h-1.5zM558.8 698.2h1.5v1.5h-1.5zM567.0 704.1h1.5v1.5h-1.5zM570.2 701.1h1.5v1.5h-1.5zM564.1 697.8h1.5v1.5h-1.5zM555.3 698.7h1.5v1.5h-1.5zM562.8 701.8h1.5v1.5h-1.5zM569.6 701.0h1.5v1.5h-1.5zM555.1 698.6h1.5v1.5h-1.5zM557.4 704.4h1.5v1.5h-1.5zM569.8 703.4h1.5v1.5h-1.5zM559.4 694.0h1.5v1.5h-1.5zM558.2 703.5h1.5v1.5h-1.5zM555.9 705.4h1.5v1.5h-1.5zM554.5 701.8h1.5v1.5h-1.5zM561.3 699.2h1.5v1.5h-1.5zM561.9 702.8h1.5v1.5h-1.5zM555.0 702.2h1.5v1.5h-1.5zM565.9 711.8h1.5v1.5h-1.5zM567.2 699.2h1.5v1.5h-1.5zM558.1 708.5h1.5v1.5h-1.5zM567.0 699.5h1.5v1.5h-1.5zM566.5 689.7h1.5v1.5h-1.5zM571.8 708.6h1.5v1.5h-1.5zM569.4 704.5h1.5v1.5h-1.5zM560.2 703.4h1.5v1.5h-1.5zM558.9 704.0h1.5v1.5h-1.5zM561.4 699.3h1.5v1.5h-1.5zM571.4 699.0h1.5v1.5h-1.5zM563.1 697.0h1.5v1.5h-1.5zM566.1 688.6h1.5v1.5h-1.5zM569.2 702.7h1.5v1.5h-1.5zM564.5 702.2h1.5v1.5h-1.5zM567.2 705.2h1.5v1.5h-1.5zM567.3 698.6h1.5v1.5h-1.5zM560.4 699.1h1.5v1.5h-1.5zM556.2 713.5h1.5v1.5h-1.5zM578.8 699.0h1.5v1.5h-1.5zM583.4 668.4h1.5v1.5h-1.5zM575.6 707.9h1.5v1.5h-1.5zM575.1 700.8h1.5v1.5h-1.5zM582.9 701.4h1.5v1.5h-1.5zM574.5 698.4h1.5v1.5h-1.5zM581.0 703.4h1.5v1.5h-1.5zM586.3 700.5h1.5v1.5h-1.5zM584.5 687.5h1.5v1.5h-1.5zM581.0 699.1h1.5v1.5h-1.5zM580.6 705.5h1.5v1.5h-1.5zM575.5 696.3h1.5v1.5h-1.5zM582.7 702.5h1.5v1.5h-1.5zM580.3 693.0h1.5v1.5h-1.5zM580.5 698.7h1.5v1.5h-1.5zM574.8 697.9h1.5v1.5h-1.5zM582.3 703.7h1.5v1.5h-1.5zM575.0 699.2h1.5v1.5h-1.5zM574.6 702.7h1.5v1.5h-1.5zM575.0 705.4h1.5v1.5h-1.5zM585.0 699.0h1.5v1.5h-1.5zM580.6 699.5h1.5v1.5h-1.5zM582.3 699.9h1.5v1.5h-1.5zM585.9 703.2h1.5v1.5h-1.5zM585.1 705.6h1.5v1.5h-1.5zM574.8 690.1h1.5v1.5h-1.5zM575.1 698.0h1.5v1.5h-1.5zM575.6 698.7h1.5v1.5h-1.5zM580.3 710.1h1.5v1.5h-1.5zM578.1 701.2h1.5v1.5h-1.5zM586.0 700.1h1.5v1.5h-1.5zM583.9 696.9h1.5v1.5h-1.5zM577.8 700.0h1.5v1.5h-1.5zM577.5 699.6h1.5v1.5h-1.5zM577.6 692.7h1.5v1.5h-1.5zM579.3 698.8h1.5v1.5h-1.5zM575.1 706.3h1.5v1.5h-1.5zM584.0 692.0h1.5v1.5h-1.5zM577.1 679.6h1.5v1.5h-1.5zM583.1 699.1h1.5v1.5h-1.5zM575.2 704.0h1.5v1.5h-1.5zM609.5 703.8h1.5v1.5h-1.5zM591.0 699.5h1.5v1.5h-1.5zM607.2 698.5h1.5v1.5h-1.5zM593.2 703.5h1.5v1.5h-1.5zM609.9 701.3h1.5v1.5h-1.5zM591.4 694.6h1.5v1.5h-1.5zM595.0 699.0h1.5v1.5h-1.5zM592.1 696.3h1.5v1.5h-1.5zM601.0 704.6h1.5v1.5h-1.5zM593.6 700.7h1.5v1.5h-1.5zM600.7 701.4h1.5v1.5h-1.5zM595.8 686.2h1.5v1.5h-1.5zM607.1 700.5h1.5v1.5h-1.5zM607.3 700.5h1.5v1.5h-1.5zM605.2 702.0h1.5v1.5h-1.5zM608.0 692.5h1.5v1.5h-1.5zM603.2 699.7h1.5v1.5h-1.5zM604.2 700.7h1.5v1.5h-1.5zM595.4 694.4h1.5v1.5h-1.5zM608.9 695.1h1.5v1.5h-1.5zM600.0 697.9h1.5v1.5h-1.5zM600.8 699.6h1.5v1.5h-1.5zM606.9 696.6h1.5v1.5h-1.5zM593.2 702.1h1.5v1.5h-1.5zM593.3 702.1h1.5v1.5h-1.5zM607.9 697.7h1.5v1.5h-1.5zM601.0 702.1h1.5v1.5h-1.5zM596.3 695.8h1.5v1.5h-1.5zM607.7 700.3h1.5v1.5h-1.5zM599.6 690.9h1.5v1.5h-1.5zM598.7 700.4h1.5v1.5h-1.5zM596.4 700.9h1.5v1.5h-1.5zM601.8 696.4h1.5v1.5h-1.5zM598.5 702.8h1.5v1.5h-1.5zM601.2 704.3h1.5v1.5h-1.5zM602.4 697.7h1.5v1.5h-1.5zM591.5 696.8h1.5v1.5h-1.5zM590.8 704.6h1.5v1.5h-1.5zM592.5 705.4h1.5v1.5h-1.5zM597.3 699.9h1.5v1.5h-1.5zM604.3 698.2h1.5v1.5h-1.5zM601.1 696.4h1.5v1.5h-1.5zM608.6 702.0h1.5v1.5h-1.5zM590.0 703.7h1.5v1.5h-1.5zM608.5 703.1h1.5v1.5h-1.5zM600.3 697.1h1.5v1.5h-1.5zM595.6 700.8h1.5v1.5h-1.5zM595.2 695.3h1.5v1.5h-1.5zM603.2 691.3h1.5v1.5h-1.5zM598.6 697.2h1.5v1.5h-1.5zM605.1 701.0h1.5v1.5h-1.5zM593.9 704.1h1.5v1.5h-1.5zM590.6 702.0h1.5v1.5h-1.5zM602.1 707.6h1.5v1.5h-1.5zM602.6 703.6h1.5v1.5h-1.5zM601.4 700.3h1.5v1.5h-1.5zM596.9 703.5h1.5v1.5h-1.5zM595.1 698.2h1.5v1.5h-1.5zM597.8 673.6h1.5v1.5h-1.5zM594.3 701.0h1.5v1.5h-1.5zM600.7 699.4h1.5v1.5h-1.5zM590.1 706.2h1.5v1.5h-1.5zM605.1 696.9h1.5v1.5h-1.5zM598.4 700.5h1.5v1.5h-1.5zM602.8 696.9h1.5v1.5h-1.5zM595.8 701.5h1.5v1.5h-1.5zM605.3 696.7h1.5v1.5h-1.5zM592.4 699.0h1.5v1.5h-1.5zM622.1 699.0h1.5v1.5h-1.5zM627.1 700.7h1.5v1.5h-1.5zM620.9 700.5h1.5v1.5h-1.5zM626.0 693.3h1.5v1.5h-1.5zM616.2 698.7h1.5v1.5h-1.5zM617.8 711.6h1.5v1.5h-1.5zM630.6 701.9h1.5v1.5h-1.5zM623.9 703.8h1.5v1.5h-1.5zM626.5 702.1h1.5v1.5h-1.5zM630.7 698.4h1.5v1.5h-1.5zM621.2 700.9h1.5v1.5h-1.5zM623.8 698.9h1.5v1.5h-1.5zM631.5 701.5h1.5v1.5h-1.5zM619.2 699.8h1.5v1.5h-1.5zM623.1 700.5h1.5v1.5h-1.5zM630.5 708.2h1.5v1.5h-1.5zM628.9 701.8h1.5v1.5h-1.5zM625.7 704.4h1.5v1.5h-1.5zM614.2 700.7h1.5v1.5h-1.5zM626.5 701.7h1.5v1.5h-1.5zM618.5 704.6h1.5v1.5h-1.5zM625.4 698.0h1.5v1.5h-1.5zM614.6 691.2h1.5v1.5h-1.5zM620.0 700.6h1.5v1.5h-1.5zM620.5 705.2h1.5v1.5h-1.5zM618.6 703.2h1.5v1.5h-1.5zM620.4 698.0h1.5v1.5h-1.5zM621.5 705.6h1.5v1.5h-1.5zM620.5 702.4h1.5v1.5h-1.5zM622.7 702.3h1.5v1.5h-1.5zM626.5 701.4h1.5v1.5h-1.5zM620.5 697.3h1.5v1.5h-1.5zM615.3 698.5h1.5v1.5h-1.5zM620.9 707.7h1.5v1.5h-1.5zM629.5 703.9h1.5v1.5h-1.5zM622.5 699.2h1.5v1.5h-1.5zM618.2 688.0h1.5v1.5h-1.5zM625.3 702.6h1.5v1.5h-1.5zM614.9 698.3h1.5v1.5h-1.5zM619.1 698.2h1.5v1.5h-1.5zM622.8 692.8h1.5v1.5h-1.5zM614.5 707.2h1.5v1.5h-1.5zM621.6 698.3h1.5v1.5h-1.5zM631.8 702.9h1.5v1.5h-1.5zM621.5 698.5h1.5v1.5h-1.5zM621.8 705.9h1.5v1.5h-1.5zM614.4 694.7h1.5v1.5h-1.5zM614.4 700.5h1.5v1.5h-1.5zM628.9 702.4h1.5v1.5h-1.5zM626.9 696.3h1.5v1.5h-1.5zM629.3 697.9h1.5v1.5h-1.5zM627.7 696.1h1.5v1.5h-1.5zM625.4 703.3h1.5v1.5h-1.5zM621.0 702.9h1.5v1.5h-1.5zM629.5 707.2h1.5v1.5h-1.5zM622.9 701.2h1.5v1.5h-1.5zM621.9 698.0h1.5v1.5h-1.5zM618.9 698.1h1.5v1.5h-1.5zM629.6 696.6h1.5v1.5h-1.5z" fill="#3445a6"/>
<text x="647.70" y="704.00" font-size="15.5" font-weight="bold" font-style="normal" text-anchor="start" fill="#000" >#23</text>
<line x1="372.9" y1="767.50" x2="634.4" y2="767.50" stroke="#7a7a7a" stroke-width="1.2"/>
<line x1="372.9" y1="788.50" x2="634.4" y2="788.50" stroke="#7a7a7a" stroke-width="1.2"/>
<line x1="372.9" y1="808.50" x2="634.4" y2="808.50" stroke="#7a7a7a" stroke-width="1.2"/>
<line x1="378.50" y1="747.2" x2="378.50" y2="829.0" stroke="#a0a0a0" stroke-width="1"/>
<line x1="378.50" y1="747" x2="378.50" y2="829.0" stroke="#3a3a3a" stroke-width="1" stroke-dasharray="1 1"/>
<line x1="397.50" y1="747.2" x2="397.50" y2="829.0" stroke="#a0a0a0" stroke-width="1"/>
<line x1="397.50" y1="747" x2="397.50" y2="829.0" stroke="#3a3a3a" stroke-width="1" stroke-dasharray="1 1"/>
<line x1="405.50" y1="747.2" x2="405.50" y2="829.0" stroke="#a0a0a0" stroke-width="1"/>
<line x1="405.50" y1="747" x2="405.50" y2="829.0" stroke="#3a3a3a" stroke-width="1" stroke-dasharray="1 1"/>
<line x1="435.50" y1="747.2" x2="435.50" y2="829.0" stroke="#a0a0a0" stroke-width="1"/>
<line x1="435.50" y1="747" x2="435.50" y2="829.0" stroke="#3a3a3a" stroke-width="1" stroke-dasharray="1 1"/>
<line x1="450.50" y1="747.2" x2="450.50" y2="829.0" stroke="#a0a0a0" stroke-width="1"/>
<line x1="450.50" y1="747" x2="450.50" y2="829.0" stroke="#3a3a3a" stroke-width="1" stroke-dasharray="1 1"/>
<line x1="457.50" y1="747.2" x2="457.50" y2="829.0" stroke="#a0a0a0" stroke-width="1"/>
<line x1="457.50" y1="747" x2="457.50" y2="829.0" stroke="#3a3a3a" stroke-width="1" stroke-dasharray="1 1"/>
<line x1="480.50" y1="747.2" x2="480.50" y2="829.0" stroke="#a0a0a0" stroke-width="1"/>
<line x1="480.50" y1="747" x2="480.50" y2="829.0" stroke="#3a3a3a" stroke-width="1" stroke-dasharray="1 1"/>
<line x1="491.50" y1="747.2" x2="491.50" y2="829.0" stroke="#a0a0a0" stroke-width="1"/>
<line x1="491.50" y1="747" x2="491.50" y2="829.0" stroke="#3a3a3a" stroke-width="1" stroke-dasharray="1 1"/>
<line x1="503.50" y1="747.2" x2="503.50" y2="829.0" stroke="#a0a0a0" stroke-width="1"/>
<line x1="503.50" y1="747" x2="503.50" y2="829.0" stroke="#3a3a3a" stroke-width="1" stroke-dasharray="1 1"/>
<line x1="516.50" y1="747.2" x2="516.50" y2="829.0" stroke="#a0a0a0" stroke-width="1"/>
<line x1="516.50" y1="747" x2="516.50" y2="829.0" stroke="#3a3a3a" stroke-width="1" stroke-dasharray="1 1"/>
<line x1="532.50" y1="747.2" x2="532.50" y2="829.0" stroke="#a0a0a0" stroke-width="1"/>
<line x1="532.50" y1="747" x2="532.50" y2="829.0" stroke="#3a3a3a" stroke-width="1" stroke-dasharray="1 1"/>
<line x1="553.50" y1="747.2" x2="553.50" y2="829.0" stroke="#a0a0a0" stroke-width="1"/>
<line x1="553.50" y1="747" x2="553.50" y2="829.0" stroke="#3a3a3a" stroke-width="1" stroke-dasharray="1 1"/>
<line x1="573.50" y1="747.2" x2="573.50" y2="829.0" stroke="#a0a0a0" stroke-width="1"/>
<line x1="573.50" y1="747" x2="573.50" y2="829.0" stroke="#3a3a3a" stroke-width="1" stroke-dasharray="1 1"/>
<line x1="588.50" y1="747.2" x2="588.50" y2="829.0" stroke="#a0a0a0" stroke-width="1"/>
<line x1="588.50" y1="747" x2="588.50" y2="829.0" stroke="#3a3a3a" stroke-width="1" stroke-dasharray="1 1"/>
<line x1="613.50" y1="747.2" x2="613.50" y2="829.0" stroke="#a0a0a0" stroke-width="1"/>
<line x1="613.50" y1="747" x2="613.50" y2="829.0" stroke="#3a3a3a" stroke-width="1" stroke-dasharray="1 1"/>
<rect x="372.9" y="747.2" width="261.5" height="81.8" fill="none" stroke="#444" stroke-width="1.1"/>
<path d="M380.0 778.4h1.5v1.5h-1.5zM386.4 797.9h1.5v1.5h-1.5zM387.5 793.1h1.5v1.5h-1.5zM388.2 791.6h1.5v1.5h-1.5zM387.2 791.7h1.5v1.5h-1.5zM384.7 785.1h1.5v1.5h-1.5zM379.3 784.0h1.5v1.5h-1.5zM387.1 783.1h1.5v1.5h-1.5zM393.2 779.9h1.5v1.5h-1.5zM384.3 785.8h1.5v1.5h-1.5zM393.3 785.6h1.5v1.5h-1.5zM379.9 787.6h1.5v1.5h-1.5zM383.8 789.2h1.5v1.5h-1.5zM383.5 785.3h1.5v1.5h-1.5zM389.3 785.6h1.5v1.5h-1.5zM383.4 791.1h1.5v1.5h-1.5zM393.7 795.4h1.5v1.5h-1.5zM381.4 788.8h1.5v1.5h-1.5zM384.0 790.8h1.5v1.5h-1.5zM383.3 784.8h1.5v1.5h-1.5zM380.6 790.2h1.5v1.5h-1.5zM389.5 791.1h1.5v1.5h-1.5zM389.2 788.1h1.5v1.5h-1.5zM380.6 784.7h1.5v1.5h-1.5zM393.1 778.8h1.5v1.5h-1.5zM380.5 774.1h1.5v1.5h-1.5zM395.4 787.6h1.5v1.5h-1.5zM388.3 788.2h1.5v1.5h-1.5zM384.0 783.8h1.5v1.5h-1.5zM379.2 782.0h1.5v1.5h-1.5zM394.1 785.2h1.5v1.5h-1.5zM385.6 783.3h1.5v1.5h-1.5zM391.9 783.1h1.5v1.5h-1.5zM383.0 786.5h1.5v1.5h-1.5zM390.4 782.6h1.5v1.5h-1.5zM385.7 783.9h1.5v1.5h-1.5zM382.3 784.0h1.5v1.5h-1.5zM381.0 786.3h1.5v1.5h-1.5zM384.4 787.9h1.5v1.5h-1.5zM394.3 787.8h1.5v1.5h-1.5zM395.3 788.1h1.5v1.5h-1.5zM390.5 786.2h1.5v1.5h-1.5zM380.4 789.6h1.5v1.5h-1.5zM384.2 793.8h1.5v1.5h-1.5zM388.8 781.5h1.5v1.5h-1.5zM389.0 798.0h1.5v1.5h-1.5zM390.7 786.3h1.5v1.5h-1.5zM386.4 794.2h1.5v1.5h-1.5zM385.9 789.0h1.5v1.5h-1.5zM386.4 778.3h1.5v1.5h-1.5zM384.6 797.2h1.5v1.5h-1.5zM392.7 787.7h1.5v1.5h-1.5zM390.6 788.3h1.5v1.5h-1.5zM379.4 785.5h1.5v1.5h-1.5zM402.3 789.2h1.5v1.5h-1.5zM399.7 786.6h1.5v1.5h-1.5zM399.4 788.3h1.5v1.5h-1.5zM399.9 780.7h1.5v1.5h-1.5zM400.4 788.0h1.5v1.5h-1.5zM402.4 787.7h1.5v1.5h-1.5zM402.0 795.0h1.5v1.5h-1.5zM402.5 782.8h1.5v1.5h-1.5zM402.6 782.4h1.5v1.5h-1.5zM402.8 785.0h1.5v1.5h-1.5zM402.7 777.7h1.5v1.5h-1.5zM400.1 783.1h1.5v1.5h-1.5zM399.2 789.2h1.5v1.5h-1.5zM399.9 789.1h1.5v1.5h-1.5zM401.8 782.8h1.5v1.5h-1.5zM402.9 784.3h1.5v1.5h-1.5zM402.6 795.2h1.5v1.5h-1.5zM399.8 784.1h1.5v1.5h-1.5zM401.8 787.7h1.5v1.5h-1.5zM398.8 782.1h1.5v1.5h-1.5zM424.5 784.9h1.5v1.5h-1.5zM432.7 792.8h1.5v1.5h-1.5zM407.6 784.4h1.5v1.5h-1.5zM407.7 785.6h1.5v1.5h-1.5zM424.2 796.2h1.5v1.5h-1.5zM416.5 783.5h1.5v1.5h-1.5zM420.0 774.9h1.5v1.5h-1.5zM407.3 781.3h1.5v1.5h-1.5zM410.9 793.6h1.5v1.5h-1.5zM425.5 785.8h1.5v1.5h-1.5zM411.7 788.4h1.5v1.5h-1.5zM431.5 792.9h1.5v1.5h-1.5zM424.3 787.5h1.5v1.5h-1.5zM407.6 786.2h1.5v1.5h-1.5zM431.1 783.0h1.5v1.5h-1.5zM430.5 788.9h1.5v1.5h-1.5zM412.5 788.9h1.5v1.5h-1.5zM410.8 786.6h1.5v1.5h-1.5zM427.2 784.5h1.5v1.5h-1.5zM422.4 800.2h1.5v1.5h-1.5zM414.4 777.2h1.5v1.5h-1.5zM412.4 782.6h1.5v1.5h-1.5zM407.4 787.9h1.5v1.5h-1.5zM418.1 797.8h1.5v1.5h-1.5zM433.0 773.0h1.5v1.5h-1.5zM417.3 785.2h1.5v1.5h-1.5zM415.3 789.1h1.5v1.5h-1.5zM412.4 789.2h1.5v1.5h-1.5zM415.9 778.1h1.5v1.5h-1.5zM412.3 784.3h1.5v1.5h-1.5zM423.7 783.5h1.5v1.5h-1.5zM429.7 790.8h1.5v1.5h-1.5zM418.4 788.3h1.5v1.5h-1.5zM423.6 779.8h1.5v1.5h-1.5zM418.9 786.2h1.5v1.5h-1.5zM427.0 786.9h1.5v1.5h-1.5zM410.6 790.9h1.5v1.5h-1.5zM426.6 787.5h1.5v1.5h-1.5zM422.1 789.8h1.5v1.5h-1.5zM422.2 778.1h1.5v1.5h-1.5zM418.6 792.7h1.5v1.5h-1.5zM411.2 785.1h1.5v1.5h-1.5zM405.8 788.0h1.5v1.5h-1.5zM430.1 786.6h1.5v1.5h-1.5zM413.0 785.2h1.5v1.5h-1.5zM428.0 780.0h1.5v1.5h-1.5zM424.9 785.8h1.5v1.5h-1.5zM407.3 787.1h1.5v1.5h-1.5zM413.6 794.5h1.5v1.5h-1.5zM407.6 791.4h1.5v1.5h-1.5zM429.1 785.0h1.5v1.5h-1.5zM409.4 785.0h1.5v1.5h-1.5zM413.7 790.7h1.5v1.5h-1.5zM422.9 779.6h1.5v1.5h-1.5zM433.0 796.0h1.5v1.5h-1.5zM416.2 786.3h1.5v1.5h-1.5zM419.4 789.5h1.5v1.5h-1.5zM415.6 778.0h1.5v1.5h-1.5zM407.4 787.7h1.5v1.5h-1.5zM415.1 784.1h1.5v1.5h-1.5zM416.2 789.4h1.5v1.5h-1.5zM411.7 790.2h1.5v1.5h-1.5zM412.5 787.8h1.5v1.5h-1.5zM419.1 785.0h1.5v1.5h-1.5zM425.6 790.7h1.5v1.5h-1.5zM410.4 788.3h1.5v1.5h-1.5zM429.4 763.5h1.5v1.5h-1.5zM412.5 782.0h1.5v1.5h-1.5zM427.1 783.4h1.5v1.5h-1.5zM428.6 794.7h1.5v1.5h-1.5zM416.9 790.0h1.5v1.5h-1.5zM405.7 790.7h1.5v1.5h-1.5zM432.5 787.9h1.5v1.5h-1.5zM431.7 798.3h1.5v1.5h-1.5zM430.7 797.7h1.5v1.5h-1.5zM428.1 782.7h1.5v1.5h-1.5zM415.7 778.4h1.5v1.5h-1.5zM410.6 787.9h1.5v1.5h-1.5zM427.8 781.3h1.5v1.5h-1.5zM409.3 782.1h1.5v1.5h-1.5zM415.9 785.0h1.5v1.5h-1.5zM422.3 790.2h1.5v1.5h-1.5zM407.1 787.9h1.5v1.5h-1.5zM415.6 798.9h1.5v1.5h-1.5zM443.5 781.8h1.5v1.5h-1.5zM441.2 783.4h1.5v1.5h-1.5zM437.3 788.2h1.5v1.5h-1.5zM438.1 787.1h1.5v1.5h-1.5zM445.6 792.7h1.5v1.5h-1.5zM437.9 792.4h1.5v1.5h-1.5zM445.9 789.2h1.5v1.5h-1.5zM436.2 787.2h1.5v1.5h-1.5zM447.2 781.6h1.5v1.5h-1.5zM439.0 790.4h1.5v1.5h-1.5zM446.4 791.0h1.5v1.5h-1.5zM437.3 789.3h1.5v1.5h-1.5zM442.3 786.2h1.5v1.5h-1.5zM437.9 781.6h1.5v1.5h-1.5zM443.9 786.5h1.5v1.5h-1.5zM435.7 783.5h1.5v1.5h-1.5zM444.8 786.3h1.5v1.5h-1.5zM447.9 788.2h1.5v1.5h-1.5zM443.6 790.9h1.5v1.5h-1.5zM442.5 787.9h1.5v1.5h-1.5zM444.9 783.9h1.5v1.5h-1.5zM436.3 787.9h1.5v1.5h-1.5zM439.4 782.7h1.5v1.5h-1.5zM444.8 794.2h1.5v1.5h-1.5zM442.4 788.4h1.5v1.5h-1.5zM438.0 788.6h1.5v1.5h-1.5zM437.7 788.7h1.5v1.5h-1.5zM447.2 788.0h1.5v1.5h-1.5zM436.1 785.4h1.5v1.5h-1.5zM445.6 783.8h1.5v1.5h-1.5zM439.6 782.4h1.5v1.5h-1.5zM444.0 804.0h1.5v1.5h-1.5zM445.2 793.8h1.5v1.5h-1.5zM438.8 786.2h1.5v1.5h-1.5zM445.2 787.0h1.5v1.5h-1.5zM443.7 787.0h1.5v1.5h-1.5zM442.1 784.1h1.5v1.5h-1.5zM438.4 791.5h1.5v1.5h-1.5zM443.7 790.8h1.5v1.5h-1.5zM440.3 784.6h1.5v1.5h-1.5zM443.6 785.9h1.5v1.5h-1.5zM442.6 784.7h1.5v1.5h-1.5zM451.6 790.3h1.5v1.5h-1.5zM451.2 782.8h1.5v1.5h-1.5zM451.5 789.9h1.5v1.5h-1.5zM453.5 787.4h1.5v1.5h-1.5zM451.9 785.8h1.5v1.5h-1.5zM454.8 789.5h1.5v1.5h-1.5zM454.7 785.5h1.5v1.5h-1.5zM454.0 781.6h1.5v1.5h-1.5zM452.2 792.9h1.5v1.5h-1.5zM452.8 776.3h1.5v1.5h-1.5zM454.6 787.7h1.5v1.5h-1.5zM452.4 784.0h1.5v1.5h-1.5zM453.6 786.6h1.5v1.5h-1.5zM452.1 786.1h1.5v1.5h-1.5zM451.7 793.1h1.5v1.5h-1.5zM451.4 791.4h1.5v1.5h-1.5zM451.8 797.3h1.5v1.5h-1.5zM451.5 787.4h1.5v1.5h-1.5zM451.3 788.0h1.5v1.5h-1.5zM469.9 783.2h1.5v1.5h-1.5zM478.1 779.8h1.5v1.5h-1.5zM463.1 789.1h1.5v1.5h-1.5zM468.5 799.4h1.5v1.5h-1.5zM468.8 789.0h1.5v1.5h-1.5zM476.0 778.4h1.5v1.5h-1.5zM467.3 787.9h1.5v1.5h-1.5zM460.8 785.5h1.5v1.5h-1.5zM465.9 798.3h1.5v1.5h-1.5zM461.7 783.9h1.5v1.5h-1.5zM471.4 782.4h1.5v1.5h-1.5zM470.5 784.2h1.5v1.5h-1.5zM473.4 786.8h1.5v1.5h-1.5zM474.0 787.2h1.5v1.5h-1.5zM463.0 785.4h1.5v1.5h-1.5zM463.6 777.7h1.5v1.5h-1.5zM475.7 787.6h1.5v1.5h-1.5zM464.3 786.2h1.5v1.5h-1.5zM459.5 800.6h1.5v1.5h-1.5zM467.9 789.1h1.5v1.5h-1.5zM463.1 784.3h1.5v1.5h-1.5zM461.6 781.4h1.5v1.5h-1.5zM460.9 788.8h1.5v1.5h-1.5zM465.3 785.1h1.5v1.5h-1.5zM474.9 783.8h1.5v1.5h-1.5zM460.5 788.7h1.5v1.5h-1.5zM462.8 778.2h1.5v1.5h-1.5zM461.3 785.0h1.5v1.5h-1.5zM477.3 784.5h1.5v1.5h-1.5zM470.9 784.3h1.5v1.5h-1.5zM476.1 788.0h1.5v1.5h-1.5zM469.9 787.1h1.5v1.5h-1.5zM459.4 790.3h1.5v1.5h-1.5zM458.8 787.0h1.5v1.5h-1.5zM473.4 791.7h1.5v1.5h-1.5zM478.3 786.4h1.5v1.5h-1.5zM459.3 791.3h1.5v1.5h-1.5zM468.9 791.4h1.5v1.5h-1.5zM478.0 782.7h1.5v1.5h-1.5zM459.6 789.5h1.5v1.5h-1.5zM466.9 790.0h1.5v1.5h-1.5zM463.6 786.0h1.5v1.5h-1.5zM463.2 786.9h1.5v1.5h-1.5zM468.2 788.9h1.5v1.5h-1.5zM461.0 785.9h1.5v1.5h-1.5zM473.2 788.3h1.5v1.5h-1.5zM466.7 785.2h1.5v1.5h-1.5zM461.8 789.3h1.5v1.5h-1.5zM466.0 779.6h1.5v1.5h-1.5zM462.1 789.1h1.5v1.5h-1.5zM469.9 785.8h1.5v1.5h-1.5zM467.7 789.6h1.5v1.5h-1.5zM477.0 780.6h1.5v1.5h-1.5zM459.0 792.9h1.5v1.5h-1.5zM474.1 791.3h1.5v1.5h-1.5zM477.3 778.4h1.5v1.5h-1.5zM462.2 790.8h1.5v1.5h-1.5zM459.5 789.6h1.5v1.5h-1.5zM460.5 785.3h1.5v1.5h-1.5zM471.0 789.9h1.5v1.5h-1.5zM461.5 790.0h1.5v1.5h-1.5zM464.9 790.1h1.5v1.5h-1.5zM472.0 788.3h1.5v1.5h-1.5zM467.3 787.9h1.5v1.5h-1.5zM473.2 786.9h1.5v1.5h-1.5zM489.6 778.2h1.5v1.5h-1.5zM489.4 774.3h1.5v1.5h-1.5zM481.3 777.6h1.5v1.5h-1.5zM485.7 791.3h1.5v1.5h-1.5zM481.5 783.1h1.5v1.5h-1.5zM482.9 782.8h1.5v1.5h-1.5zM483.8 784.1h1.5v1.5h-1.5zM482.9 788.6h1.5v1.5h-1.5zM485.2 785.0h1.5v1.5h-1.5zM482.7 784.2h1.5v1.5h-1.5zM482.9 787.4h1.5v1.5h-1.5zM483.9 785.8h1.5v1.5h-1.5zM487.2 793.5h1.5v1.5h-1.5zM486.0 788.1h1.5v1.5h-1.5zM483.0 788.7h1.5v1.5h-1.5zM481.7 783.4h1.5v1.5h-1.5zM489.8 786.3h1.5v1.5h-1.5zM481.6 783.6h1.5v1.5h-1.5zM485.8 791.0h1.5v1.5h-1.5zM482.7 784.9h1.5v1.5h-1.5zM485.1 784.4h1.5v1.5h-1.5zM488.4 779.3h1.5v1.5h-1.5zM482.4 772.5h1.5v1.5h-1.5zM487.3 785.9h1.5v1.5h-1.5zM483.4 784.2h1.5v1.5h-1.5zM488.1 786.2h1.5v1.5h-1.5zM485.2 793.4h1.5v1.5h-1.5zM489.3 787.1h1.5v1.5h-1.5zM485.4 788.3h1.5v1.5h-1.5zM489.8 787.3h1.5v1.5h-1.5zM482.8 795.0h1.5v1.5h-1.5zM498.6 802.2h1.5v1.5h-1.5zM495.6 788.0h1.5v1.5h-1.5zM495.0 786.9h1.5v1.5h-1.5zM500.1 781.2h1.5v1.5h-1.5zM497.7 787.6h1.5v1.5h-1.5zM494.1 789.4h1.5v1.5h-1.5zM495.2 784.4h1.5v1.5h-1.5zM496.9 777.4h1.5v1.5h-1.5zM500.8 790.9h1.5v1.5h-1.5zM493.5 784.2h1.5v1.5h-1.5zM495.9 785.7h1.5v1.5h-1.5zM500.6 789.5h1.5v1.5h-1.5zM496.6 784.5h1.5v1.5h-1.5zM492.7 787.2h1.5v1.5h-1.5zM494.8 782.0h1.5v1.5h-1.5zM498.4 784.4h1.5v1.5h-1.5zM497.7 783.0h1.5v1.5h-1.5zM494.8 787.5h1.5v1.5h-1.5zM494.8 789.0h1.5v1.5h-1.5zM497.1 791.8h1.5v1.5h-1.5zM493.4 784.6h1.5v1.5h-1.5zM500.3 783.6h1.5v1.5h-1.5zM495.6 787.6h1.5v1.5h-1.5zM493.7 795.3h1.5v1.5h-1.5zM495.7 787.8h1.5v1.5h-1.5zM499.2 790.5h1.5v1.5h-1.5zM495.6 793.0h1.5v1.5h-1.5zM499.1 792.4h1.5v1.5h-1.5zM493.9 786.5h1.5v1.5h-1.5zM500.0 784.4h1.5v1.5h-1.5zM500.9 789.6h1.5v1.5h-1.5zM513.4 780.3h1.5v1.5h-1.5zM510.3 782.7h1.5v1.5h-1.5zM505.4 790.3h1.5v1.5h-1.5zM507.7 784.9h1.5v1.5h-1.5zM508.1 788.1h1.5v1.5h-1.5zM512.3 783.1h1.5v1.5h-1.5zM504.4 788.7h1.5v1.5h-1.5zM505.5 784.8h1.5v1.5h-1.5zM508.6 789.0h1.5v1.5h-1.5zM504.3 787.1h1.5v1.5h-1.5zM513.3 788.9h1.5v1.5h-1.5zM509.8 789.0h1.5v1.5h-1.5zM513.3 780.0h1.5v1.5h-1.5zM513.7 790.1h1.5v1.5h-1.5zM508.0 787.0h1.5v1.5h-1.5zM504.8 790.4h1.5v1.5h-1.5zM512.7 781.0h1.5v1.5h-1.5zM512.9 791.8h1.5v1.5h-1.5zM507.8 789.4h1.5v1.5h-1.5zM507.4 790.0h1.5v1.5h-1.5zM503.9 786.2h1.5v1.5h-1.5zM504.8 789.9h1.5v1.5h-1.5zM510.7 783.1h1.5v1.5h-1.5zM505.4 792.9h1.5v1.5h-1.5zM508.4 783.4h1.5v1.5h-1.5zM513.4 781.2h1.5v1.5h-1.5zM504.9 783.0h1.5v1.5h-1.5zM512.4 784.8h1.5v1.5h-1.5zM504.2 785.5h1.5v1.5h-1.5zM508.2 790.0h1.5v1.5h-1.5zM507.1 782.3h1.5v1.5h-1.5zM504.3 788.2h1.5v1.5h-1.5zM504.8 781.5h1.5v1.5h-1.5zM504.6 790.9h1.5v1.5h-1.5zM507.5 787.0h1.5v1.5h-1.5zM507.2 788.5h1.5v1.5h-1.5zM525.6 786.4h1.5v1.5h-1.5zM525.1 786.7h1.5v1.5h-1.5zM524.4 783.9h1.5v1.5h-1.5zM523.1 785.4h1.5v1.5h-1.5zM520.5 785.6h1.5v1.5h-1.5zM522.7 796.4h1.5v1.5h-1.5zM520.5 788.8h1.5v1.5h-1.5zM517.9 811.2h1.5v1.5h-1.5zM520.4 789.6h1.5v1.5h-1.5zM527.6 791.3h1.5v1.5h-1.5zM525.2 778.5h1.5v1.5h-1.5zM518.2 789.9h1.5v1.5h-1.5zM518.5 783.9h1.5v1.5h-1.5zM522.2 785.7h1.5v1.5h-1.5zM518.7 783.2h1.5v1.5h-1.5zM526.3 788.1h1.5v1.5h-1.5zM529.7 784.3h1.5v1.5h-1.5zM526.5 789.4h1.5v1.5h-1.5zM525.3 787.9h1.5v1.5h-1.5zM517.8 788.5h1.5v1.5h-1.5zM529.2 785.1h1.5v1.5h-1.5zM524.6 787.8h1.5v1.5h-1.5zM520.0 790.2h1.5v1.5h-1.5zM526.9 781.6h1.5v1.5h-1.5zM528.1 786.2h1.5v1.5h-1.5zM517.9 791.0h1.5v1.5h-1.5zM530.0 780.7h1.5v1.5h-1.5zM521.2 782.7h1.5v1.5h-1.5zM528.2 789.0h1.5v1.5h-1.5zM519.5 780.4h1.5v1.5h-1.5zM527.3 787.1h1.5v1.5h-1.5zM517.9 788.6h1.5v1.5h-1.5zM523.2 793.1h1.5v1.5h-1.5zM520.2 786.0h1.5v1.5h-1.5zM528.6 784.5h1.5v1.5h-1.5zM519.4 787.2h1.5v1.5h-1.5zM520.1 788.2h1.5v1.5h-1.5zM523.8 773.4h1.5v1.5h-1.5zM526.3 793.0h1.5v1.5h-1.5zM527.0 790.9h1.5v1.5h-1.5zM529.8 785.2h1.5v1.5h-1.5zM521.2 792.8h1.5v1.5h-1.5zM523.2 785.5h1.5v1.5h-1.5zM518.6 787.3h1.5v1.5h-1.5zM537.6 783.3h1.5v1.5h-1.5zM550.4 785.3h1.5v1.5h-1.5zM550.6 785.0h1.5v1.5h-1.5zM536.4 778.2h1.5v1.5h-1.5zM537.3 797.0h1.5v1.5h-1.5zM545.1 781.3h1.5v1.5h-1.5zM539.6 786.9h1.5v1.5h-1.5zM546.3 787.2h1.5v1.5h-1.5zM541.5 794.0h1.5v1.5h-1.5zM544.1 784.7h1.5v1.5h-1.5zM538.7 789.0h1.5v1.5h-1.5zM541.3 781.3h1.5v1.5h-1.5zM534.2 787.4h1.5v1.5h-1.5zM549.4 793.5h1.5v1.5h-1.5zM535.4 797.8h1.5v1.5h-1.5zM549.5 783.4h1.5v1.5h-1.5zM538.5 781.0h1.5v1.5h-1.5zM543.9 783.3h1.5v1.5h-1.5zM545.9 787.2h1.5v1.5h-1.5zM536.3 776.8h1.5v1.5h-1.5zM546.4 788.7h1.5v1.5h-1.5zM545.7 797.6h1.5v1.5h-1.5zM537.1 789.2h1.5v1.5h-1.5zM548.3 786.4h1.5v1.5h-1.5zM539.2 792.4h1.5v1.5h-1.5zM541.6 786.1h1.5v1.5h-1.5zM541.4 786.5h1.5v1.5h-1.5zM543.0 785.6h1.5v1.5h-1.5zM547.2 789.3h1.5v1.5h-1.5zM540.0 784.2h1.5v1.5h-1.5zM545.5 782.2h1.5v1.5h-1.5zM535.4 788.6h1.5v1.5h-1.5zM535.1 790.7h1.5v1.5h-1.5zM542.5 785.9h1.5v1.5h-1.5zM548.0 782.9h1.5v1.5h-1.5zM539.6 783.7h1.5v1.5h-1.5zM550.3 793.0h1.5v1.5h-1.5zM546.0 783.1h1.5v1.5h-1.5zM540.5 783.5h1.5v1.5h-1.5zM543.1 788.6h1.5v1.5h-1.5zM545.0 784.4h1.5v1.5h-1.5zM548.9 785.1h1.5v1.5h-1.5zM549.8 792.3h1.5v1.5h-1.5zM536.0 786.2h1.5v1.5h-1.5zM541.1 783.8h1.5v1.5h-1.5zM551.4 793.9h1.5v1.5h-1.5zM543.0 782.7h1.5v1.5h-1.5zM534.5 787.4h1.5v1.5h-1.5zM546.5 785.2h1.5v1.5h-1.5zM534.7 790.2h1.5v1.5h-1.5zM537.3 785.8h1.5v1.5h-1.5zM544.8 794.6h1.5v1.5h-1.5zM537.5 790.3h1.5v1.5h-1.5zM541.8 788.6h1.5v1.5h-1.5zM539.6 786.6h1.5v1.5h-1.5zM541.5 799.0h1.5v1.5h-1.5zM548.3 786.5h1.5v1.5h-1.5zM542.0 783.3h1.5v1.5h-1.5zM545.0 788.2h1.5v1.5h-1.5zM535.6 793.4h1.5v1.5h-1.5zM563.0 788.3h1.5v1.5h-1.5zM570.0 787.9h1.5v1.5h-1.5zM554.8 804.3h1.5v1.5h-1.5zM568.5 781.0h1.5v1.5h-1.5zM569.8 787.6h1.5v1.5h-1.5zM563.7 789.4h1.5v1.5h-1.5zM566.9 790.3h1.5v1.5h-1.5zM567.5 787.4h1.5v1.5h-1.5zM554.8 784.2h1.5v1.5h-1.5zM558.0 788.7h1.5v1.5h-1.5zM570.9 787.7h1.5v1.5h-1.5zM568.2 784.8h1.5v1.5h-1.5zM560.4 789.1h1.5v1.5h-1.5zM568.0 787.4h1.5v1.5h-1.5zM571.2 788.6h1.5v1.5h-1.5zM559.7 784.5h1.5v1.5h-1.5zM556.5 786.2h1.5v1.5h-1.5zM564.7 784.3h1.5v1.5h-1.5zM571.4 788.8h1.5v1.5h-1.5zM555.3 780.6h1.5v1.5h-1.5zM558.6 788.9h1.5v1.5h-1.5zM568.6 789.4h1.5v1.5h-1.5zM568.9 782.4h1.5v1.5h-1.5zM556.7 787.0h1.5v1.5h-1.5zM571.5 790.7h1.5v1.5h-1.5zM555.7 785.5h1.5v1.5h-1.5zM557.7 780.2h1.5v1.5h-1.5zM563.5 782.0h1.5v1.5h-1.5zM564.8 788.1h1.5v1.5h-1.5zM568.5 776.4h1.5v1.5h-1.5zM557.7 782.7h1.5v1.5h-1.5zM566.9 786.9h1.5v1.5h-1.5zM567.0 790.5h1.5v1.5h-1.5zM555.7 792.2h1.5v1.5h-1.5zM560.8 782.1h1.5v1.5h-1.5zM559.1 791.0h1.5v1.5h-1.5zM563.7 793.1h1.5v1.5h-1.5zM561.6 784.2h1.5v1.5h-1.5zM568.6 794.8h1.5v1.5h-1.5zM556.9 785.2h1.5v1.5h-1.5zM567.3 791.9h1.5v1.5h-1.5zM563.0 776.7h1.5v1.5h-1.5zM567.7 788.0h1.5v1.5h-1.5zM569.1 785.6h1.5v1.5h-1.5zM564.1 786.3h1.5v1.5h-1.5zM564.0 787.6h1.5v1.5h-1.5zM564.5 785.7h1.5v1.5h-1.5zM563.1 792.6h1.5v1.5h-1.5zM557.1 783.7h1.5v1.5h-1.5zM558.5 785.3h1.5v1.5h-1.5zM568.5 775.4h1.5v1.5h-1.5zM566.9 786.2h1.5v1.5h-1.5zM566.5 784.4h1.5v1.5h-1.5zM568.2 790.2h1.5v1.5h-1.5zM556.0 781.6h1.5v1.5h-1.5zM554.7 785.4h1.5v1.5h-1.5zM576.6 786.3h1.5v1.5h-1.5zM576.0 790.4h1.5v1.5h-1.5zM574.8 793.7h1.5v1.5h-1.5zM577.6 790.2h1.5v1.5h-1.5zM586.1 788.8h1.5v1.5h-1.5zM576.9 784.1h1.5v1.5h-1.5zM580.3 782.4h1.5v1.5h-1.5zM584.7 783.0h1.5v1.5h-1.5zM583.4 784.4h1.5v1.5h-1.5zM585.2 789.9h1.5v1.5h-1.5zM576.5 785.0h1.5v1.5h-1.5zM583.7 784.3h1.5v1.5h-1.5zM577.1 781.7h1.5v1.5h-1.5zM585.5 787.1h1.5v1.5h-1.5zM575.0 785.8h1.5v1.5h-1.5zM585.9 784.8h1.5v1.5h-1.5zM575.1 787.5h1.5v1.5h-1.5zM580.8 787.0h1.5v1.5h-1.5zM575.8 787.5h1.5v1.5h-1.5zM580.2 783.5h1.5v1.5h-1.5zM585.8 786.3h1.5v1.5h-1.5zM575.6 782.7h1.5v1.5h-1.5zM579.0 790.6h1.5v1.5h-1.5zM578.7 784.3h1.5v1.5h-1.5zM578.7 788.4h1.5v1.5h-1.5zM576.0 782.1h1.5v1.5h-1.5zM581.3 782.3h1.5v1.5h-1.5zM577.4 785.9h1.5v1.5h-1.5zM584.9 787.4h1.5v1.5h-1.5zM576.4 789.2h1.5v1.5h-1.5zM581.8 787.0h1.5v1.5h-1.5zM586.6 786.2h1.5v1.5h-1.5zM582.4 787.6h1.5v1.5h-1.5zM584.7 788.1h1.5v1.5h-1.5zM577.9 790.2h1.5v1.5h-1.5zM581.1 790.5h1.5v1.5h-1.5zM577.6 785.4h1.5v1.5h-1.5zM578.9 785.0h1.5v1.5h-1.5zM581.6 787.0h1.5v1.5h-1.5zM583.8 784.7h1.5v1.5h-1.5zM585.3 792.8h1.5v1.5h-1.5zM592.7 787.1h1.5v1.5h-1.5zM602.7 788.9h1.5v1.5h-1.5zM592.9 787.9h1.5v1.5h-1.5zM591.9 799.2h1.5v1.5h-1.5zM599.2 788.7h1.5v1.5h-1.5zM599.3 783.3h1.5v1.5h-1.5zM595.0 788.5h1.5v1.5h-1.5zM602.0 784.5h1.5v1.5h-1.5zM608.2 789.0h1.5v1.5h-1.5zM591.7 790.7h1.5v1.5h-1.5zM597.6 788.4h1.5v1.5h-1.5zM599.7 790.2h1.5v1.5h-1.5zM590.7 782.2h1.5v1.5h-1.5zM598.6 791.0h1.5v1.5h-1.5zM601.4 787.2h1.5v1.5h-1.5zM594.7 782.1h1.5v1.5h-1.5zM589.6 782.1h1.5v1.5h-1.5zM610.0 785.3h1.5v1.5h-1.5zM600.5 786.7h1.5v1.5h-1.5zM609.4 784.0h1.5v1.5h-1.5zM596.6 783.0h1.5v1.5h-1.5zM604.0 784.3h1.5v1.5h-1.5zM596.5 787.1h1.5v1.5h-1.5zM592.2 780.9h1.5v1.5h-1.5zM606.9 787.6h1.5v1.5h-1.5zM596.2 785.2h1.5v1.5h-1.5zM609.3 786.3h1.5v1.5h-1.5zM598.3 787.7h1.5v1.5h-1.5zM593.5 794.5h1.5v1.5h-1.5zM604.8 780.1h1.5v1.5h-1.5zM592.3 786.2h1.5v1.5h-1.5zM606.7 787.8h1.5v1.5h-1.5zM602.1 785.6h1.5v1.5h-1.5zM610.6 786.9h1.5v1.5h-1.5zM609.7 790.5h1.5v1.5h-1.5zM602.9 786.8h1.5v1.5h-1.5zM593.0 787.4h1.5v1.5h-1.5zM593.2 788.4h1.5v1.5h-1.5zM597.1 789.9h1.5v1.5h-1.5zM600.4 765.6h1.5v1.5h-1.5zM599.7 790.9h1.5v1.5h-1.5zM592.4 789.7h1.5v1.5h-1.5zM609.8 785.9h1.5v1.5h-1.5zM607.9 787.0h1.5v1.5h-1.5zM609.4 786.5h1.5v1.5h-1.5zM594.4 788.2h1.5v1.5h-1.5zM596.6 786.2h1.5v1.5h-1.5zM595.5 788.1h1.5v1.5h-1.5zM603.4 788.5h1.5v1.5h-1.5zM592.0 789.2h1.5v1.5h-1.5zM599.6 783.4h1.5v1.5h-1.5zM605.0 784.8h1.5v1.5h-1.5zM598.1 784.1h1.5v1.5h-1.5zM606.0 792.7h1.5v1.5h-1.5zM602.1 792.0h1.5v1.5h-1.5zM603.4 786.7h1.5v1.5h-1.5zM604.9 786.6h1.5v1.5h-1.5zM604.3 782.4h1.5v1.5h-1.5zM593.6 787.3h1.5v1.5h-1.5zM601.1 783.2h1.5v1.5h-1.5zM592.3 787.7h1.5v1.5h-1.5zM594.6 780.8h1.5v1.5h-1.5zM592.0 787.7h1.5v1.5h-1.5zM605.3 785.8h1.5v1.5h-1.5zM603.3 783.5h1.5v1.5h-1.5zM592.9 786.6h1.5v1.5h-1.5zM602.4 786.8h1.5v1.5h-1.5zM608.3 792.3h1.5v1.5h-1.5zM613.9 784.7h1.5v1.5h-1.5zM620.8 786.2h1.5v1.5h-1.5zM624.4 787.2h1.5v1.5h-1.5zM632.0 751.3h1.5v1.5h-1.5zM617.0 787.5h1.5v1.5h-1.5zM622.0 784.9h1.5v1.5h-1.5zM626.2 789.6h1.5v1.5h-1.5zM631.2 784.5h1.5v1.5h-1.5zM624.6 785.0h1.5v1.5h-1.5zM621.1 786.1h1.5v1.5h-1.5zM616.4 788.8h1.5v1.5h-1.5zM629.0 783.3h1.5v1.5h-1.5zM615.0 786.7h1.5v1.5h-1.5zM623.8 794.6h1.5v1.5h-1.5zM619.7 786.1h1.5v1.5h-1.5zM630.1 784.3h1.5v1.5h-1.5zM627.4 783.3h1.5v1.5h-1.5zM628.5 785.3h1.5v1.5h-1.5zM629.7 783.9h1.5v1.5h-1.5zM631.3 786.5h1.5v1.5h-1.5zM631.0 790.4h1.5v1.5h-1.5zM618.8 786.9h1.5v1.5h-1.5zM614.5 785.8h1.5v1.5h-1.5zM614.5 790.2h1.5v1.5h-1.5zM624.2 786.7h1.5v1.5h-1.5zM629.5 792.5h1.5v1.5h-1.5zM628.7 787.4h1.5v1.5h-1.5zM626.8 785.6h1.5v1.5h-1.5zM615.1 787.6h1.5v1.5h-1.5zM622.8 787.4h1.5v1.5h-1.5zM627.7 786.7h1.5v1.5h-1.5zM619.3 788.4h1.5v1.5h-1.5zM616.1 785.6h1.5v1.5h-1.5zM626.4 783.4h1.5v1.5h-1.5zM626.9 784.2h1.5v1.5h-1.5zM620.5 777.0h1.5v1.5h-1.5zM626.1 791.5h1.5v1.5h-1.5zM622.4 787.8h1.5v1.5h-1.5zM631.9 792.2h1.5v1.5h-1.5zM623.3 790.7h1.5v1.5h-1.5zM616.6 771.5h1.5v1.5h-1.5zM616.9 783.9h1.5v1.5h-1.5zM624.3 789.8h1.5v1.5h-1.5zM621.1 790.5h1.5v1.5h-1.5zM614.6 785.8h1.5v1.5h-1.5zM631.4 787.7h1.5v1.5h-1.5zM629.0 779.1h1.5v1.5h-1.5zM622.6 789.0h1.5v1.5h-1.5zM621.8 791.6h1.5v1.5h-1.5zM619.7 783.3h1.5v1.5h-1.5zM628.8 789.2h1.5v1.5h-1.5zM621.7 784.5h1.5v1.5h-1.5zM618.3 790.6h1.5v1.5h-1.5zM618.0 786.4h1.5v1.5h-1.5zM621.5 784.5h1.5v1.5h-1.5zM627.9 782.6h1.5v1.5h-1.5zM630.6 782.6h1.5v1.5h-1.5zM628.9 794.4h1.5v1.5h-1.5zM631.7 782.4h1.5v1.5h-1.5z" fill="#3445a6"/>
<path d="M374.2 790.2h1.5v1.5h-1.5zM375.5 796.9h1.5v1.5h-1.5zM375.6 790.0h1.5v1.5h-1.5zM373.5 791.3h1.5v1.5h-1.5zM375.8 807.0h1.5v1.5h-1.5zM374.6 798.5h1.5v1.5h-1.5zM375.9 805.2h1.5v1.5h-1.5zM374.8 792.6h1.5v1.5h-1.5zM374.6 790.3h1.5v1.5h-1.5zM375.7 801.6h1.5v1.5h-1.5zM373.3 797.9h1.5v1.5h-1.5zM376.0 798.6h1.5v1.5h-1.5zM373.3 800.8h1.5v1.5h-1.5zM375.7 799.1h1.5v1.5h-1.5zM373.3 800.9h1.5v1.5h-1.5zM375.3 790.4h1.5v1.5h-1.5z" fill="#e02424"/>
<text x="647.70" y="794.70" font-size="15.5" font-weight="bold" font-style="normal" text-anchor="start" fill="#000" >#24</text>
<line x1="372.9" y1="853.50" x2="634.4" y2="853.50" stroke="#7a7a7a" stroke-width="1.2"/>
<line x1="372.9" y1="874.50" x2="634.4" y2="874.50" stroke="#7a7a7a" stroke-width="1.2"/>
<line x1="372.9" y1="894.50" x2="634.4" y2="894.50" stroke="#7a7a7a" stroke-width="1.2"/>
<line x1="378.50" y1="833.4" x2="378.50" y2="915.1999999999999" stroke="#a0a0a0" stroke-width="1"/>
<line x1="378.50" y1="833" x2="378.50" y2="915.1999999999999" stroke="#3a3a3a" stroke-width="1" stroke-dasharray="1 1"/>
<line x1="397.50" y1="833.4" x2="397.50" y2="915.1999999999999" stroke="#a0a0a0" stroke-width="1"/>
<line x1="397.50" y1="833" x2="397.50" y2="915.1999999999999" stroke="#3a3a3a" stroke-width="1" stroke-dasharray="1 1"/>
<line x1="405.50" y1="833.4" x2="405.50" y2="915.1999999999999" stroke="#a0a0a0" stroke-width="1"/>
<line x1="405.50" y1="833" x2="405.50" y2="915.1999999999999" stroke="#3a3a3a" stroke-width="1" stroke-dasharray="1 1"/>
<line x1="435.50" y1="833.4" x2="435.50" y2="915.1999999999999" stroke="#a0a0a0" stroke-width="1"/>
<line x1="435.50" y1="833" x2="435.50" y2="915.1999999999999" stroke="#3a3a3a" stroke-width="1" stroke-dasharray="1 1"/>
<line x1="450.50" y1="833.4" x2="450.50" y2="915.1999999999999" stroke="#a0a0a0" stroke-width="1"/>
<line x1="450.50" y1="833" x2="450.50" y2="915.1999999999999" stroke="#3a3a3a" stroke-width="1" stroke-dasharray="1 1"/>
<line x1="457.50" y1="833.4" x2="457.50" y2="915.1999999999999" stroke="#a0a0a0" stroke-width="1"/>
<line x1="457.50" y1="833" x2="457.50" y2="915.1999999999999" stroke="#3a3a3a" stroke-width="1" stroke-dasharray="1 1"/>
<line x1="480.50" y1="833.4" x2="480.50" y2="915.1999999999999" stroke="#a0a0a0" stroke-width="1"/>
<line x1="480.50" y1="833" x2="480.50" y2="915.1999999999999" stroke="#3a3a3a" stroke-width="1" stroke-dasharray="1 1"/>
<line x1="491.50" y1="833.4" x2="491.50" y2="915.1999999999999" stroke="#a0a0a0" stroke-width="1"/>
<line x1="491.50" y1="833" x2="491.50" y2="915.1999999999999" stroke="#3a3a3a" stroke-width="1" stroke-dasharray="1 1"/>
<line x1="503.50" y1="833.4" x2="503.50" y2="915.1999999999999" stroke="#a0a0a0" stroke-width="1"/>
<line x1="503.50" y1="833" x2="503.50" y2="915.1999999999999" stroke="#3a3a3a" stroke-width="1" stroke-dasharray="1 1"/>
<line x1="516.50" y1="833.4" x2="516.50" y2="915.1999999999999" stroke="#a0a0a0" stroke-width="1"/>
<line x1="516.50" y1="833" x2="516.50" y2="915.1999999999999" stroke="#3a3a3a" stroke-width="1" stroke-dasharray="1 1"/>
<line x1="532.50" y1="833.4" x2="532.50" y2="915.1999999999999" stroke="#a0a0a0" stroke-width="1"/>
<line x1="532.50" y1="833" x2="532.50" y2="915.1999999999999" stroke="#3a3a3a" stroke-width="1" stroke-dasharray="1 1"/>
<line x1="553.50" y1="833.4" x2="553.50" y2="915.1999999999999" stroke="#a0a0a0" stroke-width="1"/>
<line x1="553.50" y1="833" x2="553.50" y2="915.1999999999999" stroke="#3a3a3a" stroke-width="1" stroke-dasharray="1 1"/>
<line x1="573.50" y1="833.4" x2="573.50" y2="915.1999999999999" stroke="#a0a0a0" stroke-width="1"/>
<line x1="573.50" y1="833" x2="573.50" y2="915.1999999999999" stroke="#3a3a3a" stroke-width="1" stroke-dasharray="1 1"/>
<line x1="588.50" y1="833.4" x2="588.50" y2="915.1999999999999" stroke="#a0a0a0" stroke-width="1"/>
<line x1="588.50" y1="833" x2="588.50" y2="915.1999999999999" stroke="#3a3a3a" stroke-width="1" stroke-dasharray="1 1"/>
<line x1="613.50" y1="833.4" x2="613.50" y2="915.1999999999999" stroke="#a0a0a0" stroke-width="1"/>
<line x1="613.50" y1="833" x2="613.50" y2="915.1999999999999" stroke="#3a3a3a" stroke-width="1" stroke-dasharray="1 1"/>
<rect x="372.9" y="833.4" width="261.5" height="81.8" fill="none" stroke="#444" stroke-width="1.1"/>
<path d="M375.7 874.8h1.5v1.5h-1.5zM373.6 872.6h1.5v1.5h-1.5zM373.7 876.1h1.5v1.5h-1.5zM375.3 872.3h1.5v1.5h-1.5zM375.2 869.2h1.5v1.5h-1.5zM374.1 879.4h1.5v1.5h-1.5zM375.5 874.6h1.5v1.5h-1.5zM375.5 871.4h1.5v1.5h-1.5zM373.6 874.5h1.5v1.5h-1.5zM375.5 871.0h1.5v1.5h-1.5zM375.4 879.2h1.5v1.5h-1.5zM373.9 867.5h1.5v1.5h-1.5zM375.7 865.2h1.5v1.5h-1.5zM375.1 868.4h1.5v1.5h-1.5zM391.6 868.1h1.5v1.5h-1.5zM383.9 872.3h1.5v1.5h-1.5zM384.5 879.2h1.5v1.5h-1.5zM388.8 877.5h1.5v1.5h-1.5zM384.6 877.3h1.5v1.5h-1.5zM392.1 875.0h1.5v1.5h-1.5zM387.3 873.2h1.5v1.5h-1.5zM381.9 871.5h1.5v1.5h-1.5zM391.9 871.8h1.5v1.5h-1.5zM382.3 868.6h1.5v1.5h-1.5zM393.6 876.3h1.5v1.5h-1.5zM381.4 881.1h1.5v1.5h-1.5zM392.5 874.1h1.5v1.5h-1.5zM391.3 873.9h1.5v1.5h-1.5zM381.8 867.2h1.5v1.5h-1.5zM391.1 872.1h1.5v1.5h-1.5zM386.9 875.3h1.5v1.5h-1.5zM385.7 866.4h1.5v1.5h-1.5zM394.0 881.0h1.5v1.5h-1.5zM383.0 866.1h1.5v1.5h-1.5zM391.6 869.3h1.5v1.5h-1.5zM380.9 877.2h1.5v1.5h-1.5zM379.0 875.3h1.5v1.5h-1.5zM385.9 877.4h1.5v1.5h-1.5zM393.3 873.9h1.5v1.5h-1.5zM390.6 873.8h1.5v1.5h-1.5zM385.8 871.5h1.5v1.5h-1.5zM392.8 871.4h1.5v1.5h-1.5zM388.6 863.9h1.5v1.5h-1.5zM390.9 877.0h1.5v1.5h-1.5zM393.1 876.2h1.5v1.5h-1.5zM379.1 877.6h1.5v1.5h-1.5zM389.5 873.7h1.5v1.5h-1.5zM379.9 877.4h1.5v1.5h-1.5zM379.2 877.0h1.5v1.5h-1.5zM380.2 870.6h1.5v1.5h-1.5zM382.3 860.9h1.5v1.5h-1.5zM378.7 875.4h1.5v1.5h-1.5zM389.0 875.2h1.5v1.5h-1.5zM382.1 870.2h1.5v1.5h-1.5zM387.1 875.7h1.5v1.5h-1.5zM393.7 864.4h1.5v1.5h-1.5zM389.7 883.0h1.5v1.5h-1.5zM381.5 880.9h1.5v1.5h-1.5zM387.3 879.5h1.5v1.5h-1.5zM388.5 870.2h1.5v1.5h-1.5zM381.9 877.1h1.5v1.5h-1.5zM383.8 879.1h1.5v1.5h-1.5zM389.7 871.8h1.5v1.5h-1.5zM385.3 873.0h1.5v1.5h-1.5zM393.0 869.3h1.5v1.5h-1.5zM380.1 857.6h1.5v1.5h-1.5zM391.8 872.2h1.5v1.5h-1.5zM393.4 871.8h1.5v1.5h-1.5zM401.1 872.0h1.5v1.5h-1.5zM399.5 870.7h1.5v1.5h-1.5zM402.2 872.3h1.5v1.5h-1.5zM400.8 874.6h1.5v1.5h-1.5zM399.4 874.0h1.5v1.5h-1.5zM399.0 880.4h1.5v1.5h-1.5zM400.8 876.7h1.5v1.5h-1.5zM398.5 877.3h1.5v1.5h-1.5zM402.5 870.2h1.5v1.5h-1.5zM400.8 872.3h1.5v1.5h-1.5zM400.4 875.8h1.5v1.5h-1.5zM400.6 876.1h1.5v1.5h-1.5zM398.8 869.0h1.5v1.5h-1.5zM401.8 868.9h1.5v1.5h-1.5zM401.5 874.9h1.5v1.5h-1.5zM401.7 877.8h1.5v1.5h-1.5zM399.7 891.4h1.5v1.5h-1.5zM400.4 867.4h1.5v1.5h-1.5zM401.1 871.2h1.5v1.5h-1.5zM400.6 874.5h1.5v1.5h-1.5zM419.9 871.6h1.5v1.5h-1.5zM426.5 871.2h1.5v1.5h-1.5zM410.8 876.6h1.5v1.5h-1.5zM410.0 870.9h1.5v1.5h-1.5zM407.0 870.8h1.5v1.5h-1.5zM431.3 875.8h1.5v1.5h-1.5zM423.9 880.3h1.5v1.5h-1.5zM420.4 872.8h1.5v1.5h-1.5zM419.7 876.6h1.5v1.5h-1.5zM418.5 872.6h1.5v1.5h-1.5zM428.7 871.1h1.5v1.5h-1.5zM427.8 871.5h1.5v1.5h-1.5zM429.6 871.1h1.5v1.5h-1.5zM428.4 873.2h1.5v1.5h-1.5zM411.7 877.5h1.5v1.5h-1.5zM411.5 872.8h1.5v1.5h-1.5zM413.9 876.7h1.5v1.5h-1.5zM425.0 869.6h1.5v1.5h-1.5zM413.5 875.7h1.5v1.5h-1.5zM424.2 875.0h1.5v1.5h-1.5zM428.0 871.3h1.5v1.5h-1.5zM431.0 882.6h1.5v1.5h-1.5zM429.9 872.6h1.5v1.5h-1.5zM424.7 874.0h1.5v1.5h-1.5zM410.9 876.4h1.5v1.5h-1.5zM430.5 882.3h1.5v1.5h-1.5zM418.0 872.6h1.5v1.5h-1.5zM412.2 864.5h1.5v1.5h-1.5zM407.3 877.1h1.5v1.5h-1.5zM417.5 870.2h1.5v1.5h-1.5zM406.8 867.8h1.5v1.5h-1.5zM418.3 872.3h1.5v1.5h-1.5zM417.1 878.4h1.5v1.5h-1.5zM414.7 875.3h1.5v1.5h-1.5zM412.5 874.1h1.5v1.5h-1.5zM423.5 872.8h1.5v1.5h-1.5zM414.3 876.2h1.5v1.5h-1.5zM406.6 873.5h1.5v1.5h-1.5zM432.3 871.5h1.5v1.5h-1.5zM413.5 867.7h1.5v1.5h-1.5zM428.3 844.7h1.5v1.5h-1.5zM409.8 861.3h1.5v1.5h-1.5zM406.7 869.7h1.5v1.5h-1.5zM419.8 878.1h1.5v1.5h-1.5zM429.3 870.1h1.5v1.5h-1.5zM413.5 880.8h1.5v1.5h-1.5zM414.1 876.8h1.5v1.5h-1.5zM429.1 876.1h1.5v1.5h-1.5zM425.2 873.5h1.5v1.5h-1.5zM422.5 877.5h1.5v1.5h-1.5zM418.8 870.5h1.5v1.5h-1.5zM414.0 874.4h1.5v1.5h-1.5zM431.8 873.2h1.5v1.5h-1.5zM422.1 874.6h1.5v1.5h-1.5zM425.8 882.5h1.5v1.5h-1.5zM416.9 872.6h1.5v1.5h-1.5zM416.3 872.2h1.5v1.5h-1.5zM413.9 875.1h1.5v1.5h-1.5zM418.4 870.3h1.5v1.5h-1.5zM428.7 872.9h1.5v1.5h-1.5zM433.0 872.0h1.5v1.5h-1.5zM431.1 865.4h1.5v1.5h-1.5zM414.6 880.9h1.5v1.5h-1.5zM429.0 876.4h1.5v1.5h-1.5zM420.6 870.4h1.5v1.5h-1.5zM428.4 870.2h1.5v1.5h-1.5zM408.1 863.6h1.5v1.5h-1.5zM416.3 870.8h1.5v1.5h-1.5zM414.4 874.5h1.5v1.5h-1.5zM416.6 878.4h1.5v1.5h-1.5zM412.9 874.9h1.5v1.5h-1.5zM431.1 874.1h1.5v1.5h-1.5zM427.3 872.3h1.5v1.5h-1.5zM412.1 855.0h1.5v1.5h-1.5zM422.9 873.2h1.5v1.5h-1.5zM418.5 878.2h1.5v1.5h-1.5zM419.9 877.0h1.5v1.5h-1.5zM426.9 868.8h1.5v1.5h-1.5zM431.0 871.6h1.5v1.5h-1.5zM416.4 885.1h1.5v1.5h-1.5zM408.3 878.7h1.5v1.5h-1.5zM432.4 871.5h1.5v1.5h-1.5zM430.6 874.0h1.5v1.5h-1.5zM415.7 870.2h1.5v1.5h-1.5zM454.6 875.6h1.5v1.5h-1.5zM454.8 871.5h1.5v1.5h-1.5zM453.1 872.2h1.5v1.5h-1.5zM452.1 882.0h1.5v1.5h-1.5zM453.7 878.4h1.5v1.5h-1.5zM453.5 865.2h1.5v1.5h-1.5zM454.4 865.4h1.5v1.5h-1.5zM451.6 869.2h1.5v1.5h-1.5zM453.0 873.1h1.5v1.5h-1.5zM455.2 872.9h1.5v1.5h-1.5zM453.4 877.0h1.5v1.5h-1.5zM454.0 869.7h1.5v1.5h-1.5zM455.1 872.6h1.5v1.5h-1.5zM451.5 871.6h1.5v1.5h-1.5zM453.7 872.1h1.5v1.5h-1.5zM453.4 876.2h1.5v1.5h-1.5zM451.7 871.7h1.5v1.5h-1.5zM451.4 872.3h1.5v1.5h-1.5zM455.2 866.8h1.5v1.5h-1.5zM461.1 866.1h1.5v1.5h-1.5zM467.5 880.7h1.5v1.5h-1.5zM471.5 873.1h1.5v1.5h-1.5zM477.7 875.2h1.5v1.5h-1.5zM472.6 867.8h1.5v1.5h-1.5zM468.8 876.6h1.5v1.5h-1.5zM470.7 871.1h1.5v1.5h-1.5zM465.2 874.3h1.5v1.5h-1.5zM478.2 870.7h1.5v1.5h-1.5zM460.1 865.7h1.5v1.5h-1.5zM470.8 873.7h1.5v1.5h-1.5zM473.1 872.8h1.5v1.5h-1.5zM466.5 873.2h1.5v1.5h-1.5zM470.3 872.4h1.5v1.5h-1.5zM467.1 872.4h1.5v1.5h-1.5zM477.5 880.7h1.5v1.5h-1.5zM470.8 873.4h1.5v1.5h-1.5zM477.1 872.3h1.5v1.5h-1.5zM465.0 875.8h1.5v1.5h-1.5zM469.2 875.1h1.5v1.5h-1.5zM463.6 872.5h1.5v1.5h-1.5zM466.4 869.6h1.5v1.5h-1.5zM460.4 881.0h1.5v1.5h-1.5zM469.0 864.0h1.5v1.5h-1.5zM477.0 869.6h1.5v1.5h-1.5zM466.7 871.3h1.5v1.5h-1.5zM475.9 887.7h1.5v1.5h-1.5zM470.5 876.2h1.5v1.5h-1.5zM473.5 872.1h1.5v1.5h-1.5zM464.4 878.8h1.5v1.5h-1.5zM473.7 872.1h1.5v1.5h-1.5zM465.9 860.2h1.5v1.5h-1.5zM478.0 869.5h1.5v1.5h-1.5zM474.0 873.7h1.5v1.5h-1.5zM473.0 876.8h1.5v1.5h-1.5zM470.0 870.0h1.5v1.5h-1.5zM460.0 875.3h1.5v1.5h-1.5zM468.7 867.8h1.5v1.5h-1.5zM477.1 873.3h1.5v1.5h-1.5zM462.2 866.5h1.5v1.5h-1.5zM461.7 874.0h1.5v1.5h-1.5zM462.9 870.1h1.5v1.5h-1.5zM466.4 874.5h1.5v1.5h-1.5zM466.3 871.5h1.5v1.5h-1.5zM467.6 875.8h1.5v1.5h-1.5zM473.7 875.5h1.5v1.5h-1.5zM470.3 870.7h1.5v1.5h-1.5zM473.7 872.8h1.5v1.5h-1.5zM466.2 874.5h1.5v1.5h-1.5zM472.8 872.1h1.5v1.5h-1.5zM468.9 875.0h1.5v1.5h-1.5zM471.0 886.1h1.5v1.5h-1.5zM476.8 880.0h1.5v1.5h-1.5zM472.3 867.0h1.5v1.5h-1.5zM461.9 875.2h1.5v1.5h-1.5zM470.6 869.9h1.5v1.5h-1.5zM460.2 872.6h1.5v1.5h-1.5zM459.8 876.7h1.5v1.5h-1.5zM460.1 872.9h1.5v1.5h-1.5zM471.8 873.7h1.5v1.5h-1.5zM462.8 887.1h1.5v1.5h-1.5zM461.7 877.3h1.5v1.5h-1.5zM461.7 868.1h1.5v1.5h-1.5zM472.0 870.0h1.5v1.5h-1.5zM477.6 866.3h1.5v1.5h-1.5zM482.0 873.9h1.5v1.5h-1.5zM483.9 883.3h1.5v1.5h-1.5zM486.7 879.2h1.5v1.5h-1.5zM484.3 872.5h1.5v1.5h-1.5zM482.0 868.5h1.5v1.5h-1.5zM482.0 864.2h1.5v1.5h-1.5zM487.3 877.2h1.5v1.5h-1.5zM489.6 873.1h1.5v1.5h-1.5zM482.0 872.4h1.5v1.5h-1.5zM481.6 874.1h1.5v1.5h-1.5zM487.7 875.5h1.5v1.5h-1.5zM482.7 873.9h1.5v1.5h-1.5zM483.8 864.6h1.5v1.5h-1.5zM482.2 873.4h1.5v1.5h-1.5zM483.8 867.6h1.5v1.5h-1.5zM482.0 868.3h1.5v1.5h-1.5zM482.3 869.5h1.5v1.5h-1.5zM488.2 865.8h1.5v1.5h-1.5zM488.3 871.9h1.5v1.5h-1.5zM486.6 877.0h1.5v1.5h-1.5zM482.7 872.6h1.5v1.5h-1.5zM488.5 873.6h1.5v1.5h-1.5zM488.5 870.5h1.5v1.5h-1.5zM481.7 874.5h1.5v1.5h-1.5zM485.9 883.5h1.5v1.5h-1.5zM482.7 873.2h1.5v1.5h-1.5zM487.5 878.8h1.5v1.5h-1.5zM482.0 878.2h1.5v1.5h-1.5zM486.4 869.8h1.5v1.5h-1.5zM486.0 872.8h1.5v1.5h-1.5zM486.8 878.5h1.5v1.5h-1.5zM497.3 871.9h1.5v1.5h-1.5zM498.5 868.3h1.5v1.5h-1.5zM496.9 882.4h1.5v1.5h-1.5zM495.8 875.2h1.5v1.5h-1.5zM497.8 874.8h1.5v1.5h-1.5zM500.8 875.9h1.5v1.5h-1.5zM495.2 869.5h1.5v1.5h-1.5zM498.5 871.5h1.5v1.5h-1.5zM501.0 873.2h1.5v1.5h-1.5zM494.4 872.5h1.5v1.5h-1.5zM496.2 871.2h1.5v1.5h-1.5zM498.7 884.6h1.5v1.5h-1.5zM500.1 875.2h1.5v1.5h-1.5zM494.2 877.2h1.5v1.5h-1.5zM499.5 872.3h1.5v1.5h-1.5zM495.3 869.9h1.5v1.5h-1.5zM497.1 861.8h1.5v1.5h-1.5zM500.5 870.7h1.5v1.5h-1.5zM493.7 874.6h1.5v1.5h-1.5zM493.7 873.1h1.5v1.5h-1.5zM496.9 872.6h1.5v1.5h-1.5zM494.2 879.9h1.5v1.5h-1.5zM500.2 878.8h1.5v1.5h-1.5zM499.8 869.8h1.5v1.5h-1.5zM497.2 864.7h1.5v1.5h-1.5zM494.8 861.6h1.5v1.5h-1.5zM497.8 873.1h1.5v1.5h-1.5zM497.3 872.1h1.5v1.5h-1.5zM499.8 873.1h1.5v1.5h-1.5zM497.3 875.5h1.5v1.5h-1.5zM500.6 868.0h1.5v1.5h-1.5zM511.8 881.0h1.5v1.5h-1.5zM510.4 871.1h1.5v1.5h-1.5zM509.6 874.5h1.5v1.5h-1.5zM513.2 874.0h1.5v1.5h-1.5zM508.3 874.8h1.5v1.5h-1.5zM506.2 878.8h1.5v1.5h-1.5zM504.9 868.1h1.5v1.5h-1.5zM510.5 876.6h1.5v1.5h-1.5zM508.4 876.8h1.5v1.5h-1.5zM512.0 871.5h1.5v1.5h-1.5zM510.8 876.1h1.5v1.5h-1.5zM510.1 878.8h1.5v1.5h-1.5zM513.1 873.1h1.5v1.5h-1.5zM513.6 870.1h1.5v1.5h-1.5zM504.0 869.3h1.5v1.5h-1.5zM511.4 869.6h1.5v1.5h-1.5zM513.9 871.8h1.5v1.5h-1.5zM511.6 873.0h1.5v1.5h-1.5zM504.2 873.0h1.5v1.5h-1.5zM505.0 873.2h1.5v1.5h-1.5zM503.8 872.6h1.5v1.5h-1.5zM511.9 874.4h1.5v1.5h-1.5zM510.8 875.3h1.5v1.5h-1.5zM505.5 906.3h1.5v1.5h-1.5zM513.1 872.4h1.5v1.5h-1.5zM505.2 871.4h1.5v1.5h-1.5zM504.5 887.9h1.5v1.5h-1.5zM506.3 870.4h1.5v1.5h-1.5zM507.9 876.5h1.5v1.5h-1.5zM511.8 873.6h1.5v1.5h-1.5zM508.4 872.6h1.5v1.5h-1.5zM513.7 868.7h1.5v1.5h-1.5zM513.5 871.7h1.5v1.5h-1.5zM505.2 873.6h1.5v1.5h-1.5zM506.2 878.3h1.5v1.5h-1.5zM506.4 872.3h1.5v1.5h-1.5zM518.3 870.0h1.5v1.5h-1.5zM527.4 871.9h1.5v1.5h-1.5zM529.3 880.8h1.5v1.5h-1.5zM519.6 876.3h1.5v1.5h-1.5zM529.2 869.0h1.5v1.5h-1.5zM524.9 865.7h1.5v1.5h-1.5zM521.9 869.6h1.5v1.5h-1.5zM529.4 870.9h1.5v1.5h-1.5zM518.2 873.5h1.5v1.5h-1.5zM522.7 874.5h1.5v1.5h-1.5zM528.4 868.1h1.5v1.5h-1.5zM524.9 871.2h1.5v1.5h-1.5zM521.7 869.9h1.5v1.5h-1.5zM523.3 868.8h1.5v1.5h-1.5zM517.4 875.4h1.5v1.5h-1.5zM517.6 871.6h1.5v1.5h-1.5zM521.2 883.1h1.5v1.5h-1.5zM521.8 871.9h1.5v1.5h-1.5zM528.8 877.0h1.5v1.5h-1.5zM517.2 881.0h1.5v1.5h-1.5zM526.9 865.3h1.5v1.5h-1.5zM520.0 875.7h1.5v1.5h-1.5zM527.5 874.2h1.5v1.5h-1.5zM523.3 883.3h1.5v1.5h-1.5zM520.2 859.6h1.5v1.5h-1.5zM529.4 872.6h1.5v1.5h-1.5zM529.3 876.4h1.5v1.5h-1.5zM526.8 875.9h1.5v1.5h-1.5zM519.6 858.8h1.5v1.5h-1.5zM524.9 876.9h1.5v1.5h-1.5zM523.2 872.7h1.5v1.5h-1.5zM529.7 875.2h1.5v1.5h-1.5zM519.0 870.3h1.5v1.5h-1.5zM523.3 869.9h1.5v1.5h-1.5zM521.2 870.2h1.5v1.5h-1.5zM518.4 870.2h1.5v1.5h-1.5zM522.5 876.0h1.5v1.5h-1.5zM519.5 870.2h1.5v1.5h-1.5zM527.3 881.1h1.5v1.5h-1.5zM525.4 870.1h1.5v1.5h-1.5zM526.6 869.8h1.5v1.5h-1.5zM524.2 863.4h1.5v1.5h-1.5zM522.2 873.0h1.5v1.5h-1.5zM517.9 885.6h1.5v1.5h-1.5zM550.6 886.0h1.5v1.5h-1.5zM534.5 865.4h1.5v1.5h-1.5zM546.3 875.9h1.5v1.5h-1.5zM533.5 866.0h1.5v1.5h-1.5zM543.0 872.9h1.5v1.5h-1.5zM544.7 886.3h1.5v1.5h-1.5zM547.0 874.4h1.5v1.5h-1.5zM541.5 873.0h1.5v1.5h-1.5zM533.1 875.4h1.5v1.5h-1.5zM534.3 870.0h1.5v1.5h-1.5zM540.6 881.0h1.5v1.5h-1.5zM542.1 874.5h1.5v1.5h-1.5zM544.9 874.9h1.5v1.5h-1.5zM535.3 873.0h1.5v1.5h-1.5zM538.0 870.7h1.5v1.5h-1.5zM546.1 872.9h1.5v1.5h-1.5zM535.8 871.3h1.5v1.5h-1.5zM548.9 890.3h1.5v1.5h-1.5zM547.7 878.8h1.5v1.5h-1.5zM550.6 870.7h1.5v1.5h-1.5zM547.7 869.5h1.5v1.5h-1.5zM542.6 877.2h1.5v1.5h-1.5zM542.9 869.0h1.5v1.5h-1.5zM540.6 867.7h1.5v1.5h-1.5zM550.4 873.7h1.5v1.5h-1.5zM547.5 870.8h1.5v1.5h-1.5zM534.6 869.8h1.5v1.5h-1.5zM549.0 880.6h1.5v1.5h-1.5zM544.2 871.5h1.5v1.5h-1.5zM547.0 874.2h1.5v1.5h-1.5zM550.8 866.7h1.5v1.5h-1.5zM542.6 872.5h1.5v1.5h-1.5zM540.0 870.2h1.5v1.5h-1.5zM548.9 879.2h1.5v1.5h-1.5zM545.2 871.3h1.5v1.5h-1.5zM546.3 876.1h1.5v1.5h-1.5zM541.3 874.7h1.5v1.5h-1.5zM550.8 882.1h1.5v1.5h-1.5zM546.0 878.8h1.5v1.5h-1.5zM546.7 869.8h1.5v1.5h-1.5zM544.3 873.9h1.5v1.5h-1.5zM544.2 878.6h1.5v1.5h-1.5zM549.5 873.1h1.5v1.5h-1.5zM535.8 877.0h1.5v1.5h-1.5zM539.2 880.5h1.5v1.5h-1.5zM547.3 876.6h1.5v1.5h-1.5zM537.0 875.7h1.5v1.5h-1.5zM545.4 877.2h1.5v1.5h-1.5zM544.7 873.7h1.5v1.5h-1.5zM541.4 878.7h1.5v1.5h-1.5zM539.7 871.0h1.5v1.5h-1.5zM543.0 881.2h1.5v1.5h-1.5zM534.8 879.1h1.5v1.5h-1.5zM550.5 868.1h1.5v1.5h-1.5zM534.3 870.5h1.5v1.5h-1.5zM546.4 882.9h1.5v1.5h-1.5zM548.1 871.0h1.5v1.5h-1.5zM546.9 867.3h1.5v1.5h-1.5zM546.1 873.4h1.5v1.5h-1.5zM546.1 878.2h1.5v1.5h-1.5zM570.2 870.4h1.5v1.5h-1.5zM562.7 871.8h1.5v1.5h-1.5zM567.6 880.7h1.5v1.5h-1.5zM560.0 867.7h1.5v1.5h-1.5zM565.8 876.4h1.5v1.5h-1.5zM559.7 874.4h1.5v1.5h-1.5zM564.2 870.2h1.5v1.5h-1.5zM571.4 876.1h1.5v1.5h-1.5zM562.2 872.5h1.5v1.5h-1.5zM562.1 868.7h1.5v1.5h-1.5zM566.8 875.4h1.5v1.5h-1.5zM563.1 872.2h1.5v1.5h-1.5zM558.0 868.6h1.5v1.5h-1.5zM570.2 869.6h1.5v1.5h-1.5zM561.4 876.0h1.5v1.5h-1.5zM554.8 877.8h1.5v1.5h-1.5zM555.8 873.0h1.5v1.5h-1.5zM555.9 874.0h1.5v1.5h-1.5zM570.0 874.0h1.5v1.5h-1.5zM570.6 874.6h1.5v1.5h-1.5zM564.7 876.8h1.5v1.5h-1.5zM562.2 873.7h1.5v1.5h-1.5zM561.3 875.0h1.5v1.5h-1.5zM558.5 874.1h1.5v1.5h-1.5zM559.6 858.8h1.5v1.5h-1.5zM555.1 864.4h1.5v1.5h-1.5zM567.2 870.1h1.5v1.5h-1.5zM563.2 878.4h1.5v1.5h-1.5zM571.2 877.3h1.5v1.5h-1.5zM562.0 874.6h1.5v1.5h-1.5zM559.7 871.5h1.5v1.5h-1.5zM561.9 871.7h1.5v1.5h-1.5zM568.0 849.9h1.5v1.5h-1.5zM565.9 866.1h1.5v1.5h-1.5zM568.0 869.5h1.5v1.5h-1.5zM565.1 868.1h1.5v1.5h-1.5zM570.6 872.8h1.5v1.5h-1.5zM558.6 877.9h1.5v1.5h-1.5zM559.7 870.2h1.5v1.5h-1.5zM568.8 872.6h1.5v1.5h-1.5zM567.1 867.0h1.5v1.5h-1.5zM555.7 871.7h1.5v1.5h-1.5zM558.3 869.4h1.5v1.5h-1.5zM570.8 871.3h1.5v1.5h-1.5zM555.1 873.9h1.5v1.5h-1.5zM554.8 870.4h1.5v1.5h-1.5zM562.2 867.2h1.5v1.5h-1.5zM570.4 870.6h1.5v1.5h-1.5zM567.7 878.2h1.5v1.5h-1.5zM568.9 875.9h1.5v1.5h-1.5zM561.2 872.6h1.5v1.5h-1.5zM570.2 871.9h1.5v1.5h-1.5zM557.0 874.0h1.5v1.5h-1.5zM570.8 872.7h1.5v1.5h-1.5zM557.4 873.9h1.5v1.5h-1.5zM571.3 871.5h1.5v1.5h-1.5zM575.1 867.5h1.5v1.5h-1.5zM585.6 875.4h1.5v1.5h-1.5zM581.9 866.5h1.5v1.5h-1.5zM577.9 865.3h1.5v1.5h-1.5zM577.7 873.1h1.5v1.5h-1.5zM579.7 869.0h1.5v1.5h-1.5zM583.6 870.3h1.5v1.5h-1.5zM583.9 872.2h1.5v1.5h-1.5zM579.8 876.2h1.5v1.5h-1.5zM575.9 873.2h1.5v1.5h-1.5zM581.1 868.2h1.5v1.5h-1.5zM585.3 874.3h1.5v1.5h-1.5zM575.1 866.6h1.5v1.5h-1.5zM579.6 875.8h1.5v1.5h-1.5zM578.6 872.3h1.5v1.5h-1.5zM586.5 868.6h1.5v1.5h-1.5zM580.5 880.8h1.5v1.5h-1.5zM584.2 871.6h1.5v1.5h-1.5zM579.5 875.6h1.5v1.5h-1.5zM577.8 875.2h1.5v1.5h-1.5zM582.2 871.2h1.5v1.5h-1.5zM585.9 861.4h1.5v1.5h-1.5zM578.5 877.8h1.5v1.5h-1.5zM579.5 883.2h1.5v1.5h-1.5zM580.5 876.6h1.5v1.5h-1.5zM580.6 869.6h1.5v1.5h-1.5zM576.6 883.5h1.5v1.5h-1.5zM581.4 870.2h1.5v1.5h-1.5zM580.5 872.5h1.5v1.5h-1.5zM585.6 872.2h1.5v1.5h-1.5zM582.3 878.9h1.5v1.5h-1.5zM578.3 875.5h1.5v1.5h-1.5zM582.4 864.3h1.5v1.5h-1.5zM577.8 873.6h1.5v1.5h-1.5zM575.8 877.8h1.5v1.5h-1.5zM585.9 871.4h1.5v1.5h-1.5zM574.9 871.4h1.5v1.5h-1.5zM579.9 858.8h1.5v1.5h-1.5zM584.7 864.4h1.5v1.5h-1.5zM586.4 873.8h1.5v1.5h-1.5zM578.5 913.4h1.5v1.5h-1.5zM605.0 875.6h1.5v1.5h-1.5zM598.2 869.2h1.5v1.5h-1.5zM599.1 874.1h1.5v1.5h-1.5zM597.4 871.7h1.5v1.5h-1.5zM589.4 870.1h1.5v1.5h-1.5zM601.9 873.8h1.5v1.5h-1.5zM592.3 872.8h1.5v1.5h-1.5zM596.9 873.1h1.5v1.5h-1.5zM604.4 878.9h1.5v1.5h-1.5zM598.2 871.2h1.5v1.5h-1.5zM596.2 866.5h1.5v1.5h-1.5zM606.7 877.6h1.5v1.5h-1.5zM609.6 871.3h1.5v1.5h-1.5zM596.3 870.6h1.5v1.5h-1.5zM611.0 871.6h1.5v1.5h-1.5zM607.1 875.3h1.5v1.5h-1.5zM599.5 868.2h1.5v1.5h-1.5zM608.0 867.8h1.5v1.5h-1.5zM595.7 872.3h1.5v1.5h-1.5zM605.0 872.5h1.5v1.5h-1.5zM591.3 872.0h1.5v1.5h-1.5zM603.6 882.7h1.5v1.5h-1.5zM597.5 878.8h1.5v1.5h-1.5zM594.3 870.0h1.5v1.5h-1.5zM595.3 881.0h1.5v1.5h-1.5zM603.4 879.5h1.5v1.5h-1.5zM590.8 865.4h1.5v1.5h-1.5zM609.9 877.0h1.5v1.5h-1.5zM592.8 868.7h1.5v1.5h-1.5zM594.7 880.7h1.5v1.5h-1.5zM595.9 875.6h1.5v1.5h-1.5zM606.3 876.0h1.5v1.5h-1.5zM593.4 872.3h1.5v1.5h-1.5zM609.8 872.2h1.5v1.5h-1.5zM598.6 871.5h1.5v1.5h-1.5zM600.5 870.0h1.5v1.5h-1.5zM598.7 861.6h1.5v1.5h-1.5zM592.8 873.3h1.5v1.5h-1.5zM602.1 871.9h1.5v1.5h-1.5zM590.0 876.6h1.5v1.5h-1.5zM592.4 881.0h1.5v1.5h-1.5zM592.4 875.8h1.5v1.5h-1.5zM590.6 877.7h1.5v1.5h-1.5zM600.9 877.0h1.5v1.5h-1.5zM591.1 880.3h1.5v1.5h-1.5zM595.1 879.9h1.5v1.5h-1.5zM610.8 873.2h1.5v1.5h-1.5zM589.6 876.6h1.5v1.5h-1.5zM598.2 873.9h1.5v1.5h-1.5zM606.4 874.8h1.5v1.5h-1.5zM606.8 876.1h1.5v1.5h-1.5zM594.8 871.2h1.5v1.5h-1.5zM590.8 881.2h1.5v1.5h-1.5zM598.8 879.8h1.5v1.5h-1.5zM591.6 872.6h1.5v1.5h-1.5zM610.9 872.5h1.5v1.5h-1.5zM598.0 874.6h1.5v1.5h-1.5zM597.7 874.9h1.5v1.5h-1.5zM605.8 876.3h1.5v1.5h-1.5zM589.4 882.2h1.5v1.5h-1.5zM605.0 866.2h1.5v1.5h-1.5zM597.3 871.4h1.5v1.5h-1.5zM592.8 873.0h1.5v1.5h-1.5zM597.5 869.9h1.5v1.5h-1.5zM605.2 860.5h1.5v1.5h-1.5zM598.3 870.1h1.5v1.5h-1.5zM601.7 871.7h1.5v1.5h-1.5zM602.8 871.1h1.5v1.5h-1.5zM619.4 863.7h1.5v1.5h-1.5zM632.2 871.1h1.5v1.5h-1.5zM625.9 876.0h1.5v1.5h-1.5zM632.2 875.8h1.5v1.5h-1.5zM619.1 880.7h1.5v1.5h-1.5zM619.0 878.7h1.5v1.5h-1.5zM619.3 878.1h1.5v1.5h-1.5zM628.4 871.9h1.5v1.5h-1.5zM623.3 869.9h1.5v1.5h-1.5zM618.0 871.1h1.5v1.5h-1.5zM627.8 870.8h1.5v1.5h-1.5zM629.1 868.8h1.5v1.5h-1.5zM632.2 876.0h1.5v1.5h-1.5zM625.1 874.0h1.5v1.5h-1.5zM627.2 876.2h1.5v1.5h-1.5zM614.4 874.0h1.5v1.5h-1.5zM632.0 875.5h1.5v1.5h-1.5zM623.8 887.4h1.5v1.5h-1.5zM625.0 875.5h1.5v1.5h-1.5zM629.9 870.7h1.5v1.5h-1.5zM620.0 880.5h1.5v1.5h-1.5zM621.1 872.4h1.5v1.5h-1.5zM625.0 867.2h1.5v1.5h-1.5zM626.3 871.1h1.5v1.5h-1.5zM630.3 873.1h1.5v1.5h-1.5zM625.7 880.5h1.5v1.5h-1.5zM628.4 861.1h1.5v1.5h-1.5zM616.5 869.5h1.5v1.5h-1.5zM616.7 870.3h1.5v1.5h-1.5zM615.6 857.8h1.5v1.5h-1.5zM631.5 877.4h1.5v1.5h-1.5zM628.3 873.2h1.5v1.5h-1.5zM629.9 871.1h1.5v1.5h-1.5zM623.6 876.3h1.5v1.5h-1.5zM625.4 863.6h1.5v1.5h-1.5zM616.7 874.5h1.5v1.5h-1.5zM617.0 865.4h1.5v1.5h-1.5zM617.9 873.2h1.5v1.5h-1.5zM618.6 872.9h1.5v1.5h-1.5zM614.4 877.9h1.5v1.5h-1.5zM631.3 867.9h1.5v1.5h-1.5zM629.7 869.2h1.5v1.5h-1.5zM628.8 874.8h1.5v1.5h-1.5zM619.2 870.6h1.5v1.5h-1.5zM631.4 875.7h1.5v1.5h-1.5zM615.2 873.2h1.5v1.5h-1.5zM625.1 874.9h1.5v1.5h-1.5zM626.4 871.9h1.5v1.5h-1.5zM620.7 875.2h1.5v1.5h-1.5zM619.3 873.7h1.5v1.5h-1.5zM617.3 867.1h1.5v1.5h-1.5zM627.0 875.1h1.5v1.5h-1.5zM618.0 877.5h1.5v1.5h-1.5zM624.9 876.1h1.5v1.5h-1.5zM630.5 869.8h1.5v1.5h-1.5zM626.4 869.2h1.5v1.5h-1.5zM619.3 874.6h1.5v1.5h-1.5zM618.9 880.5h1.5v1.5h-1.5zM624.8 863.0h1.5v1.5h-1.5z" fill="#3445a6"/>
<path d="M448.0 904.5h1.5v1.5h-1.5zM444.3 888.3h1.5v1.5h-1.5zM437.7 893.3h1.5v1.5h-1.5zM437.5 882.4h1.5v1.5h-1.5zM443.4 893.1h1.5v1.5h-1.5zM448.2 893.0h1.5v1.5h-1.5zM440.5 895.2h1.5v1.5h-1.5zM445.0 905.9h1.5v1.5h-1.5zM447.5 886.9h1.5v1.5h-1.5zM436.7 895.9h1.5v1.5h-1.5zM448.0 906.1h1.5v1.5h-1.5zM444.9 908.0h1.5v1.5h-1.5zM443.9 892.5h1.5v1.5h-1.5zM438.9 884.5h1.5v1.5h-1.5zM447.9 893.2h1.5v1.5h-1.5zM436.8 897.0h1.5v1.5h-1.5zM444.7 875.6h1.5v1.5h-1.5zM436.6 887.0h1.5v1.5h-1.5zM442.5 887.2h1.5v1.5h-1.5zM447.4 897.7h1.5v1.5h-1.5zM443.7 884.1h1.5v1.5h-1.5zM444.6 882.1h1.5v1.5h-1.5zM443.6 896.1h1.5v1.5h-1.5zM437.5 895.4h1.5v1.5h-1.5zM439.3 891.5h1.5v1.5h-1.5zM446.5 878.5h1.5v1.5h-1.5zM445.6 893.3h1.5v1.5h-1.5zM436.1 887.4h1.5v1.5h-1.5zM444.0 878.0h1.5v1.5h-1.5zM441.1 901.4h1.5v1.5h-1.5zM446.7 894.1h1.5v1.5h-1.5zM439.7 894.0h1.5v1.5h-1.5zM447.6 904.5h1.5v1.5h-1.5zM444.5 894.6h1.5v1.5h-1.5zM438.9 889.5h1.5v1.5h-1.5zM441.2 887.7h1.5v1.5h-1.5zM446.0 901.0h1.5v1.5h-1.5zM436.7 898.0h1.5v1.5h-1.5zM436.9 894.1h1.5v1.5h-1.5zM436.8 884.2h1.5v1.5h-1.5zM437.4 899.4h1.5v1.5h-1.5zM442.8 892.6h1.5v1.5h-1.5zM446.6 894.7h1.5v1.5h-1.5zM439.8 892.5h1.5v1.5h-1.5zM437.4 897.5h1.5v1.5h-1.5zM442.9 895.0h1.5v1.5h-1.5zM435.7 891.7h1.5v1.5h-1.5zM444.5 904.0h1.5v1.5h-1.5zM443.4 883.8h1.5v1.5h-1.5zM437.9 895.1h1.5v1.5h-1.5zM438.9 898.5h1.5v1.5h-1.5zM444.0 892.3h1.5v1.5h-1.5zM446.1 893.7h1.5v1.5h-1.5zM441.0 890.0h1.5v1.5h-1.5zM442.1 908.7h1.5v1.5h-1.5zM438.1 894.5h1.5v1.5h-1.5zM436.1 887.3h1.5v1.5h-1.5zM440.0 912.1h1.5v1.5h-1.5zM445.0 891.4h1.5v1.5h-1.5zM439.1 900.2h1.5v1.5h-1.5zM442.7 887.4h1.5v1.5h-1.5zM447.0 887.3h1.5v1.5h-1.5zM445.1 884.4h1.5v1.5h-1.5zM438.5 893.7h1.5v1.5h-1.5zM437.3 898.5h1.5v1.5h-1.5zM443.3 894.4h1.5v1.5h-1.5zM440.6 911.8h1.5v1.5h-1.5zM436.9 901.4h1.5v1.5h-1.5zM438.1 893.7h1.5v1.5h-1.5zM447.0 887.6h1.5v1.5h-1.5zM438.7 898.4h1.5v1.5h-1.5zM439.6 901.4h1.5v1.5h-1.5zM444.9 903.3h1.5v1.5h-1.5zM446.5 904.5h1.5v1.5h-1.5zM448.1 893.1h1.5v1.5h-1.5zM440.1 879.8h1.5v1.5h-1.5zM438.8 887.8h1.5v1.5h-1.5zM438.8 888.5h1.5v1.5h-1.5zM445.7 895.3h1.5v1.5h-1.5zM437.9 889.0h1.5v1.5h-1.5zM444.9 902.0h1.5v1.5h-1.5zM439.5 900.6h1.5v1.5h-1.5zM445.7 908.2h1.5v1.5h-1.5zM442.7 893.9h1.5v1.5h-1.5zM445.8 899.0h1.5v1.5h-1.5zM436.7 897.5h1.5v1.5h-1.5zM439.1 887.0h1.5v1.5h-1.5zM445.3 903.5h1.5v1.5h-1.5zM438.8 899.7h1.5v1.5h-1.5zM438.9 899.8h1.5v1.5h-1.5zM438.2 894.2h1.5v1.5h-1.5zM441.3 888.4h1.5v1.5h-1.5zM441.9 902.2h1.5v1.5h-1.5zM441.7 890.0h1.5v1.5h-1.5zM442.6 895.4h1.5v1.5h-1.5z" fill="#e02424"/>
<text x="647.70" y="881.00" font-size="15.5" font-weight="bold" font-style="normal" text-anchor="start" fill="#000" >#30</text>
<text x="0" y="0" font-size="15.4" font-weight="bold" text-anchor="middle" transform="translate(39.2 743.8) rotate(-90)">log<tspan font-size="10.5" dy="4.2">2</tspan><tspan dy="-4.2">(H/L)</tspan></text>
</svg>
</body></html>
